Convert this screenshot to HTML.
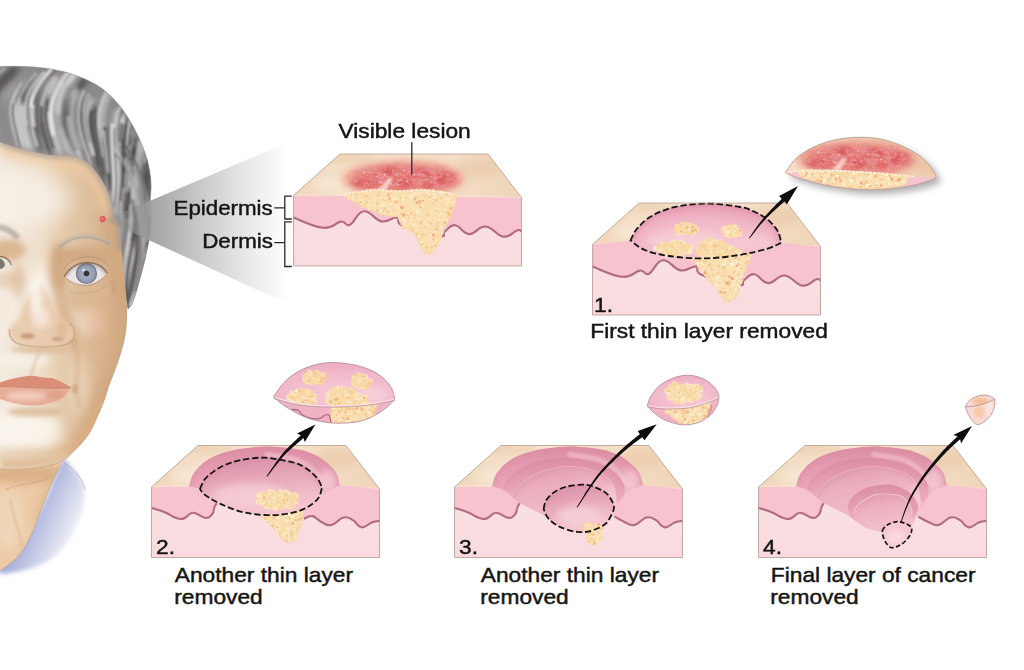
<!DOCTYPE html>
<html><head><meta charset="utf-8"><title>Mohs surgery</title>
<style>
html,body{margin:0;padding:0;background:#fff;}
svg{display:block;}
text{font-family:"Liberation Sans",sans-serif;font-size:20.3px;fill:#151515;}
</style></head><body>
<svg width="1024" height="670" viewBox="0 0 1024 670">
<defs>
<filter id="rough" x="-10%" y="-10%" width="120%" height="120%"><feTurbulence type="fractalNoise" baseFrequency="0.35" numOctaves="2" seed="4" result="n"/><feDisplacementMap in="SourceGraphic" in2="n" scale="4.5" xChannelSelector="R" yChannelSelector="G"/></filter>
<filter id="mottle" x="-10%" y="-20%" width="120%" height="140%"><feGaussianBlur in="SourceGraphic" stdDeviation="3.5" result="m"/><feTurbulence type="fractalNoise" baseFrequency="0.13 0.2" numOctaves="3" seed="11"/><feColorMatrix values="0 0 0 0 0.80  0 0 0 0 0.26  0 0 0 0 0.28  4.5 0 0 0 -1.9"/><feComposite in2="m" operator="in"/><feGaussianBlur stdDeviation="0.7"/></filter>
<filter id="mottle2" x="-10%" y="-20%" width="120%" height="140%"><feGaussianBlur in="SourceGraphic" stdDeviation="2.5" result="m"/><feTurbulence type="fractalNoise" baseFrequency="0.3 0.4" numOctaves="2" seed="3"/><feColorMatrix values="0 0 0 0 0.98  0 0 0 0 0.86  0 0 0 0 0.82  3 0 0 0 -1.85"/><feComposite in2="m" operator="in"/><feGaussianBlur stdDeviation="0.4"/></filter>
<filter id="b05" filterUnits="userSpaceOnUse" x="-300" y="-300" width="1700" height="1300"><feGaussianBlur stdDeviation="0.5"/></filter>
<filter id="b1" filterUnits="userSpaceOnUse" x="-300" y="-300" width="1700" height="1300"><feGaussianBlur stdDeviation="1"/></filter>
<filter id="b15" filterUnits="userSpaceOnUse" x="-300" y="-300" width="1700" height="1300"><feGaussianBlur stdDeviation="1.5"/></filter>
<filter id="b2" filterUnits="userSpaceOnUse" x="-300" y="-300" width="1700" height="1300"><feGaussianBlur stdDeviation="2"/></filter>
<filter id="b3" filterUnits="userSpaceOnUse" x="-300" y="-300" width="1700" height="1300"><feGaussianBlur stdDeviation="3.5"/></filter>
<filter id="b6" filterUnits="userSpaceOnUse" x="-300" y="-300" width="1700" height="1300"><feGaussianBlur stdDeviation="6"/></filter>
<filter id="b10" filterUnits="userSpaceOnUse" x="-300" y="-300" width="1700" height="1300"><feGaussianBlur stdDeviation="10"/></filter>
<linearGradient id="cone" gradientUnits="userSpaceOnUse" x1="105" y1="0" x2="295" y2="0">
<stop offset="0" stop-color="#8a8a8a" stop-opacity=".2"/>
<stop offset=".12" stop-color="#8e8e8e" stop-opacity=".45"/>
<stop offset=".24" stop-color="#9a9a9a" stop-opacity=".9"/>
<stop offset=".5" stop-color="#c6c6c6" stop-opacity=".95"/>
<stop offset=".74" stop-color="#e6e6e6" stop-opacity=".95"/>
<stop offset=".9" stop-color="#f7f7f7" stop-opacity=".9"/>
<stop offset="1" stop-color="#ffffff" stop-opacity="0"/>
</linearGradient>
<linearGradient id="derm" x1="0" y1="0" x2="0" y2="1">
<stop offset="0" stop-color="#f9dfe3"/><stop offset="1" stop-color="#f9dbdf"/>
</linearGradient>
<linearGradient id="tan" gradientUnits="userSpaceOnUse" x1="0" y1="0" x2="228" y2="0">
<stop offset="0" stop-color="#f0d6bb"/><stop offset=".3" stop-color="#f6e5d0"/><stop offset=".7" stop-color="#f3dec6"/><stop offset="1" stop-color="#efd5b9"/>
</linearGradient>
<clipPath id="topclip"><polygon points="47,0 195,0 228.5,43.5 0.5,41.5"/></clipPath>
<marker id="ah" viewBox="0 0 10 10" refX="6" refY="5" markerWidth="4.6" markerHeight="4.6" orient="auto"><path d="M0,0L10,5L0,10L3,5Z" fill="#111"/></marker>

<clipPath id="t0"><path d="M51,40.5C51.8,38.7 61,38.6 66,37.8C71,37 76.2,35.9 81,35.7C85.8,35.5 90.3,36.4 95,36.6C99.7,36.8 103.3,37.1 109,37C114.7,36.9 122.8,35.6 129,35.7C135.2,35.8 140.7,36.8 146,37.5C151.3,38.2 158.2,38.5 161,40.2C163.8,42 163.4,44.4 162.7,48C162,51.6 159.1,57 157,62C154.9,67 151.8,73.6 150,77.8C148.2,82 147.3,84.1 146,87C144.7,89.9 144,92.9 142.3,95C140.6,97.1 138.1,99.5 136,99.8C133.9,100.1 131.5,98.6 129.8,96.6C128.1,94.6 127.3,90.6 126,88C124.7,85.4 123.5,82.9 122,81C120.5,79.1 118.8,77.5 117,76.5C115.2,75.5 112.7,76.1 111,74.7C109.3,73.3 108,69.8 107,68C106,66.2 106.4,64.7 104.7,63.7C103,62.8 99.6,62.8 97,62.3C94.4,61.8 92.9,61.9 89,60.6C85.1,59.3 78.1,56.3 73.4,54.3C68.7,52.3 64.7,50.8 61,48.5C57.3,46.2 50.2,42.3 51,40.5Z"/></clipPath>

<linearGradient id="wall" x1="0" y1="0" x2="0" y2="1">
<stop offset="0" stop-color="#dc8fa6"/><stop offset=".45" stop-color="#e6a0b3"/><stop offset="1" stop-color="#f0b6c4"/>
</linearGradient>
<linearGradient id="floor" x1="0" y1="0" x2="0" y2="1">
<stop offset="0" stop-color="#eca8ba"/><stop offset="1" stop-color="#f5c3ce"/>
</linearGradient>
<linearGradient id="floorB" x1="0.3" y1="0" x2="0.6" y2="1">
<stop offset="0" stop-color="#e09cb0"/><stop offset=".3" stop-color="#ecb0c0"/><stop offset="1" stop-color="#f4c4cf"/>
</linearGradient>
<radialGradient id="floor1" cx=".5" cy=".75" r=".7">
<stop offset="0" stop-color="#f6c9d3"/><stop offset=".6" stop-color="#f2bac8"/><stop offset="1" stop-color="#e9a2b5"/>
</radialGradient>
<linearGradient id="floor2" x1="0.3" y1="0" x2="0.6" y2="1">
<stop offset="0" stop-color="#d98fa6"/><stop offset=".4" stop-color="#e7a9ba"/><stop offset=".8" stop-color="#f2c0cc"/><stop offset="1" stop-color="#f5c8d2"/>
</linearGradient>

<clipPath id="c1"><path d="M38.5,37.5C39.4,35.8 41.2,30.6 44,27C46.8,23.4 50.9,19.1 55.2,15.9C59.5,12.7 64.4,10.2 70,8C75.6,5.8 80.8,4 88.7,2.8C96.6,1.6 107.4,0.4 117.4,0.6C127.4,0.8 140.9,2.6 148.5,4C156.1,5.4 158.6,7 163,9C167.4,11 171.6,13.6 174.8,15.9C178,18.2 180,20.6 182,23C184,25.4 185.6,27.5 186.8,30.3C188,33.1 188.8,38.2 189.2,39.8C186.8,40.8 181.6,43.8 174.8,45.8C168,47.8 158.9,50.2 148.5,51.8C138.1,53.4 124.6,55.2 112.6,55.4C100.6,55.6 86.7,54.4 76.7,53C66.7,51.6 59.2,49.6 52.8,47C46.4,44.4 40.9,39.1 38.5,37.5Z"/></clipPath>
<clipPath id="t1"><path d="M98,54.7C99.4,53.9 106.4,55.5 112.6,55.4C118.8,55.3 127.4,54.8 135,54C142.6,53.2 154.2,50 158,50.5C161.8,51 158,54.9 157.5,57C157,59.1 156.2,59.7 155,63C153.8,66.3 151.5,72.8 150,77C148.5,81.2 147.1,85 146,88C144.9,91 145.3,93.1 143.7,94.9C142.1,96.7 138.6,98.5 136.5,98.8C134.4,99.1 132.6,98.1 131,96.5C129.4,94.9 128.1,90.9 127,89C125.9,87.1 126.1,86.9 124.6,85.3C123.1,83.7 120,81.5 118,79.5C116,77.5 114.3,75.4 112.6,73.3C110.9,71.2 109.4,69.2 108,67C106.6,64.8 105.7,62 104,60C102.3,58 96.6,55.5 98,54.7Z"/></clipPath>
<clipPath id="cO"><path d="M38.3,40.9C38.8,39.2 39.6,34 41,31C42.4,28 44.3,25.6 46.6,23C48.9,20.4 51.8,17.7 55,15.5C58.2,13.3 61.6,11.5 65.8,9.8C70,8.1 75.2,6.5 80,5.3C84.8,4.1 88.1,3.4 94.5,2.7C100.9,2 109.6,0.8 118.4,1C127.2,1.2 140.2,2.8 147.1,3.9C154,5 156,6.2 160,7.8C164,9.4 167.8,11.3 171,13.4C174.2,15.5 177.1,18.1 179.5,20.5C181.9,22.9 183.8,24.6 185.4,27.8C187,31 188.4,37.7 189,39.7L172,48C171,49 169.9,51.3 166.2,54.1C162.4,56.9 156.7,62.3 149.5,64.9C142.3,67.5 132.4,69.2 123.2,69.6C114,70 103.3,69 94.5,67.2C85.7,65.4 77.4,61.9 70.6,58.9C63.8,55.9 57.4,51.9 53.8,49.3C50.2,46.7 49.8,44.3 49,43.3Z"/></clipPath>
<clipPath id="cD2"><path d="M49,43.3C49.8,41.7 51.6,36.5 54,33.5C56.4,30.5 59.9,27.8 63.4,25.4C66.9,23 70.6,20.8 75,19C79.4,17.2 83.3,15.7 89.7,14.6C96.1,13.5 104.8,11.8 113.6,12.2C122.4,12.6 135.7,15.4 142.3,17C148.9,18.6 149.8,19.7 153,21.5C156.2,23.3 159.1,25.6 161.5,27.8C163.9,30 165.9,32.1 167.5,34.5C169.1,36.9 170.4,40.8 171,42.1C170.2,44.1 169.8,50.3 166.2,54.1C162.6,57.9 156.7,62.3 149.5,64.9C142.3,67.5 132.4,69.2 123.2,69.6C114,70 103.3,69 94.5,67.2C85.7,65.4 77.4,61.9 70.6,58.9C63.8,55.9 57.4,51.9 53.8,49.3C50.2,46.7 49.8,44.3 49,43.3Z"/></clipPath>
<clipPath id="t2"><path d="M108.8,70C110.5,69.3 118,70 123.2,69.6C128.4,69.2 135.2,68.3 140,67.5C144.8,66.7 150.1,64.1 151.9,65C153.7,65.9 151.4,70.4 151,73C150.6,75.6 150.1,78.1 149.5,80.4C148.9,82.7 148.1,85 147.5,87C146.9,89 147,90.7 145.9,92.4C144.8,94.1 142.7,96.3 141,97C139.3,97.7 137.2,97.5 135.5,96.8C133.8,96.1 132.2,94.3 131,93C129.8,91.7 129.3,90.6 128,89C126.7,87.4 124.6,85.3 123,83.5C121.4,81.7 120.1,79.7 118.4,78C116.7,76.3 114.6,74.8 113,73.5C111.4,72.2 107.1,70.7 108.8,70Z"/></clipPath>
<clipPath id="cF2"><path d="M57.4,51.7C58.3,50.1 60.4,45 63,42C65.6,39 69.5,36.2 73,33.8C76.5,31.4 80,29.3 84,27.5C88,25.7 91.2,24.1 96.9,23C102.6,21.9 110.8,20.2 118.4,20.6C126,21 137,23.9 142.3,25.4C147.7,26.9 148.1,27.9 150.5,29.5C152.9,31.1 155.1,33.1 156.7,35C158.3,36.9 159.2,39 160,41C160.8,43 161.2,45.9 161.5,46.9L165,70L120,90L84.9,67.2Z"/></clipPath>
<clipPath id="cD3"><path d="M89.7,63.7C90,62.4 90.3,58.4 91.5,56C92.7,53.6 94.8,51.2 96.9,49.3C99,47.4 101.2,45.9 104,44.5C106.8,43.1 108.8,41.8 113.6,40.9C118.4,40 126.8,38.5 132.8,39.3C138.8,40.1 145.7,43.7 149.5,45.7C153.3,47.7 153.9,49.5 155.5,51.5C157.1,53.5 158.3,56 159.1,57.7C159.8,59.5 160,60.6 160,62C160,63.4 159.2,65.3 159.1,66C157.9,68 155.5,74.8 151.9,78C148.3,81.2 142.3,83.8 137.5,85.2C132.7,86.6 128.4,87 123.2,86.4C118,85.8 111.2,83.8 106.4,81.6C101.6,79.4 97.3,76.2 94.5,73.2C91.7,70.2 90.5,65.3 89.7,63.7Z"/></clipPath>
<clipPath id="t3"><path d="M131,78.5C132,77.2 134.5,76.9 136,77C137.5,77.1 138.5,78.8 140,79C141.5,79.2 143.5,77.5 145,78C146.5,78.5 148.7,80.5 149,82C149.3,83.5 147,85.3 147,87C147,88.7 149.3,90.5 149,92C148.7,93.5 146.5,94.8 145,96C143.5,97.2 141.7,99.2 140,99.5C138.3,99.8 136.3,99.1 135,98C133.7,96.9 132.3,94.5 132,93C131.7,91.5 133.3,90.3 133,89C132.7,87.7 130.3,86.8 130,85C129.7,83.2 130,79.8 131,78.5Z"/></clipPath>
<clipPath id="cF3"><path d="M94.5,68.4C95.2,67 97,62.4 99,60C101,57.6 103.9,55.8 106.4,54.1C108.9,52.4 111.2,51 114,50C116.8,49 118.9,48.2 123.2,48.1C127.5,48 135.9,48.5 139.9,49.3C143.9,50.1 145,51.4 147,53C149,54.6 150.7,57.1 151.9,58.9C153.1,60.6 153.6,61.9 154,63.5C154.4,65.1 154.2,67.6 154.3,68.4L156,80L130,92L100,78Z"/></clipPath>
<clipPath id="cD4"><path d="M124.4,85.2C124.8,83.2 126.5,81.7 128,80.4C129.5,79.1 131.5,78.2 133.5,77.5C135.5,76.8 137.6,76 139.9,76.1C142.2,76.2 145.3,77.1 147.5,78C149.7,78.9 152.1,80.3 153.1,81.6C154.1,82.9 153.7,84.6 153.5,86C153.3,87.4 152.9,88.4 151.9,90C150.9,91.6 149.1,93.9 147.5,95.5C145.9,97.1 144,98.5 142.3,99.5C140.6,100.5 139.1,101.2 137.5,101.6C135.9,102 134.3,102.6 132.8,102C131.3,101.4 129.7,99.6 128.5,98C127.3,96.4 126.3,94.5 125.6,92.4C124.9,90.3 124,87.2 124.4,85.2Z"/></clipPath>

<radialGradient id="s2top" cx=".55" cy=".7" r=".8"><stop offset="0" stop-color="#f6cbd8"/><stop offset=".6" stop-color="#f1b9cb"/><stop offset="1" stop-color="#eaa7bd"/></radialGradient>
<linearGradient id="s2side" x1="0" y1="0" x2="0" y2="1"><stop offset="0" stop-color="#f3c0cd"/><stop offset="1" stop-color="#eeb0c1"/></linearGradient>

<clipPath id="s1"><path d="M785.2,172.5C787,170.2 791.9,162.4 796.1,158.4C800.3,154.4 804.9,151.5 810.2,148.7C815.5,145.9 821.9,143.4 827.7,141.7C833.6,139.9 839.4,138.9 845.3,138.2C851.2,137.5 857,137.2 862.9,137.3C868.8,137.5 874.6,137.9 880.5,139.1C886.4,140.3 892.1,142 898,144.3C903.9,146.6 910.6,149.9 915.6,153.1C920.6,156.3 924.7,160.2 927.9,163.7C931.1,167.2 933.7,171.9 935,174.2C936.3,176.5 935.7,177.1 935.8,177.7C934.5,178.3 932.7,179.7 927.9,181.2C923.1,182.7 914.7,185.1 906.8,186.5C898.9,187.9 889.3,189.1 880.5,189.5C871.7,189.9 862.9,189.8 854.1,189.2C845.3,188.5 835.6,187.1 827.7,185.6C819.8,184.1 812.5,182 806.6,180.4C800.8,178.8 796.2,177.3 792.6,176C789,174.7 786.4,173.1 785.2,172.5Z"/></clipPath><clipPath id="s1t"><path d="M785.2,172.5C787,170.2 791.9,162.4 796.1,158.4C800.3,154.4 804.9,151.5 810.2,148.7C815.5,145.9 821.9,143.4 827.7,141.7C833.6,139.9 839.4,138.9 845.3,138.2C851.2,137.5 857,137.2 862.9,137.3C868.8,137.5 874.6,137.9 880.5,139.1C886.4,140.3 892.1,142 898,144.3C903.9,146.6 910.6,149.9 915.6,153.1C920.6,156.3 924.7,160.2 927.9,163.7C931.1,167.2 933.7,171.9 935,174.2C936.3,176.5 935.7,177.1 935.8,177.7C931,177.4 916,176.7 906.8,176C897.6,175.3 890.8,174.1 880.5,173.3C870.2,172.5 857,171.6 845.3,171.1C833.6,170.6 820.2,170.2 810.2,170.4C800.2,170.6 789.4,172.2 785.2,172.5Z"/></clipPath>
<clipPath id="ts1"><path d="M798,171L810.2,170.4L845.3,171.1L880.5,173.3L908.6,176.2L906,184.5L895,186.8L880.5,188.8L854.1,188.5L827.7,184.8L810,180.2L800,176Z"/></clipPath>
<clipPath id="s2"><path d="M273.5,397.2C274.8,395.2 278.3,389.1 281.4,385.5C284.5,381.9 288.2,378.2 292.3,375.3C296.4,372.4 301.4,369.7 306,367.8C310.6,365.9 315.1,364.6 319.7,363.7C324.3,362.8 328.8,362.6 333.4,362.6C337.9,362.6 342.4,363.1 347,363.7C351.6,364.3 356.1,365 360.7,366.4C365.3,367.8 370.3,369.6 374.4,371.9C378.5,374.2 382.3,377.1 385.3,380C388.3,382.9 390.6,386.4 392.2,389.6C393.8,392.8 394.4,397.6 394.9,399.2C393.5,400.6 390.1,404.7 386.7,407.4C383.3,410.1 378.7,413.3 374.4,415.6C370.1,417.9 365.7,419.9 360.7,421.1C355.7,422.4 350,422.9 344.3,423.1C338.6,423.3 332.4,423.3 326.5,422.5C320.6,421.7 314.1,420.1 308.8,418.4C303.6,416.7 299.3,414.5 295,412.2C290.7,409.9 286.4,407.2 282.8,404.7C279.2,402.2 275.1,398.4 273.5,397.2Z"/></clipPath><clipPath id="s2t"><path d="M273.5,397.2C274.8,395.2 278.3,389.1 281.4,385.5C284.5,381.9 288.2,378.2 292.3,375.3C296.4,372.4 301.4,369.7 306,367.8C310.6,365.9 315.1,364.6 319.7,363.7C324.3,362.8 328.8,362.6 333.4,362.6C337.9,362.6 342.4,363.1 347,363.7C351.6,364.3 356.1,365 360.7,366.4C365.3,367.8 370.3,369.6 374.4,371.9C378.5,374.2 382.3,377.1 385.3,380C388.3,382.9 390.6,386.4 392.2,389.6C393.8,392.8 394.4,397.6 394.9,399.2C391.5,399.9 381.2,402.3 374.4,403.3C367.6,404.3 360.7,404.9 353.9,405.4C347.1,405.8 340.2,406 333.4,406C326.6,406 319.8,406 312.9,405.4C306,404.8 298.9,404 292.3,402.6C285.7,401.2 276.6,398.1 273.5,397.2Z"/></clipPath>
<clipPath id="ts2"><path d="M330.6,406L353.9,405.4L377,403L374.4,415.6L360.7,421.1L344.3,423.1L331,422.6Z"/></clipPath>
<clipPath id="s3"><path d="M647.2,405.8C647.8,404.2 648.9,399.6 650.9,396.3C652.9,393 655.8,388.8 659.3,385.9C662.8,382.9 667.6,380.4 671.8,378.6C676,376.9 680.1,375.8 684.3,375.4C688.5,375 692.9,375.4 696.9,376.5C700.9,377.6 705.3,379.6 708.4,381.7C711.5,383.8 714,386.7 715.7,389C717.4,391.3 718.3,393.9 718.8,395.3C719.3,396.7 718.8,397 718.8,397.4C718.6,398.4 719,400.9 717.8,403.7C716.6,406.5 714.3,411.2 711.5,414.1C708.7,417.1 704.8,419.6 701,421.4C697.2,423.1 692.5,424.2 688.5,424.6C684.5,425 681.2,424.9 677,424C672.8,423.1 667.4,421.3 663.4,419.3C659.4,417.3 655.7,414.2 653,412C650.3,409.8 648.2,406.8 647.2,405.8Z"/></clipPath><clipPath id="s3t"><path d="M647.2,405.8C647.8,404.2 648.9,399.6 650.9,396.3C652.9,393 655.8,388.8 659.3,385.9C662.8,382.9 667.6,380.4 671.8,378.6C676,376.9 680.1,375.8 684.3,375.4C688.5,375 692.9,375.4 696.9,376.5C700.9,377.6 705.3,379.6 708.4,381.7C711.5,383.8 714,386.7 715.7,389C717.4,391.3 718.3,393.9 718.8,395.3C719.3,396.7 718.8,397 718.8,397.4C717.1,398.1 712.8,400.1 708.4,401.6C704,403.1 697.9,405.3 692.7,406.3C687.5,407.3 682.2,407.6 677,407.8C671.8,408.1 666.3,408.1 661.3,407.8C656.3,407.5 649.6,406.1 647.2,405.8Z"/></clipPath>
<clipPath id="ts3"><path d="M664.5,408.9C665.3,407.4 672.3,408.2 677,407.8C681.7,407.4 687.1,407.3 692.7,406.3C698.3,405.3 708,400.7 710.5,402C713,403.3 709.6,410.8 708,414C706.4,417.2 704.2,419.6 701,421.4C697.8,423.2 692,424.3 688.5,424.6C685,424.9 682.8,424.3 680,423C677.2,421.7 674.6,419.4 672,417C669.4,414.6 663.7,410.4 664.5,408.9Z"/></clipPath>
<clipPath id="s4"><path d="M965.3,406.6C966,405.6 967.7,402.3 969.4,400.7C971.1,399.1 973.2,397.8 975.4,396.9C977.6,396 980.3,395.2 982.8,395.1C985.3,395 988.3,395.5 990.3,396.2C992.3,396.9 994,398.7 994.8,399.2C994.8,400.1 995.2,402.3 994.8,404.4C994.4,406.5 993.8,409.4 992.5,411.9C991.2,414.4 989.4,417.2 987.3,419.3C985.2,421.4 981.9,423.4 979.9,424.2C977.9,424.9 977,424.9 975.4,423.8C973.8,422.7 971.5,419.9 970.1,417.8C968.7,415.7 967.6,413 966.8,411.1C966,409.2 965.5,407.4 965.3,406.6Z"/></clipPath>

<clipPath id="fclip"><rect x="0" y="0" width="200" height="670"/></clipPath>
<linearGradient id="collar" gradientUnits="userSpaceOnUse" x1="40" y1="500" x2="95" y2="525">
<stop offset="0" stop-color="#aab1da"/><stop offset=".3" stop-color="#c6cbe6"/><stop offset=".65" stop-color="#e6e8f3"/><stop offset="1" stop-color="#ffffff"/>
</linearGradient>
<linearGradient id="skin" gradientUnits="userSpaceOnUse" x1="0" y1="0" x2="130" y2="0">
<stop offset="0" stop-color="#f3ebe0"/><stop offset=".3" stop-color="#efdfcb"/><stop offset=".5" stop-color="#e4c9aa"/><stop offset=".75" stop-color="#dcba96"/><stop offset="1" stop-color="#d2ac86"/>
</linearGradient>
<radialGradient id="iris" cx=".5" cy=".5" r=".5"><stop offset="0" stop-color="#7f8799"/><stop offset=".35" stop-color="#a3acbe"/><stop offset=".8" stop-color="#929bb0"/><stop offset="1" stop-color="#666e82"/></radialGradient>

<clipPath id="neckc"><path d="M0,440C11.7,440 59.9,436 70,440C80.2,444 64.1,456.4 60.9,464C57.7,471.6 54.1,477.9 50.7,485.7C47.3,493.5 44,502.6 40.6,511C37.2,519.5 34.2,528.8 30.4,536.4C26.6,544 22.9,551 17.8,556.7C12.7,562.4 3,568.4 0,570.7Z"/></clipPath>
<clipPath id="facec"><path d="M0,130C18.7,130 92.7,118.3 112,130C131.3,141.7 114.8,184.2 116,200C117.2,215.8 118,216.7 119,225C120,233.3 120.9,241.5 121.8,250C122.7,258.5 123.4,266.8 124.3,276C125.2,285.2 126.7,295.7 126.9,305C127.1,314.3 126.6,324.2 125.6,332C124.6,339.8 122.9,345.3 121,352C119.1,358.7 116.2,366.5 114.2,372C112.2,377.5 110.8,380.2 109.1,385C107.4,389.8 106.1,395.4 104,401C101.9,406.6 98.9,413.2 96.4,418.7C93.9,424.2 92.2,428.8 88.8,433.9C85.4,438.9 80.8,444.4 76.1,449C71.4,453.6 67.2,458.7 60.9,461.8C54.5,464.9 45.6,466.2 38,467.5C30.4,468.8 21.5,469.4 15.2,469.6C8.9,469.8 2.5,468.7 0,468.5Z"/></clipPath>
<clipPath id="eyec"><path d="M65,276C70,266 80,262.5 88,263C98,263.5 104,268 106.5,273.5C100,281 92,285 84,284.5C75,284 69,281 65,276Z"/></clipPath>
<clipPath id="hairc"><path d="M0,66.5C4.2,66.5 16.5,66.1 25,66.5C33.5,66.9 42.2,67.5 50.7,69C59.2,70.5 67.5,72.2 76,75.4C84.5,78.6 93.9,82.5 101.5,88C109.1,93.5 115.9,100.8 121.8,108.4C127.7,116 132.8,125.3 137,133.7C141.2,142.1 144.7,150.9 147,159C149.3,167.1 150.4,174.8 151,182C151.6,189.2 150.3,194.8 150.3,202C150.3,209.2 151.6,216.9 151,225C150.4,233.1 148.7,242.2 147,250.7C145.3,259.2 143.1,267.5 140.8,276C138.5,284.5 135.3,296 133.2,301.5C131.1,307 128.9,307.8 128,309C127.8,307.8 127.5,307 126.9,301.5C126.3,296 125.2,284.5 124.3,276C123.4,267.5 122.7,259.2 121.8,250.7C120.9,242.2 120.3,230.9 119,225C117.7,219.1 115.7,220.1 114,215C112.3,209.9 111.1,200.5 109,194.6C106.9,188.7 104.9,184.5 101.5,179.4C98.1,174.3 93.5,167.8 88.8,164C84.1,160.2 79.9,158.1 73.6,156.6C67.2,155.1 58.8,156.1 50.7,155C42.6,153.9 33.5,152.1 25,150C16.5,147.9 4.2,143.8 0,142.6Z"/></clipPath></defs>
<rect width="1024" height="670" fill="#ffffff"/>
<g clip-path="url(#fclip)"><path d="M62,461C66.5,455.7 69,465.2 72,468C75,470.8 77.9,474.3 80,478C82.1,481.7 84,485 84.5,490C85,495 84.4,501.8 83,508C81.6,514.2 79.2,520.7 76,527C72.8,533.3 68.7,540.3 64,546C59.3,551.7 54.5,557 48,561C41.5,565 33,568 25,570C17,572 4.2,574.7 0,573C-4.2,571.3 -3.3,564.7 0,560C3.3,555.3 12.5,555 20,545C27.5,535 38,514 45,500C52,486 57.5,466.3 62,461Z" fill="url(#collar)" filter="url(#b2)"/><path d="M63,462C75,470 82,478 85,490" fill="none" stroke="#a9a4a8" stroke-width=".6"/><path d="M0,440C11.7,440 59.9,436 70,440C80.2,444 64.1,456.4 60.9,464C57.7,471.6 54.1,477.9 50.7,485.7C47.3,493.5 44,502.6 40.6,511C37.2,519.5 34.2,528.8 30.4,536.4C26.6,544 22.9,551 17.8,556.7C12.7,562.4 3,568.4 0,570.7Z" fill="#edcaa6"/><g clip-path="url(#neckc)"><ellipse cx="25" cy="474" rx="48" ry="9" fill="#d8ae84" opacity=".85" filter="url(#b3)"/><ellipse cx="48" cy="500" rx="8" ry="30" fill="#dcb88f" opacity=".7" filter="url(#b3)" transform="rotate(20 48 500)"/><ellipse cx="8" cy="520" rx="16" ry="30" fill="#f0dcc2" opacity=".7" filter="url(#b6)"/><path d="M5,490C20,482 35,486 52,476" fill="none" stroke="#caa27c" stroke-width="1.2" opacity=".6" filter="url(#b05)"/><path d="M10,500C14,520 20,530 22,548" fill="none" stroke="#d4ae88" stroke-width="2" opacity=".5" filter="url(#b1)"/></g><path d="M60.9,464C59.2,467.6 54.1,477.9 50.7,485.7C47.3,493.5 44,502.6 40.6,511C37.2,519.5 34.2,528.8 30.4,536.4C26.6,544 22.9,551 17.8,556.7C12.7,562.4 3,568.4 0,570.7" fill="none" stroke="#b99a7e" stroke-width=".7" opacity=".8"/><path d="M0,130C18.7,130 92.7,118.3 112,130C131.3,141.7 114.8,184.2 116,200C117.2,215.8 118,216.7 119,225C120,233.3 120.9,241.5 121.8,250C122.7,258.5 123.4,266.8 124.3,276C125.2,285.2 126.7,295.7 126.9,305C127.1,314.3 126.6,324.2 125.6,332C124.6,339.8 122.9,345.3 121,352C119.1,358.7 116.2,366.5 114.2,372C112.2,377.5 110.8,380.2 109.1,385C107.4,389.8 106.1,395.4 104,401C101.9,406.6 98.9,413.2 96.4,418.7C93.9,424.2 92.2,428.8 88.8,433.9C85.4,438.9 80.8,444.4 76.1,449C71.4,453.6 67.2,458.7 60.9,461.8C54.5,464.9 45.6,466.2 38,467.5C30.4,468.8 21.5,469.4 15.2,469.6C8.9,469.8 2.5,468.7 0,468.5Z" fill="url(#skin)"/><g clip-path="url(#facec)"><path d="M0,146C30,152 60,156 80,160C100,168 108,190 114,215" fill="none" stroke="#eec9a2" stroke-width="22" opacity=".8" filter="url(#b6)"/><path d="M112,215C122,260 126,310 120,350C112,390 100,420 80,448" fill="none" stroke="#cfa67e" stroke-width="26" opacity=".75" filter="url(#b6)"/><ellipse cx="100" cy="330" rx="18" ry="40" fill="#d9b38c" opacity=".55" filter="url(#b10)"/><ellipse cx="20" cy="200" rx="50" ry="28" fill="#f7f1e8" opacity=".8" filter="url(#b10)"/><ellipse cx="40" cy="300" rx="9" ry="36" fill="#fbf7f1" opacity=".9" filter="url(#b6)"/><ellipse cx="6" cy="310" rx="14" ry="30" fill="#f5ece0" opacity=".8" filter="url(#b6)"/><ellipse cx="85" cy="320" rx="14" ry="16" fill="#f0dfca" opacity=".7" filter="url(#b6)"/><ellipse cx="20" cy="360" rx="30" ry="9" fill="#f7f0e6" opacity=".8" filter="url(#b3)"/><ellipse cx="25" cy="430" rx="36" ry="20" fill="#faf5ee" opacity=".9" filter="url(#b6)"/><ellipse cx="78" cy="385" rx="10" ry="30" fill="#efdcc6" opacity=".6" filter="url(#b6)"/><ellipse cx="86" cy="256" rx="27" ry="9" fill="#cfa67f" opacity=".85" filter="url(#b3)"/><ellipse cx="90" cy="300" rx="24" ry="12" fill="#d9b38e" opacity=".6" filter="url(#b6)"/><ellipse cx="59" cy="266" rx="9" ry="24" fill="#cfa57c" opacity=".85" filter="url(#b3)"/><ellipse cx="88" cy="292" rx="22" ry="6" fill="#dcb994" opacity=".6" filter="url(#b3)"/><ellipse cx="7" cy="250" rx="19" ry="11" fill="#d8ae86" opacity=".85" filter="url(#b3)"/><ellipse cx="8" cy="280" rx="14" ry="8" fill="#e0bf9c" opacity=".6" filter="url(#b3)"/><ellipse cx="18" cy="280" rx="6" ry="18" fill="#dcbc98" opacity=".6" filter="url(#b3)"/><path d="M62,262C56,285 60,305 68,322C74,332 76,340 72,346" fill="none" stroke="#d2aa84" stroke-width="9" opacity=".7" filter="url(#b3)"/><path d="M9.5,331C9,338 14,343.5 24,344.5C34,346 44,346.5 54,345.5C66,344.5 74,341 74.5,334C74,326 68,320 60,318C50,300 46,290 42,285C30,290 22,305 20,318C14,322 10,326 9.5,331Z" fill="#e9cbae" opacity=".95" filter="url(#b2)"/><ellipse cx="41" cy="318" rx="9" ry="10" fill="#f7e6dc" opacity=".95" filter="url(#b3)"/><ellipse cx="36" cy="296" rx="6" ry="20" fill="#fbf6f0" opacity=".9" filter="url(#b3)"/><ellipse cx="27.5" cy="336" rx="7" ry="2.8" fill="#bf8f70" opacity=".8" filter="url(#b1)"/><ellipse cx="57.5" cy="339" rx="6" ry="2.4" fill="#c4977a" opacity=".7" filter="url(#b1)"/><path d="M9.5,329C8.5,338 14,344 26,345.5C38,347.5 52,347.5 62,345.5C70,344 75.5,340 74.5,332C74,328 72,325 69,323" fill="none" stroke="#c9a07c" stroke-width="1.5" opacity=".75" filter="url(#b05)"/><ellipse cx="40" cy="349.5" rx="30" ry="3.5" fill="#d7b591" opacity=".75" filter="url(#b2)"/><ellipse cx="62" cy="330" rx="6" ry="9" fill="#dcb893" opacity=".7" filter="url(#b2)"/><ellipse cx="98" cy="322" rx="10" ry="14" fill="#e6b79b" opacity=".6" filter="url(#b6)"/><path d="M40,351C36,360 33,368 31,375" fill="none" stroke="#dcc0a2" stroke-width="3" opacity=".6" filter="url(#b1)"/><path d="M73,341C78,352 79,368 76,388C76,396 78,402 80,408" fill="none" stroke="#cda57e" stroke-width="3.5" opacity=".6" filter="url(#b2)"/><path d="M0,382.4C10,379 20,376.5 29.3,375.7C36,375.5 42,378 52.2,378C60,381 66,384 71,387.6C60,388.5 45,388.2 34,387.8C20,387 10,386.6 0,386.6Z" fill="#da8e77"/><path d="M0,386.6C10,386.6 20,387 34,387.8C45,388.2 60,388.5 71,387.6C68,393 64,397.5 56,401C48,404.5 40,405.8 31.3,405.4C20,405 8,402 0,399Z" fill="#e7ae99"/><ellipse cx="26" cy="396" rx="20" ry="4.5" fill="#f3d0c2" opacity=".85" filter="url(#b2)"/><ellipse cx="56" cy="395" rx="9" ry="4" fill="#dc967e" opacity=".6" filter="url(#b2)"/><path d="M0,386.6C10,386.6 20,387 34,387.8C45,388.2 60,388.5 71,387.6" fill="none" stroke="#c47a66" stroke-width="1" opacity=".85" filter="url(#b05)"/><ellipse cx="34" cy="412" rx="27" ry="4.5" fill="#d6b08c" opacity=".7" filter="url(#b2)"/><ellipse cx="75" cy="389" rx="3" ry="5" fill="#c9a07a" opacity=".6" filter="url(#b1)"/><path d="M0,464C30,466 55,460 76,446C90,430 98,413 104,398" fill="none" stroke="#dcae82" stroke-width="11" opacity=".8" filter="url(#b3)"/><ellipse cx="30" cy="455" rx="40" ry="7" fill="#e4c8a8" opacity=".7" filter="url(#b3)"/></g><path d="M65,276C70,266 80,262.5 88,263C98,263.5 104,268 106.5,273.5C100,281 92,285 84,284.5C75,284 69,281 65,276Z" fill="#ebe6e4"/><g clip-path="url(#eyec)"><circle cx="86.5" cy="273.5" r="10.6" fill="url(#iris)"/><circle cx="86.5" cy="273.5" r="2.8" fill="#37323c"/><circle cx="83.5" cy="270" r="1.5" fill="#e8ecf4" opacity=".8"/><path d="M65,276C70,266 80,262.5 88,263C98,263.5 104,268 106.5,273.5" fill="none" stroke="#7a6658" stroke-width="5" opacity=".35" filter="url(#b1)"/></g><path d="M64,277C70,266 80,262 88,262.5C98,263 104.5,267.5 107.5,273.5" fill="none" stroke="#8a6d5a" stroke-width="1.5" opacity=".9"/><path d="M63,270C70,259 82,255.5 92,257C100,258 106,262 109,267" fill="none" stroke="#b08e72" stroke-width="1" opacity=".7" filter="url(#b05)"/><path d="M67,279C74,284.5 82,286 88,285.5C96,284.5 102,280 106.5,274.5" fill="none" stroke="#b89880" stroke-width="1" opacity=".8"/><path d="M70,291C80,295 95,294 106,286" fill="none" stroke="#caa888" stroke-width="1.2" opacity=".6" filter="url(#b05)"/><path d="M109,270C113,276 115,284 114,294M110,280C113,285 113,292 111,298" fill="none" stroke="#bf9a78" stroke-width=".9" opacity=".6"/><g transform="translate(0,-5.5)"><path d="M0,263C4,263 8,265.5 10.5,270C8,273 4,275 0,275Z" fill="#e6e2dc"/><path d="M0,264C3,265 5,268 5,270.5C4,273 2,274.5 0,274.5Z" fill="#7d7966"/><path d="M0,262C4,262 9,264.5 11.5,270.5" fill="none" stroke="#8a6d5a" stroke-width="1.3" opacity=".85"/></g><path d="M58,248C66,240 76,236 86,236C96,236.5 105,240 112,244.5" fill="none" stroke="#b8b3ad" stroke-width="4" opacity=".6" filter="url(#b1)"/><path d="M60,247C68,240 78,237 87,237.5C96,238 104,241 110,244" fill="none" stroke="#9a948e" stroke-width="1.3" opacity=".45" filter="url(#b05)"/><path d="M-2,227C5,227.5 12,231 18,238" fill="none" stroke="#a7a19b" stroke-width="6" opacity=".7" filter="url(#b15)"/><path d="M0,66.5C4.2,66.5 16.5,66.1 25,66.5C33.5,66.9 42.2,67.5 50.7,69C59.2,70.5 67.5,72.2 76,75.4C84.5,78.6 93.9,82.5 101.5,88C109.1,93.5 115.9,100.8 121.8,108.4C127.7,116 132.8,125.3 137,133.7C141.2,142.1 144.7,150.9 147,159C149.3,167.1 150.4,174.8 151,182C151.6,189.2 150.3,194.8 150.3,202C150.3,209.2 151.6,216.9 151,225C150.4,233.1 148.7,242.2 147,250.7C145.3,259.2 143.1,267.5 140.8,276C138.5,284.5 135.3,296 133.2,301.5C131.1,307 128.9,307.8 128,309C127.8,307.8 127.5,307 126.9,301.5C126.3,296 125.2,284.5 124.3,276C123.4,267.5 122.7,259.2 121.8,250.7C120.9,242.2 120.3,230.9 119,225C117.7,219.1 115.7,220.1 114,215C112.3,209.9 111.1,200.5 109,194.6C106.9,188.7 104.9,184.5 101.5,179.4C98.1,174.3 93.5,167.8 88.8,164C84.1,160.2 79.9,158.1 73.6,156.6C67.2,155.1 58.8,156.1 50.7,155C42.6,153.9 33.5,152.1 25,150C16.5,147.9 4.2,143.8 0,142.6Z" fill="#8c8a8a"/><g clip-path="url(#hairc)"><g fill="none" filter="url(#b2)" stroke-linecap="round"><path d="M44,86.8C43.6,87.6 42.3,90 41.5,91.6C40.8,93.2 40.1,94.8 39.5,96.4C39,98.1 38.5,99.7 38.1,101.4C37.7,103.1 37.4,104.8 37.2,106.5C37,108.3 36.9,110 36.9,111.8C36.8,113.6 36.9,115.4 37,117.2C37.2,119 37.4,120.9 37.6,122.7C37.9,124.6 38.3,126.5 38.7,128.3C39,130.2 39.8,133.1 40,134" stroke="#444142" stroke-width="4.9" opacity="0.41"/><path d="M107.4,96C107.1,96.6 106.1,98.3 105.6,99.6C105,100.8 104.6,102.1 104.2,103.4C103.7,104.8 103.4,106.1 103.1,107.5C102.8,108.9 102.5,110.3 102.3,111.7C102.1,113.2 101.9,114.7 101.8,116.1C101.7,117.6 101.6,119.1 101.6,120.7C101.6,122.2 101.6,123.8 101.6,125.4C101.7,127 101.8,128.6 101.9,130.2C102.1,131.9 102.4,134.4 102.5,135.2" stroke="#f2f2f2" stroke-width="6.6" opacity="0.41"/><path d="M145.7,154.5C145.4,155.3 144.6,157.5 144.1,159.3C143.7,161.2 143.3,163.5 143,165.8C142.6,168 142.2,170.5 141.8,173C141.3,175.5 140.9,178.1 140.4,180.7C139.9,183.4 139.4,186.2 138.9,188.9C138.4,191.7 137.8,194.6 137.3,197.4C136.8,200.3 136.3,203.1 135.9,205.9C135.5,208.8 135.2,211.6 134.8,214.6C134.4,217.6 133.8,222.1 133.6,223.6" stroke="#5f5c5d" stroke-width="6.7" opacity="0.72"/><path d="M148,190C147.5,191.9 145.7,197.5 144.8,201.5C143.9,205.5 143.2,209.9 142.4,214.3C141.7,218.6 141.2,223.2 140.3,227.7C139.4,232.3 138.3,237 137.3,241.6C136.3,246.3 135.1,250.9 134.1,255.6C133.1,260.3 132.2,265 131.3,269.6C130.5,274.3 129.8,279 129.3,283.6C128.7,288.3 128.3,295.2 128.1,297.5" stroke="#5f5c5d" stroke-width="7.7" opacity="0.61"/><path d="M137.1,242C136.7,243.7 135.5,248.8 134.8,252.2C134.1,255.6 133.3,259 132.7,262.4C132,265.8 131.3,269.2 130.8,272.6C130.2,276 129.7,279.4 129.3,282.8C128.9,286.2 128.6,289.6 128.3,292.9C128.1,296.3 128,301.3 127.9,303" stroke="#444142" stroke-width="7.6" opacity="0.69"/><path d="M124.1,148.4C124,149.2 124,151.5 124,153.1C124,154.7 124,156.3 124,157.9C124,159.6 124,161.2 124,162.9C124,164.6 124,166.4 123.9,168.1C123.9,169.9 123.9,171.7 123.8,173.5C123.8,175.3 123.7,177.1 123.6,179C123.5,180.9 123.4,182.8 123.3,184.7C123.1,186.6 122.9,188.5 122.7,190.5C122.5,192.4 122.1,195.4 122,196.4" stroke="#5a5657" stroke-width="6.1" opacity="0.71"/><path d="M-23.7,76C-24.6,76.8 -27.4,79 -29.1,80.4C-30.8,81.9 -32.5,83.3 -34.1,84.7C-35.6,86.1 -37.1,87.6 -38.5,89C-39.8,90.4 -41.1,91.7 -42.3,93.1C-43.4,94.5 -44.4,95.9 -45.4,97.2C-46.3,98.6 -47.1,100 -47.7,101.3C-48.4,102.7 -49,104 -49.4,105.4C-49.9,106.7 -50.2,108.1 -50.4,109.4C-50.6,110.8 -50.7,112.8 -50.8,113.5" stroke="#676464" stroke-width="7.3" opacity="0.80"/><path d="M58,82.2C57.3,83.5 54.9,87.2 53.6,89.8C52.3,92.4 51.3,95 50.5,97.7C49.6,100.4 49,103.1 48.7,105.9C48.3,108.7 48.1,111.6 48.2,114.5C48.3,117.4 48.6,120.3 49,123.3C49.4,126.3 50,129.4 50.8,132.4C51.5,135.4 52.4,138.4 53.3,141.4C54.2,144.3 55.4,147.2 56.2,149.9C57.1,152.5 58.1,156.1 58.4,157.3" stroke="#e9e9e9" stroke-width="9.8" opacity="0.76"/><path d="M135.3,293.4C135,294.3 134.1,296.8 133.3,298.6C132.6,300.5 131.4,303.4 131,304.4" stroke="#4f4b4d" stroke-width="9.7" opacity="0.57"/><path d="M135,208.2C134.8,209.7 134.3,214.2 133.9,217.2C133.5,220.3 133.1,223.4 132.6,226.6C132.1,229.7 131.6,232.8 131.1,236C130.6,239.1 129.9,242.3 129.4,245.4C128.8,248.6 128.3,251.7 127.8,254.8C127.4,258 126.9,261.1 126.5,264.2C126.2,267.3 125.9,270.4 125.6,273.5C125.4,276.6 125.3,279.7 125.2,282.7C125.1,285.6 125.2,289.8 125.2,291.3" stroke="#e9e9e9" stroke-width="8.2" opacity="0.54"/><path d="M119,124.4C118.9,125.3 118.6,127.8 118.5,129.6C118.4,131.4 118.3,133.3 118.2,135.2C118.1,137.1 118.1,139.1 118.1,141.1C118.1,143.1 118.1,145.2 118.1,147.3C118.2,149.4 118.2,151.6 118.3,153.8C118.3,156 118.4,158.3 118.5,160.6C118.6,162.9 118.7,165.2 118.8,167.6C118.8,170 118.9,172.4 118.9,174.9C118.9,177.4 118.9,181.2 118.8,182.5" stroke="#e9e9e9" stroke-width="8.7" opacity="0.74"/><path d="M128.4,135.6C128.4,136.5 128.1,139.1 127.9,140.9C127.8,142.7 127.7,144.6 127.6,146.5C127.5,148.4 127.4,150.4 127.4,152.4C127.3,154.5 127.3,156.5 127.2,158.6C127.1,160.8 127.1,162.9 127,165.1C127,167.4 126.9,169.6 126.8,171.9C126.7,174.2 126.6,176.6 126.4,179C126.3,181.4 126,183.8 125.8,186.3C125.5,188.8 124.9,192.6 124.8,193.9" stroke="#c4c3c3" stroke-width="8.1" opacity="0.44"/><path d="M36.9,84.3C36.5,85 35.1,87 34.3,88.4C33.5,89.8 32.8,91.2 32.1,92.6C31.5,94.1 30.9,95.5 30.4,96.9C29.9,98.4 29.5,99.8 29.2,101.3C28.8,102.8 28.6,104.3 28.4,105.8C28.2,107.3 28.1,108.9 28,110.5C28,112 28,113.6 28.1,115.2C28.2,116.9 28.3,118.5 28.5,120.2C28.7,121.9 29.1,124.5 29.3,125.3" stroke="#5a5657" stroke-width="7.4" opacity="0.48"/><path d="M-7.6,94.3C-8.1,95.2 -9.6,98 -10.3,99.8C-11,101.7 -11.6,103.5 -11.9,105.4C-12.3,107.2 -12.5,109 -12.6,110.9C-12.7,112.8 -12.6,114.6 -12.5,116.5C-12.3,118.4 -12,120.3 -11.6,122.2C-11.2,124.1 -10.7,126 -10.2,127.9C-9.6,129.9 -9,131.8 -8.4,133.8C-7.8,135.8 -6.8,137.9 -6.6,139.8C-6.4,141.8 -7.1,144.6 -7.2,145.6" stroke="#e9e9e9" stroke-width="8" opacity="0.52"/><path d="M142.7,256.3C142.2,257.7 140.6,262.1 139.6,265.1C138.6,268.2 137.6,271.3 136.7,274.5C135.8,277.7 134.9,280.9 134.1,284.2C133.2,287.4 132.5,290.8 131.7,294.1C131,297.4 129.9,302.4 129.6,304" stroke="#e9e9e9" stroke-width="9.4" opacity="0.74"/><path d="M141.5,272.6C141,273.9 139.3,277.6 138.1,280.7C137,283.9 135.7,287.6 134.6,291.3C133.4,295 131.5,300.9 130.9,302.8" stroke="#5a5657" stroke-width="7.1" opacity="0.45"/><path d="M81.4,113.2C81.4,114.2 81.3,117.3 81.5,119.3C81.6,121.4 81.8,123.5 82.1,125.5C82.4,127.6 82.8,129.7 83.2,131.7C83.7,133.8 84.2,135.8 84.8,137.9C85.4,140.1 86.1,142.2 86.8,144.4C87.5,146.6 88.3,148.8 89,151.2C89.7,153.5 90.5,155.9 91.1,158.4C91.8,160.9 92.6,163.7 92.9,166.1C93.3,168.5 93.3,171.8 93.3,173" stroke="#5a5657" stroke-width="6.4" opacity="0.48"/><path d="M147.8,168.8C147.7,169.5 147.1,171.5 146.7,173C146.4,174.4 146,176 145.6,177.7C145.3,179.3 144.9,181 144.5,182.7C144.2,184.5 143.8,186.3 143.4,188.1C143,189.9 142.5,191.8 142.1,193.6C141.7,195.5 141.2,197.4 140.8,199.3C140.4,201.2 140.1,203 139.8,204.9C139.5,206.9 139.1,208.8 138.8,210.8C138.5,212.8 138.1,215.9 137.9,216.9" stroke="#e9e9e9" stroke-width="7.9" opacity="0.61"/><path d="M123.8,169.7C123.8,170.9 123.7,174.5 123.6,177C123.5,179.4 123.4,182 123.2,184.5C123,187.1 122.7,189.7 122.4,192.4C122.1,195 121.7,197.7 121.3,200.3C121,203 120.5,205.7 120.4,208.3C120.2,210.9 120.3,213.4 120.4,215.9C120.5,218.4 121,220.8 121,223.3C120.9,225.9 120.5,228.7 120.2,231.2C119.9,233.6 119.2,236.9 119,238" stroke="#5f5c5d" stroke-width="6.2" opacity="0.53"/><path d="M-13.2,107C-13.3,107.7 -13.6,109.8 -13.6,111.2C-13.7,112.5 -13.6,113.9 -13.5,115.3C-13.4,116.7 -13.3,118.1 -13.1,119.5C-12.8,120.9 -12.5,122.3 -12.2,123.7C-11.9,125.2 -11.5,126.6 -11.1,128C-10.7,129.5 -10.3,130.9 -9.9,132.4C-9.4,133.8 -9,135.3 -8.5,136.8C-8,138.3 -7.2,139.8 -7.1,141.2C-7.1,142.7 -8,144.8 -8.2,145.5" stroke="#444142" stroke-width="5.5" opacity="0.55"/><path d="M146.2,174.7C145.9,175.8 145.2,179.1 144.7,181.5C144.1,183.9 143.6,186.4 143,188.9C142.5,191.5 141.8,194.1 141.3,196.7C140.7,199.3 140.2,201.9 139.8,204.5C139.3,207.2 138.8,210 138.4,212.7C138,215.5 137.6,218.3 137.2,221.2C136.8,224 136.4,226.9 135.9,229.7C135.4,232.6 134.8,235.5 134.2,238.4C133.7,241.3 132.8,245.6 132.5,247.1" stroke="#5f5c5d" stroke-width="7" opacity="0.50"/><path d="M88.5,77.7C87.9,78.6 86.1,81.1 84.9,82.8C83.8,84.5 82.6,86.2 81.6,88C80.6,89.8 79.8,91.7 79,93.6C78.2,95.5 77.6,97.4 77,99.4C76.5,101.4 76,103.4 75.7,105.4C75.4,107.4 75.1,109.5 75,111.6C74.9,113.6 74.9,115.7 75,117.8C75.1,119.9 75.3,122.1 75.6,124.2C75.9,126.3 76.5,129.4 76.7,130.4" stroke="#5a5657" stroke-width="7.1" opacity="0.45"/><path d="M-8.1,81.2C-8.5,81.7 -10,83.2 -10.9,84.1C-11.9,85.1 -12.7,86.1 -13.6,87.1C-14.4,88 -15.2,89 -16,89.9C-16.7,90.9 -17.4,91.8 -18.1,92.8C-18.8,93.7 -19.4,94.7 -20,95.6C-20.5,96.6 -21,97.5 -21.5,98.5C-22,99.4 -22.4,100.4 -22.8,101.3C-23.2,102.3 -23.5,103.2 -23.8,104.1C-24.1,105.1 -24.4,106.5 -24.5,107" stroke="#c4c3c3" stroke-width="4.7" opacity="0.44"/><path d="M125.3,127.3C125.1,128.1 124.8,130.6 124.6,132.3C124.4,134 124.3,135.8 124.1,137.6C124,139.5 123.9,141.4 123.8,143.3C123.8,145.2 123.7,147.2 123.7,149.3C123.7,151.3 123.7,153.4 123.7,155.5C123.7,157.6 123.7,159.8 123.7,162C123.7,164.2 123.7,166.5 123.7,168.8C123.6,171.1 123.6,173.5 123.5,175.9C123.4,178.3 123.2,182 123.1,183.2" stroke="#cfcfcf" stroke-width="4.7" opacity="0.71"/><path d="M140.4,148C140.3,148.8 139.8,151.2 139.5,152.9C139.3,154.7 139.1,156.6 138.8,158.5C138.6,160.4 138.4,162.4 138.2,164.5C137.9,166.5 137.7,168.7 137.4,170.9C137.2,173 136.9,175.3 136.6,177.5C136.2,179.8 135.9,182.2 135.5,184.5C135.1,186.9 134.7,189.3 134.3,191.7C133.9,194.2 133.4,196.7 133,199.1C132.6,201.5 132.2,205.2 132,206.4" stroke="#dedede" stroke-width="7" opacity="0.68"/><path d="M144,149.3C143.7,150.4 142.6,153.1 142.1,155.6C141.6,158 141.2,161 140.8,164C140.4,167 140,170.2 139.5,173.5C139,176.8 138.4,180.3 137.8,183.8C137.2,187.3 136.5,191 135.9,194.6C135.3,198.3 134.6,201.9 134.1,205.6C133.6,209.3 133.4,213 132.9,216.8C132.5,220.6 131.9,224.5 131.4,228.4C130.8,232.3 129.7,238.3 129.4,240.2" stroke="#c4c3c3" stroke-width="9.4" opacity="0.46"/><path d="M12.5,73.6C11.9,74.2 10,76 8.8,77.2C7.6,78.4 6.4,79.6 5.3,80.8C4.2,82 3.2,83.2 2.1,84.4C1.1,85.6 0.2,86.8 -0.7,88C-1.6,89.2 -2.4,90.4 -3.2,91.6C-3.9,92.8 -4.6,93.9 -5.2,95.1C-5.8,96.3 -6.4,97.5 -6.9,98.7C-7.4,99.9 -7.8,101 -8.1,102.2C-8.5,103.4 -8.9,105.2 -9,105.8" stroke="#4f4b4d" stroke-width="9.2" opacity="0.62"/><path d="M27.9,110C27.9,110.8 27.8,113.2 27.9,114.9C28,116.5 28.1,118.2 28.3,119.9C28.5,121.7 28.8,123.5 29.1,125.2C29.4,127 29.7,128.8 30.1,130.6C30.5,132.3 31,134.1 31.4,135.9C31.9,137.7 32.4,139.5 32.9,141.3C33.4,143 33.9,144.8 34.4,146.6C34.9,148.3 35.8,150.2 35.9,151.8C36.1,153.5 35.5,155.8 35.4,156.6" stroke="#dedede" stroke-width="7.6" opacity="0.50"/><path d="M137.8,279C137.5,279.8 136.7,282.2 136.2,283.8C135.7,285.5 135.2,287.2 134.7,288.9C134.2,290.5 133.7,292.3 133.2,294C132.7,295.7 132.2,297.5 131.7,299.3C131.2,301 130.4,303.6 130.1,304.5" stroke="#5a5657" stroke-width="9.2" opacity="0.56"/><path d="M-35.9,97.6C-36.3,98.2 -37.4,100.1 -38.1,101.4C-38.7,102.7 -39.2,103.9 -39.6,105.2C-40,106.5 -40.3,107.7 -40.6,109C-40.8,110.3 -41,111.5 -41,112.8C-41.1,114.1 -41.1,115.4 -41,116.6C-41,117.9 -40.8,119.2 -40.6,120.5C-40.4,121.8 -40.2,123.1 -39.9,124.4C-39.6,125.7 -39.3,127 -38.9,128.3C-38.6,129.6 -38,131.6 -37.8,132.2" stroke="#676464" stroke-width="5.3" opacity="0.65"/><path d="M133.8,269.7C133.6,270.8 132.9,274.2 132.4,276.4C132,278.7 131.5,281 131.2,283.2C130.8,285.5 130.4,287.8 130.1,290C129.8,292.3 129.5,294.6 129.3,296.8C129,299 128.7,302.4 128.6,303.5" stroke="#676464" stroke-width="4.7" opacity="0.58"/><path d="M145.4,150.4C145,151 144,152.5 143.4,154.1C142.9,155.7 142.6,157.9 142.3,160C141.9,162.2 141.6,164.5 141.3,166.9C140.9,169.3 140.5,171.8 140.1,174.3C139.7,176.9 139.3,179.6 138.8,182.3C138.4,185 137.8,187.8 137.3,190.6C136.8,193.4 136.2,196.3 135.7,199.2C135.3,202 135,204.8 134.6,207.7C134.2,210.5 133.7,215 133.5,216.4" stroke="#5a5657" stroke-width="9.4" opacity="0.43"/><path d="M148.1,227.3C147.7,228.4 146.6,231.8 145.9,234.2C145.1,236.6 144.3,239.2 143.5,241.7C142.8,244.3 141.9,246.9 141.1,249.5C140.4,252.2 139.6,254.9 138.8,257.6C138,260.3 137.3,263.1 136.5,265.8C135.8,268.6 135.1,271.4 134.4,274.2C133.7,277 133.1,279.8 132.5,282.6C131.9,285.4 131.4,288.2 130.9,291.1C130.5,293.9 129.8,298.1 129.6,299.5" stroke="#676464" stroke-width="5.1" opacity="0.78"/><path d="M143.8,209.1C143.7,210.3 143.1,213.8 142.7,216.2C142.3,218.7 142,221.1 141.6,223.6C141.2,226.1 140.7,228.6 140.2,231.2C139.7,233.7 139,236.2 138.5,238.8C137.9,241.3 137.2,243.9 136.6,246.5C136,249 135.4,251.6 134.9,254.2C134.3,256.8 133.8,259.4 133.2,261.9C132.7,264.5 132.2,267.1 131.7,269.7C131.3,272.2 130.6,276.1 130.4,277.4" stroke="#4f4b4d" stroke-width="5.5" opacity="0.76"/><path d="M108.7,128.8C108.7,129.6 108.8,132 108.9,133.6C108.9,135.2 109,136.9 109.1,138.6C109.2,140.4 109.4,142.1 109.5,143.9C109.6,145.7 109.8,147.5 109.9,149.4C110.1,151.3 110.2,153.2 110.4,155.1C110.5,157 110.7,159 110.9,161C111.1,163 111.2,165 111.4,167.1C111.6,169.1 111.7,171.2 111.9,173.2C112,175.3 112.2,178.5 112.2,179.6" stroke="#4f4b4d" stroke-width="8.4" opacity="0.44"/><path d="M-25.8,85.5C-26.8,86.6 -30,89.8 -31.8,91.9C-33.6,94 -35.1,96.1 -36.4,98.2C-37.6,100.3 -38.6,102.4 -39.3,104.4C-40.1,106.5 -40.6,108.6 -40.8,110.6C-41.1,112.7 -41.1,114.8 -41,116.9C-40.9,119 -40.6,121.1 -40.2,123.2C-39.7,125.3 -39.2,127.4 -38.6,129.6C-38,131.7 -36.8,133.9 -36.6,136C-36.5,138.2 -37.3,141.3 -37.4,142.4" stroke="#f2f2f2" stroke-width="5" opacity="0.45"/><path d="M131.1,291C130.9,292.5 130.2,296.8 129.8,299.5C129.3,302.3 128.5,306.3 128.3,307.7" stroke="#5f5c5d" stroke-width="6.2" opacity="0.76"/><path d="M136.4,230.4C136.1,232 135.2,236.7 134.5,239.8C133.9,242.9 133.2,246.1 132.6,249.2C132,252.3 131.3,255.5 130.8,258.6C130.2,261.8 129.7,264.9 129.2,268C128.8,271.1 128.4,274.3 128,277.4C127.7,280.5 127.5,283.6 127.3,286.7C127.1,289.8 127,292.8 127,295.9C127,298.9 127.3,303.5 127.4,305" stroke="#dedede" stroke-width="7.4" opacity="0.58"/><path d="M137.2,236.9C136.8,238.5 135.7,243.5 135,246.8C134.2,250.2 133.5,253.5 132.8,256.9C132.2,260.2 131.5,263.5 130.9,266.9C130.4,270.2 129.8,273.5 129.4,276.9C129,280.2 128.6,283.5 128.3,286.8C128,290.1 127.8,293.4 127.7,296.7C127.6,299.9 127.8,304.7 127.8,306.4" stroke="#cfcfcf" stroke-width="4.6" opacity="0.65"/><path d="M17.1,68.9C16,69.8 12.8,72.6 10.8,74.5C8.9,76.4 6.9,78.3 5.1,80.2C3.4,82.1 1.7,84 0.2,85.9C-1.4,87.8 -2.7,89.7 -3.9,91.5C-5.2,93.4 -6.2,95.3 -7.1,97.1C-7.9,99 -8.6,100.9 -9.2,102.7C-9.7,104.6 -10.1,106.5 -10.3,108.3C-10.5,110.2 -10.5,112.1 -10.4,114C-10.4,115.9 -9.9,118.7 -9.8,119.7" stroke="#5a5657" stroke-width="8.6" opacity="0.54"/><path d="M-49.5,103.4C-49.7,103.9 -50.3,105.7 -50.6,106.9C-50.9,108 -51.2,109.2 -51.3,110.4C-51.5,111.5 -51.5,112.7 -51.5,113.9C-51.5,115 -51.5,116.2 -51.3,117.4C-51.2,118.6 -51,119.8 -50.8,120.9C-50.6,122.1 -50.3,123.3 -50,124.5C-49.7,125.7 -49.3,126.9 -48.9,128.1C-48.6,129.3 -48.2,130.5 -47.8,131.8C-47.4,133 -46.7,134.8 -46.5,135.4" stroke="#c4c3c3" stroke-width="7.1" opacity="0.43"/><path d="M-44.8,87.6C-45.7,88.6 -48.6,91.4 -50.1,93.3C-51.6,95.2 -53,97 -54,98.9C-55.1,100.7 -56,102.5 -56.6,104.4C-57.2,106.2 -57.6,108 -57.8,109.9C-58,111.7 -58,113.5 -57.8,115.4C-57.7,117.2 -57.3,119 -56.8,120.9C-56.4,122.8 -55.8,124.6 -55.1,126.5C-54.5,128.4 -53.7,130.3 -53,132.2C-52.4,134.1 -51.5,137 -51.1,138" stroke="#c4c3c3" stroke-width="9.4" opacity="0.69"/><path d="M48.6,96.8C48.4,97.9 47.4,101.2 47,103.4C46.5,105.7 46.3,108 46.2,110.3C46.1,112.6 46.1,114.9 46.2,117.3C46.4,119.7 46.7,122.1 47.1,124.5C47.5,127 48,129.4 48.6,131.9C49.2,134.3 49.8,136.8 50.6,139.2C51.3,141.7 52.1,144.1 52.8,146.4C53.6,148.7 54.8,151 55.3,153.1C55.8,155.2 55.8,158.1 55.9,159" stroke="#4f4b4d" stroke-width="5.7" opacity="0.47"/><path d="M135.9,278.1C135.5,279.4 134.4,283.4 133.7,286.1C133,288.8 132.4,291.5 131.8,294.2C131.2,297 130.3,301.1 130,302.4" stroke="#cfcfcf" stroke-width="5.8" opacity="0.42"/><path d="M139.2,204.6C139,205.7 138.5,208.9 138.1,211.1C137.8,213.3 137.5,215.6 137.2,217.8C136.9,220.1 136.6,222.3 136.2,224.6C135.9,226.9 135.5,229.2 135.1,231.5C134.7,233.8 134.2,236.1 133.8,238.4C133.3,240.7 132.8,243 132.4,245.3C131.9,247.6 131.5,249.9 131,252.2C130.6,254.6 130.2,256.9 129.8,259.2C129.4,261.5 128.9,264.9 128.7,266.1" stroke="#e9e9e9" stroke-width="6" opacity="0.72"/><path d="M123.7,158.1C123.7,159.4 123.7,163.4 123.7,166.1C123.6,168.9 123.6,171.7 123.5,174.6C123.4,177.5 123.3,180.5 123.1,183.5C122.9,186.5 122.5,189.6 122.2,192.7C121.8,195.8 121.3,199 121,202.1C120.6,205.3 120.1,208.5 120.1,211.5C120,214.5 120.8,217.1 120.8,220.1C120.9,223.1 120.6,226.4 120.3,229.3C120,232.2 119.2,236.2 119,237.5" stroke="#c4c3c3" stroke-width="6.4" opacity="0.59"/><path d="M137.8,280.5C137.2,282.4 135.4,288 134.1,291.9C132.9,295.8 131,302 130.4,304" stroke="#dedede" stroke-width="8.4" opacity="0.41"/><path d="M-25.3,80.6C-25.9,81.1 -27.7,82.7 -28.8,83.7C-30,84.7 -31.1,85.7 -32.1,86.7C-33.2,87.7 -34.2,88.7 -35.1,89.7C-36.1,90.7 -37,91.7 -37.8,92.7C-38.6,93.7 -39.4,94.7 -40.1,95.6C-40.9,96.6 -41.5,97.6 -42.1,98.6C-42.7,99.5 -43.3,100.5 -43.8,101.5C-44.3,102.4 -44.7,103.4 -45.1,104.4C-45.4,105.3 -45.8,106.8 -46,107.3" stroke="#e9e9e9" stroke-width="10" opacity="0.40"/><path d="M138.7,225.2C138.5,226.3 138,229.4 137.6,231.5C137.2,233.6 136.7,235.7 136.3,237.8C135.8,239.9 135.3,242 134.9,244.1C134.4,246.2 134,248.3 133.5,250.5C133.1,252.6 132.6,254.7 132.2,256.8C131.8,258.9 131.4,261 131.1,263.2C130.7,265.3 130.3,267.4 130,269.5C129.7,271.6 129.4,273.7 129.1,275.8C128.8,277.9 128.5,281.1 128.4,282.1" stroke="#dedede" stroke-width="7.7" opacity="0.40"/><path d="M83.9,80.4C83.1,81.4 80.8,84.4 79.6,86.5C78.4,88.7 77.3,90.9 76.4,93.1C75.4,95.4 74.6,97.7 74,100C73.4,102.4 72.9,104.8 72.6,107.2C72.3,109.6 72.2,112.1 72.2,114.6C72.2,117.1 72.3,119.7 72.6,122.2C72.9,124.7 73.3,127.2 73.9,129.7C74.4,132.1 75.1,134.5 75.8,136.9C76.6,139.3 77.9,142.8 78.3,144" stroke="#444142" stroke-width="4.9" opacity="0.73"/><path d="M48.1,73C47.3,73.9 44.7,76.7 43.2,78.6C41.6,80.5 40.2,82.4 38.9,84.3C37.7,86.2 36.5,88.1 35.5,90.1C34.5,92 33.6,94 32.9,96C32.1,98 31.6,100 31.1,102.1C30.7,104.2 30.4,106.3 30.3,108.4C30.1,110.6 30.1,112.8 30.2,115C30.3,117.3 30.5,119.6 30.8,121.9C31.1,124.3 31.8,127.8 32,129" stroke="#676464" stroke-width="6.7" opacity="0.66"/><path d="M121.8,120.1C121.7,120.7 121.4,122.4 121.2,123.7C121,124.9 120.9,126.1 120.7,127.4C120.6,128.7 120.4,130.1 120.3,131.4C120.2,132.8 120.2,134.2 120.1,135.6C120,137 120,138.5 119.9,140C119.9,141.5 119.9,143 119.9,144.5C119.9,146.1 119.9,147.6 119.9,149.2C119.9,150.8 119.9,152.4 120,154.1C120,155.7 120.1,158.3 120.1,159.1" stroke="#c4c3c3" stroke-width="8.6" opacity="0.77"/><path d="M147.8,160.3C147.4,161.2 146.4,163.6 145.8,165.8C145.2,168 144.7,170.8 144.2,173.6C143.6,176.3 143.1,179.3 142.5,182.3C141.9,185.3 141.2,188.5 140.6,191.7C139.9,194.9 139.1,198.2 138.6,201.4C138,204.7 137.6,207.9 137.1,211.3C136.6,214.6 136.1,218.1 135.6,221.6C135.1,225.1 134.6,228.6 134,232.1C133.4,235.6 132.3,240.9 132,242.7" stroke="#4f4b4d" stroke-width="9.5" opacity="0.78"/><path d="M13.4,104.1C13.3,104.9 13,107.3 12.9,109C12.8,110.6 12.9,112.2 13,113.9C13.1,115.5 13.3,117.2 13.5,118.9C13.8,120.6 14.1,122.3 14.5,124.1C14.8,125.9 15.3,127.7 15.7,129.5C16.2,131.3 16.7,133.2 17.1,135.1C17.6,137.1 18.1,139.1 18.6,141.1C19.1,143.1 19.9,145.3 20,147.3C20.1,149.2 19.4,151.8 19.3,152.7" stroke="#f2f2f2" stroke-width="4.8" opacity="0.59"/><path d="M58.7,113.5C58.7,114.3 58.7,116.8 58.9,118.5C59,120.2 59.2,122 59.4,123.7C59.7,125.4 60,127.1 60.3,128.8C60.7,130.6 61.1,132.3 61.5,134C62,135.6 62.5,137.3 63,138.9C63.6,140.6 64.1,142.2 64.7,143.7C65.3,145.2 65.9,146.7 66.5,148.1C67.2,149.6 67.8,150.9 68.5,152.3C69.1,153.6 70.1,155.6 70.4,156.3" stroke="#cfcfcf" stroke-width="5.6" opacity="0.59"/><path d="M63.4,107.5C63.3,108.5 63,111.6 63,113.7C63,115.8 63.1,117.9 63.3,120.1C63.5,122.2 63.8,124.3 64.2,126.5C64.6,128.6 65,130.7 65.6,132.8C66.1,134.9 66.7,136.9 67.4,138.9C68.1,140.9 68.8,142.8 69.6,144.6C70.3,146.5 71.1,148.2 72,150C72.8,151.8 73.9,153.7 74.5,155.4C75.1,157.2 75.3,159.6 75.5,160.5" stroke="#dedede" stroke-width="8" opacity="0.46"/><path d="M91.6,102.1C91.4,103 90.7,105.8 90.4,107.6C90.1,109.5 89.9,111.4 89.8,113.3C89.6,115.2 89.6,117.2 89.6,119.2C89.7,121.1 89.8,123.1 90,125.1C90.2,127.1 90.5,129.1 90.9,131.1C91.2,133.2 91.7,135.3 92.1,137.4C92.6,139.6 93.2,141.7 93.7,144C94.3,146.2 94.9,148.5 95.5,150.9C96,153.3 96.8,157.1 97.1,158.3" stroke="#e9e9e9" stroke-width="6.9" opacity="0.54"/><path d="M139.7,244.7C139.5,245.7 138.6,248.8 138.1,250.8C137.6,252.9 137.1,254.9 136.6,257C136.1,259 135.6,261.1 135.1,263.2C134.6,265.2 134.1,267.3 133.7,269.4C133.2,271.4 132.8,273.5 132.4,275.6C132,277.7 131.6,279.7 131.2,281.8C130.9,283.9 130.6,286 130.3,288C130,290.1 129.7,292.2 129.5,294.3C129.2,296.3 128.9,299.4 128.8,300.4" stroke="#dedede" stroke-width="9.5" opacity="0.72"/><path d="M-10.3,106.5C-10.4,107 -10.6,108.6 -10.7,109.6C-10.8,110.6 -10.8,111.7 -10.8,112.7C-10.8,113.8 -10.7,114.8 -10.6,115.8C-10.5,116.9 -10.4,117.9 -10.2,119C-10.1,120 -9.9,121.1 -9.7,122.2C-9.5,123.2 -9.2,124.3 -8.9,125.4C-8.7,126.5 -8.4,127.5 -8.1,128.6C-7.8,129.7 -7.4,130.8 -7.1,131.9C-6.8,133 -6.3,134.7 -6.1,135.2" stroke="#cfcfcf" stroke-width="9.4" opacity="0.76"/><path d="M138.8,213.2C138.6,214.2 138.2,217.4 137.9,219.5C137.6,221.6 137.3,223.7 137,225.9C136.6,228 136.3,230.2 135.9,232.3C135.5,234.5 135,236.6 134.6,238.8C134.1,241 133.7,243.1 133.2,245.3C132.8,247.5 132.3,249.6 131.9,251.8C131.5,254 131.1,256.1 130.7,258.3C130.3,260.5 130,262.6 129.6,264.8C129.3,267 128.8,270.2 128.7,271.3" stroke="#f2f2f2" stroke-width="5.1" opacity="0.71"/><path d="M131.3,158.5C131.3,160.1 131,164.9 130.8,168.3C130.6,171.6 130.4,175.1 130,178.7C129.6,182.3 129.1,186 128.6,189.7C128.1,193.5 127.4,197.4 127,201.2C126.5,204.9 126.3,208.6 126.1,212.4C125.9,216.2 126,219.9 125.7,223.7C125.3,227.5 124.7,231.5 124.2,235.4C123.6,239.3 123,243.3 122.4,247C121.9,250.7 121.4,255.9 121.1,257.6" stroke="#444142" stroke-width="7.9" opacity="0.41"/><path d="M94,105.6C93.8,106.8 93.2,110.4 92.9,112.9C92.7,115.4 92.7,117.9 92.7,120.5C92.8,123.1 93,125.7 93.4,128.4C93.7,131.1 94.2,133.8 94.7,136.6C95.3,139.5 96,142.4 96.6,145.4C97.3,148.5 98,151.6 98.6,154.9C99.2,158.2 99.8,161.7 100.3,165.2C100.8,168.7 101.4,172.4 101.7,175.8C102,179.1 101.9,183.7 102,185.3" stroke="#5f5c5d" stroke-width="5.6" opacity="0.77"/><path d="M75.9,92C75.5,93 74.3,95.8 73.7,97.8C73.1,99.7 72.6,101.7 72.2,103.7C71.9,105.8 71.6,107.8 71.4,109.9C71.3,112 71.2,114.1 71.3,116.2C71.3,118.3 71.5,120.4 71.7,122.5C72,124.7 72.4,126.8 72.8,128.9C73.2,130.9 73.7,133 74.3,135C74.9,137 75.6,139 76.3,141C77,142.9 78.2,145.8 78.6,146.8" stroke="#c4c3c3" stroke-width="5.9" opacity="0.79"/><path d="M12.1,69.7C10.8,70.9 6.9,74.4 4.5,76.7C2,79.1 -0.3,81.4 -2.3,83.7C-4.4,86 -6.3,88.3 -7.9,90.6C-9.5,92.9 -10.8,95.2 -11.9,97.4C-13,99.7 -13.9,102 -14.5,104.2C-15,106.5 -15.4,108.8 -15.5,111C-15.6,113.3 -15.4,115.6 -15.2,117.9C-14.9,120.3 -14.4,122.6 -13.8,124.9C-13.3,127.3 -12.2,130.9 -11.8,132.1" stroke="#5a5657" stroke-width="6.9" opacity="0.79"/><path d="M-10.1,100.7C-10.4,101.5 -11.2,103.9 -11.5,105.5C-11.8,107.2 -12,108.8 -12.1,110.4C-12.2,112 -12.2,113.6 -12.1,115.3C-12,116.9 -11.7,118.5 -11.5,120.2C-11.2,121.8 -10.8,123.5 -10.4,125.2C-10,126.9 -9.5,128.5 -9,130.3C-8.5,132 -8,133.7 -7.4,135.4C-6.9,137.1 -5.9,138.9 -5.8,140.6C-5.7,142.4 -6.5,144.8 -6.7,145.7" stroke="#dedede" stroke-width="6.6" opacity="0.44"/><path d="M126,128C125.8,128.8 125.4,131.3 125.2,133.1C125.1,134.9 124.9,136.8 124.8,138.7C124.7,140.6 124.6,142.5 124.5,144.6C124.4,146.6 124.4,148.6 124.4,150.8C124.3,152.9 124.3,155 124.3,157.2C124.3,159.5 124.3,161.7 124.3,164C124.3,166.3 124.3,168.7 124.2,171.1C124.1,173.5 124.1,176 123.9,178.5C123.8,181 123.5,184.9 123.4,186.2" stroke="#e9e9e9" stroke-width="7.4" opacity="0.74"/><path d="M30.8,82.2C30,83.4 27.4,86.9 26.1,89.3C24.7,91.7 23.6,94.1 22.7,96.5C21.8,98.9 21.1,101.4 20.7,103.9C20.3,106.4 20.1,108.9 20.1,111.5C20.1,114.1 20.4,116.8 20.8,119.5C21.1,122.3 21.7,125.1 22.3,128.1C22.9,131.1 23.6,134.2 24.3,137.3C25.1,140.3 26.2,143.5 26.7,146.4C27.1,149.4 26.9,153.4 27,154.8" stroke="#4f4b4d" stroke-width="6.2" opacity="0.74"/><path d="M3.5,80.3C3,80.9 1.5,82.5 0.5,83.5C-0.4,84.6 -1.3,85.6 -2.1,86.7C-3,87.8 -3.8,88.8 -4.5,89.9C-5.2,90.9 -5.9,92 -6.6,93C-7.2,94 -7.8,95.1 -8.3,96.1C-8.9,97.2 -9.3,98.2 -9.8,99.3C-10.2,100.3 -10.5,101.3 -10.9,102.4C-11.2,103.4 -11.4,104.5 -11.6,105.5C-11.9,106.5 -12.1,108.1 -12.1,108.6" stroke="#4f4b4d" stroke-width="5.1" opacity="0.41"/><path d="M120.5,127.3C120.5,128.2 120.2,130.9 120.1,132.7C119.9,134.6 119.9,136.5 119.8,138.5C119.7,140.5 119.7,142.5 119.7,144.6C119.7,146.6 119.7,148.8 119.7,150.9C119.8,153.1 119.8,155.3 119.9,157.6C119.9,159.9 120,162.2 120.1,164.5C120.1,166.9 120.2,169.3 120.2,171.8C120.2,174.2 120.2,176.7 120.2,179.3C120.1,181.8 119.9,185.8 119.8,187.1" stroke="#4f4b4d" stroke-width="6.3" opacity="0.60"/><path d="M75.6,72C75.1,72.7 74,74.8 73,76.1C72,77.5 70.8,78.7 69.8,80C68.8,81.4 67.9,82.7 67,84.1C66.2,85.5 65.4,86.9 64.6,88.3C63.9,89.8 63.2,91.2 62.6,92.7C62,94.1 61.5,95.6 61,97.1C60.5,98.6 60.1,100.1 59.7,101.7C59.4,103.2 59.1,104.8 58.9,106.4C58.7,107.9 58.6,110.4 58.5,111.1" stroke="#f2f2f2" stroke-width="5.7" opacity="0.80"/><path d="M147.1,254.4C146.8,254.7 145.9,255.1 145.1,256.7C144.3,258.2 143.2,261 142.3,263.4C141.3,265.9 140.2,268.7 139.3,271.5C138.3,274.4 137.3,277.3 136.4,280.4C135.4,283.4 134.5,286.5 133.7,289.7C132.8,292.8 132.2,296.2 131.3,299.3C130.4,302.4 128.7,306.9 128.2,308.4" stroke="#444142" stroke-width="4.8" opacity="0.57"/><path d="M91,119.6C91.1,120.6 91.2,123.6 91.4,125.6C91.6,127.7 91.9,129.7 92.3,131.8C92.6,134 93.1,136.1 93.6,138.3C94.1,140.5 94.6,142.7 95.2,145C95.7,147.4 96.3,149.8 96.8,152.3C97.3,154.8 97.9,157.4 98.3,160C98.8,162.6 99.2,165.3 99.6,168C100,170.8 100.5,173.7 100.7,176.2C100.9,178.8 100.8,182.1 100.8,183.2" stroke="#5f5c5d" stroke-width="8.5" opacity="0.56"/><path d="M138.1,275C137.8,276 136.8,279 136.2,281C135.5,283.1 134.9,285.1 134.4,287.2C133.8,289.3 133.2,291.5 132.7,293.6C132.1,295.8 131.7,298 131.1,300.1C130.5,302.2 129.4,305.3 129.1,306.3" stroke="#e9e9e9" stroke-width="4.9" opacity="0.40"/><path d="M18.6,108C18.6,108.7 18.5,111 18.5,112.6C18.6,114.1 18.7,115.7 18.9,117.3C19.1,118.9 19.3,120.6 19.6,122.3C19.9,124 20.2,125.7 20.6,127.4C21,129.2 21.4,131 21.8,132.8C22.2,134.7 22.6,136.6 23.1,138.4C23.5,140.3 24,142.2 24.5,144.1C24.9,145.9 25.8,147.8 25.9,149.6C26,151.3 25.3,153.6 25.2,154.4" stroke="#c4c3c3" stroke-width="8.6" opacity="0.73"/><path d="M31.6,104.9C31.5,105.7 31.2,108.1 31.1,109.7C31,111.4 31,113.1 31.1,114.8C31.2,116.5 31.3,118.2 31.5,119.9C31.7,121.7 31.9,123.4 32.2,125.2C32.5,127 32.9,128.8 33.3,130.5C33.7,132.3 34.2,134.1 34.6,135.9C35.1,137.7 35.6,139.4 36.1,141.2C36.6,143 37.2,144.8 37.7,146.6C38.2,148.3 39,151 39.3,151.9" stroke="#5a5657" stroke-width="9" opacity="0.64"/><path d="M33.5,80.5C32.8,81.4 30.7,84.2 29.4,86C28.2,87.9 27.1,89.8 26.2,91.6C25.2,93.5 24.4,95.4 23.8,97.4C23.1,99.3 22.6,101.2 22.3,103.2C21.9,105.1 21.7,107.1 21.6,109.1C21.5,111.2 21.6,113.2 21.7,115.4C21.9,117.5 22.2,119.6 22.5,121.8C22.9,124.1 23.3,126.4 23.8,128.7C24.2,131.1 25.1,134.7 25.3,135.9" stroke="#676464" stroke-width="6.9" opacity="0.44"/><path d="M116.9,112.2C116.7,113.5 115.8,117.3 115.4,120.1C115,122.9 114.8,125.8 114.7,128.9C114.5,132 114.5,135.2 114.6,138.6C114.6,142 114.7,145.5 114.9,149.2C115,152.9 115.3,156.7 115.5,160.6C115.7,164.5 116,168.6 116.1,172.7C116.2,176.9 116.4,181.2 116.2,185.6C116,190 115.6,194.5 115.1,199C114.7,203.4 113.9,210.1 113.6,212.4" stroke="#cfcfcf" stroke-width="6.3" opacity="0.77"/><path d="M151,172.7C150.7,173 149.9,173.6 149.5,174.6C149,175.6 148.6,177.2 148.2,178.6C147.8,180.1 147.4,181.7 147,183.4C146.6,185 146.1,186.8 145.7,188.5C145.2,190.3 144.7,192.1 144.3,193.9C143.8,195.8 143.3,197.6 142.9,199.5C142.5,201.4 142.1,203.3 141.7,205.2C141.4,207.2 141,209.2 140.7,211.2C140.4,213.2 139.9,216.3 139.8,217.3" stroke="#444142" stroke-width="7.4" opacity="0.63"/><path d="M124,108.7C123.7,109.1 122.6,110.4 122,111.4C121.4,112.5 121,113.7 120.7,115C120.3,116.3 120,117.6 119.7,119C119.4,120.4 119.2,121.9 119,123.4C118.8,124.9 118.6,126.5 118.5,128.1C118.4,129.7 118.3,131.3 118.2,133C118.1,134.7 118.1,136.4 118.1,138.2C118,140 118,141.8 118,143.7C118,145.5 118.1,148.4 118.1,149.4" stroke="#676464" stroke-width="9.4" opacity="0.45"/><path d="M21.7,106.9C21.7,107.7 21.5,110.1 21.6,111.7C21.6,113.4 21.7,115 21.8,116.7C22,118.4 22.2,120.2 22.5,121.9C22.8,123.7 23.1,125.5 23.5,127.4C23.8,129.3 24.2,131.2 24.7,133.1C25.1,135 25.6,136.9 26.1,138.9C26.5,140.8 27,142.7 27.6,144.6C28.1,146.4 28.9,148.4 29.1,150.1C29.2,151.9 28.6,154.3 28.5,155.2" stroke="#dedede" stroke-width="7.2" opacity="0.74"/><path d="M13.9,106.9C13.9,107.7 13.7,110 13.7,111.5C13.8,113.1 13.9,114.6 14,116.2C14.2,117.8 14.4,119.4 14.7,121C15,122.6 15.3,124.2 15.7,125.9C16.1,127.6 16.5,129.3 16.9,131.1C17.4,132.9 17.8,134.7 18.3,136.5C18.7,138.4 19.2,140.3 19.6,142.2C20.1,144.1 20.9,146.2 21,148C21.1,149.8 20.3,152.2 20.2,153" stroke="#cfcfcf" stroke-width="5.8" opacity="0.55"/><path d="M65.8,111.9C65.8,112.6 65.8,114.8 65.8,116.2C65.8,117.7 65.9,119.1 66.1,120.6C66.2,122 66.4,123.5 66.6,125C66.9,126.4 67.1,127.9 67.5,129.3C67.8,130.7 68.1,132.2 68.5,133.6C68.9,134.9 69.3,136.3 69.7,137.7C70.2,139 70.7,140.4 71.1,141.7C71.6,143 72.2,144.2 72.7,145.5C73.2,146.8 74.1,148.6 74.4,149.3" stroke="#4f4b4d" stroke-width="5.7" opacity="0.67"/><path d="M66.3,101.4C66.2,102 65.8,103.8 65.6,105.1C65.4,106.3 65.3,107.5 65.2,108.8C65.1,110 65,111.3 64.9,112.6C64.9,113.8 64.9,115.1 65,116.4C65,117.7 65.1,119 65.2,120.3C65.3,121.6 65.5,122.9 65.7,124.2C65.9,125.4 66.1,126.8 66.4,128C66.6,129.3 66.9,130.6 67.2,131.9C67.5,133.1 68.1,135 68.3,135.6" stroke="#5f5c5d" stroke-width="7.2" opacity="0.63"/><path d="M69.3,88.7C69,89.3 68.1,91.2 67.6,92.4C67,93.7 66.6,95 66.1,96.3C65.7,97.6 65.3,98.9 65,100.2C64.6,101.5 64.3,102.9 64.1,104.2C63.9,105.6 63.7,106.9 63.5,108.3C63.4,109.7 63.3,111.1 63.3,112.5C63.2,113.9 63.3,115.3 63.3,116.7C63.4,118.1 63.5,119.6 63.6,121C63.8,122.4 64.1,124.6 64.2,125.3" stroke="#676464" stroke-width="7.2" opacity="0.63"/><path d="M139.6,233.5C139.3,234.9 138.2,239.4 137.5,242.4C136.9,245.4 136.1,248.4 135.5,251.5C134.8,254.5 134.1,257.5 133.5,260.5C132.9,263.6 132.3,266.6 131.7,269.6C131.2,272.6 130.6,275.6 130.2,278.6C129.8,281.7 129.4,284.7 129.1,287.7C128.7,290.7 128.5,293.7 128.3,296.6C128.1,299.6 128,304 128,305.5" stroke="#676464" stroke-width="9.6" opacity="0.57"/><path d="M136.5,176.6C136.4,177.6 135.9,180.5 135.6,182.5C135.3,184.4 135,186.5 134.6,188.5C134.3,190.6 134,192.6 133.6,194.7C133.2,196.8 132.8,198.9 132.5,201C132.2,203.1 132,205.1 131.8,207.2C131.6,209.2 131.6,211.2 131.4,213.3C131.2,215.4 130.9,217.6 130.7,219.7C130.4,221.9 130.1,224.1 129.8,226.3C129.5,228.5 129.1,231.8 128.9,232.9" stroke="#676464" stroke-width="9.5" opacity="0.59"/><path d="M123.7,157.4C123.7,158.7 123.8,162.7 123.7,165.5C123.7,168.3 123.7,171.1 123.6,174.1C123.5,177 123.4,180 123.2,183C123,186.1 122.7,189.2 122.3,192.3C121.9,195.5 121.4,198.7 121.1,201.9C120.7,205 120.1,208.3 120.1,211.3C120.1,214.4 120.9,217.1 120.9,220.1C120.9,223.1 120.7,226.4 120.4,229.4C120.1,232.3 119.2,236.4 119,237.8" stroke="#cfcfcf" stroke-width="7.5" opacity="0.45"/><path d="M134.5,293.4C134.2,294.4 133.3,297.5 132.5,299.5C131.8,301.6 130.4,304.7 130,305.7" stroke="#e9e9e9" stroke-width="8.5" opacity="0.76"/><path d="M131.2,295.8C131,296.8 130.5,299.8 130,301.7C129.6,303.6 128.8,306.4 128.5,307.3" stroke="#444142" stroke-width="5.2" opacity="0.76"/><path d="M138.3,186C138.1,186.9 137.6,189.7 137.2,191.6C136.9,193.5 136.5,195.4 136.1,197.3C135.8,199.2 135.4,201.1 135.2,203C134.9,204.9 134.8,206.7 134.6,208.6C134.4,210.5 134.1,212.4 133.9,214.4C133.6,216.4 133.3,218.4 133.1,220.4C132.8,222.4 132.5,224.4 132.3,226.4C132,228.4 131.7,230.5 131.3,232.5C131,234.5 130.4,237.6 130.3,238.6" stroke="#cfcfcf" stroke-width="5.7" opacity="0.70"/><path d="M142.8,142.9C142.5,143.4 141.3,144.7 140.8,146.1C140.3,147.5 140,149.5 139.7,151.4C139.4,153.3 139.2,155.4 138.9,157.6C138.6,159.7 138.4,162 138.1,164.3C137.9,166.7 137.6,169.1 137.3,171.5C137,174 136.7,176.6 136.3,179.2C135.9,181.8 135.5,184.5 135,187.2C134.6,189.9 134.1,192.7 133.6,195.4C133.2,198.2 132.5,202.4 132.3,203.8" stroke="#dedede" stroke-width="9.9" opacity="0.70"/><path d="M-31,103.4C-31.2,104.1 -31.9,106.3 -32.2,107.7C-32.5,109.2 -32.7,110.6 -32.8,112.1C-32.8,113.5 -32.8,115 -32.7,116.4C-32.6,117.9 -32.5,119.3 -32.2,120.8C-32,122.3 -31.7,123.8 -31.3,125.2C-31,126.7 -30.5,128.2 -30.1,129.7C-29.7,131.2 -29.2,132.7 -28.8,134.3C-28.3,135.8 -27.4,137.4 -27.4,138.9C-27.4,140.3 -28.4,142.5 -28.6,143.2" stroke="#cfcfcf" stroke-width="8" opacity="0.61"/></g><g fill="none" filter="url(#b1)" stroke-linecap="round"><path d="M133,288.7C132.7,289.9 131.9,293.7 131.3,296.2C130.8,298.7 129.9,302.4 129.7,303.6" stroke="#5f5c5d" stroke-width="2.9" opacity="0.77"/><path d="M133.6,278.2C133.3,279.8 132.2,284.7 131.6,288C131,291.2 130.5,294.6 130,297.8C129.4,301 128.6,305.7 128.3,307.3" stroke="#cfcfcf" stroke-width="3.6" opacity="0.66"/><path d="M120.9,106.1C120.4,107.1 118.7,109.7 118,111.8C117.2,114 116.8,116.5 116.4,119C116,121.5 115.8,124.2 115.6,127C115.4,129.8 115.3,132.8 115.3,135.9C115.3,138.9 115.3,142.1 115.4,145.5C115.5,148.8 115.7,152.3 115.8,155.8C116,159.4 116.3,163 116.4,166.8C116.6,170.6 116.8,174.4 116.8,178.4C116.8,182.4 116.5,188.6 116.4,190.6" stroke="#dedede" stroke-width="2.7" opacity="0.65"/><path d="M105,128.8C105.1,129.8 105.2,132.6 105.4,134.5C105.5,136.4 105.7,138.4 105.9,140.5C106.2,142.5 106.4,144.6 106.6,146.8C106.8,148.9 107.1,151.1 107.3,153.4C107.6,155.7 107.8,158 108,160.3C108.3,162.7 108.5,165 108.8,167.4C109,169.8 109.2,172.3 109.4,174.7C109.6,177.2 109.8,179.7 109.9,182.2C110,184.7 110,188.5 110,189.8" stroke="#5a5657" stroke-width="3.6" opacity="0.95"/><path d="M43.9,72.2C43.1,73.1 40.5,75.8 39,77.6C37.5,79.5 36,81.3 34.7,83.1C33.4,84.9 32.2,86.8 31.1,88.6C30,90.5 29.1,92.4 28.3,94.3C27.5,96.2 26.9,98.1 26.4,100C25.9,102 25.5,103.9 25.3,105.9C25,107.9 24.9,109.9 25,112C25,114.1 25.1,116.2 25.3,118.4C25.6,120.6 26.1,124 26.3,125.1" stroke="#cfcfcf" stroke-width="2.7" opacity="0.81"/><path d="M68.4,117.8C68.4,118.6 68.6,121.3 68.9,123.1C69.1,124.9 69.4,126.7 69.8,128.4C70.1,130.2 70.5,131.9 71,133.6C71.5,135.3 72,137 72.6,138.7C73.1,140.3 73.7,141.9 74.4,143.5C75,145.1 75.7,146.7 76.4,148.3C77.1,149.9 77.8,151.5 78.5,153.1C79.2,154.8 80.2,156.6 80.7,158.2C81.1,159.8 81.1,162 81.2,162.7" stroke="#dedede" stroke-width="3.9" opacity="0.67"/><path d="M95.7,109.6C95.6,110.5 95.2,113.4 95.1,115.4C95,117.4 95,119.4 95.1,121.4C95.1,123.5 95.3,125.6 95.5,127.7C95.7,129.8 96,131.9 96.4,134.2C96.7,136.4 97.2,138.6 97.6,140.9C98.1,143.3 98.6,145.7 99,148.2C99.5,150.7 100,153.3 100.4,155.9C100.9,158.6 101.3,161.3 101.7,164.1C102.1,166.8 102.6,171.1 102.8,172.5" stroke="#444142" stroke-width="3.2" opacity="0.59"/><path d="M47.5,100.1C47.3,100.9 46.7,103.4 46.5,105C46.2,106.7 46.1,108.4 46,110.1C45.9,111.8 45.9,113.6 45.9,115.3C46,117.1 46.2,118.8 46.4,120.6C46.6,122.4 46.8,124.2 47.2,126C47.5,127.9 47.9,129.7 48.3,131.5C48.7,133.3 49.2,135.2 49.7,137C50.2,138.8 50.8,140.6 51.3,142.4C51.9,144.2 52.8,146.8 53.1,147.7" stroke="#444142" stroke-width="2.3" opacity="0.70"/><path d="M147,205.6C146.8,206.5 146.3,209 146,210.8C145.6,212.6 145.4,214.4 145.1,216.3C144.7,218.1 144.5,220 144.1,222C143.8,223.9 143.4,225.8 143,227.8C142.6,229.8 142.1,231.8 141.6,233.8C141.1,235.8 140.6,237.8 140.1,239.8C139.6,241.9 139,243.9 138.5,246C138,248 137.5,250.1 137,252.1C136.5,254.2 135.8,257.3 135.5,258.3" stroke="#cfcfcf" stroke-width="3.9" opacity="0.65"/><path d="M61.5,78C61.1,78.5 59.8,80.2 59,81.3C58.2,82.4 57.5,83.6 56.8,84.7C56.1,85.9 55.4,87.1 54.8,88.2C54.1,89.4 53.6,90.6 53,91.8C52.5,93 52,94.2 51.6,95.4C51.1,96.6 50.7,97.8 50.4,99.1C50,100.3 49.8,101.6 49.5,102.8C49.3,104.1 49.1,105.4 48.9,106.7C48.7,107.9 48.6,109.9 48.6,110.5" stroke="#444142" stroke-width="3.2" opacity="0.60"/><path d="M147,155.9C146.6,156.9 145.4,159.1 144.8,161.5C144.1,163.8 143.7,166.9 143.2,170C142.6,173 142.1,176.3 141.4,179.7C140.8,183 140.2,186.6 139.5,190.1C138.8,193.7 137.9,197.4 137.3,201C136.7,204.7 136.3,208.2 135.8,212C135.3,215.7 134.8,219.6 134.2,223.5C133.6,227.4 133,231.3 132.4,235.3C131.7,239.2 130.5,245.1 130.1,247.1" stroke="#dedede" stroke-width="1.7" opacity="0.85"/><path d="M148.7,234.2C148.4,235.1 147.4,237.6 146.7,239.5C146,241.3 145.3,243.4 144.6,245.4C143.9,247.4 143.1,249.6 142.4,251.7C141.7,253.9 141,256.1 140.3,258.4C139.6,260.6 138.9,262.9 138.2,265.2C137.5,267.5 136.8,269.9 136.2,272.2C135.6,274.6 134.9,277 134.3,279.3C133.7,281.7 133.2,284.1 132.7,286.6C132.1,289 131.4,292.6 131.2,293.8" stroke="#cfcfcf" stroke-width="3.5" opacity="0.69"/><path d="M132.5,207.2C132.4,208.6 132.2,212.4 131.9,215.1C131.6,217.8 131.2,220.6 130.8,223.4C130.5,226.2 130.1,229 129.7,231.8C129.3,234.6 128.7,237.4 128.3,240.2C127.8,243 127.3,245.8 126.9,248.6C126.5,251.4 126.1,254.1 125.7,256.9C125.4,259.7 125,262.4 124.8,265.1C124.5,267.9 124.3,270.7 124.2,273.3C124,275.9 124,279.6 123.9,280.8" stroke="#c4c3c3" stroke-width="3.9" opacity="0.90"/><path d="M148.2,248.4C148,248.6 147.4,248.7 146.9,249.6C146.4,250.4 145.8,252 145.2,253.4C144.5,254.9 143.9,256.6 143.2,258.2C142.6,259.9 141.9,261.7 141.3,263.5C140.6,265.3 139.9,267.2 139.3,269.1C138.6,271.1 138,273 137.4,275C136.7,277 136.1,279.1 135.6,281.1C135,283.2 134.4,285.2 133.9,287.3C133.3,289.4 132.5,292.6 132.3,293.7" stroke="#cfcfcf" stroke-width="3.8" opacity="0.83"/><path d="M127.7,163.1C127.7,163.9 127.6,166.3 127.5,167.9C127.5,169.5 127.4,171.2 127.3,172.9C127.2,174.6 127.1,176.3 127,178C126.9,179.7 126.7,181.5 126.6,183.3C126.4,185 126.2,186.8 126,188.6C125.7,190.5 125.5,192.3 125.2,194.1C125,196 124.7,197.8 124.4,199.7C124.2,201.5 123.9,203.4 123.7,205.3C123.5,207.1 123.4,209.8 123.3,210.7" stroke="#5a5657" stroke-width="3.8" opacity="0.79"/><path d="M135.9,138.6C135.8,139.3 135.3,141.4 135.1,142.9C134.9,144.5 134.7,146.1 134.5,147.7C134.4,149.3 134.2,151.1 134.1,152.8C133.9,154.6 133.8,156.4 133.7,158.2C133.5,160 133.4,161.9 133.3,163.9C133.1,165.8 133,167.8 132.8,169.8C132.7,171.8 132.5,173.9 132.3,175.9C132.1,178 131.8,180.2 131.5,182.3C131.3,184.5 130.8,187.8 130.6,188.9" stroke="#4f4b4d" stroke-width="3.6" opacity="0.55"/><path d="M-40.1,93.2C-40.8,94.1 -42.9,96.8 -44.1,98.5C-45.2,100.3 -46.1,102.1 -46.8,103.9C-47.5,105.6 -48,107.4 -48.3,109.2C-48.7,111 -48.8,112.7 -48.8,114.5C-48.8,116.3 -48.6,118.1 -48.4,119.8C-48.1,121.6 -47.7,123.4 -47.3,125.3C-46.8,127.1 -46.3,128.9 -45.7,130.7C-45.2,132.6 -44.1,134.5 -44,136.3C-43.9,138.1 -44.9,140.8 -45,141.6" stroke="#4f4b4d" stroke-width="1.6" opacity="0.57"/><path d="M89,95.6C88.7,96.6 87.6,99.5 87.1,101.5C86.6,103.5 86.2,105.5 85.9,107.5C85.6,109.6 85.4,111.7 85.3,113.8C85.2,115.9 85.2,118 85.4,120.1C85.5,122.2 85.7,124.4 86,126.5C86.3,128.7 86.7,130.8 87.2,133C87.6,135.2 88.2,137.4 88.8,139.7C89.4,142 90.1,144.3 90.8,146.7C91.5,149.1 92.6,152.9 92.9,154.1" stroke="#dedede" stroke-width="4" opacity="0.72"/><path d="M144.7,164.8C144.5,165.9 143.9,169.2 143.4,171.6C143,174 142.5,176.5 142.1,179.1C141.6,181.7 141.1,184.4 140.5,187.1C140,189.8 139.4,192.7 138.8,195.5C138.3,198.3 137.7,201.1 137.3,203.9C136.8,206.7 136.5,209.5 136.1,212.5C135.7,215.4 135.3,218.4 134.9,221.4C134.4,224.4 134,227.5 133.5,230.5C133,233.5 132.2,238.1 131.9,239.7" stroke="#444142" stroke-width="3.7" opacity="0.57"/><path d="M135,145.6C134.9,146.3 134.7,148.4 134.6,149.9C134.4,151.4 134.3,152.9 134.2,154.5C134.1,156 133.9,157.6 133.8,159.3C133.7,160.9 133.6,162.6 133.4,164.3C133.3,166 133.2,167.7 133.1,169.4C132.9,171.2 132.8,173 132.6,174.8C132.4,176.6 132.2,178.5 132,180.4C131.8,182.2 131.5,184.2 131.2,186.1C130.9,188 130.5,191 130.3,191.9" stroke="#5f5c5d" stroke-width="1.8" opacity="0.56"/><path d="M144,248.3C143.3,250.3 141.3,256.2 140,260.3C138.7,264.4 137.4,268.8 136.2,273.1C135,277.4 133.9,281.9 132.9,286.3C131.9,290.7 130.6,297.5 130.2,299.7" stroke="#5a5657" stroke-width="3.3" opacity="0.78"/><path d="M5.4,67.9C4.7,68.6 2.4,70.5 1,71.7C-0.5,73 -2,74.3 -3.4,75.5C-4.8,76.8 -6.2,78.1 -7.5,79.3C-8.9,80.6 -10.1,81.8 -11.4,83C-12.6,84.3 -13.8,85.5 -14.8,86.7C-15.9,87.9 -17,89.2 -17.9,90.4C-18.9,91.6 -19.8,92.8 -20.6,94C-21.4,95.2 -22.1,96.4 -22.7,97.6C-23.4,98.8 -24.2,100.6 -24.5,101.2" stroke="#cfcfcf" stroke-width="1.6" opacity="0.60"/><path d="M131,136.1C130.9,136.8 130.6,138.8 130.5,140.3C130.3,141.7 130.2,143.2 130.1,144.8C130,146.3 129.8,147.9 129.8,149.5C129.7,151.1 129.6,152.7 129.5,154.4C129.5,156.1 129.4,157.8 129.3,159.5C129.3,161.2 129.2,163 129.1,164.8C129,166.6 129,168.5 128.9,170.3C128.7,172.2 128.6,174.1 128.5,176C128.3,178 128.1,181 128,181.9" stroke="#444142" stroke-width="1.7" opacity="0.68"/><path d="M94.2,120.4C94.2,121.4 94.3,124.5 94.5,126.6C94.7,128.7 95,130.9 95.4,133.1C95.7,135.3 96.2,137.5 96.6,139.8C97.1,142.1 97.6,144.5 98.1,147C98.6,149.5 99.1,152 99.6,154.7C100.1,157.3 100.5,160 100.9,162.8C101.3,165.6 101.7,168.4 102,171.2C102.4,174 102.9,177 103,179.7C103.2,182.3 103,185.8 103,187" stroke="#4f4b4d" stroke-width="2.5" opacity="0.78"/><path d="M-2.9,74C-4.3,75.2 -8.4,78.8 -10.8,81.2C-13.3,83.6 -15.6,85.9 -17.6,88.2C-19.6,90.5 -21.3,92.8 -22.8,95.1C-24.2,97.4 -25.4,99.7 -26.3,101.9C-27.2,104.2 -27.8,106.5 -28.2,108.7C-28.5,111 -28.6,113.3 -28.5,115.6C-28.4,117.8 -28,120.1 -27.6,122.5C-27.2,124.8 -26.5,127.1 -25.8,129.5C-25.2,131.9 -24,135.5 -23.7,136.7" stroke="#5f5c5d" stroke-width="3" opacity="0.89"/><path d="M145.9,236C145.2,238 143.3,243.9 142,248C140.7,252.2 139.5,256.5 138.2,260.8C137,265.1 135.8,269.6 134.7,274C133.6,278.4 132.6,282.9 131.8,287.4C130.9,291.9 129.9,298.6 129.5,300.9" stroke="#444142" stroke-width="3" opacity="0.66"/><path d="M127.3,119.8C127.1,120.6 126.3,122.8 125.9,124.5C125.6,126.2 125.3,128.1 125,130C124.8,131.9 124.6,133.9 124.4,136C124.2,138 124.1,140.2 124,142.4C123.9,144.6 123.9,146.8 123.8,149.2C123.8,151.5 123.8,153.9 123.8,156.3C123.8,158.8 123.8,161.3 123.8,163.8C123.8,166.4 123.8,169 123.7,171.7C123.7,174.4 123.5,178.6 123.4,180" stroke="#444142" stroke-width="2" opacity="0.78"/><path d="M151.2,203.6C150.9,204.2 149.8,205.6 149.2,207.6C148.6,209.5 148.1,212.4 147.5,215.2C146.9,217.9 146.4,220.9 145.7,223.9C145.1,226.9 144.3,230.1 143.5,233.3C142.6,236.5 141.7,239.7 140.8,243C139.9,246.3 139,249.7 138.1,253C137.2,256.4 136.4,259.8 135.5,263.2C134.7,266.6 133.9,270 133.2,273.4C132.5,276.8 131.6,281.9 131.2,283.6" stroke="#dedede" stroke-width="3.1" opacity="0.86"/><path d="M134.4,255.4C134.1,256.9 133.1,261.4 132.5,264.4C131.9,267.3 131.4,270.3 130.9,273.3C130.4,276.3 129.9,279.2 129.6,282.2C129.2,285.2 128.9,288.1 128.6,291.1C128.4,294 128.2,297 128.1,299.9C128,302.8 128,307 128,308.5" stroke="#cfcfcf" stroke-width="2.3" opacity="0.72"/><path d="M139.3,248.6C139,249.7 138.2,252.7 137.7,254.7C137.2,256.7 136.7,258.8 136.1,260.8C135.6,262.9 135.1,264.9 134.7,267C134.2,269 133.7,271.1 133.3,273.1C132.8,275.2 132.4,277.2 132,279.3C131.6,281.4 131.3,283.4 130.9,285.5C130.6,287.6 130.3,289.6 130,291.7C129.7,293.7 129.5,295.8 129.2,297.8C129,299.9 128.7,302.9 128.6,303.9" stroke="#c4c3c3" stroke-width="2.7" opacity="0.63"/><path d="M112.3,125.1C112.3,126.2 112.2,129.4 112.2,131.7C112.2,134 112.2,136.3 112.3,138.7C112.4,141.2 112.5,143.7 112.6,146.3C112.8,148.8 112.9,151.5 113.1,154.2C113.3,156.9 113.5,159.7 113.7,162.5C113.9,165.4 114.1,168.3 114.2,171.2C114.4,174.2 114.6,177.2 114.6,180.2C114.6,183.3 114.6,186.4 114.5,189.5C114.3,192.7 113.8,197.5 113.7,199.1" stroke="#f2f2f2" stroke-width="3.9" opacity="0.70"/><path d="M83.1,97.3C82.8,98.3 81.9,101.1 81.5,103C81.1,104.9 80.8,106.9 80.6,108.9C80.4,110.8 80.2,112.9 80.2,114.9C80.2,116.9 80.3,118.9 80.4,120.9C80.6,123 80.9,125 81.2,127C81.5,129 82,131 82.5,133.1C82.9,135.1 83.5,137.1 84.1,139.1C84.8,141.2 85.5,143.3 86.2,145.5C86.9,147.6 88,150.9 88.4,152" stroke="#444142" stroke-width="2.4" opacity="0.84"/><path d="M136.6,238.6C136.2,240.2 135.2,245 134.5,248.3C133.8,251.5 133.1,254.7 132.5,258C131.8,261.2 131.2,264.4 130.7,267.7C130.1,270.9 129.6,274.1 129.2,277.3C128.8,280.6 128.5,283.8 128.2,287C127.9,290.2 127.7,293.4 127.7,296.5C127.6,299.7 127.7,304.3 127.7,305.9" stroke="#e9e9e9" stroke-width="3.1" opacity="0.81"/><path d="M21.8,83.3C21.1,84.2 19.1,86.9 17.9,88.8C16.8,90.6 15.8,92.5 14.9,94.3C14.1,96.2 13.4,98.1 12.8,100C12.3,101.8 11.9,103.7 11.7,105.7C11.4,107.6 11.3,109.5 11.3,111.4C11.3,113.4 11.5,115.4 11.7,117.4C12,119.4 12.4,121.4 12.8,123.5C13.2,125.6 13.8,127.6 14.3,129.8C14.9,132 15.8,135.4 16.1,136.6" stroke="#cfcfcf" stroke-width="2.2" opacity="0.70"/><path d="M54.7,77.4C54.1,78.1 52.3,80.4 51.3,81.9C50.2,83.4 49.2,85 48.3,86.5C47.4,88.1 46.5,89.6 45.8,91.2C45.1,92.8 44.4,94.4 43.8,96C43.2,97.6 42.7,99.3 42.3,100.9C42,102.6 41.6,104.3 41.4,106C41.2,107.7 41.1,109.4 41,111.2C41,112.9 41,114.7 41.1,116.5C41.2,118.2 41.5,121 41.6,121.9" stroke="#c4c3c3" stroke-width="2.6" opacity="0.87"/><path d="M147.2,231.7C146.9,232.7 145.9,235.8 145.2,237.9C144.5,240.1 143.8,242.3 143.1,244.5C142.4,246.8 141.6,249.1 141,251.4C140.3,253.7 139.6,256.1 138.9,258.5C138.2,260.8 137.5,263.3 136.9,265.7C136.2,268.1 135.6,270.5 135,273C134.3,275.4 133.8,277.8 133.2,280.3C132.7,282.8 132.2,285.2 131.7,287.7C131.2,290.2 130.6,293.9 130.4,295.2" stroke="#c4c3c3" stroke-width="3.2" opacity="0.71"/><path d="M144.6,255.1C144.1,256.4 142.6,260.2 141.6,263C140.5,265.8 139.5,268.8 138.5,271.8C137.5,274.8 136.5,278 135.6,281.2C134.7,284.4 133.8,287.6 133,290.9C132.2,294.2 131,299.2 130.7,300.9" stroke="#dedede" stroke-width="2" opacity="0.65"/><path d="M71.1,96.4C70.9,97.4 70,100.2 69.5,102.2C69.1,104.2 68.8,106.2 68.6,108.2C68.3,110.2 68.2,112.3 68.2,114.3C68.2,116.4 68.3,118.5 68.5,120.6C68.7,122.7 69,124.8 69.4,126.9C69.8,128.9 70.3,131 70.8,133C71.3,135 72,137 72.6,138.9C73.3,140.8 74,142.7 74.8,144.6C75.5,146.4 76.8,149.2 77.2,150.2" stroke="#5f5c5d" stroke-width="1.6" opacity="0.63"/><path d="M25.9,84.8C25.5,85.3 24.5,86.8 23.8,87.8C23.2,88.9 22.6,89.9 22,90.9C21.5,92 21,93 20.5,94C20.1,95.1 19.6,96.1 19.3,97.2C18.9,98.2 18.6,99.3 18.3,100.3C18,101.4 17.8,102.4 17.6,103.5C17.4,104.6 17.2,105.7 17.1,106.7C17,107.8 17,108.9 16.9,110C16.9,111.1 17,112.8 17,113.3" stroke="#5f5c5d" stroke-width="1.8" opacity="0.66"/><path d="M128.8,146.8C128.8,147.5 128.7,149.6 128.6,151.1C128.5,152.5 128.5,154 128.4,155.5C128.4,157 128.4,158.5 128.3,160C128.3,161.6 128.2,163.1 128.1,164.7C128.1,166.3 128,168 127.9,169.6C127.9,171.3 127.8,172.9 127.7,174.6C127.6,176.3 127.5,178 127.3,179.8C127.2,181.5 127,183.3 126.8,185.1C126.6,186.8 126.3,189.6 126.2,190.5" stroke="#e9e9e9" stroke-width="3.7" opacity="0.83"/><path d="M150.7,230.4C150.1,231.6 148.5,234.8 147.3,237.8C146.1,240.9 144.7,244.9 143.4,248.7C142.1,252.6 140.8,256.7 139.6,260.8C138.3,264.9 137,269.2 135.8,273.5C134.7,277.8 133.6,282.2 132.6,286.6C131.7,291 130.5,297.7 130.1,299.9" stroke="#4f4b4d" stroke-width="2.7" opacity="0.59"/><path d="M91.4,111.7C91.4,112.7 91.1,115.7 91.1,117.7C91.1,119.7 91.2,121.8 91.4,123.8C91.5,125.9 91.8,128 92.1,130.1C92.4,132.3 92.9,134.4 93.3,136.6C93.8,138.9 94.3,141.1 94.9,143.4C95.4,145.8 96,148.2 96.6,150.7C97.1,153.2 97.7,155.8 98.1,158.5C98.6,161.1 99.1,163.9 99.5,166.6C99.9,169.4 100.4,173.6 100.6,175" stroke="#4f4b4d" stroke-width="3.9" opacity="0.87"/><path d="M104,131.3C104.1,131.9 104.2,133.9 104.4,135.2C104.5,136.5 104.6,137.9 104.8,139.2C104.9,140.6 105.1,142 105.3,143.5C105.4,144.9 105.6,146.3 105.8,147.8C106,149.3 106.1,150.8 106.3,152.3C106.5,153.9 106.7,155.4 106.8,157C107,158.6 107.2,160.2 107.3,161.8C107.5,163.4 107.7,165 107.8,166.6C108,168.3 108.3,170.7 108.3,171.6" stroke="#dedede" stroke-width="2.6" opacity="0.62"/><path d="M130.1,121.5C129.8,122.6 128.5,125.6 128,128.1C127.4,130.5 127.1,133.4 126.8,136.3C126.5,139.3 126.3,142.4 126.2,145.6C126.1,148.8 126,152.2 126,155.6C125.9,159.1 125.9,162.8 125.8,166.5C125.7,170.3 125.6,174.2 125.3,178.2C125.1,182.2 124.7,186.3 124.2,190.5C123.7,194.7 122.8,199.2 122.5,203.4C122.1,207.6 122.2,213.7 122.1,215.8" stroke="#c4c3c3" stroke-width="2.7" opacity="0.62"/><path d="M125.3,112.3C125,112.8 124,114.3 123.5,115.6C123,116.8 122.6,118.3 122.2,119.8C121.9,121.3 121.6,122.9 121.4,124.5C121.2,126.1 121,127.8 120.8,129.6C120.6,131.3 120.5,133.1 120.4,135C120.3,136.8 120.3,138.7 120.2,140.7C120.2,142.6 120.1,144.7 120.1,146.7C120.1,148.8 120.2,150.9 120.2,153C120.2,155.1 120.3,158.5 120.3,159.6" stroke="#e9e9e9" stroke-width="1.6" opacity="0.68"/><path d="M113.3,146.9C113.4,148 113.6,151.4 113.7,153.8C113.8,156.1 114,158.5 114.2,160.9C114.3,163.4 114.5,165.8 114.7,168.3C114.8,170.9 114.9,173.4 115,176C115.1,178.6 115.2,181.3 115.1,184C115.1,186.7 115,189.4 114.8,192.1C114.6,194.9 114.3,197.7 114,200.4C113.7,203.2 113.3,206.2 112.9,208.7C112.6,211.2 112.1,214.5 111.9,215.7" stroke="#cfcfcf" stroke-width="1.5" opacity="0.75"/><path d="M89.3,95.1C89,95.9 88.1,98.3 87.6,100C87.1,101.6 86.7,103.3 86.4,105C86.1,106.6 85.9,108.3 85.7,110.1C85.5,111.8 85.4,113.6 85.4,115.3C85.3,117.1 85.4,118.8 85.5,120.6C85.6,122.4 85.8,124.2 86,125.9C86.2,127.7 86.5,129.5 86.9,131.3C87.3,133.2 87.7,135 88.2,136.8C88.6,138.7 89.4,141.6 89.7,142.5" stroke="#5f5c5d" stroke-width="1.7" opacity="0.67"/><path d="M83.6,91.4C83.1,92.6 81.6,96.3 80.8,98.8C80,101.3 79.5,104 79.1,106.6C78.7,109.3 78.5,112 78.5,114.7C78.4,117.4 78.6,120.1 78.9,122.9C79.2,125.6 79.7,128.3 80.3,131C80.9,133.8 81.7,136.4 82.5,139.1C83.4,141.9 84.4,144.6 85.4,147.5C86.3,150.4 87.5,153.4 88.4,156.5C89.3,159.6 90.5,164.6 90.9,166.2" stroke="#c4c3c3" stroke-width="3.6" opacity="0.77"/><path d="M48.5,75.6C47.8,76.5 45.7,79 44.4,80.7C43.1,82.4 42,84.1 40.9,85.8C39.8,87.5 38.8,89.2 38,91C37.1,92.8 36.4,94.5 35.7,96.3C35.1,98.1 34.6,100 34.2,101.8C33.8,103.7 33.5,105.6 33.3,107.5C33.1,109.4 33,111.4 33.1,113.4C33.1,115.4 33.2,117.4 33.4,119.5C33.6,121.5 34.2,124.7 34.3,125.7" stroke="#dedede" stroke-width="2.8" opacity="0.85"/><path d="M122.7,119.5C122.5,120.6 121.9,123.8 121.6,126.1C121.3,128.4 121.1,130.9 120.9,133.5C120.7,136 120.6,138.7 120.6,141.4C120.5,144.2 120.5,147.1 120.5,150C120.5,152.9 120.6,156 120.6,159.1C120.7,162.2 120.8,165.4 120.9,168.7C120.9,172 120.9,175.4 120.8,178.9C120.7,182.4 120.5,185.9 120.2,189.6C119.9,193.2 119.1,198.7 118.9,200.6" stroke="#dedede" stroke-width="3" opacity="0.87"/><path d="M36,73.4C35,74.6 31.7,78.1 29.8,80.4C27.9,82.7 26.2,85.1 24.7,87.5C23.2,89.8 21.9,92.2 20.9,94.6C19.9,97 19.1,99.4 18.5,101.9C18,104.3 17.7,106.8 17.6,109.4C17.5,111.9 17.7,114.4 17.9,117.1C18.2,119.7 18.7,122.4 19.3,125.3C19.8,128.1 20.5,131.1 21.2,134.1C21.9,137.1 23.1,141.9 23.4,143.4" stroke="#e9e9e9" stroke-width="1.8" opacity="0.58"/><path d="M55.3,67.3C54.9,67.9 53.8,70 52.8,71.3C51.8,72.6 50.4,73.8 49.2,75.1C48.1,76.3 47,77.6 46,78.9C45,80.2 44,81.5 43.1,82.8C42.2,84.1 41.3,85.5 40.5,86.8C39.7,88.1 39,89.4 38.3,90.8C37.6,92.1 37,93.5 36.5,94.9C36,96.2 35.5,97.6 35.1,99C34.7,100.4 34.3,102.6 34.1,103.3" stroke="#5f5c5d" stroke-width="2.8" opacity="0.91"/><path d="M-19.9,106C-20.1,106.7 -20.5,108.8 -20.6,110.1C-20.7,111.5 -20.7,112.9 -20.7,114.3C-20.6,115.7 -20.5,117.1 -20.3,118.5C-20.1,120 -19.9,121.4 -19.6,122.8C-19.3,124.2 -18.9,125.7 -18.6,127.1C-18.2,128.5 -17.7,130 -17.3,131.5C-16.9,132.9 -16.4,134.4 -16,135.9C-15.5,137.4 -14.6,138.9 -14.6,140.3C-14.6,141.8 -15.6,143.9 -15.7,144.6" stroke="#e9e9e9" stroke-width="1.7" opacity="0.74"/><path d="M136.5,266.8C136.1,268.6 134.6,274.1 133.8,277.7C132.9,281.4 132.1,285.1 131.5,288.8C130.8,292.5 130,298.1 129.6,299.9" stroke="#5f5c5d" stroke-width="2" opacity="0.77"/><path d="M141.1,230.1C140.6,232.1 139.2,238.2 138.2,242.3C137.3,246.4 136.2,250.6 135.3,254.7C134.4,258.8 133.5,263 132.7,267.1C131.9,271.3 131.1,275.4 130.5,279.5C129.8,283.7 129.3,287.8 128.9,291.9C128.5,296 128.3,302 128.1,304.1" stroke="#f2f2f2" stroke-width="2" opacity="0.69"/><path d="M-29.4,97.5C-29.7,98.1 -30.6,99.9 -31.2,101C-31.7,102.2 -32.2,103.3 -32.5,104.5C-32.9,105.6 -33.2,106.8 -33.4,108C-33.7,109.1 -33.8,110.3 -33.9,111.4C-34,112.6 -34.1,113.8 -34,114.9C-34,116.1 -33.9,117.3 -33.8,118.4C-33.7,119.6 -33.5,120.8 -33.3,122C-33,123.1 -32.8,124.3 -32.5,125.5C-32.2,126.7 -31.7,128.5 -31.5,129.1" stroke="#4f4b4d" stroke-width="3.7" opacity="0.94"/><path d="M126.4,124.2C126.3,125.1 125.8,127.7 125.5,129.6C125.2,131.4 125,133.4 124.8,135.4C124.7,137.4 124.5,139.5 124.4,141.7C124.3,143.8 124.2,146.1 124.2,148.4C124.1,150.6 124.1,153 124.1,155.4C124.1,157.8 124.1,160.2 124.1,162.8C124.1,165.3 124.1,167.9 124.1,170.5C124,173.1 123.9,175.9 123.8,178.6C123.6,181.4 123.3,185.7 123.2,187.1" stroke="#5a5657" stroke-width="2.2" opacity="0.92"/><path d="M19.2,99.4C19,100.3 18.3,103 18,104.8C17.7,106.6 17.6,108.4 17.6,110.3C17.5,112.1 17.6,114 17.8,115.9C18,117.8 18.3,119.7 18.6,121.7C18.9,123.7 19.4,125.7 19.8,127.8C20.3,129.9 20.8,132.1 21.3,134.3C21.8,136.6 22.3,138.9 22.9,141.1C23.4,143.4 24.3,145.7 24.5,147.8C24.8,149.9 24.3,152.8 24.3,153.9" stroke="#c4c3c3" stroke-width="3.4" opacity="0.85"/><path d="M134.8,277.8C134.5,279.2 133.4,283.6 132.7,286.6C132.1,289.6 131.5,292.6 130.9,295.6C130.3,298.5 129.5,302.9 129.2,304.4" stroke="#676464" stroke-width="3.9" opacity="0.72"/><path d="M52.5,67.3C52,68 50.6,70.1 49.4,71.5C48.2,72.9 46.8,74.3 45.6,75.7C44.4,77.1 43.2,78.4 42.1,79.8C41,81.2 40,82.6 39,84C38.1,85.5 37.2,86.9 36.4,88.3C35.6,89.8 34.8,91.2 34.2,92.6C33.5,94.1 32.9,95.6 32.4,97C31.9,98.5 31.5,100 31.2,101.6C30.8,103.1 30.5,105.4 30.4,106.2" stroke="#e9e9e9" stroke-width="3.7" opacity="0.87"/><path d="M-20.7,66C-21.1,66.5 -21.8,67.9 -22.8,68.9C-23.7,69.9 -25.3,70.9 -26.6,71.8C-27.8,72.8 -29.1,73.8 -30.3,74.7C-31.6,75.7 -32.8,76.7 -34,77.6C-35.2,78.6 -36.4,79.5 -37.6,80.5C-38.7,81.4 -39.9,82.4 -40.9,83.3C-42,84.2 -43.1,85.1 -44,86.1C-45,87 -46,87.9 -46.9,88.8C-47.8,89.7 -49,91.1 -49.5,91.5" stroke="#5f5c5d" stroke-width="2.4" opacity="0.94"/><path d="M-30.6,83.6C-31.1,84.1 -33,85.7 -34.1,86.8C-35.2,87.9 -36.2,88.9 -37.2,90C-38.2,91.1 -39.2,92.1 -40,93.2C-40.9,94.2 -41.7,95.2 -42.4,96.3C-43.2,97.3 -43.9,98.4 -44.5,99.4C-45.1,100.4 -45.6,101.5 -46.1,102.5C-46.5,103.5 -46.9,104.5 -47.3,105.6C-47.6,106.6 -47.9,107.6 -48.1,108.6C-48.3,109.7 -48.5,111.2 -48.6,111.7" stroke="#dedede" stroke-width="3.2" opacity="0.75"/><path d="M41.3,107.4C41.3,108.4 41.1,111.1 41.1,113C41.1,114.9 41.2,116.8 41.3,118.7C41.5,120.6 41.8,122.5 42.1,124.5C42.4,126.5 42.8,128.4 43.3,130.4C43.7,132.4 44.2,134.4 44.8,136.4C45.3,138.4 45.9,140.4 46.5,142.3C47.1,144.3 47.7,146.2 48.3,148.2C49,150.1 49.9,152 50.2,153.7C50.6,155.5 50.2,158 50.2,158.8" stroke="#444142" stroke-width="3.4" opacity="0.68"/><path d="M122,124.2C121.8,125.6 121.3,129.8 121.1,132.8C120.8,135.8 120.7,139 120.7,142.3C120.6,145.6 120.6,149 120.6,152.6C120.7,156.2 120.8,159.9 120.9,163.7C120.9,167.5 121,171.5 121,175.5C120.9,179.6 120.7,183.8 120.4,188.1C120,192.4 119.3,196.9 118.9,201.2C118.5,205.6 117.8,210.1 117.8,214.2C117.8,218.3 118.6,224 118.8,226" stroke="#444142" stroke-width="2.8" opacity="0.70"/><path d="M115.2,138.1C115.2,139 115.2,141.8 115.3,143.8C115.3,145.7 115.4,147.7 115.5,149.7C115.5,151.7 115.6,153.8 115.7,155.9C115.8,158 116,160.1 116.1,162.3C116.2,164.4 116.3,166.6 116.4,168.9C116.5,171.1 116.6,173.4 116.7,175.7C116.7,178 116.7,180.4 116.7,182.7C116.7,185.1 116.6,187.5 116.4,190C116.2,192.4 115.8,196.1 115.7,197.4" stroke="#f2f2f2" stroke-width="1.9" opacity="0.68"/><path d="M139.3,169.2C139.1,170.7 138.5,174.8 138.1,177.7C137.6,180.6 137.1,183.6 136.6,186.7C136.1,189.7 135.5,192.8 135,196C134.4,199.1 133.9,202.2 133.5,205.4C133.1,208.5 133,211.5 132.6,214.7C132.3,217.9 131.8,221.2 131.3,224.5C130.9,227.8 130.4,231.2 129.9,234.5C129.3,237.8 128.7,241.2 128.2,244.5C127.6,247.8 126.9,252.8 126.6,254.4" stroke="#e9e9e9" stroke-width="1.8" opacity="0.82"/><path d="M16.7,90.9C16.2,91.9 14.6,94.9 13.8,97C13,99 12.4,101.1 12,103.2C11.6,105.3 11.4,107.4 11.3,109.5C11.2,111.6 11.3,113.8 11.5,115.9C11.7,118.1 12.1,120.3 12.6,122.6C13,124.8 13.6,127.1 14.2,129.5C14.8,131.9 15.5,134.3 16.1,136.8C16.7,139.4 17.7,142.2 18,144.7C18.3,147.2 17.8,150.8 17.7,152" stroke="#e9e9e9" stroke-width="2" opacity="0.57"/><path d="M-31.2,97C-31.5,97.6 -32.6,99.4 -33.2,100.7C-33.8,101.9 -34.3,103.1 -34.7,104.3C-35.1,105.5 -35.4,106.7 -35.7,107.9C-36,109.1 -36.1,110.3 -36.2,111.5C-36.3,112.7 -36.4,113.9 -36.4,115.1C-36.3,116.3 -36.2,117.5 -36.1,118.7C-36,120 -35.8,121.2 -35.5,122.4C-35.3,123.6 -35,124.9 -34.7,126.1C-34.4,127.3 -33.9,129.2 -33.7,129.8" stroke="#f2f2f2" stroke-width="1.8" opacity="0.80"/><path d="M119.3,143.8C119.4,145.1 119.4,149 119.4,151.7C119.4,154.4 119.5,157.2 119.6,160.1C119.7,163 119.8,165.9 119.9,168.9C119.9,171.9 120,175 119.9,178.1C119.8,181.3 119.7,184.5 119.5,187.8C119.2,191.1 118.8,194.4 118.5,197.8C118.1,201.1 117.4,204.5 117.2,207.8C117,211.1 116.9,214.4 117.1,217.4C117.2,220.4 117.7,224.4 117.9,225.8" stroke="#c4c3c3" stroke-width="3.9" opacity="0.61"/><path d="M145.2,200.9C145,202 144.2,205.2 143.8,207.4C143.4,209.6 143,211.9 142.7,214.2C142.3,216.4 142,218.8 141.6,221.1C141.3,223.5 140.9,225.9 140.4,228.2C140,230.6 139.5,233.1 138.9,235.5C138.4,237.9 137.8,240.3 137.2,242.7C136.6,245.2 136.1,247.6 135.5,250.1C135,252.5 134.4,254.9 133.9,257.4C133.4,259.8 132.7,263.5 132.4,264.7" stroke="#dedede" stroke-width="2.3" opacity="0.81"/><path d="M108.6,89.7C108.2,90.2 107,91.9 106.2,93.1C105.5,94.3 104.7,95.4 104,96.7C103.4,98 102.9,99.3 102.4,100.7C101.9,102.1 101.5,103.5 101.1,104.9C100.7,106.4 100.4,107.9 100.1,109.4C99.9,110.9 99.7,112.4 99.5,113.9C99.4,115.5 99.3,117.1 99.2,118.7C99.2,120.3 99.2,121.9 99.2,123.5C99.3,125.2 99.5,127.8 99.5,128.6" stroke="#dedede" stroke-width="2.2" opacity="0.70"/><path d="M-54.1,91.4C-54.6,91.9 -56,93.6 -56.8,94.6C-57.7,95.7 -58.4,96.8 -59.1,97.9C-59.8,98.9 -60.3,100 -60.8,101.1C-61.4,102.1 -61.8,103.2 -62.1,104.3C-62.5,105.3 -62.7,106.4 -62.9,107.4C-63.1,108.5 -63.2,109.6 -63.3,110.6C-63.3,111.7 -63.3,112.8 -63.2,113.8C-63.1,114.9 -63,116 -62.8,117C-62.6,118.1 -62.1,119.7 -62,120.3" stroke="#cfcfcf" stroke-width="2.4" opacity="0.93"/><path d="M114.8,130C114.8,131.1 114.7,134.5 114.8,136.9C114.8,139.3 114.8,141.8 114.9,144.4C115,146.9 115.1,149.6 115.2,152.3C115.3,155 115.5,157.8 115.6,160.6C115.8,163.4 116,166.3 116.1,169.3C116.2,172.2 116.4,175.2 116.4,178.3C116.4,181.4 116.4,184.5 116.3,187.7C116.1,190.9 115.8,194.2 115.4,197.4C115.1,200.6 114.5,205.5 114.3,207.1" stroke="#dedede" stroke-width="2.8" opacity="0.88"/><path d="M143.8,258.9C143.1,260.7 140.9,266 139.6,270C138.2,273.9 136.8,278.2 135.5,282.5C134.3,286.9 133.3,291.5 132,295.9C130.8,300.3 128.7,306.7 128,308.9" stroke="#444142" stroke-width="3.2" opacity="0.66"/><path d="M93.6,115.7C93.6,116.6 93.5,119.2 93.5,120.9C93.6,122.7 93.7,124.4 93.9,126.2C94.1,128 94.3,129.8 94.6,131.7C94.9,133.5 95.2,135.4 95.6,137.3C96,139.3 96.4,141.2 96.8,143.3C97.3,145.3 97.7,147.4 98.1,149.6C98.6,151.7 99,153.9 99.4,156.2C99.8,158.5 100.2,160.8 100.5,163.2C100.9,165.5 101.4,169.1 101.5,170.3" stroke="#676464" stroke-width="3.7" opacity="0.88"/><path d="M137.4,254.8C137,256.5 135.7,261.4 135,264.7C134.2,268.1 133.4,271.4 132.8,274.7C132.1,278 131.5,281.3 130.9,284.7C130.4,288 129.9,291.3 129.5,294.6C129.1,297.9 128.7,302.8 128.5,304.5" stroke="#dedede" stroke-width="2.7" opacity="0.76"/><path d="M136.6,155.8C136.5,156.8 136.2,159.9 136,162.1C135.8,164.3 135.6,166.5 135.4,168.8C135.2,171 135,173.4 134.7,175.8C134.4,178.2 134,180.6 133.7,183.1C133.3,185.6 132.9,188.1 132.5,190.7C132.1,193.3 131.6,195.9 131.2,198.5C130.8,201.1 130.4,203.7 130.2,206.3C129.9,208.8 130,211.2 129.9,213.8C129.7,216.4 129.2,220.5 129,221.8" stroke="#c4c3c3" stroke-width="2.5" opacity="0.94"/><path d="M131.6,205.8C131.5,207 131.4,210.7 131.1,213.3C130.9,215.9 130.6,218.6 130.3,221.3C129.9,224 129.6,226.7 129.2,229.4C128.8,232.1 128.4,234.8 127.9,237.5C127.5,240.2 127,242.9 126.6,245.6C126.2,248.3 125.8,251 125.4,253.7C125.1,256.4 124.7,259.1 124.5,261.7C124.2,264.4 124,267.1 123.8,269.6C123.6,272.1 123.5,275.6 123.4,276.8" stroke="#c4c3c3" stroke-width="2.4" opacity="0.81"/><path d="M148.7,241.7C148.3,242.6 147,245 146.1,247.2C145.3,249.3 144.3,251.9 143.4,254.4C142.5,257 141.5,259.7 140.6,262.5C139.6,265.3 138.7,268.2 137.8,271.1C136.9,274 136,277 135.2,280C134.4,283 133.6,286.1 132.9,289.2C132.1,292.2 131.6,295.4 130.8,298.4C130.1,301.5 128.9,305.9 128.5,307.4" stroke="#5a5657" stroke-width="2.8" opacity="0.92"/><path d="M-32.6,105.6C-32.7,106.3 -33.2,108.3 -33.4,109.7C-33.6,111.1 -33.7,112.4 -33.7,113.8C-33.7,115.1 -33.7,116.5 -33.5,117.9C-33.4,119.3 -33.2,120.6 -32.9,122C-32.7,123.4 -32.3,124.8 -32,126.2C-31.7,127.6 -31.2,129 -30.8,130.4C-30.4,131.9 -30,133.3 -29.6,134.7C-29.1,136.1 -28.3,137.6 -28.3,139C-28.3,140.4 -29.4,142.4 -29.6,143.1" stroke="#dedede" stroke-width="2.7" opacity="0.61"/><path d="M136.1,230.4C135.8,231.9 134.9,236.5 134.3,239.6C133.7,242.7 133,245.8 132.4,248.9C131.8,252 131.2,255.1 130.7,258.2C130.1,261.2 129.6,264.3 129.2,267.4C128.7,270.5 128.3,273.6 128,276.6C127.7,279.7 127.4,282.7 127.2,285.8C127,288.8 126.9,291.8 126.9,294.8C126.9,297.8 127.2,302.3 127.2,303.8" stroke="#444142" stroke-width="2.1" opacity="0.68"/><path d="M-28.5,96.9C-28.9,97.7 -30.3,100.1 -31,101.7C-31.7,103.3 -32.2,104.9 -32.6,106.5C-33,108.1 -33.3,109.7 -33.4,111.3C-33.5,112.9 -33.5,114.5 -33.5,116.1C-33.4,117.7 -33.2,119.4 -32.9,121C-32.6,122.6 -32.3,124.2 -31.9,125.9C-31.5,127.5 -31,129.2 -30.5,130.9C-30,132.5 -29.3,134.2 -29,135.9C-28.6,137.6 -28.5,140.1 -28.4,140.9" stroke="#444142" stroke-width="2.5" opacity="0.69"/><path d="M133.9,148.6C133.8,149.6 133.5,152.8 133.4,155C133.2,157.2 133.1,159.4 132.9,161.8C132.7,164.1 132.6,166.5 132.4,169C132.2,171.4 132,174 131.7,176.6C131.5,179.1 131.1,181.8 130.8,184.5C130.4,187.1 130,189.9 129.6,192.6C129.2,195.4 128.7,198.2 128.3,201C128,203.8 127.6,206.6 127.4,209.3C127.3,212 127.4,216 127.4,217.3" stroke="#444142" stroke-width="3.6" opacity="0.85"/><path d="M13.1,103.7C13,104.5 12.6,107 12.5,108.6C12.4,110.2 12.4,111.9 12.5,113.5C12.6,115.2 12.8,116.9 13.1,118.6C13.3,120.3 13.6,122 14,123.8C14.4,125.6 14.8,127.4 15.3,129.2C15.7,131 16.2,132.9 16.7,134.9C17.2,136.8 17.7,138.8 18.2,140.9C18.7,142.9 19.5,145.1 19.6,147.1C19.7,149 19,151.6 18.9,152.5" stroke="#444142" stroke-width="2.5" opacity="0.63"/><path d="M32.6,97.7C32.4,98.5 31.7,100.9 31.4,102.5C31,104.1 30.8,105.8 30.6,107.5C30.5,109.1 30.4,110.8 30.4,112.6C30.4,114.3 30.5,116.1 30.7,117.9C30.8,119.7 31,121.5 31.3,123.4C31.6,125.2 31.9,127.1 32.3,128.9C32.7,130.8 33.2,132.6 33.6,134.5C34.1,136.3 34.6,138.2 35.2,140.1C35.7,141.9 36.5,144.7 36.8,145.6" stroke="#e9e9e9" stroke-width="3.3" opacity="0.63"/><path d="M136.5,213.4C136.3,215 135.6,219.9 135.1,223.1C134.7,226.4 134.2,229.7 133.6,233C133,236.3 132.3,239.7 131.7,243C131.1,246.3 130.4,249.6 129.8,252.9C129.3,256.2 128.7,259.6 128.3,262.9C127.8,266.2 127.4,269.5 127,272.7C126.7,276 126.5,279.3 126.3,282.5C126.1,285.8 126.1,289 126.1,292.2C126.2,295.3 126.5,299.8 126.6,301.4" stroke="#444142" stroke-width="2.6" opacity="0.62"/><path d="M67.2,73.6C66.4,74.5 63.8,77.4 62.3,79.4C60.8,81.4 59.5,83.4 58.2,85.5C57,87.5 55.9,89.6 55,91.8C54,93.9 53.2,96 52.6,98.2C51.9,100.5 51.4,102.7 51.1,105C50.7,107.2 50.5,109.6 50.5,111.9C50.4,114.3 50.5,116.6 50.7,119.1C50.9,121.5 51.3,123.9 51.7,126.4C52.1,128.8 53.1,132.5 53.3,133.8" stroke="#f2f2f2" stroke-width="4" opacity="0.69"/><path d="M139.9,242.8C139.4,244.8 137.8,250.7 136.9,254.6C135.9,258.6 134.9,262.6 134.1,266.6C133.2,270.6 132.3,274.6 131.6,278.6C130.9,282.6 130.3,286.6 129.8,290.6C129.3,294.5 128.8,300.5 128.6,302.4" stroke="#5a5657" stroke-width="2.4" opacity="0.61"/><path d="M132.5,289.1C132.3,290.2 131.6,293.4 131.2,295.5C130.8,297.6 130.4,299.8 129.9,301.9C129.4,303.9 128.6,306.9 128.3,307.9" stroke="#444142" stroke-width="3" opacity="0.78"/><path d="M139,149.6C138.9,150.7 138.4,153.8 138.2,156.1C137.9,158.4 137.7,160.8 137.4,163.2C137.2,165.7 136.9,168.3 136.6,170.9C136.3,173.5 136,176.3 135.6,179C135.2,181.8 134.7,184.7 134.3,187.6C133.8,190.4 133.3,193.4 132.8,196.4C132.3,199.3 131.8,202.3 131.4,205.2C131.1,208.2 131.1,211 130.9,213.9C130.6,216.9 130,221.6 129.8,223.1" stroke="#dedede" stroke-width="2.1" opacity="0.83"/><path d="M134.5,162.2C134.4,164 134,169 133.7,172.6C133.3,176.2 132.8,180 132.3,183.8C131.8,187.6 131.1,191.5 130.5,195.5C129.9,199.4 129.3,203.5 128.9,207.4C128.5,211.3 128.7,215.1 128.4,219.1C128,223.1 127.4,227.3 126.8,231.4C126.3,235.5 125.5,239.7 124.9,243.8C124.4,247.9 123.8,252 123.3,255.9C122.9,259.8 122.4,265.3 122.3,267.2" stroke="#676464" stroke-width="1.8" opacity="0.57"/><path d="M99.6,107C99.5,107.8 99,110.1 98.8,111.7C98.6,113.3 98.5,114.9 98.4,116.5C98.3,118.1 98.3,119.8 98.3,121.5C98.3,123.2 98.4,124.9 98.5,126.7C98.6,128.4 98.8,130.2 99,132C99.3,133.8 99.5,135.7 99.8,137.6C100.1,139.5 100.5,141.4 100.8,143.4C101.1,145.4 101.5,147.5 101.8,149.6C102.2,151.7 102.6,155 102.8,156.1" stroke="#c4c3c3" stroke-width="2.2" opacity="0.68"/><path d="M122.8,140.3C122.8,141.2 122.7,144 122.6,145.9C122.6,147.9 122.6,149.9 122.6,151.9C122.6,153.9 122.6,156 122.6,158.1C122.6,160.2 122.7,162.4 122.7,164.6C122.7,166.8 122.7,169 122.7,171.3C122.7,173.6 122.6,175.9 122.5,178.3C122.4,180.7 122.3,183.1 122.1,185.6C121.9,188 121.6,190.5 121.4,193C121.1,195.5 120.6,199.3 120.4,200.6" stroke="#4f4b4d" stroke-width="2.2" opacity="0.86"/><path d="M-4.2,76C-5.4,77.1 -8.9,80.3 -11,82.4C-13.1,84.5 -15.1,86.6 -16.8,88.7C-18.6,90.7 -20.1,92.8 -21.4,94.8C-22.7,96.9 -23.8,98.9 -24.7,101C-25.6,103 -26.2,105 -26.6,107C-27,109.1 -27.2,111.1 -27.3,113.1C-27.3,115.2 -27.1,117.2 -26.9,119.3C-26.6,121.4 -26.1,123.4 -25.6,125.5C-25.1,127.6 -24.2,130.8 -23.9,131.9" stroke="#c4c3c3" stroke-width="2.3" opacity="0.60"/><path d="M114.6,128.4C114.5,129.5 114.4,133 114.4,135.4C114.4,137.8 114.5,140.3 114.5,142.9C114.6,145.5 114.7,148.2 114.8,151C115,153.7 115.1,156.5 115.3,159.4C115.4,162.3 115.7,165.2 115.8,168.2C115.9,171.2 116.1,174.3 116.1,177.4C116.2,180.6 116.2,183.8 116,187C115.9,190.3 115.6,193.6 115.3,196.9C115,200.2 114.3,205.2 114.1,206.9" stroke="#5f5c5d" stroke-width="2.1" opacity="0.77"/><path d="M133.2,124C132.8,124.9 131.3,127.3 130.7,129.5C130,131.8 129.7,134.6 129.3,137.4C129,140.2 128.8,143.3 128.6,146.4C128.4,149.5 128.3,152.8 128.2,156.2C128.1,159.6 128,163.1 127.9,166.8C127.7,170.4 127.6,174.3 127.3,178.2C127,182.1 126.5,186.1 126,190.2C125.5,194.3 124.6,198.7 124.3,202.8C123.9,206.9 123.9,212.9 123.8,214.9" stroke="#676464" stroke-width="2.1" opacity="0.80"/><path d="M126.2,126C126.1,126.7 125.7,128.7 125.5,130.2C125.3,131.6 125.1,133 125,134.6C124.9,136.1 124.7,137.6 124.6,139.2C124.5,140.8 124.5,142.4 124.4,144.1C124.4,145.7 124.3,147.4 124.3,149.2C124.2,150.9 124.2,152.7 124.2,154.4C124.2,156.2 124.2,158.1 124.2,159.9C124.2,161.8 124.2,163.7 124.2,165.6C124.2,167.6 124.1,170.6 124.1,171.5" stroke="#444142" stroke-width="3.3" opacity="0.65"/><path d="M144.4,221C144,222.9 142.9,228.6 142,232.6C141.1,236.5 140,240.5 139,244.5C137.9,248.5 136.9,252.6 135.9,256.7C135,260.7 134,264.8 133.2,268.9C132.4,273 131.6,277.1 130.9,281.1C130.3,285.2 129.7,289.3 129.3,293.4C128.8,297.4 128.4,303.4 128.2,305.4" stroke="#4f4b4d" stroke-width="3.3" opacity="0.55"/><path d="M134.8,203.9C135.5,206.7 138,215 139,220.8C140,226.7 140.7,232.8 140.9,238.9C141.1,244.9 140.4,254.2 140.3,257.3" stroke="#cfcfcf" stroke-width="3.3" opacity="0.69"/><path d="M132.7,162C134.1,164.7 139,172.5 141.2,178.1C143.4,183.7 144.7,189.6 146,195.6C147.3,201.6 148.6,211 149.2,214.1" stroke="#dedede" stroke-width="3.6" opacity="0.72"/><path d="M135.9,198.2C136.5,201 138.6,209.4 139.6,215.4C140.6,221.3 141.6,227.5 141.9,233.7C142.2,239.8 141.8,246.1 141.3,252.3C140.8,258.6 139.4,268.2 139,271.3" stroke="#dedede" stroke-width="3.8" opacity="0.49"/><path d="M115.8,154C117.6,156.3 123.6,162.9 126.7,167.8C129.8,172.7 132.4,178.2 134.5,183.6C136.6,189.1 138.5,197.8 139.3,200.6" stroke="#5a5657" stroke-width="2.4" opacity="0.53"/><path d="M135.2,183C135.9,185.9 138,194.7 139.1,200.7C140.2,206.7 141.3,212.7 141.9,218.9C142.5,225.1 143,231.5 142.9,237.8C142.8,244.1 142.1,250.5 141.4,256.8C140.6,263.2 139.5,269.6 138.3,276.1C137.1,282.5 134.9,292.3 134.2,295.5" stroke="#c4c3c3" stroke-width="2.4" opacity="0.56"/><path d="M121.7,147.3C123.4,149.8 129.1,157.3 132,162.7C134.9,168.1 137.3,173.9 139.1,179.8C140.9,185.7 141.8,191.8 142.8,198C143.8,204.1 144.7,210.3 145.3,216.6C145.9,223 146.1,232.8 146.2,236" stroke="#676464" stroke-width="3.1" opacity="0.70"/><path d="M137.4,197C137.9,199.9 139.7,208.7 140.5,214.8C141.3,220.8 142.2,227.2 142.3,233.4C142.5,239.7 141.9,246 141.3,252.3C140.7,258.7 139.8,265 138.8,271.4C137.8,277.8 136.9,284.4 135.1,290.7C133.3,297 129.2,306 128,309" stroke="#676464" stroke-width="4.3" opacity="0.65"/><path d="M121.5,140.6C123.3,143.2 129.1,150.6 132.3,156C135.4,161.4 138.2,167.2 140.3,173.1C142.4,179 143.7,185.3 144.8,191.5C145.8,197.7 146.1,204 146.7,210.4C147.3,216.8 148.1,226.7 148.4,230" stroke="#676464" stroke-width="2.4" opacity="0.77"/><path d="M136.8,192.4C137.3,195.3 139.2,203.9 140.2,209.9C141.2,215.8 142.5,222.1 142.9,228.3C143.2,234.6 142.9,240.9 142.5,247.2C142.1,253.5 141.3,259.9 140.3,266.3C139.4,272.7 137.3,282.4 136.7,285.7" stroke="#dedede" stroke-width="3.2" opacity="0.61"/><path d="M130.7,181.4C131.5,184.2 134.3,192.6 135.7,198.3C137.2,203.9 138.5,209.5 139.5,215.4C140.5,221.4 141.5,227.6 141.8,233.7C142.1,239.9 141.3,249.3 141.2,252.4" stroke="#cfcfcf" stroke-width="4" opacity="0.59"/><path d="M137,227C137.2,230 138,238.9 138.1,244.9C138.2,250.9 137.9,257 137.5,263.1C137,269.2 136.3,275.4 135.4,281.6C134.5,287.8 132.6,297.3 132,300.5" stroke="#cfcfcf" stroke-width="2.1" opacity="0.65"/><path d="M129,182.9C129.8,185.7 132.3,194.1 133.7,199.7C135.2,205.4 136.6,210.9 137.6,216.8C138.6,222.6 139.5,228.8 139.8,234.9C140,241 139.7,247.1 139.3,253.3C139,259.5 137.8,268.8 137.4,272" stroke="#cfcfcf" stroke-width="2.2" opacity="0.67"/><path d="M130.3,176.1C131.3,178.9 134.4,187.3 136,192.9C137.6,198.6 138.7,204.2 139.8,210.2C140.9,216.1 142.2,222.3 142.6,228.5C143,234.7 142.5,244.1 142.4,247.2" stroke="#c4c3c3" stroke-width="5.2" opacity="0.52"/><path d="M131.6,169.2C132.5,172.1 136,180.6 137.5,186.5C139.1,192.4 139.9,198.3 140.9,204.4C141.8,210.5 142.9,216.8 143.4,223C143.8,229.3 143.8,235.7 143.5,242.1C143.1,248.5 142.3,254.9 141.4,261.4C140.4,267.8 138.4,277.5 137.8,280.8" stroke="#cfcfcf" stroke-width="5.9" opacity="0.48"/><path d="M133.9,209.6C134.4,212.5 136.3,221.1 137,227C137.7,232.9 137.9,239 137.9,245C137.9,251 137.6,257.1 137.1,263.3C136.6,269.4 135.9,275.5 135,281.8C134.1,288 132.3,297.4 131.7,300.5" stroke="#4f4b4d" stroke-width="4.9" opacity="0.46"/><path d="M136.4,232.1C136.6,235.1 137.2,243.9 137.2,249.8C137.2,255.8 137,261.8 136.5,267.9C136,274 135.4,280.2 134.4,286.4C133.3,292.6 131.1,301.9 130.4,305.1" stroke="#4f4b4d" stroke-width="5.8" opacity="0.40"/><path d="M132.1,201C132.7,203.8 135,212.1 136,217.9C137,223.7 137.8,229.8 138.1,235.8C138.4,241.8 138.1,247.9 137.8,254C137.5,260.1 136.9,266.3 136.2,272.4C135.5,278.6 134.9,285 133.5,291.1C132.2,297.2 128.9,306 128,309" stroke="#5a5657" stroke-width="4.7" opacity="0.53"/><path d="M133.8,167.1C134.9,169.9 138.6,178.5 140.2,184.4C141.8,190.3 142.5,196.2 143.5,202.4C144.5,208.6 145.7,214.9 146.2,221.3C146.7,227.7 146.2,237.4 146.3,240.7" stroke="#cfcfcf" stroke-width="3.3" opacity="0.59"/><path d="M139.1,210.7C139.5,213.7 141.3,222.8 141.7,229C142.1,235.2 141.8,241.4 141.5,247.7C141.1,254 140.4,260.3 139.5,266.7C138.6,273 137.6,279.5 136.1,285.9C134.7,292.3 131.8,301.9 131,305.1" stroke="#dedede" stroke-width="3.4" opacity="0.66"/><path d="M141.2,229.3C141.2,232.4 141.5,241.6 141.3,247.8C141,254 140.4,260.3 139.6,266.6C138.7,273 137.8,279.4 136.3,285.8C134.9,292.2 131.9,301.8 131.1,305.1" stroke="#dedede" stroke-width="4.9" opacity="0.64"/><path d="M140.4,234.5C140.4,237.5 140.9,246.5 140.7,252.6C140.5,258.7 139.9,265 139.1,271.3C138.3,277.6 136.3,287.3 135.7,290.5" stroke="#5a5657" stroke-width="3" opacity="0.47"/><path d="M114.3,149C116.1,151.4 121.9,158.3 125,163.4C128.1,168.5 130.8,173.9 132.9,179.5C134.9,185.1 136.2,191.1 137.5,197C138.7,202.8 139.8,208.6 140.6,214.7C141.5,220.7 142.2,230.2 142.6,233.3" stroke="#c4c3c3" stroke-width="3.7" opacity="0.57"/></g><path d="M132,140C146,180 150,230 132,300" fill="none" stroke="#555152" stroke-width="14" opacity=".4" filter="url(#b6)"/><path d="M0,100C20,80 50,80 80,100" fill="none" stroke="#bdbcbc" stroke-width="10" opacity=".5" filter="url(#b6)"/></g><path d="M0,66.5C4.2,66.5 16.5,66.1 25,66.5C33.5,66.9 42.2,67.5 50.7,69C59.2,70.5 67.5,72.2 76,75.4C84.5,78.6 93.9,82.5 101.5,88C109.1,93.5 115.9,100.8 121.8,108.4C127.7,116 132.8,125.3 137,133.7C141.2,142.1 144.7,150.9 147,159C149.3,167.1 150.4,174.8 151,182C151.6,189.2 150.3,194.8 150.3,202C150.3,209.2 151.6,216.9 151,225C150.4,233.1 148.7,242.2 147,250.7C145.3,259.2 143.1,267.5 140.8,276C138.5,284.5 135.3,296 133.2,301.5C131.1,307 128.9,307.8 128,309" fill="none" stroke="#8f8480" stroke-width=".6" opacity=".7"/><path d="M121.8,250.7C121.3,246.4 120.3,230.9 119,225C117.7,219.1 115.7,220.1 114,215C112.3,209.9 111.1,200.5 109,194.6C106.9,188.7 104.9,184.5 101.5,179.4C98.1,174.3 93.5,167.8 88.8,164C84.1,160.2 79.9,158.1 73.6,156.6C67.2,155.1 58.8,156.1 50.7,155C42.6,153.9 33.5,152.1 25,150C16.5,147.9 4.2,143.8 0,142.6" fill="none" stroke="#9a9593" stroke-width="7" opacity=".55" filter="url(#b2)"/><path d="M99.6,218.2C100,216 102.5,215.4 104.3,216.3C106,217.2 106.3,219.6 105,221.3C103.6,222.8 101,222.6 100,221Z" fill="#dd5a5e" filter="url(#b05)"/><circle cx="102.3" cy="218.6" r="1.1" fill="#ef9a98"/><path d="M126.9,305C126.7,309.5 126.6,324.2 125.6,332C124.6,339.8 122.9,345.3 121,352C119.1,358.7 116.2,366.5 114.2,372C112.2,377.5 110.8,380.2 109.1,385C107.4,389.8 106.1,395.4 104,401C101.9,406.6 98.9,413.2 96.4,418.7C93.9,424.2 92.2,428.8 88.8,433.9C85.4,438.9 80.8,444.4 76.1,449C71.4,453.6 67.2,458.7 60.9,461.8C54.5,464.9 45.6,466.2 38,467.5C30.4,468.8 21.5,469.4 15.2,469.6C8.9,469.8 2.5,468.7 0,468.5" fill="none" stroke="#a88e78" stroke-width=".6" opacity=".7"/></g>
<polygon points="104.8,220 290,141.4 290,304.8" fill="url(#cone)"/>
<g transform="translate(293,154)"><polygon points="47,0 195,0 228.5,43.5 0.5,41.5" fill="url(#tan)"/><g clip-path="url(#topclip)"><ellipse cx="60" cy="30" rx="40" ry="9" fill="#f8e8d6" opacity=".7" filter="url(#b3)"/><ellipse cx="185" cy="14" rx="22" ry="10" fill="#e6bf9b" opacity=".4" filter="url(#b3)"/><ellipse cx="60" cy="4" rx="25" ry="6" fill="#e8c4a2" opacity=".5" filter="url(#b3)"/><path d="M0.5,41.5L228.5,43.5" stroke="#f9ead9" stroke-width="2" opacity=".8"/></g><polygon points="0.5,41.5 228.5,43.5 228.5,112 0.5,112" fill="#f7c3ce"/><path d="M0.5,63.6C7.1,65.9 19.7,72.9 30.2,73.8C40.7,74.7 42,68.3 47.9,67.6C53.8,66.9 51.7,73.1 56.8,70.8C61.9,68.5 63.7,58.1 70.8,57.3C77.9,56.5 81.3,66 88.6,67.4C95.9,68.8 99,62.6 103.8,63.6C108.6,64.6 100.6,67.9 110,72C119.4,76.1 136.7,80.8 146,82C155.3,83.2 148.4,79.7 152,77.3C155.6,74.9 156.8,70.6 162.2,71.2C167.6,71.8 169.4,79.8 176.2,80.1C183,80.4 185.1,71.9 192.7,72.5C200.3,73.1 203.5,81.8 210.5,82.6C217.5,83.4 220.4,77.4 224.4,76.3C228.4,75.2 227.6,77.3 228.5,77.6L228.5,112L0.5,112Z" fill="url(#derm)"/><path d="M0.5,63.6C7.1,65.9 19.7,72.9 30.2,73.8C40.7,74.7 42,68.3 47.9,67.6C53.8,66.9 51.7,73.1 56.8,70.8C61.9,68.5 63.7,58.1 70.8,57.3C77.9,56.5 81.3,66 88.6,67.4C95.9,68.8 99,62.6 103.8,63.6C108.6,64.6 100.6,67.9 110,72C119.4,76.1 136.7,80.8 146,82C155.3,83.2 148.4,79.7 152,77.3C155.6,74.9 156.8,70.6 162.2,71.2C167.6,71.8 169.4,79.8 176.2,80.1C183,80.4 185.1,71.9 192.7,72.5C200.3,73.1 203.5,81.8 210.5,82.6C217.5,83.4 220.4,77.4 224.4,76.3C228.4,75.2 227.6,77.3 228.5,77.6" fill="none" stroke="#b06b83" stroke-width="2.1"/><g clip-path="url(#topclip)"><g transform="translate(0,0)"><ellipse cx="110" cy="25" rx="62" ry="19" fill="#f0b09c" opacity=".9" filter="url(#b3)"/><ellipse cx="111" cy="25.5" rx="54" ry="14.5" fill="#e47c72" opacity=".95" filter="url(#b3)"/><ellipse cx="72" cy="29" rx="13" ry="4.5" fill="#d95a5e" opacity=".8" filter="url(#b2)"/><ellipse cx="96" cy="17" rx="10" ry="4.5" fill="#d8565c" opacity=".8" filter="url(#b2)"/><ellipse cx="110" cy="28" rx="9" ry="5" fill="#d65058" opacity=".8" filter="url(#b2)"/><ellipse cx="128" cy="19" rx="10" ry="5" fill="#d95a5f" opacity=".8" filter="url(#b2)"/><ellipse cx="151" cy="24" rx="11" ry="6" fill="#d8555b" opacity=".8" filter="url(#b2)"/><ellipse cx="136" cy="31" rx="9" ry="3.5" fill="#dc6263" opacity=".8" filter="url(#b2)"/><ellipse cx="85" cy="23" rx="7" ry="3.5" fill="#dc6263" opacity=".8" filter="url(#b2)"/><ellipse cx="111" cy="25" rx="56" ry="15" fill="#d5505a" filter="url(#mottle)"/><ellipse cx="111" cy="25" rx="52" ry="12" fill="#fff" filter="url(#mottle2)"/><path d="M84,37L96,24L100,25L92,38Z" fill="#f8dcd6" opacity=".85" filter="url(#b1)"/></g></g><path d="M51,40.5C51.8,38.7 61,38.6 66,37.8C71,37 76.2,35.9 81,35.7C85.8,35.5 90.3,36.4 95,36.6C99.7,36.8 103.3,37.1 109,37C114.7,36.9 122.8,35.6 129,35.7C135.2,35.8 140.7,36.8 146,37.5C151.3,38.2 158.2,38.5 161,40.2C163.8,42 163.4,44.4 162.7,48C162,51.6 159.1,57 157,62C154.9,67 151.8,73.6 150,77.8C148.2,82 147.3,84.1 146,87C144.7,89.9 144,92.9 142.3,95C140.6,97.1 138.1,99.5 136,99.8C133.9,100.1 131.5,98.6 129.8,96.6C128.1,94.6 127.3,90.6 126,88C124.7,85.4 123.5,82.9 122,81C120.5,79.1 118.8,77.5 117,76.5C115.2,75.5 112.7,76.1 111,74.7C109.3,73.3 108,69.8 107,68C106,66.2 106.4,64.7 104.7,63.7C103,62.8 99.6,62.8 97,62.3C94.4,61.8 92.9,61.9 89,60.6C85.1,59.3 78.1,56.3 73.4,54.3C68.7,52.3 64.7,50.8 61,48.5C57.3,46.2 50.2,42.3 51,40.5Z" fill="#f9deb0" stroke="#f5d3a0" stroke-width="0.8" filter="url(#rough)"/><g clip-path="url(#t0)"><g fill="#fef6e4" opacity="0.5"><circle cx="120.5" cy="43.9" r="1.2"/><circle cx="134.5" cy="37.4" r="1.4"/><circle cx="146.5" cy="61.9" r="1"/><circle cx="94.4" cy="53.5" r="0.7"/><circle cx="79.5" cy="51.3" r="0.8"/><circle cx="145.7" cy="37.9" r="1.3"/></g><g fill="#fef6e4" opacity="0.75"><circle cx="154.2" cy="65.5" r="1.1"/><circle cx="126.1" cy="81.6" r="1.4"/><circle cx="148.5" cy="38.4" r="1.3"/><circle cx="91.6" cy="44.7" r="1"/><circle cx="85.9" cy="48.4" r="1"/><circle cx="141.5" cy="44.1" r="1.3"/><circle cx="103.3" cy="44.9" r="1"/><circle cx="110" cy="69.7" r="0.6"/><circle cx="139.3" cy="45.4" r="1.5"/><circle cx="154.1" cy="49.7" r="0.8"/><circle cx="81" cy="46" r="0.8"/><circle cx="76.8" cy="47.5" r="0.6"/><circle cx="113.5" cy="71.4" r="0.8"/><circle cx="75.5" cy="54.2" r="1"/><circle cx="123.3" cy="59.6" r="0.7"/><circle cx="117.1" cy="69" r="1"/><circle cx="119.1" cy="43.4" r="1.4"/><circle cx="97.3" cy="45.3" r="0.8"/></g><g fill="#fef6e4" opacity="1"><circle cx="75.4" cy="49.6" r="1.1"/><circle cx="59.3" cy="43.4" r="1.4"/><circle cx="118" cy="65.8" r="1"/><circle cx="148.3" cy="59.3" r="1.1"/><circle cx="87.5" cy="57.1" r="1.4"/><circle cx="114.4" cy="62.7" r="1.3"/><circle cx="146.7" cy="76" r="1.1"/></g><g fill="#fdf1d8" opacity="0.5"><circle cx="142.1" cy="93.4" r="1.1"/><circle cx="97.9" cy="37.6" r="0.9"/><circle cx="129.7" cy="48.6" r="1.2"/><circle cx="114.7" cy="58.6" r="1.4"/><circle cx="98.6" cy="58.4" r="0.8"/><circle cx="134.6" cy="38.9" r="1.6"/><circle cx="142.1" cy="65.4" r="1.4"/><circle cx="60.4" cy="40.9" r="1.3"/><circle cx="88.6" cy="44.1" r="0.8"/><circle cx="141" cy="68" r="1.3"/><circle cx="123.5" cy="49.6" r="0.7"/><circle cx="145.6" cy="54.9" r="1.3"/><circle cx="129.8" cy="51.8" r="1.5"/><circle cx="157.4" cy="48.8" r="1.5"/><circle cx="124.4" cy="64.7" r="0.8"/><circle cx="125.6" cy="59.2" r="1.3"/></g><g fill="#fdf1d8" opacity="0.75"><circle cx="149.2" cy="74.1" r="1.4"/><circle cx="118.4" cy="62.7" r="0.7"/><circle cx="108.5" cy="55.6" r="0.7"/><circle cx="126.7" cy="48.7" r="0.8"/><circle cx="94.6" cy="41.3" r="0.9"/><circle cx="131.2" cy="36.7" r="1.1"/><circle cx="96.1" cy="51.5" r="1.1"/><circle cx="71.3" cy="49" r="0.8"/><circle cx="141.4" cy="40.6" r="1.2"/><circle cx="117.6" cy="63.2" r="1.1"/><circle cx="107.2" cy="55.5" r="1.1"/><circle cx="153" cy="46" r="0.8"/><circle cx="124.4" cy="56.7" r="1.5"/><circle cx="69.7" cy="48.8" r="1"/><circle cx="150" cy="65.9" r="1.3"/><circle cx="146.3" cy="66.8" r="1"/><circle cx="110.7" cy="45.4" r="1.4"/><circle cx="153.3" cy="45.3" r="0.7"/><circle cx="109.7" cy="45.8" r="1.4"/><circle cx="119" cy="36.9" r="0.9"/><circle cx="111.7" cy="71.6" r="1.2"/><circle cx="76.8" cy="55.3" r="1.1"/><circle cx="152.6" cy="56.3" r="1.1"/><circle cx="118.4" cy="52.5" r="0.8"/><circle cx="148.5" cy="47.2" r="0.8"/><circle cx="125.4" cy="45.1" r="0.8"/><circle cx="101.2" cy="44.5" r="1.1"/><circle cx="134.5" cy="66.6" r="0.6"/><circle cx="113.3" cy="58.4" r="0.7"/><circle cx="104.4" cy="52.2" r="1.5"/><circle cx="91.7" cy="39.7" r="1"/><circle cx="93.9" cy="57.6" r="1.5"/><circle cx="136.5" cy="40.8" r="1.4"/><circle cx="139.3" cy="95.2" r="0.9"/><circle cx="130.7" cy="43.3" r="0.6"/><circle cx="99.3" cy="45.4" r="1.5"/><circle cx="81.6" cy="50.3" r="1.1"/><circle cx="113.4" cy="45.4" r="0.6"/><circle cx="131.9" cy="68.1" r="0.9"/><circle cx="71.4" cy="37.1" r="1"/><circle cx="110" cy="64.7" r="0.9"/><circle cx="148.2" cy="81.3" r="0.9"/><circle cx="142.2" cy="80.6" r="1.4"/><circle cx="103.1" cy="44" r="0.7"/><circle cx="97.2" cy="49.8" r="1.2"/><circle cx="152.9" cy="70.5" r="1.4"/><circle cx="95.1" cy="54.9" r="1.3"/><circle cx="122.7" cy="39.3" r="1.4"/><circle cx="60.4" cy="44.6" r="0.9"/><circle cx="146.5" cy="85.2" r="0.9"/><circle cx="87.2" cy="42.7" r="1.4"/><circle cx="125.6" cy="54.1" r="1.2"/><circle cx="137.6" cy="52.4" r="0.7"/><circle cx="78" cy="38.8" r="1"/><circle cx="88.2" cy="51" r="1.3"/><circle cx="115.1" cy="72.5" r="0.6"/><circle cx="132" cy="79.1" r="0.7"/></g><g fill="#fdf1d8" opacity="1"><circle cx="124" cy="75.2" r="0.8"/><circle cx="154.2" cy="66.1" r="1"/><circle cx="153.9" cy="49.2" r="0.7"/><circle cx="145.8" cy="81.3" r="1.6"/><circle cx="141.5" cy="93.6" r="0.9"/><circle cx="72.1" cy="40.2" r="0.7"/><circle cx="118.6" cy="41.8" r="1.4"/><circle cx="114.6" cy="47.9" r="1.2"/><circle cx="130.6" cy="67" r="1.5"/><circle cx="111.5" cy="37.3" r="1"/><circle cx="68.6" cy="45.8" r="0.9"/><circle cx="134.6" cy="70.5" r="1.1"/><circle cx="104.1" cy="54.5" r="0.7"/><circle cx="83.8" cy="42.3" r="1.3"/><circle cx="109.6" cy="43.1" r="1.1"/><circle cx="128.7" cy="88.2" r="1.3"/><circle cx="83.6" cy="57.8" r="0.8"/><circle cx="67.4" cy="46.9" r="0.7"/><circle cx="152.8" cy="39.2" r="1.2"/><circle cx="155.1" cy="45.4" r="1.1"/><circle cx="148.9" cy="40.3" r="1.1"/><circle cx="90.9" cy="51.5" r="1.6"/><circle cx="111.6" cy="66.5" r="1.3"/><circle cx="96.5" cy="57.2" r="0.9"/></g><g fill="#fbe9c8" opacity="0.5"><circle cx="134.2" cy="85.6" r="1.4"/><circle cx="95.9" cy="38.9" r="0.8"/><circle cx="84" cy="37.1" r="1.4"/><circle cx="137.2" cy="41.6" r="1.5"/><circle cx="121.1" cy="75.5" r="1"/></g><g fill="#fbe9c8" opacity="0.75"><circle cx="147.4" cy="72.4" r="1.2"/><circle cx="141" cy="94.3" r="1.5"/><circle cx="123.5" cy="71.9" r="1.2"/><circle cx="80" cy="41.9" r="1.4"/><circle cx="158.4" cy="54.9" r="0.8"/><circle cx="91.4" cy="59.1" r="1"/><circle cx="139.9" cy="83.1" r="1"/><circle cx="152.1" cy="64.5" r="0.8"/><circle cx="143.7" cy="77.6" r="0.6"/><circle cx="66.5" cy="48.9" r="0.7"/><circle cx="137.7" cy="44.4" r="1.1"/><circle cx="143.8" cy="86.1" r="0.7"/><circle cx="121.7" cy="41.5" r="1"/><circle cx="140.4" cy="89.5" r="0.9"/><circle cx="141.5" cy="86.5" r="1.3"/><circle cx="134.1" cy="63.7" r="1.1"/><circle cx="126.6" cy="64.9" r="1.5"/><circle cx="103.8" cy="37.7" r="1"/><circle cx="129.5" cy="67.4" r="1"/></g><g fill="#fbe9c8" opacity="1"><circle cx="121.3" cy="71.2" r="1.3"/><circle cx="136.9" cy="64.2" r="1.3"/><circle cx="138.6" cy="82" r="1.4"/><circle cx="155.9" cy="56.9" r="1.1"/><circle cx="86.8" cy="39.2" r="1.3"/><circle cx="126.9" cy="38.3" r="1.2"/><circle cx="138.4" cy="57.4" r="1.4"/></g><g fill="#fbe6c0" opacity="0.5"><circle cx="97.8" cy="60.3" r="1"/><circle cx="85.7" cy="50.3" r="1.2"/><circle cx="135.5" cy="60.9" r="1.4"/><circle cx="152.2" cy="63.2" r="1.1"/><circle cx="149.3" cy="42.2" r="0.7"/></g><g fill="#fbe6c0" opacity="0.75"><circle cx="155.1" cy="41" r="0.9"/><circle cx="122.5" cy="59.3" r="0.7"/><circle cx="115.2" cy="43.1" r="0.7"/><circle cx="152.6" cy="45" r="1.6"/><circle cx="129.1" cy="47.9" r="0.9"/><circle cx="132.2" cy="75" r="0.9"/><circle cx="115.1" cy="48.4" r="1.5"/><circle cx="137.3" cy="86.1" r="1.4"/><circle cx="152.3" cy="72.2" r="1.1"/><circle cx="119.4" cy="54.7" r="0.7"/><circle cx="109" cy="39.2" r="1"/><circle cx="123.5" cy="69.8" r="0.9"/><circle cx="107.9" cy="55.5" r="1"/><circle cx="110" cy="70.8" r="1"/><circle cx="130.7" cy="37.8" r="1"/><circle cx="155" cy="62.3" r="0.8"/></g><g fill="#fbe6c0" opacity="1"><circle cx="119.8" cy="40.5" r="0.8"/><circle cx="143.1" cy="54.2" r="1.5"/><circle cx="162.2" cy="48.6" r="1.2"/><circle cx="120.6" cy="53.5" r="1.5"/><circle cx="90.9" cy="48.3" r="1.6"/></g><g fill="#f8d9a6" opacity="0.5"><circle cx="115" cy="48.6" r="1.1"/><circle cx="101.9" cy="48.8" r="0.7"/><circle cx="82.4" cy="37.1" r="1.1"/><circle cx="135.4" cy="51.5" r="0.9"/><circle cx="62.7" cy="44.5" r="1.5"/><circle cx="88.3" cy="43.2" r="0.9"/><circle cx="81.5" cy="54" r="0.9"/><circle cx="114.2" cy="58.1" r="0.8"/></g><g fill="#f8d9a6" opacity="0.75"><circle cx="78.8" cy="38.7" r="0.9"/><circle cx="138" cy="70.3" r="1.5"/><circle cx="119.1" cy="55.2" r="0.7"/><circle cx="64.6" cy="41.7" r="0.8"/><circle cx="79.9" cy="53.4" r="0.9"/><circle cx="85" cy="56.1" r="1"/><circle cx="151.9" cy="70.8" r="1"/><circle cx="121" cy="47.3" r="1.1"/><circle cx="126.4" cy="53.1" r="0.6"/><circle cx="133.8" cy="49.2" r="1.3"/><circle cx="116.3" cy="67.6" r="1.4"/><circle cx="133" cy="81.4" r="0.8"/><circle cx="127.5" cy="90.5" r="1.4"/><circle cx="78.7" cy="41.6" r="1.3"/><circle cx="111.4" cy="72.1" r="1.4"/></g><g fill="#f8d9a6" opacity="1"><circle cx="146.2" cy="75.7" r="1.3"/><circle cx="116" cy="62.6" r="1.4"/><circle cx="58.8" cy="43.7" r="1"/></g><g fill="#f6d39c" opacity="0.5"><circle cx="137.3" cy="56.8" r="0.9"/><circle cx="152.1" cy="67.2" r="1.1"/><circle cx="122.5" cy="64.3" r="1"/><circle cx="155.6" cy="58.8" r="1.4"/><circle cx="72.9" cy="53.6" r="1.2"/><circle cx="145.9" cy="75.3" r="1.5"/></g><g fill="#f6d39c" opacity="0.75"><circle cx="115.9" cy="63.9" r="1.4"/><circle cx="105.4" cy="37.5" r="1.4"/><circle cx="153.9" cy="63.1" r="1"/><circle cx="68.5" cy="43.7" r="1"/><circle cx="91.6" cy="46.3" r="1.2"/><circle cx="78.2" cy="54.9" r="0.9"/><circle cx="97.4" cy="46.6" r="1.5"/><circle cx="144" cy="90.5" r="0.8"/><circle cx="139.2" cy="44.8" r="0.7"/><circle cx="140" cy="45.4" r="1"/><circle cx="110.9" cy="69.9" r="0.7"/><circle cx="157.8" cy="58.5" r="1.4"/><circle cx="123.9" cy="43" r="1.5"/><circle cx="152.9" cy="39" r="0.6"/></g><g fill="#f6d39c" opacity="1"><circle cx="63.1" cy="42.6" r="0.9"/><circle cx="153.2" cy="58.3" r="1.3"/><circle cx="52.4" cy="40.3" r="0.7"/><circle cx="120.6" cy="42.3" r="1.1"/><circle cx="119.4" cy="53.6" r="0.7"/><circle cx="123.6" cy="80.6" r="1.6"/><circle cx="126.6" cy="87.1" r="1"/><circle cx="132.6" cy="72.6" r="0.9"/><circle cx="119.4" cy="75" r="1.5"/></g><g fill="#f5c98a" opacity="0.5"><circle cx="140.8" cy="66.2" r="1.2"/><circle cx="134.3" cy="93.2" r="0.9"/><circle cx="121.5" cy="61.1" r="1.5"/><circle cx="91.2" cy="55.6" r="1"/></g><g fill="#f5c98a" opacity="0.75"><circle cx="62.3" cy="39.5" r="1.4"/><circle cx="124.4" cy="80" r="1.2"/><circle cx="132" cy="80.2" r="0.9"/><circle cx="145.3" cy="81.8" r="1.5"/><circle cx="119.7" cy="76.7" r="1.4"/><circle cx="158.4" cy="53.3" r="1"/><circle cx="111" cy="62.8" r="1.2"/><circle cx="127.4" cy="69.1" r="1.6"/><circle cx="129" cy="80.8" r="1.6"/><circle cx="128.6" cy="91.1" r="1.2"/><circle cx="92.7" cy="54.8" r="1.4"/><circle cx="132" cy="47" r="0.6"/><circle cx="74.3" cy="49.1" r="1.4"/><circle cx="142.1" cy="91.7" r="1.3"/><circle cx="107.7" cy="43.7" r="1.2"/><circle cx="90.9" cy="55.1" r="0.8"/><circle cx="111.8" cy="44.1" r="0.7"/></g><g fill="#f5c98a" opacity="1"><circle cx="133.3" cy="93.4" r="1.3"/><circle cx="72.7" cy="41.9" r="1.5"/><circle cx="104.8" cy="47.9" r="0.7"/><circle cx="90.6" cy="57.4" r="1.1"/><circle cx="131.1" cy="73.8" r="0.8"/><circle cx="91.5" cy="53.3" r="0.6"/><circle cx="141" cy="49" r="1"/><circle cx="143.9" cy="56.7" r="0.9"/><circle cx="110.3" cy="60.5" r="0.7"/><circle cx="155" cy="57.6" r="1.5"/></g><g fill="#f3bf80" opacity="0.5"><circle cx="145.1" cy="69" r="1.2"/><circle cx="61.6" cy="39.7" r="1.6"/><circle cx="137.7" cy="47.2" r="0.7"/><circle cx="131" cy="41.9" r="1.1"/><circle cx="134.8" cy="60.4" r="1.5"/><circle cx="147.9" cy="43.8" r="1.6"/></g><g fill="#f3bf80" opacity="0.75"><circle cx="115.4" cy="38.4" r="0.7"/><circle cx="129" cy="67.6" r="1.2"/><circle cx="104.1" cy="47.2" r="0.6"/><circle cx="129.3" cy="89.8" r="0.8"/><circle cx="155.8" cy="60.4" r="1.6"/><circle cx="130.1" cy="47.2" r="1"/><circle cx="108" cy="60" r="0.8"/><circle cx="136" cy="98.9" r="0.7"/><circle cx="65.3" cy="49.1" r="1"/><circle cx="142.4" cy="92.5" r="0.9"/><circle cx="140.6" cy="84.9" r="1.5"/><circle cx="97.2" cy="39.2" r="0.8"/><circle cx="127.3" cy="49.3" r="1.1"/><circle cx="153.4" cy="40.5" r="1.4"/></g><g fill="#f3bf80" opacity="1"><circle cx="151.6" cy="68.9" r="1.3"/><circle cx="144.4" cy="71.8" r="0.8"/><circle cx="114.1" cy="61.8" r="0.9"/><circle cx="69.3" cy="48.8" r="0.8"/><circle cx="127.3" cy="53.2" r="1.1"/><circle cx="143.1" cy="45.9" r="1.2"/><circle cx="116.8" cy="72.8" r="0.9"/><circle cx="138.8" cy="93.8" r="1.3"/><circle cx="68.7" cy="40" r="0.8"/></g><g fill="#efa67a" opacity="0.5"><circle cx="84.9" cy="41.5" r="1.4"/><circle cx="77.5" cy="44.7" r="0.6"/><circle cx="109.8" cy="54.3" r="1.3"/><circle cx="95.1" cy="57.4" r="1.6"/><circle cx="84.3" cy="57.3" r="1"/><circle cx="71.2" cy="50.2" r="0.7"/><circle cx="84.7" cy="56.8" r="1.3"/><circle cx="102.9" cy="47.9" r="1.5"/></g><g fill="#efa67a" opacity="0.75"><circle cx="95.4" cy="40.4" r="1.2"/><circle cx="143.2" cy="75.2" r="1.1"/><circle cx="110.5" cy="60.7" r="1.6"/><circle cx="117.8" cy="59.1" r="0.9"/><circle cx="121.8" cy="44.9" r="1.3"/><circle cx="58.5" cy="40.5" r="0.7"/><circle cx="72.9" cy="47.3" r="0.8"/><circle cx="137.1" cy="42.9" r="1"/><circle cx="67.7" cy="48" r="0.8"/><circle cx="96.6" cy="44.8" r="1.2"/><circle cx="101.2" cy="55.7" r="0.7"/><circle cx="129.9" cy="47.1" r="0.9"/><circle cx="137.9" cy="69.4" r="0.6"/><circle cx="157.6" cy="54.5" r="1.3"/><circle cx="133.9" cy="41.1" r="0.8"/><circle cx="95.3" cy="41.5" r="1.1"/><circle cx="86.7" cy="38.4" r="0.8"/><circle cx="126.6" cy="47.6" r="1.6"/></g><g fill="#efa67a" opacity="1"><circle cx="123.8" cy="48.8" r="1.3"/><circle cx="140.6" cy="80.9" r="1.5"/><circle cx="108.6" cy="53.3" r="1.6"/><circle cx="84.5" cy="49.5" r="1.1"/></g></g><path d="M51,40.5C53.5,40 61,38.6 66,37.8C71,37 76.2,35.9 81,35.7C85.8,35.5 90.3,36.4 95,36.6C99.7,36.8 103.3,37.1 109,37C114.7,36.9 122.8,35.6 129,35.7C135.2,35.8 140.7,36.8 146,37.5C151.3,38.2 158.5,39.8 161,40.2" fill="none" stroke="#fdf3e0" stroke-width="1.6" opacity=".9" stroke-dasharray="3 1.2"/><path d="M0.5,41.5L47,0H195L228.5,43.5V112H0.5Z" fill="none" stroke="#b59a8c" stroke-width=".8"/></g>
<g transform="translate(592,203)"><polygon points="47,0 195,0 228.5,43.5 0.5,41.5" fill="url(#tan)"/><g clip-path="url(#topclip)"><ellipse cx="60" cy="30" rx="40" ry="9" fill="#f8e8d6" opacity=".7" filter="url(#b3)"/><ellipse cx="185" cy="14" rx="22" ry="10" fill="#e6bf9b" opacity=".4" filter="url(#b3)"/><ellipse cx="60" cy="4" rx="25" ry="6" fill="#e8c4a2" opacity=".5" filter="url(#b3)"/><path d="M0.5,41L37,40.6M191,42.4L228.5,43" stroke="#f9ead9" stroke-width="1.6" opacity=".8"/></g><path d="M38.5,37.5C39.4,35.8 41.2,30.6 44,27C46.8,23.4 50.9,19.1 55.2,15.9C59.5,12.7 64.4,10.2 70,8C75.6,5.8 80.8,4 88.7,2.8C96.6,1.6 107.4,0.4 117.4,0.6C127.4,0.8 140.9,2.6 148.5,4C156.1,5.4 158.6,7 163,9C167.4,11 171.6,13.6 174.8,15.9C178,18.2 180,20.6 182,23C184,25.4 185.6,27.5 186.8,30.3C188,33.1 188.8,38.2 189.2,39.8C186.8,40.8 181.6,43.8 174.8,45.8C168,47.8 158.9,50.2 148.5,51.8C138.1,53.4 124.6,55.2 112.6,55.4C100.6,55.6 86.7,54.4 76.7,53C66.7,51.6 59.2,49.6 52.8,47C46.4,44.4 40.9,39.1 38.5,37.5Z" fill="url(#floor1)"/><g clip-path="url(#c1)"><path d="M38.5,37.5C39.4,35.8 41.2,30.6 44,27C46.8,23.4 50.9,19.1 55.2,15.9C59.5,12.7 64.4,10.2 70,8C75.6,5.8 80.8,4 88.7,2.8C96.6,1.6 107.4,0.4 117.4,0.6C127.4,0.8 140.9,2.6 148.5,4C156.1,5.4 158.6,7 163,9C167.4,11 171.6,13.6 174.8,15.9C178,18.2 180,20.6 182,23C184,25.4 185.6,27.5 186.8,30.3C188,33.1 188.8,38.2 189.2,39.8" fill="none" stroke="#e08fa6" stroke-width="5" opacity=".7" filter="url(#b2)"/><ellipse cx="95" cy="38" rx="40" ry="10" fill="#f8d2da" opacity=".7" filter="url(#b3)"/><ellipse cx="160" cy="40" rx="22" ry="8" fill="#f7ccd6" opacity=".7" filter="url(#b3)"/></g><path d="M0.5,41.5L38.5,37.5C40.9,39.1 46.4,44.4 52.8,47C59.2,49.6 66.7,51.6 76.7,53C86.7,54.4 100.6,55.6 112.6,55.4C124.6,55.2 138.1,53.4 148.5,51.8C158.9,50.2 168,47.8 174.8,45.8C181.6,43.8 186.8,40.8 189.2,39.8L228.5,43.5V112H0.5Z" fill="#f7c3ce"/><path d="M0.5,63.6C7.1,65.9 19.7,72.9 30.2,73.8C40.7,74.7 42,68.3 47.9,67.6C53.8,66.9 51.7,73.1 56.8,70.8C61.9,68.5 63.7,58.1 70.8,57.3C77.9,56.5 81.3,66 88.6,67.4C95.9,68.8 99,62.6 103.8,63.6C108.6,64.6 100.6,67.9 110,72C119.4,76.1 136.7,80.8 146,82C155.3,83.2 148.4,79.7 152,77.3C155.6,74.9 156.8,70.6 162.2,71.2C167.6,71.8 169.4,79.8 176.2,80.1C183,80.4 185.1,71.9 192.7,72.5C200.3,73.1 203.5,81.8 210.5,82.6C217.5,83.4 220.4,77.4 224.4,76.3C228.4,75.2 227.6,77.3 228.5,77.6L228.5,112L0.5,112Z" fill="url(#derm)"/><path d="M0.5,63.6C7.1,65.9 19.7,72.9 30.2,73.8C40.7,74.7 42,68.3 47.9,67.6C53.8,66.9 51.7,73.1 56.8,70.8C61.9,68.5 63.7,58.1 70.8,57.3C77.9,56.5 81.3,66 88.6,67.4C95.9,68.8 99,62.6 103.8,63.6C108.6,64.6 100.6,67.9 110,72C119.4,76.1 136.7,80.8 146,82C155.3,83.2 148.4,79.7 152,77.3C155.6,74.9 156.8,70.6 162.2,71.2C167.6,71.8 169.4,79.8 176.2,80.1C183,80.4 185.1,71.9 192.7,72.5C200.3,73.1 203.5,81.8 210.5,82.6C217.5,83.4 220.4,77.4 224.4,76.3C228.4,75.2 227.6,77.3 228.5,77.6" fill="none" stroke="#b06b83" stroke-width="2.1"/><path d="M98,54.7C99.4,53.9 106.4,55.5 112.6,55.4C118.8,55.3 127.4,54.8 135,54C142.6,53.2 154.2,50 158,50.5C161.8,51 158,54.9 157.5,57C157,59.1 156.2,59.7 155,63C153.8,66.3 151.5,72.8 150,77C148.5,81.2 147.1,85 146,88C144.9,91 145.3,93.1 143.7,94.9C142.1,96.7 138.6,98.5 136.5,98.8C134.4,99.1 132.6,98.1 131,96.5C129.4,94.9 128.1,90.9 127,89C125.9,87.1 126.1,86.9 124.6,85.3C123.1,83.7 120,81.5 118,79.5C116,77.5 114.3,75.4 112.6,73.3C110.9,71.2 109.4,69.2 108,67C106.6,64.8 105.7,62 104,60C102.3,58 96.6,55.5 98,54.7Z" fill="#f9deb0" stroke="#f5d3a0" stroke-width="0.8" filter="url(#rough)"/><g clip-path="url(#t1)"><g fill="#fef6e4" opacity="0.5"><circle cx="126.6" cy="81.8" r="1.2"/><circle cx="146.8" cy="85.4" r="1.1"/></g><g fill="#fef6e4" opacity="0.75"><circle cx="135.6" cy="87.1" r="1.3"/><circle cx="138.8" cy="61" r="1.4"/><circle cx="124.6" cy="81.8" r="1.3"/><circle cx="139.6" cy="88.4" r="0.8"/><circle cx="145.3" cy="74.1" r="0.9"/><circle cx="137.3" cy="94.3" r="0.8"/><circle cx="122.7" cy="81.6" r="0.7"/><circle cx="151.7" cy="52.1" r="1.1"/><circle cx="114.8" cy="67.9" r="1"/><circle cx="108.6" cy="67.8" r="1"/></g><g fill="#fef6e4" opacity="1"><circle cx="146.2" cy="82.3" r="1.5"/><circle cx="135.6" cy="90.8" r="0.9"/><circle cx="131.1" cy="61.4" r="1.4"/><circle cx="136.6" cy="72.5" r="0.8"/><circle cx="129.7" cy="68.6" r="0.9"/><circle cx="135.6" cy="63.7" r="0.9"/><circle cx="144.2" cy="59.6" r="1.6"/><circle cx="116.9" cy="60.1" r="0.9"/><circle cx="105.5" cy="60.9" r="1.4"/></g><g fill="#fdf1d8" opacity="0.5"><circle cx="128.7" cy="74.9" r="0.8"/><circle cx="139.6" cy="81.8" r="1.5"/><circle cx="123.6" cy="78.6" r="1.4"/><circle cx="120.9" cy="75.8" r="1.3"/><circle cx="110.9" cy="67.4" r="1.2"/><circle cx="123.8" cy="68.8" r="1.1"/><circle cx="112.9" cy="56.8" r="1.4"/><circle cx="127.5" cy="63.3" r="1.5"/><circle cx="124.9" cy="70" r="1.6"/><circle cx="113.7" cy="65.8" r="0.8"/><circle cx="118.4" cy="76.2" r="0.9"/><circle cx="148.3" cy="61.1" r="1.2"/><circle cx="141.3" cy="82.3" r="1.4"/></g><g fill="#fdf1d8" opacity="0.75"><circle cx="144.2" cy="70.1" r="1"/><circle cx="152" cy="68.2" r="0.8"/><circle cx="102.3" cy="56.3" r="0.9"/><circle cx="149.4" cy="60.2" r="1.3"/><circle cx="128.3" cy="86.5" r="0.7"/><circle cx="127.4" cy="78.2" r="1.1"/><circle cx="138.9" cy="63.1" r="1.6"/><circle cx="109.4" cy="63.5" r="0.7"/><circle cx="130" cy="80.8" r="0.8"/><circle cx="149.5" cy="60.4" r="1.4"/><circle cx="124.6" cy="74.7" r="1.6"/><circle cx="117.6" cy="66.4" r="0.8"/><circle cx="141.2" cy="76.1" r="0.8"/><circle cx="135.6" cy="79.9" r="1"/><circle cx="139.8" cy="86" r="0.7"/><circle cx="122.7" cy="65.6" r="0.9"/><circle cx="127" cy="70.8" r="0.8"/><circle cx="123.2" cy="83.5" r="1.3"/><circle cx="133.9" cy="58.7" r="0.6"/><circle cx="148.9" cy="67" r="1.1"/><circle cx="145.8" cy="54.1" r="0.7"/><circle cx="110.9" cy="61.6" r="1.1"/></g><g fill="#fdf1d8" opacity="1"><circle cx="144.4" cy="73.8" r="1.4"/><circle cx="129.5" cy="77.6" r="0.7"/><circle cx="134.5" cy="84.3" r="0.8"/><circle cx="144.5" cy="86.2" r="1.5"/><circle cx="142.5" cy="60.8" r="1.1"/><circle cx="146.7" cy="73.8" r="0.7"/><circle cx="140.8" cy="61" r="1.3"/><circle cx="142.9" cy="67.2" r="0.8"/><circle cx="144.2" cy="75.6" r="0.6"/><circle cx="150.7" cy="72.9" r="1.5"/><circle cx="111" cy="69.6" r="1.4"/><circle cx="141.8" cy="62.3" r="0.9"/><circle cx="146.4" cy="65.6" r="1.4"/><circle cx="142.1" cy="77.9" r="1.5"/><circle cx="133.4" cy="57.2" r="1.3"/></g><g fill="#fbe9c8" opacity="0.5"><circle cx="139.8" cy="65.6" r="0.6"/><circle cx="140.3" cy="73.2" r="1.1"/><circle cx="148.6" cy="64.2" r="0.9"/><circle cx="146.4" cy="83.7" r="1.5"/></g><g fill="#fbe9c8" opacity="0.75"><circle cx="122.6" cy="68.1" r="1.1"/><circle cx="133.3" cy="57.2" r="1.3"/><circle cx="139" cy="62.3" r="1.5"/><circle cx="125.7" cy="55.7" r="1.6"/><circle cx="141" cy="58.1" r="1"/><circle cx="135" cy="64.1" r="0.8"/><circle cx="128.8" cy="56.4" r="0.8"/><circle cx="138.6" cy="94.3" r="0.6"/><circle cx="109.9" cy="58.9" r="1.3"/><circle cx="108.8" cy="59.8" r="1.3"/><circle cx="119.7" cy="68.6" r="0.9"/><circle cx="147.6" cy="78" r="0.8"/><circle cx="156.9" cy="57.6" r="1.5"/><circle cx="126.3" cy="63.6" r="1.4"/><circle cx="143" cy="54.2" r="1"/><circle cx="136.9" cy="60.3" r="0.9"/><circle cx="136.3" cy="54.7" r="1.1"/><circle cx="148.8" cy="58" r="1.6"/><circle cx="125.7" cy="81.1" r="1"/><circle cx="145.6" cy="63.5" r="1"/></g><g fill="#fbe9c8" opacity="1"><circle cx="138.6" cy="93.9" r="1.6"/><circle cx="115.7" cy="72" r="1.3"/><circle cx="143.1" cy="57.5" r="1.4"/></g><g fill="#fbe6c0" opacity="0.5"><circle cx="128.4" cy="82.7" r="1.5"/><circle cx="137.9" cy="69.7" r="0.9"/><circle cx="137.2" cy="92.8" r="1.4"/></g><g fill="#fbe6c0" opacity="0.75"><circle cx="150" cy="61.8" r="1.4"/><circle cx="127.5" cy="77.1" r="1.3"/><circle cx="149.9" cy="69.7" r="1.2"/><circle cx="133.4" cy="70" r="1"/><circle cx="112" cy="67.8" r="0.9"/><circle cx="141.7" cy="75.8" r="0.7"/><circle cx="125.9" cy="74.4" r="0.8"/><circle cx="143.4" cy="79.6" r="1.1"/><circle cx="144.8" cy="61.1" r="1.2"/><circle cx="118.4" cy="58.6" r="0.9"/><circle cx="143" cy="71" r="1.1"/><circle cx="140.9" cy="95.8" r="0.8"/><circle cx="131.9" cy="81.7" r="0.9"/></g><g fill="#fbe6c0" opacity="1"><circle cx="126.8" cy="74.3" r="1.3"/><circle cx="111.8" cy="56.4" r="0.6"/></g><g fill="#f8d9a6" opacity="0.5"><circle cx="143.7" cy="60.3" r="1.3"/><circle cx="135.4" cy="80.8" r="1.6"/></g><g fill="#f8d9a6" opacity="0.75"><circle cx="141" cy="54.9" r="0.8"/><circle cx="128" cy="70.4" r="0.8"/><circle cx="148.9" cy="77.7" r="0.7"/><circle cx="152.9" cy="53.1" r="1.4"/><circle cx="136.7" cy="57.6" r="1.5"/><circle cx="118.5" cy="56.3" r="1.2"/></g><g fill="#f8d9a6" opacity="1"><circle cx="126.7" cy="62.7" r="1.6"/><circle cx="131.3" cy="94.2" r="1.5"/><circle cx="151.3" cy="72.7" r="1.1"/><circle cx="131.1" cy="66.5" r="1.1"/></g><g fill="#f6d39c" opacity="0.5"><circle cx="133.7" cy="85.3" r="1.3"/><circle cx="138.2" cy="81.6" r="1.4"/><circle cx="129.8" cy="73.7" r="0.9"/></g><g fill="#f6d39c" opacity="0.75"><circle cx="146.4" cy="82.8" r="0.8"/><circle cx="143.2" cy="57.7" r="0.9"/><circle cx="108" cy="55.9" r="1.1"/><circle cx="142.7" cy="68.3" r="1.1"/><circle cx="112.8" cy="73.2" r="1.3"/><circle cx="116.3" cy="73.8" r="1.3"/></g><g fill="#f6d39c" opacity="1"><circle cx="119.3" cy="65.9" r="1.6"/><circle cx="119.3" cy="77.7" r="1"/><circle cx="153.7" cy="60.1" r="1.4"/><circle cx="129.3" cy="85.4" r="0.6"/><circle cx="115" cy="72.1" r="1.6"/><circle cx="116.7" cy="73.7" r="1.4"/><circle cx="145.9" cy="72.3" r="1.3"/></g><g fill="#f5c98a" opacity="0.5"><circle cx="139" cy="86.8" r="1.4"/><circle cx="109.4" cy="68.4" r="0.6"/><circle cx="135.9" cy="90" r="0.9"/><circle cx="143.8" cy="61.4" r="0.7"/><circle cx="113.8" cy="58.3" r="1.5"/></g><g fill="#f5c98a" opacity="0.75"><circle cx="127.1" cy="63.3" r="1.4"/><circle cx="117.5" cy="74.4" r="0.8"/><circle cx="146.2" cy="86.1" r="1.3"/><circle cx="135" cy="81.7" r="1.1"/><circle cx="107.5" cy="57.9" r="1.2"/><circle cx="111.9" cy="56.7" r="0.9"/><circle cx="155.6" cy="58.5" r="1.5"/><circle cx="117.8" cy="61.5" r="0.9"/><circle cx="149.2" cy="65.7" r="1.5"/><circle cx="121.3" cy="72.1" r="1.4"/><circle cx="135.6" cy="91.9" r="1.1"/></g><g fill="#f5c98a" opacity="1"><circle cx="131.5" cy="69.2" r="0.9"/><circle cx="112.7" cy="58.6" r="1.5"/><circle cx="147.2" cy="61.2" r="1.3"/><circle cx="121.5" cy="57.5" r="0.7"/></g><g fill="#f3bf80" opacity="0.5"><circle cx="147.1" cy="56.5" r="1.5"/><circle cx="138.9" cy="58.2" r="0.8"/></g><g fill="#f3bf80" opacity="0.75"><circle cx="137.1" cy="80.8" r="1.4"/><circle cx="137.9" cy="78.6" r="1.2"/><circle cx="132" cy="64.6" r="1.5"/><circle cx="134" cy="72.1" r="0.7"/></g><g fill="#f3bf80" opacity="1"><circle cx="136.1" cy="73.6" r="0.8"/><circle cx="103.7" cy="55" r="0.6"/><circle cx="143.1" cy="68.6" r="0.9"/><circle cx="125.4" cy="70.4" r="1.1"/><circle cx="145.8" cy="70.9" r="0.7"/><circle cx="136.4" cy="80.4" r="1.5"/></g><g fill="#efa67a" opacity="0.5"><circle cx="141.7" cy="69.9" r="0.8"/><circle cx="117.6" cy="61.5" r="1.5"/><circle cx="114.2" cy="67.6" r="0.9"/><circle cx="144.3" cy="78.5" r="0.8"/><circle cx="131.5" cy="72.3" r="0.9"/></g><g fill="#efa67a" opacity="0.75"><circle cx="155.2" cy="51.6" r="1.2"/><circle cx="132.9" cy="54.4" r="1.5"/><circle cx="134.4" cy="80.5" r="1.1"/><circle cx="137.5" cy="73.4" r="1.4"/><circle cx="128.4" cy="89" r="1.2"/><circle cx="118.2" cy="56.1" r="1"/><circle cx="102.2" cy="56.2" r="1.1"/><circle cx="143.4" cy="54.4" r="1.5"/><circle cx="136.6" cy="82.3" r="0.8"/><circle cx="132.5" cy="89.1" r="0.8"/><circle cx="129.2" cy="88.7" r="1"/><circle cx="127.4" cy="80.1" r="0.7"/><circle cx="141.1" cy="76.4" r="1"/><circle cx="116.1" cy="56.2" r="0.8"/></g><g fill="#efa67a" opacity="1"><circle cx="112.9" cy="69.6" r="1.5"/><circle cx="134.8" cy="79.8" r="1.4"/><circle cx="132.6" cy="90" r="1.1"/><circle cx="140.1" cy="75.3" r="1.6"/><circle cx="145" cy="62.6" r="1.1"/></g></g><g filter="url(#b05)"><g fill="#fbe8c6" opacity="1"><circle cx="100.6" cy="26.4" r="2.5"/><circle cx="102.6" cy="27.7" r="1.9"/><circle cx="100.3" cy="29.9" r="2.8"/><circle cx="99.6" cy="29.2" r="2.1"/><circle cx="91.9" cy="29.1" r="3.1"/><circle cx="92.6" cy="23.4" r="2.2"/><circle cx="97.1" cy="26.7" r="2.4"/><circle cx="103.7" cy="25.2" r="1.8"/><circle cx="101.8" cy="29.2" r="2"/><circle cx="95" cy="30" r="1.8"/><circle cx="91.6" cy="22.6" r="2.4"/><circle cx="85.2" cy="23.6" r="2.5"/><circle cx="85.8" cy="27.6" r="1.7"/><circle cx="90.3" cy="26.8" r="1.8"/><circle cx="90.3" cy="22.1" r="2.4"/><circle cx="98.8" cy="28.4" r="1.8"/><circle cx="104.2" cy="26.6" r="2.6"/><circle cx="94.8" cy="27" r="2.9"/></g><g fill="#fae3ba" opacity="1"><circle cx="101.8" cy="29.5" r="2.2"/><circle cx="86.7" cy="29.7" r="2.8"/><circle cx="94.7" cy="23.8" r="1.7"/><circle cx="99.9" cy="25.7" r="2.1"/><circle cx="99.6" cy="28.4" r="3.1"/><circle cx="95.2" cy="29.8" r="1.8"/><circle cx="91.8" cy="26.3" r="1.9"/><circle cx="89.6" cy="26.3" r="2.5"/><circle cx="98.5" cy="22.3" r="2.1"/></g><g fill="#f9deb0" opacity="1"><circle cx="84.9" cy="24.9" r="1.7"/><circle cx="94.3" cy="29.3" r="2.6"/><circle cx="102.5" cy="27.5" r="2.9"/><circle cx="93.1" cy="26.2" r="2.2"/><circle cx="89.3" cy="24.1" r="1.9"/><circle cx="98.9" cy="23.1" r="2.7"/><circle cx="102.5" cy="29.2" r="2.2"/><circle cx="102.3" cy="27.6" r="2.7"/><circle cx="91.1" cy="21.5" r="3.1"/><circle cx="102" cy="24.5" r="2.5"/><circle cx="94.9" cy="21.8" r="2.6"/><circle cx="94.1" cy="28.7" r="1.7"/><circle cx="87.5" cy="28.2" r="3"/></g><g fill="#f8d9a6" opacity="1"><circle cx="85.2" cy="27.1" r="3"/><circle cx="100" cy="29.7" r="2.8"/><circle cx="87.6" cy="25.6" r="1.9"/><circle cx="96.3" cy="30.2" r="1.7"/><circle cx="93.4" cy="22.7" r="2.6"/><circle cx="101.1" cy="24.2" r="3"/><circle cx="100.4" cy="23.1" r="2.3"/><circle cx="84.8" cy="24.9" r="2.9"/><circle cx="98.9" cy="23.9" r="1.9"/><circle cx="97.3" cy="29.8" r="2.2"/><circle cx="97.5" cy="29.2" r="3"/><circle cx="90.7" cy="25.2" r="3.1"/><circle cx="91.7" cy="21.8" r="3"/><circle cx="102.8" cy="24.4" r="2.7"/><circle cx="99.2" cy="26.3" r="2.4"/><circle cx="94.9" cy="24.9" r="2.7"/></g></g><g fill="#fef6e4" opacity="0.5"><circle cx="89.2" cy="24.2" r="0.8"/></g><g fill="#fef6e4" opacity="0.75"><circle cx="102.5" cy="25.4" r="0.8"/></g><g fill="#fdf1d8" opacity="0.75"><circle cx="97.6" cy="26.6" r="1.3"/><circle cx="87" cy="27.5" r="1.1"/><circle cx="98.4" cy="27.2" r="1.2"/></g><g fill="#fdf1d8" opacity="1"><circle cx="91.9" cy="22.5" r="0.7"/><circle cx="100.2" cy="27.2" r="1.1"/><circle cx="102.2" cy="25.3" r="0.7"/></g><g fill="#fbe9c8" opacity="1"><circle cx="101" cy="29.1" r="0.6"/></g><g fill="#fbe6c0" opacity="0.75"><circle cx="102.4" cy="23.8" r="0.7"/><circle cx="87.9" cy="24.1" r="1.1"/><circle cx="90.4" cy="27.6" r="0.7"/></g><g fill="#f8d9a6" opacity="1"><circle cx="94.9" cy="28.9" r="1.4"/><circle cx="93.8" cy="30.9" r="0.8"/></g><g fill="#f6d39c" opacity="0.75"><circle cx="87.7" cy="23.7" r="1"/><circle cx="97.1" cy="30.2" r="0.7"/><circle cx="97.1" cy="23.8" r="1"/></g><g fill="#f5c98a" opacity="0.5"><circle cx="94" cy="22" r="0.9"/><circle cx="93.5" cy="30.4" r="1.1"/></g><g fill="#f5c98a" opacity="0.75"><circle cx="88.7" cy="28.1" r="0.7"/></g><g fill="#f5c98a" opacity="1"><circle cx="104.4" cy="27.7" r="1.3"/><circle cx="88.1" cy="27.4" r="1"/></g><g fill="#f3bf80" opacity="0.75"><circle cx="103.8" cy="26.2" r="1"/><circle cx="92" cy="29.8" r="1.1"/><circle cx="99.2" cy="30.1" r="1"/><circle cx="100" cy="28.2" r="0.9"/><circle cx="89.7" cy="22.1" r="1.2"/><circle cx="94.8" cy="24.5" r="1.2"/></g><g fill="#efa67a" opacity="0.75"><circle cx="101.7" cy="27.6" r="1.3"/><circle cx="100" cy="27.2" r="1.1"/><circle cx="103.2" cy="26.6" r="0.7"/><circle cx="89.4" cy="28.6" r="1.1"/><circle cx="101.1" cy="24.3" r="1.4"/></g><g fill="#efa67a" opacity="1"><circle cx="95.3" cy="24.2" r="0.6"/></g><g filter="url(#b05)"><g fill="#fbe8c6" opacity="1"><circle cx="136.8" cy="24.1" r="2.1"/><circle cx="136.4" cy="29.8" r="2.5"/><circle cx="137.6" cy="29.1" r="2.5"/><circle cx="131.6" cy="26.9" r="2.3"/><circle cx="139.2" cy="24.2" r="2.3"/><circle cx="147.8" cy="30" r="2.6"/><circle cx="139.2" cy="24.6" r="2.8"/><circle cx="139.8" cy="30.3" r="2"/><circle cx="147.2" cy="29.7" r="2.5"/><circle cx="141.3" cy="28.9" r="2.1"/><circle cx="135.7" cy="26.5" r="3"/><circle cx="147" cy="30.6" r="3.1"/><circle cx="139.5" cy="25.1" r="2.7"/><circle cx="134.2" cy="26" r="2.4"/><circle cx="134.6" cy="31.5" r="1.7"/><circle cx="132.7" cy="26" r="2.9"/><circle cx="141.3" cy="32.7" r="1.7"/></g><g fill="#fae3ba" opacity="1"><circle cx="136.5" cy="24.4" r="1.9"/><circle cx="147" cy="30.5" r="2.9"/><circle cx="138.4" cy="27" r="2.5"/><circle cx="140.1" cy="30.7" r="2.7"/><circle cx="145.1" cy="31.5" r="1.8"/><circle cx="140.8" cy="26.6" r="2.1"/><circle cx="137.2" cy="25" r="1.9"/><circle cx="143.6" cy="29.5" r="2.9"/><circle cx="135.1" cy="31.4" r="3"/></g><g fill="#f9deb0" opacity="1"><circle cx="137.7" cy="28.4" r="2.7"/><circle cx="135.5" cy="28.9" r="2.4"/><circle cx="140.2" cy="29.2" r="2.8"/><circle cx="135.4" cy="26.9" r="2.5"/><circle cx="138.2" cy="33.7" r="2.1"/><circle cx="147.3" cy="27.5" r="1.8"/><circle cx="142.7" cy="23.5" r="2.5"/><circle cx="135.4" cy="24.7" r="2.6"/><circle cx="137.8" cy="32.4" r="2"/><circle cx="135.5" cy="27.2" r="2.1"/><circle cx="135.6" cy="27.9" r="1.9"/><circle cx="144.2" cy="32.1" r="1.8"/><circle cx="139.3" cy="25.4" r="2.2"/><circle cx="141" cy="31.7" r="2.2"/><circle cx="142.1" cy="23.2" r="1.9"/></g><g fill="#f8d9a6" opacity="1"><circle cx="138.3" cy="30.6" r="3"/><circle cx="146.7" cy="29.4" r="3.1"/><circle cx="143.2" cy="27.5" r="2"/><circle cx="140.7" cy="25.1" r="3.1"/><circle cx="146.4" cy="26.5" r="2"/><circle cx="133.2" cy="30.1" r="1.9"/><circle cx="144.5" cy="28.6" r="1.9"/><circle cx="135.3" cy="29" r="2.9"/><circle cx="132.1" cy="28" r="2.5"/><circle cx="137.5" cy="23.7" r="2.5"/><circle cx="138.6" cy="25.8" r="2.2"/><circle cx="139.5" cy="32" r="3.1"/><circle cx="141.5" cy="29" r="2.4"/><circle cx="144.2" cy="32.4" r="2.5"/><circle cx="139.3" cy="24.9" r="2.1"/></g></g><g fill="#fef6e4" opacity="0.75"><circle cx="142.6" cy="28.1" r="1.3"/><circle cx="142.2" cy="32.3" r="1"/><circle cx="147.3" cy="26.8" r="1"/></g><g fill="#fef6e4" opacity="1"><circle cx="146" cy="25.7" r="0.7"/></g><g fill="#fdf1d8" opacity="0.5"><circle cx="132.8" cy="29" r="1"/><circle cx="134.8" cy="24.6" r="0.9"/></g><g fill="#fdf1d8" opacity="0.75"><circle cx="144.5" cy="23.7" r="1.4"/><circle cx="135.8" cy="31.2" r="1.4"/></g><g fill="#fdf1d8" opacity="1"><circle cx="135.1" cy="29" r="1"/><circle cx="146.9" cy="25.5" r="0.7"/><circle cx="136.8" cy="29" r="1.3"/></g><g fill="#fbe9c8" opacity="0.5"><circle cx="137.8" cy="24.4" r="1.3"/></g><g fill="#fbe9c8" opacity="0.75"><circle cx="133.6" cy="28.4" r="1"/><circle cx="142.3" cy="23.4" r="1.2"/><circle cx="142.4" cy="30.3" r="0.7"/><circle cx="137.6" cy="24.3" r="0.8"/></g><g fill="#fbe9c8" opacity="1"><circle cx="133.3" cy="27.1" r="0.7"/></g><g fill="#fbe6c0" opacity="0.75"><circle cx="134.9" cy="26.7" r="1.1"/><circle cx="145" cy="32.4" r="1.1"/><circle cx="139.2" cy="26.4" r="0.9"/><circle cx="136.1" cy="32.5" r="1.1"/><circle cx="142.7" cy="32.7" r="0.8"/></g><g fill="#fbe6c0" opacity="1"><circle cx="141.8" cy="29.4" r="1.3"/></g><g fill="#f8d9a6" opacity="0.75"><circle cx="146.2" cy="27.3" r="1.2"/><circle cx="144.1" cy="28.7" r="1"/></g><g fill="#f6d39c" opacity="0.75"><circle cx="138.5" cy="30.2" r="0.7"/><circle cx="136.8" cy="32.1" r="1.3"/><circle cx="144.6" cy="27.6" r="0.7"/></g><g fill="#f3bf80" opacity="0.75"><circle cx="136" cy="25.5" r="1.1"/><circle cx="144.3" cy="24.5" r="0.6"/></g><g fill="#efa67a" opacity="0.75"><circle cx="147.9" cy="27.4" r="1.1"/></g><g filter="url(#b05)"><g fill="#fbe8c6" opacity="1"><circle cx="69.8" cy="47.3" r="1.8"/><circle cx="77.8" cy="45.1" r="2.1"/><circle cx="72.6" cy="45.5" r="2"/><circle cx="97.5" cy="48.2" r="3.1"/><circle cx="87.2" cy="46.1" r="3"/><circle cx="81.1" cy="40" r="2.7"/><circle cx="76.5" cy="47.3" r="2"/><circle cx="93.8" cy="45.2" r="2.3"/><circle cx="89.1" cy="39.2" r="2.3"/><circle cx="92" cy="48.5" r="2.1"/><circle cx="92.1" cy="41.1" r="2.8"/><circle cx="82.1" cy="46" r="2.4"/><circle cx="75.2" cy="51.6" r="3"/><circle cx="74.4" cy="50.7" r="2.9"/><circle cx="63.4" cy="45.4" r="2.3"/><circle cx="66.6" cy="45" r="2.7"/><circle cx="81.5" cy="42.2" r="1.9"/><circle cx="86.1" cy="48.2" r="2.8"/><circle cx="67.9" cy="47.7" r="2.1"/><circle cx="89.2" cy="40" r="2"/><circle cx="72" cy="43.2" r="2.2"/><circle cx="95.3" cy="42.2" r="2.3"/></g><g fill="#fae3ba" opacity="1"><circle cx="65.5" cy="45.3" r="2.2"/><circle cx="75.4" cy="47" r="2.2"/><circle cx="87.8" cy="42.9" r="2.7"/><circle cx="96.5" cy="45" r="1.9"/><circle cx="80.5" cy="45.3" r="1.9"/><circle cx="82.6" cy="51" r="3"/><circle cx="98.8" cy="44.2" r="3"/><circle cx="76.9" cy="43" r="3"/><circle cx="78.5" cy="45.8" r="2"/><circle cx="73.3" cy="48.4" r="1.7"/><circle cx="84.3" cy="45.4" r="3"/><circle cx="73.2" cy="46.6" r="2.4"/><circle cx="73.2" cy="50.3" r="2.1"/><circle cx="89.1" cy="42.7" r="1.8"/><circle cx="66.8" cy="47.1" r="2.2"/><circle cx="66.2" cy="46" r="2.2"/><circle cx="68.6" cy="47" r="2.6"/><circle cx="92" cy="44.6" r="2.7"/><circle cx="85.3" cy="45.9" r="2.8"/><circle cx="91.1" cy="50.7" r="1.9"/><circle cx="88.7" cy="44.6" r="2.8"/><circle cx="86.9" cy="41" r="2.4"/><circle cx="77.2" cy="48.3" r="1.9"/><circle cx="68.5" cy="44.2" r="1.8"/><circle cx="69.7" cy="41.5" r="2.6"/><circle cx="73.2" cy="42.2" r="2.5"/><circle cx="92.9" cy="47.2" r="3.1"/><circle cx="87.2" cy="40.3" r="1.9"/><circle cx="83.7" cy="41.4" r="1.8"/><circle cx="87.5" cy="46.2" r="1.7"/><circle cx="94" cy="48.8" r="2.3"/><circle cx="81.9" cy="47.1" r="1.9"/></g><g fill="#f9deb0" opacity="1"><circle cx="84" cy="47.6" r="2.4"/><circle cx="90.5" cy="51.1" r="1.9"/><circle cx="74.6" cy="47.3" r="2.3"/><circle cx="75.6" cy="46.1" r="2.4"/><circle cx="71.5" cy="42.8" r="1.9"/><circle cx="90.2" cy="40" r="2.3"/><circle cx="79.6" cy="40.6" r="2.6"/><circle cx="82.2" cy="45.2" r="2.2"/><circle cx="85.7" cy="46.2" r="1.9"/><circle cx="96" cy="43.8" r="2.4"/><circle cx="90" cy="51.5" r="2.9"/><circle cx="85.6" cy="47.6" r="2.6"/><circle cx="83.8" cy="40" r="1.7"/><circle cx="80.6" cy="48.1" r="1.8"/><circle cx="79.2" cy="46.2" r="2.1"/><circle cx="89.9" cy="45.7" r="1.8"/><circle cx="87.1" cy="47.2" r="2.9"/><circle cx="68.2" cy="43.7" r="2.5"/><circle cx="85" cy="39.6" r="2.5"/><circle cx="90.4" cy="46.1" r="2.8"/><circle cx="72.4" cy="43.2" r="2.7"/><circle cx="96.4" cy="42.9" r="2.2"/><circle cx="91.2" cy="47.4" r="1.7"/><circle cx="75.1" cy="44.5" r="3"/><circle cx="92.6" cy="47.5" r="3.1"/><circle cx="85.6" cy="50.5" r="1.9"/><circle cx="69.7" cy="45.4" r="1.8"/><circle cx="86.3" cy="40.8" r="2.8"/><circle cx="93.8" cy="47.3" r="1.9"/><circle cx="75" cy="45.1" r="3"/><circle cx="70.7" cy="46.4" r="2.5"/><circle cx="96.6" cy="43.7" r="1.9"/><circle cx="89.6" cy="51.7" r="2.6"/></g><g fill="#f8d9a6" opacity="1"><circle cx="83" cy="47.1" r="2.1"/><circle cx="74.4" cy="47" r="2.2"/><circle cx="77.9" cy="42.9" r="2"/><circle cx="90.7" cy="46.7" r="2.7"/><circle cx="97.1" cy="43.8" r="2.2"/><circle cx="82.3" cy="49" r="2.7"/><circle cx="86.2" cy="44.9" r="2.3"/><circle cx="89.4" cy="44.9" r="2.7"/><circle cx="94.8" cy="43.1" r="2.9"/><circle cx="83.1" cy="50.4" r="2.8"/><circle cx="87.9" cy="49.8" r="2.9"/><circle cx="85.1" cy="40.9" r="2.2"/><circle cx="85.7" cy="43.1" r="2.2"/><circle cx="84.9" cy="48.9" r="2.6"/><circle cx="75.3" cy="41" r="1.8"/><circle cx="94" cy="47" r="2.1"/><circle cx="79.6" cy="43.1" r="2"/><circle cx="80.3" cy="48.6" r="2.6"/><circle cx="66" cy="44.9" r="1.9"/><circle cx="84.2" cy="48" r="2.3"/><circle cx="72.8" cy="42.3" r="2.8"/><circle cx="87.4" cy="42.6" r="2.5"/><circle cx="76.4" cy="50.8" r="1.8"/><circle cx="85.5" cy="45.7" r="2.8"/><circle cx="87.1" cy="42.6" r="2.2"/><circle cx="73.6" cy="43.9" r="2.2"/><circle cx="74.5" cy="41.5" r="2.6"/><circle cx="76" cy="42.1" r="2.7"/></g></g><g fill="#fef6e4" opacity="0.5"><circle cx="82.4" cy="41" r="0.6"/></g><g fill="#fef6e4" opacity="0.75"><circle cx="87.2" cy="47.6" r="0.8"/></g><g fill="#fdf1d8" opacity="0.5"><circle cx="90.4" cy="47.2" r="1.3"/></g><g fill="#fdf1d8" opacity="0.75"><circle cx="96.1" cy="45.2" r="0.7"/><circle cx="84.1" cy="41.7" r="1"/><circle cx="78.4" cy="45.1" r="1.3"/><circle cx="85.5" cy="46" r="0.7"/><circle cx="63.4" cy="45" r="1"/><circle cx="75.7" cy="49.5" r="0.7"/><circle cx="66.9" cy="44.1" r="1.3"/></g><g fill="#fbe9c8" opacity="0.5"><circle cx="81.4" cy="48.8" r="1"/><circle cx="83.6" cy="45.5" r="1.3"/></g><g fill="#fbe9c8" opacity="0.75"><circle cx="81.4" cy="45.9" r="0.8"/></g><g fill="#fbe6c0" opacity="0.75"><circle cx="89" cy="50.4" r="1.3"/><circle cx="83.7" cy="42.1" r="0.9"/><circle cx="87.5" cy="51.8" r="1"/><circle cx="89.8" cy="40" r="1.1"/><circle cx="62.1" cy="45" r="0.7"/></g><g fill="#fbe6c0" opacity="1"><circle cx="92.4" cy="47.7" r="0.7"/><circle cx="94.2" cy="43.1" r="1.1"/></g><g fill="#f8d9a6" opacity="0.5"><circle cx="84.2" cy="46.3" r="1.2"/></g><g fill="#f8d9a6" opacity="0.75"><circle cx="80.4" cy="48.7" r="0.7"/><circle cx="71.1" cy="43.3" r="1.2"/></g><g fill="#f8d9a6" opacity="1"><circle cx="96.8" cy="43.1" r="1.3"/></g><g fill="#f6d39c" opacity="0.5"><circle cx="93.1" cy="41.9" r="0.8"/></g><g fill="#f6d39c" opacity="0.75"><circle cx="91.6" cy="47.2" r="1.1"/></g><g fill="#f6d39c" opacity="1"><circle cx="92.1" cy="43" r="1.1"/></g><g fill="#f5c98a" opacity="0.75"><circle cx="68" cy="43.2" r="1.3"/><circle cx="75.7" cy="50.2" r="1.4"/><circle cx="66.2" cy="43.3" r="1.4"/></g><g fill="#f5c98a" opacity="1"><circle cx="80.5" cy="40.5" r="0.6"/><circle cx="80.2" cy="44.3" r="1.3"/></g><g fill="#f3bf80" opacity="0.5"><circle cx="93.1" cy="42.9" r="1.2"/></g><g fill="#efa67a" opacity="1"><circle cx="88.9" cy="40.6" r="0.8"/></g><g filter="url(#b05)"><g fill="#fbe8c6" opacity="1"><circle cx="122" cy="49.4" r="2.1"/><circle cx="131" cy="45.9" r="2.7"/><circle cx="126.8" cy="41.6" r="2.8"/><circle cx="133.1" cy="50.3" r="2.9"/><circle cx="106" cy="47.1" r="2.2"/><circle cx="133.7" cy="43.1" r="2.9"/><circle cx="137.9" cy="45.8" r="2.7"/><circle cx="119.3" cy="44.1" r="1.8"/><circle cx="123" cy="45.6" r="2.8"/><circle cx="112.5" cy="48" r="2"/><circle cx="143.8" cy="50.5" r="2.4"/><circle cx="111.6" cy="40.1" r="2.1"/><circle cx="131.4" cy="53.5" r="1.9"/><circle cx="139.3" cy="44.7" r="2.6"/><circle cx="110.7" cy="47.6" r="2"/><circle cx="118.5" cy="44.2" r="2.2"/><circle cx="125.3" cy="46.2" r="2.5"/><circle cx="146.9" cy="50.8" r="2.9"/><circle cx="113" cy="54.3" r="2.9"/><circle cx="135.1" cy="53.6" r="2.3"/><circle cx="124.9" cy="45.1" r="1.8"/><circle cx="122.8" cy="50.2" r="1.9"/><circle cx="108.6" cy="43.9" r="2.6"/><circle cx="134.8" cy="50.1" r="2.3"/><circle cx="132" cy="48.3" r="2.8"/><circle cx="113.2" cy="51.3" r="2"/><circle cx="109.8" cy="41.1" r="2.7"/><circle cx="111.3" cy="45.6" r="2.7"/><circle cx="124.6" cy="38.7" r="2.3"/><circle cx="115.4" cy="48.4" r="2.5"/><circle cx="114.3" cy="54.9" r="2.8"/><circle cx="111.4" cy="47.2" r="2.2"/><circle cx="116.7" cy="51.1" r="1.8"/><circle cx="117.9" cy="50.6" r="1.8"/><circle cx="142.5" cy="50.7" r="2.4"/><circle cx="120.9" cy="43" r="2.1"/><circle cx="141.8" cy="50.2" r="2.6"/><circle cx="123.2" cy="51.1" r="2.6"/><circle cx="127.4" cy="44.3" r="2.5"/><circle cx="116.1" cy="50.5" r="2.7"/><circle cx="122.4" cy="40.8" r="2.1"/><circle cx="122.8" cy="40.6" r="2.4"/><circle cx="121.9" cy="39.4" r="3"/><circle cx="113.4" cy="47.6" r="1.8"/><circle cx="144.4" cy="47.5" r="1.9"/><circle cx="110" cy="48.6" r="1.7"/><circle cx="116.2" cy="48.1" r="1.7"/></g><g fill="#fae3ba" opacity="1"><circle cx="127" cy="41.5" r="2.9"/><circle cx="142.5" cy="48.1" r="1.8"/><circle cx="135.7" cy="46.6" r="2.7"/><circle cx="113.7" cy="48.1" r="2.3"/><circle cx="105.9" cy="49.5" r="1.9"/><circle cx="139.8" cy="46.9" r="2.5"/><circle cx="112.6" cy="43.8" r="2"/><circle cx="111" cy="45.4" r="2.4"/><circle cx="109.6" cy="45.6" r="2.6"/><circle cx="118.6" cy="47.7" r="2.5"/><circle cx="108.9" cy="46.8" r="2.8"/><circle cx="138.7" cy="46.2" r="2.2"/><circle cx="121.8" cy="48.4" r="1.9"/><circle cx="115.4" cy="52.7" r="2.9"/><circle cx="144.9" cy="49" r="2.4"/><circle cx="124.9" cy="51" r="3.1"/><circle cx="137.4" cy="45.1" r="3"/><circle cx="115.3" cy="45.4" r="2.4"/><circle cx="124.1" cy="46.1" r="2.3"/><circle cx="128.5" cy="53.3" r="1.8"/><circle cx="118.9" cy="51.7" r="2.4"/><circle cx="133.5" cy="46.4" r="2.5"/><circle cx="118.5" cy="37.6" r="2.2"/><circle cx="112.3" cy="54.6" r="1.8"/><circle cx="125.5" cy="41.5" r="2.9"/><circle cx="117.5" cy="48.8" r="2.4"/><circle cx="110.7" cy="50.5" r="2.8"/><circle cx="130.1" cy="47.1" r="2.9"/><circle cx="123.6" cy="53" r="2.2"/><circle cx="138.2" cy="52.8" r="2.2"/><circle cx="132.4" cy="42.6" r="1.9"/><circle cx="123.5" cy="38.7" r="2.4"/><circle cx="131.1" cy="48.4" r="2.9"/><circle cx="113" cy="43.8" r="3"/><circle cx="116.5" cy="47.1" r="2.5"/><circle cx="113" cy="49.8" r="2.2"/><circle cx="122.6" cy="41.6" r="3"/><circle cx="116.6" cy="37.2" r="2.2"/><circle cx="114.3" cy="47.8" r="2"/><circle cx="147.6" cy="49.6" r="2.3"/><circle cx="144.1" cy="51.1" r="1.8"/><circle cx="126.9" cy="49.2" r="3.1"/><circle cx="126.9" cy="44.4" r="2"/><circle cx="109.3" cy="52.2" r="2.5"/><circle cx="120.2" cy="49.9" r="2.2"/><circle cx="120.9" cy="51.3" r="2.7"/><circle cx="123.2" cy="45.4" r="2.4"/><circle cx="111.9" cy="41.2" r="2.1"/><circle cx="114.4" cy="38" r="1.7"/><circle cx="132.5" cy="42.3" r="2.9"/><circle cx="111.8" cy="43.2" r="2.5"/><circle cx="139" cy="48.3" r="2.7"/><circle cx="133" cy="47.1" r="2"/></g><g fill="#f9deb0" opacity="1"><circle cx="135.7" cy="48.4" r="2.9"/><circle cx="135.6" cy="45.2" r="2.8"/><circle cx="113.1" cy="49.9" r="1.8"/><circle cx="124.6" cy="54.2" r="2.2"/><circle cx="127.3" cy="42.9" r="2.1"/><circle cx="114.9" cy="48.6" r="2.5"/><circle cx="130.9" cy="51.8" r="2.6"/><circle cx="110" cy="50.1" r="3"/><circle cx="111.7" cy="40.5" r="2.6"/><circle cx="139.3" cy="48.9" r="2.2"/><circle cx="110.2" cy="46.5" r="2.7"/><circle cx="121.6" cy="48.6" r="2.5"/><circle cx="114.5" cy="44.5" r="1.7"/><circle cx="141.7" cy="51.3" r="3"/><circle cx="115" cy="40.3" r="2.2"/><circle cx="125.6" cy="53.8" r="2.8"/><circle cx="117.6" cy="44.7" r="2.8"/><circle cx="134.8" cy="46.5" r="2.8"/><circle cx="138.1" cy="51.4" r="2.5"/><circle cx="124.1" cy="50" r="3"/><circle cx="115" cy="40.9" r="2.7"/><circle cx="108" cy="48.8" r="3"/><circle cx="119.5" cy="45.7" r="2.3"/><circle cx="108.4" cy="50.2" r="1.8"/><circle cx="139.4" cy="46.1" r="3"/><circle cx="113.9" cy="53.5" r="2"/><circle cx="127.4" cy="42.4" r="2.1"/><circle cx="127.4" cy="52.6" r="2.1"/><circle cx="112.6" cy="50.1" r="2.3"/><circle cx="121.7" cy="46.2" r="1.8"/><circle cx="123.4" cy="40.7" r="2.9"/><circle cx="142.1" cy="51.4" r="2.8"/><circle cx="113.4" cy="41.1" r="2.1"/><circle cx="117.5" cy="41.6" r="3.1"/><circle cx="129.5" cy="53.1" r="1.9"/><circle cx="120.4" cy="54.7" r="2.7"/><circle cx="108.5" cy="45.1" r="2.7"/><circle cx="132.8" cy="46.6" r="2.2"/><circle cx="115" cy="49.6" r="2.5"/><circle cx="143.8" cy="46.7" r="2.6"/><circle cx="126.9" cy="46.2" r="2"/><circle cx="138.6" cy="50.1" r="2.6"/><circle cx="118.8" cy="53.6" r="1.9"/><circle cx="117.8" cy="39.3" r="2.7"/><circle cx="111.1" cy="43.8" r="2.9"/><circle cx="119" cy="46.9" r="2.4"/><circle cx="111.4" cy="51.3" r="2.9"/><circle cx="146.4" cy="48.4" r="1.8"/><circle cx="132.9" cy="51.2" r="1.9"/><circle cx="117.2" cy="39.3" r="1.7"/></g><g fill="#f8d9a6" opacity="1"><circle cx="129.4" cy="46.7" r="1.7"/><circle cx="131.1" cy="44" r="2.4"/><circle cx="134" cy="42.7" r="3"/><circle cx="114.6" cy="48.3" r="2.5"/><circle cx="122.3" cy="41.9" r="2.1"/><circle cx="108.8" cy="41.9" r="2.8"/><circle cx="114.2" cy="44.7" r="1.9"/><circle cx="115.7" cy="42" r="2.5"/><circle cx="122" cy="44.1" r="2"/><circle cx="131.5" cy="49.2" r="3.1"/><circle cx="119.6" cy="49.1" r="2.7"/><circle cx="122.8" cy="40.7" r="1.9"/><circle cx="125" cy="54" r="2.2"/><circle cx="126.9" cy="45.2" r="3"/><circle cx="142.2" cy="46" r="1.8"/><circle cx="130.7" cy="53.7" r="2.5"/><circle cx="130.4" cy="46.2" r="2.8"/><circle cx="134.8" cy="47" r="2.8"/><circle cx="125.2" cy="51.2" r="3.1"/><circle cx="139.9" cy="47.9" r="1.9"/><circle cx="135.9" cy="45.1" r="2.9"/><circle cx="134.1" cy="50.8" r="2"/><circle cx="105.7" cy="48.9" r="2.3"/><circle cx="129.3" cy="44.6" r="2.9"/><circle cx="111.1" cy="52.1" r="2.1"/><circle cx="137.7" cy="46.1" r="2.5"/><circle cx="125.7" cy="41.2" r="2.2"/><circle cx="132.2" cy="46.7" r="2.7"/><circle cx="133.2" cy="46.1" r="2.9"/><circle cx="125.8" cy="51" r="1.9"/><circle cx="105.7" cy="49.2" r="2.6"/><circle cx="128.8" cy="40.2" r="3.1"/><circle cx="127" cy="49.3" r="2.7"/><circle cx="142.5" cy="46.1" r="2.3"/><circle cx="138.3" cy="50.2" r="2.1"/><circle cx="110.3" cy="41.6" r="3"/><circle cx="113.2" cy="54.2" r="1.7"/><circle cx="113.6" cy="55" r="2.5"/><circle cx="135.7" cy="44.2" r="1.7"/><circle cx="108.5" cy="46.5" r="2.4"/><circle cx="133.2" cy="50.7" r="2.4"/><circle cx="116.2" cy="36.4" r="2.5"/><circle cx="137.1" cy="53.1" r="2.5"/><circle cx="114.5" cy="45" r="1.8"/><circle cx="130.8" cy="43.4" r="2.1"/><circle cx="115" cy="45.3" r="2.5"/><circle cx="139.6" cy="45.9" r="2.5"/><circle cx="113.1" cy="47.5" r="2"/></g></g><g fill="#fef6e4" opacity="0.75"><circle cx="122.3" cy="42" r="0.9"/></g><g fill="#fef6e4" opacity="1"><circle cx="118.9" cy="45.6" r="0.6"/><circle cx="137.8" cy="45.4" r="1.2"/></g><g fill="#fdf1d8" opacity="0.5"><circle cx="117.8" cy="40.1" r="1.3"/><circle cx="125.7" cy="48.4" r="0.8"/></g><g fill="#fdf1d8" opacity="0.75"><circle cx="130.7" cy="48.3" r="1.3"/><circle cx="135.5" cy="51.8" r="0.8"/><circle cx="119.5" cy="40.7" r="0.8"/><circle cx="125.2" cy="43.4" r="0.8"/></g><g fill="#fdf1d8" opacity="1"><circle cx="119.4" cy="49.3" r="1"/><circle cx="148.6" cy="50.6" r="1.3"/></g><g fill="#fbe9c8" opacity="0.75"><circle cx="117.7" cy="41.4" r="1.4"/><circle cx="112.8" cy="50" r="0.9"/><circle cx="131.8" cy="53.8" r="1.1"/></g><g fill="#fbe9c8" opacity="1"><circle cx="111.6" cy="53.8" r="1"/></g><g fill="#fbe6c0" opacity="0.75"><circle cx="111.7" cy="39.6" r="1.2"/><circle cx="119.9" cy="51.7" r="0.6"/></g><g fill="#fbe6c0" opacity="1"><circle cx="138.8" cy="52.4" r="1"/></g><g fill="#f8d9a6" opacity="0.5"><circle cx="144.1" cy="50.6" r="1.1"/><circle cx="127.4" cy="41.6" r="0.9"/></g><g fill="#f8d9a6" opacity="0.75"><circle cx="125.6" cy="45.2" r="0.9"/><circle cx="110.9" cy="40.6" r="1.2"/><circle cx="127.8" cy="42" r="1"/></g><g fill="#f6d39c" opacity="0.75"><circle cx="140.9" cy="52.4" r="0.7"/></g><g fill="#f6d39c" opacity="1"><circle cx="122.9" cy="51.6" r="0.9"/></g><g fill="#f5c98a" opacity="0.5"><circle cx="138.6" cy="46.9" r="0.7"/></g><g fill="#f5c98a" opacity="1"><circle cx="137.5" cy="52.9" r="1.3"/><circle cx="112.4" cy="43.4" r="1"/></g><g fill="#f3bf80" opacity="0.5"><circle cx="125" cy="43.7" r="0.7"/></g><g fill="#f3bf80" opacity="0.75"><circle cx="120" cy="42.6" r="1"/><circle cx="112.8" cy="46.3" r="0.7"/><circle cx="122.2" cy="47.4" r="1.2"/></g><g fill="#f3bf80" opacity="1"><circle cx="110.1" cy="43.1" r="1.2"/></g><g fill="#efa67a" opacity="0.5"><circle cx="134.6" cy="46.8" r="0.9"/></g><g fill="#efa67a" opacity="0.75"><circle cx="123.4" cy="42.8" r="1.3"/></g><g fill="#efa67a" opacity="1"><circle cx="113.5" cy="54.4" r="0.7"/></g><path d="M38.5,37.5C39.4,35.8 41.2,30.6 44,27C46.8,23.4 50.9,19.1 55.2,15.9C59.5,12.7 64.4,10.2 70,8C75.6,5.8 80.8,4 88.7,2.8C96.6,1.6 107.4,0.4 117.4,0.6C127.4,0.8 140.9,2.6 148.5,4C156.1,5.4 158.6,7 163,9C167.4,11 171.6,13.6 174.8,15.9C178,18.2 180,20.6 182,23C184,25.4 185.6,27.5 186.8,30.3C188,33.1 188.8,38.2 189.2,39.8C186.8,40.8 181.6,43.8 174.8,45.8C168,47.8 158.9,50.2 148.5,51.8C138.1,53.4 124.6,55.2 112.6,55.4C100.6,55.6 86.7,54.4 76.7,53C66.7,51.6 59.2,49.6 52.8,47C46.4,44.4 40.9,39.1 38.5,37.5Z" fill="none" stroke="#151515" stroke-width="1.8" stroke-dasharray="6.3 2.8"/><path d="M0.5,41.5L47,0H195L228.5,43.5V112H0.5Z" fill="none" stroke="#b59a8c" stroke-width=".8"/><path d="M157.7,35.4L158.4,34.6L159.2,33.6L160,32.5L161,31.2L162,29.9L163.1,28.4L164.3,26.8L165.6,25.2L167,23.5L168.4,21.8L170,20L171.6,18.2L173.2,16.4L175,14.6L176.9,12.7L179.1,10.6L181.5,8.3L184.1,5.9L186.8,3.4L189.6,0.9L192.4,-1.6L195,1.2L206,-17L187.1,-7.1L189.8,-4.3L187.2,-1.6L184.5,1L182,3.7L179.5,6.2L177.2,8.7L175.1,10.9L173.2,13L171.6,14.9L170,16.9L168.5,18.8L167,20.7L165.7,22.5L164.4,24.3L163.2,26L162.1,27.6L161,29.2L160.1,30.6L159.2,31.9L158.4,33.1L157.7,34.1L157.1,35Z" fill="#0d0d0d"/></g><g transform="translate(151,445.5)"><polygon points="47,0 195,0 228.5,43.5 0.5,41.5" fill="url(#tan)"/><g clip-path="url(#topclip)"><ellipse cx="60" cy="30" rx="40" ry="9" fill="#f8e8d6" opacity=".7" filter="url(#b3)"/><ellipse cx="185" cy="14" rx="22" ry="10" fill="#e6bf9b" opacity=".4" filter="url(#b3)"/><ellipse cx="60" cy="4" rx="25" ry="6" fill="#e8c4a2" opacity=".5" filter="url(#b3)"/><path d="M0.5,41L37,40.6M191,42.4L228.5,43" stroke="#f9ead9" stroke-width="1.6" opacity=".8"/></g><path d="M173,45L189,39.7L175,52L162,74L150,86L120,92L90,72L60,56L52,47.5L37,42L38.3,40L50,42Z" fill="#efb4c3"/><path d="M38.3,40.9C38.8,39.2 39.6,34 41,31C42.4,28 44.3,25.6 46.6,23C48.9,20.4 51.8,17.7 55,15.5C58.2,13.3 61.6,11.5 65.8,9.8C70,8.1 75.2,6.5 80,5.3C84.8,4.1 88.1,3.4 94.5,2.7C100.9,2 109.6,0.8 118.4,1C127.2,1.2 140.2,2.8 147.1,3.9C154,5 156,6.2 160,7.8C164,9.4 167.8,11.3 171,13.4C174.2,15.5 177.1,18.1 179.5,20.5C181.9,22.9 183.8,24.6 185.4,27.8C187,31 188.4,37.7 189,39.7L172,48C171,49 169.9,51.3 166.2,54.1C162.4,56.9 156.7,62.3 149.5,64.9C142.3,67.5 132.4,69.2 123.2,69.6C114,70 103.3,69 94.5,67.2C85.7,65.4 77.4,61.9 70.6,58.9C63.8,55.9 57.4,51.9 53.8,49.3C50.2,46.7 49.8,44.3 49,43.3Z" fill="url(#wall)"/><g clip-path="url(#cO)"><path d="M38.3,40.9C38.8,39.2 39.6,34 41,31C42.4,28 44.3,25.6 46.6,23C48.9,20.4 51.8,17.7 55,15.5C58.2,13.3 61.6,11.5 65.8,9.8C70,8.1 75.2,6.5 80,5.3C84.8,4.1 88.1,3.4 94.5,2.7C100.9,2 109.6,0.8 118.4,1C127.2,1.2 140.2,2.8 147.1,3.9C154,5 156,6.2 160,7.8C164,9.4 167.8,11.3 171,13.4C174.2,15.5 177.1,18.1 179.5,20.5C181.9,22.9 183.8,24.6 185.4,27.8C187,31 188.4,37.7 189,39.7" fill="none" stroke="#dc8aa2" stroke-width="4" opacity=".6" filter="url(#b2)"/><path d="M113.6,12.2C118.4,13 135.7,15.4 142.3,17C148.9,18.6 149.8,19.7 153,21.5C156.2,23.3 159.1,25.6 161.5,27.8C163.9,30 165.9,32.1 167.5,34.5C169.1,36.9 170.4,40.8 171,42.1" fill="none" stroke="#f3c0cc" stroke-width="5" opacity=".75" filter="url(#b15)" transform="translate(0,-3.5)"/><ellipse cx="176" cy="36" rx="9" ry="12" fill="#f7d0d9" opacity=".7" filter="url(#b3)"/></g><path d="M49,43.3C49.8,41.7 51.6,36.5 54,33.5C56.4,30.5 59.9,27.8 63.4,25.4C66.9,23 70.6,20.8 75,19C79.4,17.2 83.3,15.7 89.7,14.6C96.1,13.5 104.8,11.8 113.6,12.2C122.4,12.6 135.7,15.4 142.3,17C148.9,18.6 149.8,19.7 153,21.5C156.2,23.3 159.1,25.6 161.5,27.8C163.9,30 165.9,32.1 167.5,34.5C169.1,36.9 170.4,40.8 171,42.1C170.2,44.1 169.8,50.3 166.2,54.1C162.6,57.9 156.7,62.3 149.5,64.9C142.3,67.5 132.4,69.2 123.2,69.6C114,70 103.3,69 94.5,67.2C85.7,65.4 77.4,61.9 70.6,58.9C63.8,55.9 57.4,51.9 53.8,49.3C50.2,46.7 49.8,44.3 49,43.3Z" fill="url(#floor2)"/><g clip-path="url(#cD2)"><path d="M49,43.3C49.8,41.7 51.6,36.5 54,33.5C56.4,30.5 59.9,27.8 63.4,25.4C66.9,23 70.6,20.8 75,19C79.4,17.2 83.3,15.7 89.7,14.6C96.1,13.5 104.8,11.8 113.6,12.2C122.4,12.6 135.7,15.4 142.3,17C148.9,18.6 149.8,19.7 153,21.5C156.2,23.3 159.1,25.6 161.5,27.8C163.9,30 165.9,32.1 167.5,34.5C169.1,36.9 170.4,40.8 171,42.1" fill="none" stroke="#de8ea5" stroke-width="5" opacity=".55" filter="url(#b2)"/><ellipse cx="100" cy="50" rx="38" ry="12" fill="#f8d3db" opacity=".7" filter="url(#b3)"/></g><path d="M0.5,41.5L38.3,40.9L49,43.3C49.8,44.3 50.2,46.7 53.8,49.3C57.4,51.9 63.8,55.9 70.6,58.9C77.4,61.9 85.7,65.4 94.5,67.2C103.3,69 114,70 123.2,69.6C132.4,69.2 142.3,67.5 149.5,64.9C156.7,62.3 162.6,57.9 166.2,54.1C169.8,50.3 170.2,44.1 171,42.1L172,48L189,39.7L228.5,43.5V112H0.5Z" fill="#f7c3ce"/><path d="M0.5,62.5C3.3,63.4 6.6,64.1 13.1,66.5C19.6,68.9 23.5,73.3 29.9,73.5C36.3,73.7 36.5,67.5 41.8,67.2C47.1,66.9 49.5,71.9 53.8,72.3C58.1,72.7 58.8,71.4 61,69C63.2,66.6 62.5,63.8 63.6,61.3C64.7,58.8 65.3,58.5 65.8,57.7C66.6,57.9 65.8,57.3 70.6,58.9C75.4,60.5 85.7,65.4 94.5,67.2C103.3,69 114,70 123.2,69.6C132.4,69.2 144.7,65.5 149.5,64.9C154.3,64.3 151.5,65.8 151.9,66C152.1,67.6 150.9,72.2 153,73.2C155.1,74.2 157.5,69.8 161.5,70.6C165.5,71.4 166.8,74.8 171,76.8C175.2,78.8 175.8,80.5 180.6,79.4C185.4,78.3 187.8,73.1 192.6,72C197.4,70.9 198,72.4 202,74.6C206,76.8 206.2,81.3 210.5,81.8C214.8,82.3 217.3,78.2 221.3,76.8C225.3,75.4 226.9,75.7 228.5,75.4V112H0.5Z" fill="url(#derm)"/><path d="M0.5,62.5C3.3,63.4 6.6,64.1 13.1,66.5C19.6,68.9 23.5,73.3 29.9,73.5C36.3,73.7 36.5,67.5 41.8,67.2C47.1,66.9 49.5,71.9 53.8,72.3C58.1,72.7 58.8,71.4 61,69C63.2,66.6 62.5,63.8 63.6,61.3C64.7,58.8 65.3,58.5 65.8,57.7" fill="none" stroke="#b06b83" stroke-width="2.1"/><path d="M153,73.2C154.9,72.6 157.5,69.8 161.5,70.6C165.5,71.4 166.8,74.8 171,76.8C175.2,78.8 175.8,80.5 180.6,79.4C185.4,78.3 187.8,73.1 192.6,72C197.4,70.9 198,72.4 202,74.6C206,76.8 206.2,81.3 210.5,81.8C214.8,82.3 217.3,78.2 221.3,76.8C225.3,75.4 226.9,75.7 228.5,75.4" fill="none" stroke="#b06b83" stroke-width="2.1"/><path d="M108.8,70C110.5,69.3 118,70 123.2,69.6C128.4,69.2 135.2,68.3 140,67.5C144.8,66.7 150.1,64.1 151.9,65C153.7,65.9 151.4,70.4 151,73C150.6,75.6 150.1,78.1 149.5,80.4C148.9,82.7 148.1,85 147.5,87C146.9,89 147,90.7 145.9,92.4C144.8,94.1 142.7,96.3 141,97C139.3,97.7 137.2,97.5 135.5,96.8C133.8,96.1 132.2,94.3 131,93C129.8,91.7 129.3,90.6 128,89C126.7,87.4 124.6,85.3 123,83.5C121.4,81.7 120.1,79.7 118.4,78C116.7,76.3 114.6,74.8 113,73.5C111.4,72.2 107.1,70.7 108.8,70Z" fill="#f9deb0" stroke="#f5d3a0" stroke-width="0.8" filter="url(#rough)"/><g clip-path="url(#t2)"><g fill="#fef6e4" opacity="0.5"><circle cx="138.5" cy="82.7" r="1"/><circle cx="122.5" cy="73.2" r="1.3"/><circle cx="138.2" cy="89.9" r="1.5"/><circle cx="133.6" cy="94.1" r="1.1"/></g><g fill="#fef6e4" opacity="0.75"><circle cx="144.6" cy="92.8" r="0.9"/><circle cx="134.1" cy="87.1" r="1.1"/><circle cx="131.5" cy="89" r="1.3"/></g><g fill="#fef6e4" opacity="1"><circle cx="137.9" cy="68.8" r="1.6"/><circle cx="149.8" cy="77" r="1.4"/><circle cx="134.8" cy="70.5" r="1.4"/><circle cx="125.2" cy="82.1" r="1.3"/></g><g fill="#fdf1d8" opacity="0.5"><circle cx="125.7" cy="76.4" r="0.9"/><circle cx="125.6" cy="70.1" r="1.1"/><circle cx="143.5" cy="87" r="1.4"/><circle cx="128" cy="72.6" r="1"/><circle cx="142.7" cy="84.2" r="1.5"/><circle cx="134.6" cy="69.5" r="1.2"/></g><g fill="#fdf1d8" opacity="0.75"><circle cx="116.5" cy="73.5" r="0.8"/><circle cx="126.5" cy="79.4" r="1.6"/><circle cx="137.2" cy="94.9" r="1.5"/><circle cx="138.6" cy="93.7" r="1.5"/><circle cx="122.7" cy="74.1" r="1.5"/><circle cx="126.3" cy="82.4" r="1.4"/><circle cx="135.7" cy="74.7" r="1.5"/><circle cx="126.7" cy="79.8" r="0.9"/><circle cx="142.2" cy="70.7" r="1.6"/><circle cx="127.4" cy="87.6" r="1"/><circle cx="127.8" cy="72.4" r="1.5"/><circle cx="126.5" cy="78.8" r="1"/></g><g fill="#fdf1d8" opacity="1"><circle cx="148.8" cy="73" r="1"/><circle cx="141.6" cy="71.3" r="1.4"/><circle cx="145.3" cy="80.9" r="1"/><circle cx="117.1" cy="74.9" r="0.7"/><circle cx="137.3" cy="84.8" r="0.6"/><circle cx="132.6" cy="73.5" r="1.4"/><circle cx="136.6" cy="84.3" r="1"/><circle cx="143.1" cy="77.5" r="1.4"/><circle cx="127.9" cy="81.7" r="1.3"/><circle cx="125.7" cy="71.8" r="1.4"/><circle cx="126.4" cy="85.5" r="1"/></g><g fill="#fbe9c8" opacity="0.75"><circle cx="125.2" cy="72.4" r="0.8"/><circle cx="147.9" cy="74.8" r="0.8"/><circle cx="138.2" cy="73.8" r="1.6"/><circle cx="119.4" cy="78.1" r="1.4"/><circle cx="129.1" cy="82.3" r="1.1"/></g><g fill="#fbe9c8" opacity="1"><circle cx="137.5" cy="87.2" r="0.8"/><circle cx="133" cy="87.1" r="1.2"/></g><g fill="#fbe6c0" opacity="0.5"><circle cx="128.2" cy="86" r="0.6"/><circle cx="139.7" cy="88.4" r="0.7"/></g><g fill="#fbe6c0" opacity="0.75"><circle cx="135.6" cy="82.8" r="1.1"/><circle cx="115.2" cy="73.3" r="1.2"/><circle cx="145.8" cy="68.7" r="1"/></g><g fill="#fbe6c0" opacity="1"><circle cx="131.7" cy="73.7" r="1.3"/><circle cx="140.5" cy="75.4" r="1.2"/></g><g fill="#f8d9a6" opacity="0.5"><circle cx="140.2" cy="78.6" r="1.3"/><circle cx="133.3" cy="77" r="1.2"/></g><g fill="#f8d9a6" opacity="0.75"><circle cx="134.2" cy="95.1" r="1.2"/><circle cx="130.9" cy="69.8" r="1.3"/><circle cx="140.6" cy="83.8" r="0.7"/><circle cx="127.6" cy="85.8" r="1.5"/><circle cx="123.3" cy="73.4" r="0.6"/><circle cx="141.3" cy="85.6" r="0.9"/><circle cx="131.1" cy="86.7" r="1.5"/><circle cx="117.7" cy="76.2" r="1.3"/><circle cx="119" cy="75.4" r="1"/></g><g fill="#f8d9a6" opacity="1"><circle cx="130.1" cy="87.1" r="1.1"/></g><g fill="#f6d39c" opacity="0.5"><circle cx="140.4" cy="69" r="1.3"/><circle cx="148.4" cy="78.2" r="1.6"/><circle cx="141.2" cy="76.9" r="1.4"/></g><g fill="#f6d39c" opacity="0.75"><circle cx="145.8" cy="72.4" r="0.7"/><circle cx="139.2" cy="93.6" r="1"/><circle cx="132.4" cy="84.9" r="1.1"/><circle cx="126.2" cy="80.7" r="1.5"/><circle cx="145.7" cy="84.9" r="1.6"/><circle cx="136.2" cy="90.6" r="1.1"/><circle cx="132.2" cy="73.1" r="0.8"/><circle cx="148.5" cy="72.4" r="0.9"/><circle cx="134.3" cy="94.7" r="1.3"/></g><g fill="#f6d39c" opacity="1"><circle cx="139.7" cy="88" r="1.3"/></g><g fill="#f5c98a" opacity="0.5"><circle cx="128.9" cy="71.1" r="0.8"/><circle cx="141.8" cy="93.5" r="1"/></g><g fill="#f5c98a" opacity="0.75"><circle cx="118" cy="70.3" r="0.6"/><circle cx="128.9" cy="88.7" r="1.2"/><circle cx="135" cy="94.3" r="1.1"/><circle cx="123.7" cy="69.9" r="1.4"/><circle cx="119.1" cy="70.2" r="1.3"/><circle cx="140.6" cy="89.4" r="0.8"/></g><g fill="#f5c98a" opacity="1"><circle cx="133.8" cy="78.7" r="0.6"/><circle cx="122.9" cy="72.9" r="1.5"/><circle cx="149.7" cy="69.7" r="0.9"/><circle cx="144.9" cy="74.7" r="1.5"/><circle cx="137.7" cy="72.7" r="1.4"/><circle cx="134" cy="72.2" r="0.9"/></g><g fill="#f3bf80" opacity="0.75"><circle cx="150.2" cy="72.7" r="1"/><circle cx="134.4" cy="72.5" r="0.8"/><circle cx="146.1" cy="82.2" r="1"/><circle cx="141.4" cy="87.1" r="1.2"/><circle cx="136.6" cy="95.5" r="1.1"/><circle cx="140.3" cy="90.2" r="1.1"/><circle cx="114.9" cy="72.9" r="1.5"/></g><g fill="#f3bf80" opacity="1"><circle cx="135.6" cy="90.2" r="0.9"/><circle cx="149.1" cy="73.8" r="1.6"/><circle cx="121.3" cy="80.2" r="1.5"/></g><g fill="#efa67a" opacity="0.5"><circle cx="145.3" cy="74.6" r="0.7"/></g><g fill="#efa67a" opacity="0.75"><circle cx="142.1" cy="77.9" r="1.3"/><circle cx="136.3" cy="69.8" r="0.8"/><circle cx="125.2" cy="71.2" r="0.7"/><circle cx="126.8" cy="82.2" r="0.8"/></g><g fill="#efa67a" opacity="1"><circle cx="151.1" cy="71.8" r="0.6"/><circle cx="125.9" cy="82.1" r="0.7"/></g></g><g filter="url(#b05)"><g fill="#fbe8c6" opacity="1"><circle cx="125.4" cy="48.3" r="2"/><circle cx="124.4" cy="52.3" r="3.1"/><circle cx="139.3" cy="50.7" r="1.8"/><circle cx="112.6" cy="50.1" r="2.4"/><circle cx="138.1" cy="47.9" r="2.3"/><circle cx="125.7" cy="56.2" r="2.7"/><circle cx="124.6" cy="59.4" r="2"/><circle cx="129.1" cy="59.5" r="2.5"/><circle cx="141" cy="55.1" r="3"/><circle cx="119.4" cy="46.8" r="3.1"/><circle cx="122" cy="51.5" r="2.2"/><circle cx="132.1" cy="59.4" r="1.8"/><circle cx="137.5" cy="53.4" r="3"/><circle cx="125.5" cy="53.4" r="3.1"/><circle cx="144.6" cy="55.7" r="2.9"/><circle cx="132" cy="47.7" r="2.8"/><circle cx="116.7" cy="61.7" r="2.2"/><circle cx="115.5" cy="54.2" r="3.1"/><circle cx="121" cy="62.1" r="2.4"/><circle cx="132.4" cy="56.5" r="2.9"/><circle cx="111.6" cy="56.5" r="2.7"/><circle cx="128.8" cy="59.7" r="2.2"/><circle cx="133.6" cy="49.3" r="2.2"/><circle cx="132.7" cy="57.9" r="2.3"/><circle cx="115.6" cy="60.6" r="3"/><circle cx="140.3" cy="60.2" r="2"/><circle cx="121.4" cy="57.3" r="2.9"/><circle cx="125.1" cy="53.5" r="2.5"/><circle cx="138.4" cy="55.3" r="2.2"/><circle cx="110.3" cy="54.4" r="2.6"/><circle cx="131.1" cy="59.2" r="2.7"/><circle cx="142.9" cy="55.6" r="2.4"/><circle cx="117.6" cy="52.6" r="2.3"/><circle cx="133.5" cy="60" r="3"/><circle cx="116" cy="57.4" r="2.5"/></g><g fill="#fae3ba" opacity="1"><circle cx="111.7" cy="50.3" r="2.9"/><circle cx="122.4" cy="50.6" r="2.2"/><circle cx="123" cy="56.2" r="1.9"/><circle cx="108.5" cy="49.9" r="3.1"/><circle cx="128.3" cy="61.5" r="2.3"/><circle cx="127.3" cy="55.7" r="1.8"/><circle cx="127.8" cy="60.6" r="2.9"/><circle cx="135.5" cy="53.1" r="2"/><circle cx="122.6" cy="47.7" r="1.8"/><circle cx="120.2" cy="61.2" r="1.8"/><circle cx="143.2" cy="56.8" r="2.5"/><circle cx="139.7" cy="56.7" r="2.7"/><circle cx="124.9" cy="47.6" r="2.3"/><circle cx="124.6" cy="49.6" r="2.1"/><circle cx="117.3" cy="51.1" r="3.1"/><circle cx="117.5" cy="58" r="2.7"/><circle cx="110.1" cy="53" r="2.1"/><circle cx="128.3" cy="56.8" r="3"/><circle cx="133.3" cy="48.4" r="2.1"/><circle cx="120.9" cy="53.8" r="2.5"/><circle cx="139" cy="58.2" r="2.6"/><circle cx="119.2" cy="51.4" r="1.8"/><circle cx="134.9" cy="55.8" r="2.8"/><circle cx="113.5" cy="49.8" r="2.9"/><circle cx="136.8" cy="49.3" r="1.9"/><circle cx="129.8" cy="48.4" r="1.9"/><circle cx="125.5" cy="51.5" r="2.3"/><circle cx="129.4" cy="46.5" r="2.4"/><circle cx="140.9" cy="58.1" r="3.1"/><circle cx="124.4" cy="52.3" r="2.1"/><circle cx="124.1" cy="62.3" r="3.1"/><circle cx="125.4" cy="53.7" r="2.3"/><circle cx="129.9" cy="56.3" r="2.4"/><circle cx="117.9" cy="54.5" r="3"/><circle cx="107.1" cy="56.1" r="2.6"/><circle cx="119.6" cy="56" r="2.4"/><circle cx="126.5" cy="54.4" r="2.8"/><circle cx="121.8" cy="61.5" r="2"/><circle cx="133.8" cy="55.3" r="3.1"/><circle cx="144.9" cy="51.9" r="3.1"/><circle cx="134.7" cy="58.1" r="2"/><circle cx="129.2" cy="54.8" r="2.1"/><circle cx="142.6" cy="54.9" r="2.7"/><circle cx="118.9" cy="50.8" r="2.2"/><circle cx="116.9" cy="58.2" r="2.5"/><circle cx="141.8" cy="59.4" r="2"/><circle cx="108.8" cy="54.2" r="2"/><circle cx="145" cy="54.7" r="2"/><circle cx="130" cy="47.1" r="1.7"/><circle cx="133.1" cy="53.2" r="1.8"/><circle cx="131.7" cy="47.4" r="3"/><circle cx="143.7" cy="48.4" r="1.9"/><circle cx="128" cy="54.4" r="1.7"/><circle cx="124.3" cy="50.2" r="2.6"/><circle cx="118.5" cy="61.3" r="1.8"/></g><g fill="#f9deb0" opacity="1"><circle cx="122.4" cy="62" r="2.1"/><circle cx="131.3" cy="56.2" r="3"/><circle cx="130.8" cy="55.5" r="2.9"/><circle cx="142.5" cy="57.9" r="1.7"/><circle cx="122" cy="48.5" r="2.4"/><circle cx="138.9" cy="59.9" r="2.7"/><circle cx="123.4" cy="56.6" r="1.8"/><circle cx="135.1" cy="46.5" r="2.5"/><circle cx="114.1" cy="58.5" r="2"/><circle cx="116.6" cy="51.4" r="2.8"/><circle cx="114.4" cy="54.1" r="1.9"/><circle cx="139.5" cy="60.9" r="3"/><circle cx="132.6" cy="51.6" r="3.1"/><circle cx="139.8" cy="60" r="2.5"/><circle cx="127.7" cy="48.7" r="1.9"/><circle cx="112.6" cy="55" r="2.5"/><circle cx="112.7" cy="49.4" r="2"/><circle cx="131.4" cy="52" r="2.4"/><circle cx="108.7" cy="56.5" r="2.7"/><circle cx="123.9" cy="58.7" r="1.8"/><circle cx="135.8" cy="54.4" r="2.1"/><circle cx="120.2" cy="58.2" r="2.3"/><circle cx="122.3" cy="48.2" r="1.8"/><circle cx="136.4" cy="55.6" r="2.6"/><circle cx="142.7" cy="51.8" r="2.9"/><circle cx="128.4" cy="56.9" r="2.8"/><circle cx="145.1" cy="54.5" r="2.2"/><circle cx="130.8" cy="55.1" r="2.5"/><circle cx="117.3" cy="55.5" r="3"/><circle cx="124.2" cy="49.4" r="1.9"/><circle cx="144.7" cy="49.5" r="2.8"/><circle cx="137.1" cy="53" r="2.7"/></g><g fill="#f8d9a6" opacity="1"><circle cx="113.4" cy="60.1" r="1.7"/><circle cx="113.9" cy="53.5" r="1.7"/><circle cx="126.6" cy="57" r="1.8"/><circle cx="125.4" cy="51.5" r="2.6"/><circle cx="120.2" cy="48" r="2.8"/><circle cx="128" cy="51.6" r="2.3"/><circle cx="114.8" cy="58.1" r="2.8"/><circle cx="125.5" cy="53.5" r="2.5"/><circle cx="113.2" cy="57.5" r="1.9"/><circle cx="129" cy="53.8" r="1.8"/><circle cx="120.2" cy="49.2" r="2"/><circle cx="117.1" cy="52" r="2.5"/><circle cx="135" cy="54.1" r="2.8"/><circle cx="130.1" cy="62" r="2.8"/><circle cx="113.2" cy="48.3" r="2.8"/><circle cx="135.1" cy="48" r="2.1"/><circle cx="128.8" cy="56.4" r="3"/><circle cx="142.5" cy="52.4" r="2.6"/><circle cx="118.4" cy="59.2" r="3"/><circle cx="132.7" cy="47.8" r="1.9"/><circle cx="115.2" cy="54" r="2.5"/><circle cx="112.8" cy="50.4" r="2.2"/><circle cx="127.1" cy="57.9" r="3"/><circle cx="121.6" cy="53.3" r="3"/><circle cx="132" cy="47.6" r="1.7"/><circle cx="122.2" cy="54.4" r="2"/><circle cx="124" cy="59.5" r="1.9"/><circle cx="139.9" cy="57.7" r="2.1"/><circle cx="132.2" cy="60.8" r="2.3"/><circle cx="120.2" cy="62" r="1.8"/><circle cx="127.9" cy="59.4" r="1.7"/><circle cx="107.7" cy="53.4" r="1.7"/><circle cx="141.8" cy="55" r="2.9"/><circle cx="133.6" cy="49.2" r="2.8"/></g></g><g fill="#fef6e4" opacity="0.75"><circle cx="110.5" cy="58.3" r="1"/><circle cx="127.7" cy="58.4" r="0.9"/><circle cx="127.9" cy="58.4" r="0.6"/></g><g fill="#fdf1d8" opacity="0.5"><circle cx="107.2" cy="55.1" r="1.1"/><circle cx="131.4" cy="49.5" r="1.3"/></g><g fill="#fdf1d8" opacity="0.75"><circle cx="119.7" cy="47.1" r="0.7"/><circle cx="118" cy="56.4" r="1.3"/><circle cx="120.8" cy="51.9" r="0.8"/><circle cx="115.1" cy="51.1" r="1.2"/><circle cx="137.2" cy="54.7" r="0.6"/><circle cx="110.8" cy="51.8" r="1.4"/><circle cx="123.5" cy="52.8" r="1"/><circle cx="125.7" cy="48.8" r="0.8"/><circle cx="143.7" cy="55.4" r="1.1"/><circle cx="123" cy="55.6" r="1"/><circle cx="124.5" cy="61.6" r="1.3"/></g><g fill="#fdf1d8" opacity="1"><circle cx="123" cy="53.3" r="0.8"/><circle cx="134.3" cy="46.3" r="0.8"/><circle cx="118" cy="48.2" r="0.6"/><circle cx="109.3" cy="49.2" r="0.8"/></g><g fill="#fbe9c8" opacity="0.5"><circle cx="138.4" cy="58.1" r="1"/></g><g fill="#fbe9c8" opacity="0.75"><circle cx="112.7" cy="57.3" r="1.1"/><circle cx="142.1" cy="48.3" r="0.6"/></g><g fill="#fbe9c8" opacity="1"><circle cx="128.2" cy="50.1" r="1.3"/></g><g fill="#fbe6c0" opacity="0.5"><circle cx="131.7" cy="45.9" r="0.8"/><circle cx="123.7" cy="54.5" r="0.7"/></g><g fill="#fbe6c0" opacity="0.75"><circle cx="122.3" cy="51.4" r="1.3"/><circle cx="113.8" cy="55.8" r="1.1"/></g><g fill="#fbe6c0" opacity="1"><circle cx="112.7" cy="52.8" r="0.8"/><circle cx="107.7" cy="51" r="0.8"/><circle cx="142.6" cy="53.4" r="0.8"/><circle cx="140" cy="48.4" r="1"/></g><g fill="#f8d9a6" opacity="0.5"><circle cx="143" cy="53.2" r="1.3"/><circle cx="142.8" cy="54.7" r="0.6"/></g><g fill="#f8d9a6" opacity="0.75"><circle cx="137.4" cy="53.4" r="0.9"/><circle cx="141.2" cy="51.9" r="0.7"/></g><g fill="#f8d9a6" opacity="1"><circle cx="133.5" cy="46.7" r="1.1"/></g><g fill="#f6d39c" opacity="0.5"><circle cx="126.6" cy="47.1" r="0.6"/></g><g fill="#f6d39c" opacity="1"><circle cx="132.2" cy="54.9" r="0.6"/></g><g fill="#f5c98a" opacity="0.75"><circle cx="131.7" cy="56" r="0.7"/><circle cx="138.8" cy="50.7" r="1.1"/></g><g fill="#f5c98a" opacity="1"><circle cx="115.8" cy="57.1" r="0.8"/></g><g fill="#f3bf80" opacity="0.75"><circle cx="140.3" cy="60.5" r="0.9"/><circle cx="128.9" cy="57.9" r="0.8"/><circle cx="127.6" cy="47.9" r="0.7"/></g><g fill="#f3bf80" opacity="1"><circle cx="115.9" cy="55.3" r="0.7"/><circle cx="141.3" cy="55.5" r="0.8"/></g><g fill="#efa67a" opacity="0.75"><circle cx="126.4" cy="46" r="0.8"/><circle cx="112.9" cy="52.1" r="1.4"/><circle cx="133.4" cy="54.8" r="0.8"/><circle cx="136.6" cy="54.3" r="0.7"/><circle cx="145.1" cy="54.7" r="0.7"/><circle cx="133.7" cy="57.8" r="0.9"/><circle cx="134.8" cy="49.6" r="0.9"/></g><path d="M49,43.3C49.8,41.7 51.6,36.5 54,33.5C56.4,30.5 59.9,27.8 63.4,25.4C66.9,23 70.6,20.8 75,19C79.4,17.2 83.3,15.7 89.7,14.6C96.1,13.5 104.8,11.8 113.6,12.2C122.4,12.6 135.7,15.4 142.3,17C148.9,18.6 149.8,19.7 153,21.5C156.2,23.3 159.1,25.6 161.5,27.8C163.9,30 165.9,32.1 167.5,34.5C169.1,36.9 170.4,40.8 171,42.1C170.2,44.1 169.8,50.3 166.2,54.1C162.6,57.9 156.7,62.3 149.5,64.9C142.3,67.5 132.4,69.2 123.2,69.6C114,70 103.3,69 94.5,67.2C85.7,65.4 77.4,61.9 70.6,58.9C63.8,55.9 57.4,51.9 53.8,49.3C50.2,46.7 49.8,44.3 49,43.3Z" fill="none" stroke="#151515" stroke-width="1.8" stroke-dasharray="6.3 2.8"/><path d="M0.5,41.5L47,0H195L228.5,43.5V112H0.5Z" fill="none" stroke="#b59a8c" stroke-width=".8"/><path d="M116.1,31.2L116.8,30.3L117.7,29.2L118.7,27.9L119.9,26.4L121.1,24.8L122.4,23.1L123.8,21.3L125.2,19.5L126.7,17.7L128.1,15.9L129.6,14.1L130.9,12.5L132.3,11L133.5,9.6L134.7,8.3L135.9,7.1L137.1,6L138.2,4.9L139.4,3.8L140.6,2.8L141.8,1.7L142.9,0.7L144.1,-0.2L145.3,-1.2L146.4,-2.2L147.6,-3.2L148.8,-4.2L150,-5.3L151.2,-6.3L152.4,-7.4L153.8,-3.5L164.4,-21L146,-11.9L149.8,-10.3L148.6,-9.1L147.4,-7.9L146.3,-6.9L145.3,-5.8L144.1,-4.8L143,-3.7L141.9,-2.7L140.8,-1.6L139.7,-0.5L138.6,0.6L137.4,1.7L136.3,2.9L135.1,4.1L134,5.3L132.8,6.6L131.7,8L130.5,9.5L129.2,11.1L127.9,12.9L126.6,14.7L125.2,16.6L123.9,18.5L122.6,20.4L121.3,22.3L120.1,24.1L118.9,25.7L117.9,27.3L116.9,28.7L116.1,29.8L115.5,30.8Z" fill="#0d0d0d"/></g><g transform="translate(454,445.5)"><polygon points="47,0 195,0 228.5,43.5 0.5,41.5" fill="url(#tan)"/><g clip-path="url(#topclip)"><ellipse cx="60" cy="30" rx="40" ry="9" fill="#f8e8d6" opacity=".7" filter="url(#b3)"/><ellipse cx="185" cy="14" rx="22" ry="10" fill="#e6bf9b" opacity=".4" filter="url(#b3)"/><ellipse cx="60" cy="4" rx="25" ry="6" fill="#e8c4a2" opacity=".5" filter="url(#b3)"/><path d="M0.5,41L37,40.6M191,42.4L228.5,43" stroke="#f9ead9" stroke-width="1.6" opacity=".8"/></g><path d="M173,45L189,39.7L175,52L162,74L150,86L120,92L90,72L60,56L52,47.5L37,42L38.3,40L50,42Z" fill="#efb4c3"/><path d="M38.3,40.9C38.8,39.2 39.6,34 41,31C42.4,28 44.3,25.6 46.6,23C48.9,20.4 51.8,17.7 55,15.5C58.2,13.3 61.6,11.5 65.8,9.8C70,8.1 75.2,6.5 80,5.3C84.8,4.1 88.1,3.4 94.5,2.7C100.9,2 109.6,0.8 118.4,1C127.2,1.2 140.2,2.8 147.1,3.9C154,5 156,6.2 160,7.8C164,9.4 167.8,11.3 171,13.4C174.2,15.5 177.1,18.1 179.5,20.5C181.9,22.9 183.8,24.6 185.4,27.8C187,31 188.4,37.7 189,39.7L172,48C171,49 169.9,51.3 166.2,54.1C162.4,56.9 156.7,62.3 149.5,64.9C142.3,67.5 132.4,69.2 123.2,69.6C114,70 103.3,69 94.5,67.2C85.7,65.4 77.4,61.9 70.6,58.9C63.8,55.9 57.4,51.9 53.8,49.3C50.2,46.7 49.8,44.3 49,43.3Z" fill="url(#wall)"/><g clip-path="url(#cO)"><path d="M38.3,40.9C38.8,39.2 39.6,34 41,31C42.4,28 44.3,25.6 46.6,23C48.9,20.4 51.8,17.7 55,15.5C58.2,13.3 61.6,11.5 65.8,9.8C70,8.1 75.2,6.5 80,5.3C84.8,4.1 88.1,3.4 94.5,2.7C100.9,2 109.6,0.8 118.4,1C127.2,1.2 140.2,2.8 147.1,3.9C154,5 156,6.2 160,7.8C164,9.4 167.8,11.3 171,13.4C174.2,15.5 177.1,18.1 179.5,20.5C181.9,22.9 183.8,24.6 185.4,27.8C187,31 188.4,37.7 189,39.7" fill="none" stroke="#dc8aa2" stroke-width="4" opacity=".6" filter="url(#b2)"/><path d="M113.6,12.2C118.4,13 135.7,15.4 142.3,17C148.9,18.6 149.8,19.7 153,21.5C156.2,23.3 159.1,25.6 161.5,27.8C163.9,30 165.9,32.1 167.5,34.5C169.1,36.9 170.4,40.8 171,42.1" fill="none" stroke="#f3c0cc" stroke-width="5" opacity=".75" filter="url(#b15)" transform="translate(0,-3.5)"/><ellipse cx="176" cy="36" rx="9" ry="12" fill="#f7d0d9" opacity=".7" filter="url(#b3)"/></g><path d="M49,43.3C49.8,41.7 51.6,36.5 54,33.5C56.4,30.5 59.9,27.8 63.4,25.4C66.9,23 70.6,20.8 75,19C79.4,17.2 83.3,15.7 89.7,14.6C96.1,13.5 104.8,11.8 113.6,12.2C122.4,12.6 135.7,15.4 142.3,17C148.9,18.6 149.8,19.7 153,21.5C156.2,23.3 159.1,25.6 161.5,27.8C163.9,30 165.9,32.1 167.5,34.5C169.1,36.9 170.4,40.8 171,42.1C170.2,44.1 169.8,50.3 166.2,54.1C162.6,57.9 156.7,62.3 149.5,64.9C142.3,67.5 132.4,69.2 123.2,69.6C114,70 103.3,69 94.5,67.2C85.7,65.4 77.4,61.9 70.6,58.9C63.8,55.9 57.4,51.9 53.8,49.3C50.2,46.7 49.8,44.3 49,43.3Z" fill="url(#wall)"/><g clip-path="url(#cD2)"><path d="M49,43.3C49.8,41.7 51.6,36.5 54,33.5C56.4,30.5 59.9,27.8 63.4,25.4C66.9,23 70.6,20.8 75,19C79.4,17.2 83.3,15.7 89.7,14.6C96.1,13.5 104.8,11.8 113.6,12.2C122.4,12.6 135.7,15.4 142.3,17C148.9,18.6 149.8,19.7 153,21.5C156.2,23.3 159.1,25.6 161.5,27.8C163.9,30 165.9,32.1 167.5,34.5C169.1,36.9 170.4,40.8 171,42.1" fill="none" stroke="#dc8aa2" stroke-width="4" opacity=".55" filter="url(#b2)"/></g><path d="M57.4,51.7C58.3,50.1 60.4,45 63,42C65.6,39 69.5,36.2 73,33.8C76.5,31.4 80,29.3 84,27.5C88,25.7 91.2,24.1 96.9,23C102.6,21.9 110.8,20.2 118.4,20.6C126,21 137,23.9 142.3,25.4C147.7,26.9 148.1,27.9 150.5,29.5C152.9,31.1 155.1,33.1 156.7,35C158.3,36.9 159.2,39 160,41C160.8,43 161.2,45.9 161.5,46.9L165,70L120,90L84.9,67.2Z" fill="url(#floorB)"/><g clip-path="url(#cF2)"><path d="M57.4,51.7C58.3,50.1 60.4,45 63,42C65.6,39 69.5,36.2 73,33.8C76.5,31.4 80,29.3 84,27.5C88,25.7 91.2,24.1 96.9,23C102.6,21.9 110.8,20.2 118.4,20.6C126,21 137,23.9 142.3,25.4C147.7,26.9 148.1,27.9 150.5,29.5C152.9,31.1 155.1,33.1 156.7,35C158.3,36.9 159.2,39 160,41C160.8,43 161.2,45.9 161.5,46.9" fill="none" stroke="#de8ea5" stroke-width="5" opacity=".5" filter="url(#b2)"/><path d="M57.4,51.7C58.3,50.1 60.4,45 63,42C65.6,39 69.5,36.2 73,33.8C76.5,31.4 80,29.3 84,27.5C88,25.7 91.2,24.1 96.9,23C102.6,21.9 110.8,20.2 118.4,20.6C126,21 137,23.9 142.3,25.4C147.7,26.9 148.1,27.9 150.5,29.5C152.9,31.1 155.1,33.1 156.7,35C158.3,36.9 159.2,39 160,41C160.8,43 161.2,45.9 161.5,46.9" fill="none" stroke="#f6cdd6" stroke-width="1.4" opacity=".55" filter="url(#b05)"/><ellipse cx="160" cy="50" rx="8" ry="14" fill="#f8d3db" opacity=".6" filter="url(#b3)"/></g><path d="M89.7,63.7C90,62.4 90.3,58.4 91.5,56C92.7,53.6 94.8,51.2 96.9,49.3C99,47.4 101.2,45.9 104,44.5C106.8,43.1 108.8,41.8 113.6,40.9C118.4,40 126.8,38.5 132.8,39.3C138.8,40.1 145.7,43.7 149.5,45.7C153.3,47.7 153.9,49.5 155.5,51.5C157.1,53.5 158.3,56 159.1,57.7C159.8,59.5 160,60.6 160,62C160,63.4 159.2,65.3 159.1,66C157.9,68 155.5,74.8 151.9,78C148.3,81.2 142.3,83.8 137.5,85.2C132.7,86.6 128.4,87 123.2,86.4C118,85.8 111.2,83.8 106.4,81.6C101.6,79.4 97.3,76.2 94.5,73.2C91.7,70.2 90.5,65.3 89.7,63.7Z" fill="url(#floor2)"/><g clip-path="url(#cD3)"><path d="M89.7,63.7C90,62.4 90.3,58.4 91.5,56C92.7,53.6 94.8,51.2 96.9,49.3C99,47.4 101.2,45.9 104,44.5C106.8,43.1 108.8,41.8 113.6,40.9C118.4,40 126.8,38.5 132.8,39.3C138.8,40.1 145.7,43.7 149.5,45.7C153.3,47.7 153.9,49.5 155.5,51.5C157.1,53.5 158.3,56 159.1,57.7C159.8,59.5 160,60.6 160,62C160,63.4 159.2,65.3 159.1,66" fill="none" stroke="#e297ab" stroke-width="4" opacity=".5" filter="url(#b2)"/><ellipse cx="125" cy="70" rx="22" ry="10" fill="#f9d6dd" opacity=".7" filter="url(#b3)"/></g><path d="M0.5,41.5L38.3,40.9L51.4,45.7L65.8,57.7L84.9,67.2L92,71.5C92.4,71.8 92.1,71.5 94.5,73.2C96.9,74.9 101.6,79.4 106.4,81.6C111.2,83.8 118,85.8 123.2,86.4C128.4,87 132.7,86.6 137.5,85.2C142.3,83.8 148.3,81.2 151.9,78C155.5,74.8 157.9,68 159.1,66L172,47L189,39.7L228.5,43.5V112H0.5Z" fill="#f7c3ce"/><path d="M0.5,62.5C3.3,63.4 6.6,64.1 13.1,66.5C19.6,68.9 23.5,73.3 29.9,73.5C36.3,73.7 36.5,67.5 41.8,67.2C47.1,66.9 49.5,71.9 53.8,72.3C58.1,72.7 58.8,71.4 61,69C63.2,66.6 62.5,63.8 63.6,61.3C64.7,58.8 65.3,58.5 65.8,57.7L84.9,67.2L92,71.5C92.4,71.8 92.1,71.5 94.5,73.2C96.9,74.9 101.6,79.4 106.4,81.6C111.2,83.8 118,85.8 123.2,86.4C128.4,87 132.7,86.6 137.5,85.2C142.3,83.8 148.3,81.2 151.9,78C155.5,74.8 157.9,68 159.1,66C159.4,67.1 157.7,68.4 160.3,70.8C162.9,73.2 166.5,74.9 171,76.8C175.5,78.7 175.8,80.5 180.6,79.4C185.4,78.3 187.8,73.1 192.6,72C197.4,70.9 198,72.4 202,74.6C206,76.8 206.2,81.3 210.5,81.8C214.8,82.3 217.3,78.2 221.3,76.8C225.3,75.4 226.9,75.7 228.5,75.4V112H0.5Z" fill="url(#derm)"/><path d="M0.5,62.5C3.3,63.4 6.6,64.1 13.1,66.5C19.6,68.9 23.5,73.3 29.9,73.5C36.3,73.7 36.5,67.5 41.8,67.2C47.1,66.9 49.5,71.9 53.8,72.3C58.1,72.7 58.8,71.4 61,69C63.2,66.6 62.5,63.8 63.6,61.3C64.7,58.8 65.3,58.5 65.8,57.7" fill="none" stroke="#b06b83" stroke-width="2.1"/><path d="M160.3,70.8C162.7,72.1 166.5,74.9 171,76.8C175.5,78.7 175.8,80.5 180.6,79.4C185.4,78.3 187.8,73.1 192.6,72C197.4,70.9 198,72.4 202,74.6C206,76.8 206.2,81.3 210.5,81.8C214.8,82.3 217.3,78.2 221.3,76.8C225.3,75.4 226.9,75.7 228.5,75.4" fill="none" stroke="#b06b83" stroke-width="2.1"/><path d="M131,78.5C132,77.2 134.5,76.9 136,77C137.5,77.1 138.5,78.8 140,79C141.5,79.2 143.5,77.5 145,78C146.5,78.5 148.7,80.5 149,82C149.3,83.5 147,85.3 147,87C147,88.7 149.3,90.5 149,92C148.7,93.5 146.5,94.8 145,96C143.5,97.2 141.7,99.2 140,99.5C138.3,99.8 136.3,99.1 135,98C133.7,96.9 132.3,94.5 132,93C131.7,91.5 133.3,90.3 133,89C132.7,87.7 130.3,86.8 130,85C129.7,83.2 130,79.8 131,78.5Z" fill="#f9deb0" stroke="#f5d3a0" stroke-width="0.8" filter="url(#rough)"/><g clip-path="url(#t3)"><g fill="#fef6e4" opacity="0.5"><circle cx="131.2" cy="79.4" r="1.4"/></g><g fill="#fef6e4" opacity="0.75"><circle cx="138" cy="79" r="1.2"/><circle cx="143.8" cy="95.7" r="1.6"/></g><g fill="#fef6e4" opacity="1"><circle cx="146.3" cy="85.7" r="0.9"/></g><g fill="#fdf1d8" opacity="0.75"><circle cx="140.4" cy="91.2" r="1.2"/><circle cx="140.6" cy="88.3" r="1.6"/><circle cx="146.5" cy="81.8" r="1"/><circle cx="139.7" cy="99" r="1.4"/><circle cx="143.8" cy="79.1" r="0.6"/></g><g fill="#fdf1d8" opacity="1"><circle cx="139.4" cy="88.7" r="1"/><circle cx="140.7" cy="95.5" r="1.1"/><circle cx="140.2" cy="86.4" r="1.1"/></g><g fill="#fbe9c8" opacity="0.5"><circle cx="141.3" cy="86.8" r="1"/></g><g fill="#fbe9c8" opacity="0.75"><circle cx="144.7" cy="83.3" r="1.4"/></g><g fill="#fbe9c8" opacity="1"><circle cx="144" cy="92.1" r="0.8"/></g><g fill="#fbe6c0" opacity="0.75"><circle cx="139.2" cy="88.3" r="1.4"/></g><g fill="#fbe6c0" opacity="1"><circle cx="134.6" cy="88.3" r="0.8"/></g><g fill="#f8d9a6" opacity="0.75"><circle cx="145.8" cy="94.7" r="1.6"/><circle cx="140.2" cy="90.4" r="1.6"/><circle cx="143.6" cy="82.7" r="1.4"/><circle cx="134.4" cy="92.1" r="1.1"/></g><g fill="#f8d9a6" opacity="1"><circle cx="140.2" cy="88.8" r="1.4"/><circle cx="145.8" cy="83.8" r="0.7"/></g><g fill="#f6d39c" opacity="0.5"><circle cx="135.3" cy="92.7" r="0.6"/></g><g fill="#f6d39c" opacity="0.75"><circle cx="137.9" cy="81.5" r="1.6"/><circle cx="138.7" cy="78.7" r="1.6"/><circle cx="131.5" cy="81.4" r="0.7"/></g><g fill="#f6d39c" opacity="1"><circle cx="138.3" cy="93.4" r="1.4"/></g><g fill="#f5c98a" opacity="0.75"><circle cx="134.9" cy="87.7" r="1.4"/><circle cx="139.2" cy="89" r="1.4"/></g><g fill="#f5c98a" opacity="1"><circle cx="145.3" cy="81.3" r="0.8"/></g><g fill="#f3bf80" opacity="0.5"><circle cx="144.4" cy="86.9" r="1.4"/></g><g fill="#f3bf80" opacity="0.75"><circle cx="147" cy="83.3" r="1.5"/><circle cx="138.7" cy="88.5" r="1.2"/><circle cx="140.6" cy="96.1" r="1.3"/></g><g fill="#f3bf80" opacity="1"><circle cx="134.9" cy="96.5" r="1.1"/><circle cx="138" cy="94.7" r="0.7"/></g><g fill="#efa67a" opacity="0.75"><circle cx="135.7" cy="87.1" r="1.4"/><circle cx="140.4" cy="98.3" r="1.5"/></g><g fill="#efa67a" opacity="1"><circle cx="144.8" cy="78.9" r="1.4"/></g></g><path d="M89.7,63.7C90,62.4 90.3,58.4 91.5,56C92.7,53.6 94.8,51.2 96.9,49.3C99,47.4 101.2,45.9 104,44.5C106.8,43.1 108.8,41.8 113.6,40.9C118.4,40 126.8,38.5 132.8,39.3C138.8,40.1 145.7,43.7 149.5,45.7C153.3,47.7 153.9,49.5 155.5,51.5C157.1,53.5 158.3,56 159.1,57.7C159.8,59.5 160,60.6 160,62C160,63.4 159.2,65.3 159.1,66C157.9,68 155.5,74.8 151.9,78C148.3,81.2 142.3,83.8 137.5,85.2C132.7,86.6 128.4,87 123.2,86.4C118,85.8 111.2,83.8 106.4,81.6C101.6,79.4 97.3,76.2 94.5,73.2C91.7,70.2 90.5,65.3 89.7,63.7Z" fill="none" stroke="#151515" stroke-width="1.8" stroke-dasharray="6.3 2.8"/><path d="M0.5,41.5L47,0H195L228.5,43.5V112H0.5Z" fill="none" stroke="#b59a8c" stroke-width=".8"/><path d="M123.3,62.2L124.1,61L125.1,59.6L126.2,57.8L127.5,55.9L128.8,53.8L130.3,51.6L131.8,49.2L133.4,46.8L135,44.5L136.6,42.1L138.2,39.8L139.7,37.7L141.2,35.7L142.5,33.9L143.9,32.2L145.2,30.6L146.5,29.1L147.8,27.6L149.1,26.2L150.4,24.8L151.7,23.5L152.9,22.1L154.2,20.8L155.5,19.6L156.8,18.3L158.1,17.1L159.4,15.8L160.7,14.6L161.9,13.3L163.2,12.1L164.4,11L165.6,9.9L166.8,8.8L168,7.7L169.2,6.6L170.5,5.6L171.7,4.5L173,3.4L174.3,2.3L175.7,1.2L177.2,0L178.7,-1.2L180.3,-2.4L182.1,-3.8L184.1,-5.2L186.1,-6.7L188.2,-8.2L190.5,-5.2L202.7,-21.3L183.7,-14.4L185.9,-11.3L183.8,-9.7L181.8,-8.2L179.9,-6.6L178.1,-5.2L176.5,-3.8L175,-2.6L173.6,-1.4L172.2,-0.2L170.9,1L169.6,2.1L168.4,3.2L167.2,4.3L166,5.5L164.8,6.6L163.6,7.8L162.4,8.9L161.2,10.1L160,11.4L158.7,12.6L157.5,13.9L156.2,15.2L155,16.5L153.7,17.8L152.5,19.2L151.2,20.5L150,21.9L148.7,23.3L147.4,24.7L146.2,26.2L144.9,27.8L143.6,29.3L142.3,31L141.1,32.7L139.7,34.6L138.3,36.7L136.8,38.9L135.3,41.3L133.8,43.7L132.2,46.1L130.7,48.5L129.3,50.9L127.9,53.2L126.6,55.4L125.4,57.3L124.3,59.1L123.4,60.6L122.7,61.8Z" fill="#0d0d0d"/></g><g transform="translate(758,445.5)"><polygon points="47,0 195,0 228.5,43.5 0.5,41.5" fill="url(#tan)"/><g clip-path="url(#topclip)"><ellipse cx="60" cy="30" rx="40" ry="9" fill="#f8e8d6" opacity=".7" filter="url(#b3)"/><ellipse cx="185" cy="14" rx="22" ry="10" fill="#e6bf9b" opacity=".4" filter="url(#b3)"/><ellipse cx="60" cy="4" rx="25" ry="6" fill="#e8c4a2" opacity=".5" filter="url(#b3)"/><path d="M0.5,41L37,40.6M191,42.4L228.5,43" stroke="#f9ead9" stroke-width="1.6" opacity=".8"/></g><path d="M173,45L189,39.7L175,52L162,74L150,86L120,92L90,72L60,56L52,47.5L37,42L38.3,40L50,42Z" fill="#efb4c3"/><path d="M38.3,40.9C38.8,39.2 39.6,34 41,31C42.4,28 44.3,25.6 46.6,23C48.9,20.4 51.8,17.7 55,15.5C58.2,13.3 61.6,11.5 65.8,9.8C70,8.1 75.2,6.5 80,5.3C84.8,4.1 88.1,3.4 94.5,2.7C100.9,2 109.6,0.8 118.4,1C127.2,1.2 140.2,2.8 147.1,3.9C154,5 156,6.2 160,7.8C164,9.4 167.8,11.3 171,13.4C174.2,15.5 177.1,18.1 179.5,20.5C181.9,22.9 183.8,24.6 185.4,27.8C187,31 188.4,37.7 189,39.7L172,48C171,49 169.9,51.3 166.2,54.1C162.4,56.9 156.7,62.3 149.5,64.9C142.3,67.5 132.4,69.2 123.2,69.6C114,70 103.3,69 94.5,67.2C85.7,65.4 77.4,61.9 70.6,58.9C63.8,55.9 57.4,51.9 53.8,49.3C50.2,46.7 49.8,44.3 49,43.3Z" fill="url(#wall)"/><g clip-path="url(#cO)"><path d="M38.3,40.9C38.8,39.2 39.6,34 41,31C42.4,28 44.3,25.6 46.6,23C48.9,20.4 51.8,17.7 55,15.5C58.2,13.3 61.6,11.5 65.8,9.8C70,8.1 75.2,6.5 80,5.3C84.8,4.1 88.1,3.4 94.5,2.7C100.9,2 109.6,0.8 118.4,1C127.2,1.2 140.2,2.8 147.1,3.9C154,5 156,6.2 160,7.8C164,9.4 167.8,11.3 171,13.4C174.2,15.5 177.1,18.1 179.5,20.5C181.9,22.9 183.8,24.6 185.4,27.8C187,31 188.4,37.7 189,39.7" fill="none" stroke="#dc8aa2" stroke-width="4" opacity=".6" filter="url(#b2)"/><path d="M113.6,12.2C118.4,13 135.7,15.4 142.3,17C148.9,18.6 149.8,19.7 153,21.5C156.2,23.3 159.1,25.6 161.5,27.8C163.9,30 165.9,32.1 167.5,34.5C169.1,36.9 170.4,40.8 171,42.1" fill="none" stroke="#f3c0cc" stroke-width="5" opacity=".75" filter="url(#b15)" transform="translate(0,-3.5)"/><ellipse cx="176" cy="36" rx="9" ry="12" fill="#f7d0d9" opacity=".7" filter="url(#b3)"/></g><path d="M49,43.3C49.8,41.7 51.6,36.5 54,33.5C56.4,30.5 59.9,27.8 63.4,25.4C66.9,23 70.6,20.8 75,19C79.4,17.2 83.3,15.7 89.7,14.6C96.1,13.5 104.8,11.8 113.6,12.2C122.4,12.6 135.7,15.4 142.3,17C148.9,18.6 149.8,19.7 153,21.5C156.2,23.3 159.1,25.6 161.5,27.8C163.9,30 165.9,32.1 167.5,34.5C169.1,36.9 170.4,40.8 171,42.1C170.2,44.1 169.8,50.3 166.2,54.1C162.6,57.9 156.7,62.3 149.5,64.9C142.3,67.5 132.4,69.2 123.2,69.6C114,70 103.3,69 94.5,67.2C85.7,65.4 77.4,61.9 70.6,58.9C63.8,55.9 57.4,51.9 53.8,49.3C50.2,46.7 49.8,44.3 49,43.3Z" fill="url(#wall)"/><g clip-path="url(#cD2)"><path d="M49,43.3C49.8,41.7 51.6,36.5 54,33.5C56.4,30.5 59.9,27.8 63.4,25.4C66.9,23 70.6,20.8 75,19C79.4,17.2 83.3,15.7 89.7,14.6C96.1,13.5 104.8,11.8 113.6,12.2C122.4,12.6 135.7,15.4 142.3,17C148.9,18.6 149.8,19.7 153,21.5C156.2,23.3 159.1,25.6 161.5,27.8C163.9,30 165.9,32.1 167.5,34.5C169.1,36.9 170.4,40.8 171,42.1" fill="none" stroke="#dc8aa2" stroke-width="4" opacity=".55" filter="url(#b2)"/></g><path d="M57.4,51.7C58.3,50.1 60.4,45 63,42C65.6,39 69.5,36.2 73,33.8C76.5,31.4 80,29.3 84,27.5C88,25.7 91.2,24.1 96.9,23C102.6,21.9 110.8,20.2 118.4,20.6C126,21 137,23.9 142.3,25.4C147.7,26.9 148.1,27.9 150.5,29.5C152.9,31.1 155.1,33.1 156.7,35C158.3,36.9 159.2,39 160,41C160.8,43 161.2,45.9 161.5,46.9L165,70L120,90L84.9,67.2Z" fill="url(#floorB)"/><g clip-path="url(#cF2)"><path d="M57.4,51.7C58.3,50.1 60.4,45 63,42C65.6,39 69.5,36.2 73,33.8C76.5,31.4 80,29.3 84,27.5C88,25.7 91.2,24.1 96.9,23C102.6,21.9 110.8,20.2 118.4,20.6C126,21 137,23.9 142.3,25.4C147.7,26.9 148.1,27.9 150.5,29.5C152.9,31.1 155.1,33.1 156.7,35C158.3,36.9 159.2,39 160,41C160.8,43 161.2,45.9 161.5,46.9" fill="none" stroke="#de8ea5" stroke-width="5" opacity=".5" filter="url(#b2)"/><path d="M57.4,51.7C58.3,50.1 60.4,45 63,42C65.6,39 69.5,36.2 73,33.8C76.5,31.4 80,29.3 84,27.5C88,25.7 91.2,24.1 96.9,23C102.6,21.9 110.8,20.2 118.4,20.6C126,21 137,23.9 142.3,25.4C147.7,26.9 148.1,27.9 150.5,29.5C152.9,31.1 155.1,33.1 156.7,35C158.3,36.9 159.2,39 160,41C160.8,43 161.2,45.9 161.5,46.9" fill="none" stroke="#f6cdd6" stroke-width="1.4" opacity=".55" filter="url(#b05)"/><ellipse cx="160" cy="50" rx="8" ry="14" fill="#f8d3db" opacity=".6" filter="url(#b3)"/></g><path d="M89.7,63.7C90,62.4 90.3,58.4 91.5,56C92.7,53.6 94.8,51.2 96.9,49.3C99,47.4 101.2,45.9 104,44.5C106.8,43.1 108.8,41.8 113.6,40.9C118.4,40 126.8,38.5 132.8,39.3C138.8,40.1 145.7,43.7 149.5,45.7C153.3,47.7 153.9,49.5 155.5,51.5C157.1,53.5 158.3,56 159.1,57.7C159.8,59.5 160,60.6 160,62C160,63.4 159.2,65.3 159.1,66C157.9,68 155.5,74.8 151.9,78C148.3,81.2 142.3,83.8 137.5,85.2C132.7,86.6 128.4,87 123.2,86.4C118,85.8 111.2,83.8 106.4,81.6C101.6,79.4 97.3,76.2 94.5,73.2C91.7,70.2 90.5,65.3 89.7,63.7Z" fill="url(#wall)"/><g clip-path="url(#cD3)"><path d="M89.7,63.7C90,62.4 90.3,58.4 91.5,56C92.7,53.6 94.8,51.2 96.9,49.3C99,47.4 101.2,45.9 104,44.5C106.8,43.1 108.8,41.8 113.6,40.9C118.4,40 126.8,38.5 132.8,39.3C138.8,40.1 145.7,43.7 149.5,45.7C153.3,47.7 153.9,49.5 155.5,51.5C157.1,53.5 158.3,56 159.1,57.7C159.8,59.5 160,60.6 160,62C160,63.4 159.2,65.3 159.1,66" fill="none" stroke="#dc8aa2" stroke-width="3.5" opacity=".5" filter="url(#b2)"/></g><path d="M94.5,68.4C95.2,67 97,62.4 99,60C101,57.6 103.9,55.8 106.4,54.1C108.9,52.4 111.2,51 114,50C116.8,49 118.9,48.2 123.2,48.1C127.5,48 135.9,48.5 139.9,49.3C143.9,50.1 145,51.4 147,53C149,54.6 150.7,57.1 151.9,58.9C153.1,60.6 153.6,61.9 154,63.5C154.4,65.1 154.2,67.6 154.3,68.4L156,80L130,92L100,78Z" fill="url(#floorB)"/><g clip-path="url(#cF3)"><path d="M94.5,68.4C95.2,67 97,62.4 99,60C101,57.6 103.9,55.8 106.4,54.1C108.9,52.4 111.2,51 114,50C116.8,49 118.9,48.2 123.2,48.1C127.5,48 135.9,48.5 139.9,49.3C143.9,50.1 145,51.4 147,53C149,54.6 150.7,57.1 151.9,58.9C153.1,60.6 153.6,61.9 154,63.5C154.4,65.1 154.2,67.6 154.3,68.4" fill="none" stroke="#e297ab" stroke-width="4" opacity=".5" filter="url(#b2)"/><path d="M94.5,68.4C95.2,67 97,62.4 99,60C101,57.6 103.9,55.8 106.4,54.1C108.9,52.4 111.2,51 114,50C116.8,49 118.9,48.2 123.2,48.1C127.5,48 135.9,48.5 139.9,49.3C143.9,50.1 145,51.4 147,53C149,54.6 150.7,57.1 151.9,58.9C153.1,60.6 153.6,61.9 154,63.5C154.4,65.1 154.2,67.6 154.3,68.4" fill="none" stroke="#f9d5dd" stroke-width="1.5" opacity=".9" filter="url(#b05)"/></g><path d="M0.5,41.5L38.3,40.9L51.4,45.7L65.8,57.7L84.9,67.2L94.5,73.2C96.5,74.6 102.7,79.6 106.4,81.6C110.2,83.6 114,84.3 117,85C120,85.7 123.2,85.8 124.4,86L125.6,92.4L132.8,102L142.3,99.5L151.9,90L153.1,82L159.1,70L172,47L189,39.7L228.5,43.5V112H0.5Z" fill="#f7c3ce"/><path d="M0.5,62.5C3.3,63.4 6.6,64.1 13.1,66.5C19.6,68.9 23.5,73.3 29.9,73.5C36.3,73.7 36.5,67.5 41.8,67.2C47.1,66.9 49.5,71.9 53.8,72.3C58.1,72.7 58.8,71.4 61,69C63.2,66.6 62.5,63.8 63.6,61.3C64.7,58.8 65.3,58.5 65.8,57.7L84.9,67.2L94.5,73.2C96.5,74.6 102.7,79.6 106.4,81.6C110.2,83.6 114,84.3 117,85C120,85.7 123.2,85.8 124.4,86L125.6,92.4L132.8,102L142.3,99.5L151.9,90L153.1,82L159.1,70C159.4,68.7 157.7,69.2 160.3,71.2C162.9,73.2 166.5,75 171,76.8C175.5,78.6 175.8,80.5 180.6,79.4C185.4,78.3 187.8,73.1 192.6,72C197.4,70.9 198,72.4 202,74.6C206,76.8 206.2,81.3 210.5,81.8C214.8,82.3 217.3,78.2 221.3,76.8C225.3,75.4 226.9,75.7 228.5,75.4V112H0.5Z" fill="url(#derm)"/><path d="M124.4,85.2C124.8,83.2 126.5,81.7 128,80.4C129.5,79.1 131.5,78.2 133.5,77.5C135.5,76.8 137.6,76 139.9,76.1C142.2,76.2 145.3,77.1 147.5,78C149.7,78.9 152.1,80.3 153.1,81.6C154.1,82.9 153.7,84.6 153.5,86C153.3,87.4 152.9,88.4 151.9,90C150.9,91.6 149.1,93.9 147.5,95.5C145.9,97.1 144,98.5 142.3,99.5C140.6,100.5 139.1,101.2 137.5,101.6C135.9,102 134.3,102.6 132.8,102C131.3,101.4 129.7,99.6 128.5,98C127.3,96.4 126.3,94.5 125.6,92.4C124.9,90.3 124,87.2 124.4,85.2Z" fill="#f6c8d2"/><g clip-path="url(#cD4)"><ellipse cx="138" cy="92" rx="9" ry="7" fill="#fadde3" opacity=".8" filter="url(#b2)"/></g><path d="M0.5,62.5C3.3,63.4 6.6,64.1 13.1,66.5C19.6,68.9 23.5,73.3 29.9,73.5C36.3,73.7 36.5,67.5 41.8,67.2C47.1,66.9 49.5,71.9 53.8,72.3C58.1,72.7 58.8,71.4 61,69C63.2,66.6 62.5,63.8 63.6,61.3C64.7,58.8 65.3,58.5 65.8,57.7" fill="none" stroke="#b06b83" stroke-width="2.1"/><path d="M160.3,71.2C162.7,72.4 166.5,75 171,76.8C175.5,78.6 175.8,80.5 180.6,79.4C185.4,78.3 187.8,73.1 192.6,72C197.4,70.9 198,72.4 202,74.6C206,76.8 206.2,81.3 210.5,81.8C214.8,82.3 217.3,78.2 221.3,76.8C225.3,75.4 226.9,75.7 228.5,75.4" fill="none" stroke="#b06b83" stroke-width="2.1"/><path d="M124.4,85.2C124.8,83.2 126.5,81.7 128,80.4C129.5,79.1 131.5,78.2 133.5,77.5C135.5,76.8 137.6,76 139.9,76.1C142.2,76.2 145.3,77.1 147.5,78C149.7,78.9 152.1,80.3 153.1,81.6C154.1,82.9 153.7,84.6 153.5,86C153.3,87.4 152.9,88.4 151.9,90C150.9,91.6 149.1,93.9 147.5,95.5C145.9,97.1 144,98.5 142.3,99.5C140.6,100.5 139.1,101.2 137.5,101.6C135.9,102 134.3,102.6 132.8,102C131.3,101.4 129.7,99.6 128.5,98C127.3,96.4 126.3,94.5 125.6,92.4C124.9,90.3 124,87.2 124.4,85.2Z" fill="none" stroke="#151515" stroke-width="1.7" stroke-dasharray="4.6 2.4"/><path d="M0.5,41.5L47,0H195L228.5,43.5V112H0.5Z" fill="none" stroke="#b59a8c" stroke-width=".8"/><path d="M143.3,76.9L143.6,76L144,75L144.5,73.7L145,72.3L145.6,70.7L146.2,69.1L146.8,67.4L147.5,65.6L148.2,63.8L149,62L149.7,60.2L150.5,58.4L151.2,56.8L152,55.2L152.8,53.7L153.6,52.2L154.4,50.7L155.3,49.2L156.1,47.7L157,46.2L158,44.7L158.9,43.2L159.8,41.7L160.8,40.3L161.8,38.8L162.8,37.4L163.7,35.9L164.7,34.5L165.7,33.1L166.7,31.7L167.8,30.4L168.8,29L169.9,27.6L170.9,26.3L172,25L173.1,23.6L174.1,22.3L175.2,21L176.3,19.8L177.4,18.5L178.5,17.3L179.5,16.1L180.6,14.9L181.6,13.7L182.6,12.6L183.6,11.5L184.5,10.5L185.5,9.4L186.5,8.4L187.5,7.4L188.5,6.3L189.6,5.3L190.7,4.2L191.8,3.1L193,2L194.2,0.8L195.6,-0.5L197.1,-1.8L198.7,-3.3L200.4,-4.8L202.2,-6.3L203,-1.9L214,-19.4L195.3,-10.5L199.6,-9.2L197.9,-7.6L196.2,-6.1L194.6,-4.5L193.1,-3.1L191.8,-1.8L190.5,-0.6L189.4,0.6L188.2,1.8L187.2,2.9L186.1,4L185.1,5.1L184.1,6.2L183.1,7.3L182.2,8.4L181.2,9.5L180.3,10.6L179.3,11.7L178.3,12.9L177.3,14.1L176.2,15.4L175.2,16.7L174.2,18L173.1,19.3L172.1,20.6L171,22L169.9,23.4L168.9,24.7L167.9,26.1L166.8,27.5L165.8,29L164.8,30.4L163.8,31.8L162.9,33.3L161.9,34.7L161,36.2L160,37.7L159.1,39.2L158.2,40.7L157.3,42.2L156.4,43.7L155.5,45.3L154.6,46.8L153.8,48.4L152.9,49.9L152.1,51.5L151.4,53L150.6,54.6L149.9,56.2L149.2,57.9L148.5,59.7L147.8,61.5L147.1,63.3L146.4,65.2L145.8,67L145.2,68.7L144.6,70.4L144.1,72L143.6,73.4L143.2,74.7L142.8,75.8L142.5,76.7Z" fill="#0d0d0d"/></g>
<path d="M785.2,172.5C787,170.2 791.9,162.4 796.1,158.4C800.3,154.4 804.9,151.5 810.2,148.7C815.5,145.9 821.9,143.4 827.7,141.7C833.6,139.9 839.4,138.9 845.3,138.2C851.2,137.5 857,137.2 862.9,137.3C868.8,137.5 874.6,137.9 880.5,139.1C886.4,140.3 892.1,142 898,144.3C903.9,146.6 910.6,149.9 915.6,153.1C920.6,156.3 924.7,160.2 927.9,163.7C931.1,167.2 933.7,171.9 935,174.2C936.3,176.5 935.7,177.1 935.8,177.7C934.5,178.3 932.7,179.7 927.9,181.2C923.1,182.7 914.7,185.1 906.8,186.5C898.9,187.9 889.3,189.1 880.5,189.5C871.7,189.9 862.9,189.8 854.1,189.2C845.3,188.5 835.6,187.1 827.7,185.6C819.8,184.1 812.5,182 806.6,180.4C800.8,178.8 796.2,177.3 792.6,176C789,174.7 786.4,173.1 785.2,172.5Z" fill="#6f6f6f" opacity=".55" filter="url(#b3)" transform="translate(5,4.5)"/><path d="M785.2,172.5C787,170.2 791.9,162.4 796.1,158.4C800.3,154.4 804.9,151.5 810.2,148.7C815.5,145.9 821.9,143.4 827.7,141.7C833.6,139.9 839.4,138.9 845.3,138.2C851.2,137.5 857,137.2 862.9,137.3C868.8,137.5 874.6,137.9 880.5,139.1C886.4,140.3 892.1,142 898,144.3C903.9,146.6 910.6,149.9 915.6,153.1C920.6,156.3 924.7,160.2 927.9,163.7C931.1,167.2 933.7,171.9 935,174.2C936.3,176.5 935.7,177.1 935.8,177.7C934.5,178.3 932.7,179.7 927.9,181.2C923.1,182.7 914.7,185.1 906.8,186.5C898.9,187.9 889.3,189.1 880.5,189.5C871.7,189.9 862.9,189.8 854.1,189.2C845.3,188.5 835.6,187.1 827.7,185.6C819.8,184.1 812.5,182 806.6,180.4C800.8,178.8 796.2,177.3 792.6,176C789,174.7 786.4,173.1 785.2,172.5Z" fill="#f6c5cf"/><path d="M785.2,172.5C787,170.2 791.9,162.4 796.1,158.4C800.3,154.4 804.9,151.5 810.2,148.7C815.5,145.9 821.9,143.4 827.7,141.7C833.6,139.9 839.4,138.9 845.3,138.2C851.2,137.5 857,137.2 862.9,137.3C868.8,137.5 874.6,137.9 880.5,139.1C886.4,140.3 892.1,142 898,144.3C903.9,146.6 910.6,149.9 915.6,153.1C920.6,156.3 924.7,160.2 927.9,163.7C931.1,167.2 933.7,171.9 935,174.2C936.3,176.5 935.7,177.1 935.8,177.7C931,177.4 916,176.7 906.8,176C897.6,175.3 890.8,174.1 880.5,173.3C870.2,172.5 857,171.6 845.3,171.1C833.6,170.6 820.2,170.2 810.2,170.4C800.2,170.6 789.4,172.2 785.2,172.5Z" fill="#f1d3b8"/><g clip-path="url(#s1t)"><ellipse cx="800" cy="166" rx="14" ry="6" fill="#f7e4d2" opacity=".8" filter="url(#b2)"/><ellipse cx="925" cy="166" rx="12" ry="10" fill="#e9c3a3" opacity=".7" filter="url(#b3)"/><g transform="translate(747,134)"><ellipse cx="110" cy="25" rx="62" ry="19" fill="#f0b09c" opacity=".9" filter="url(#b3)"/><ellipse cx="111" cy="25.5" rx="54" ry="14.5" fill="#e47c72" opacity=".95" filter="url(#b3)"/><ellipse cx="72" cy="29" rx="13" ry="4.5" fill="#d95a5e" opacity=".8" filter="url(#b2)"/><ellipse cx="96" cy="17" rx="10" ry="4.5" fill="#d8565c" opacity=".8" filter="url(#b2)"/><ellipse cx="110" cy="28" rx="9" ry="5" fill="#d65058" opacity=".8" filter="url(#b2)"/><ellipse cx="128" cy="19" rx="10" ry="5" fill="#d95a5f" opacity=".8" filter="url(#b2)"/><ellipse cx="151" cy="24" rx="11" ry="6" fill="#d8555b" opacity=".8" filter="url(#b2)"/><ellipse cx="136" cy="31" rx="9" ry="3.5" fill="#dc6263" opacity=".8" filter="url(#b2)"/><ellipse cx="85" cy="23" rx="7" ry="3.5" fill="#dc6263" opacity=".8" filter="url(#b2)"/><ellipse cx="111" cy="25" rx="56" ry="15" fill="#d5505a" filter="url(#mottle)"/><ellipse cx="111" cy="25" rx="52" ry="12" fill="#fff" filter="url(#mottle2)"/><path d="M84,37L96,24L100,25L92,38Z" fill="#f8dcd6" opacity=".85" filter="url(#b1)"/></g></g><g clip-path="url(#s1)"><path d="M798,171L810.2,170.4L845.3,171.1L880.5,173.3L908.6,176.2L906,184.5L895,186.8L880.5,188.8L854.1,188.5L827.7,184.8L810,180.2L800,176Z" fill="#f9deb0" stroke="#f5d3a0" stroke-width="0.8" filter="url(#rough)"/><g clip-path="url(#ts1)"><g fill="#fef6e4" opacity="0.5"><circle cx="803.7" cy="171.6" r="1.1"/><circle cx="842.8" cy="185" r="1.2"/><circle cx="843.4" cy="183.1" r="1.5"/></g><g fill="#fef6e4" opacity="0.75"><circle cx="882.2" cy="182" r="0.8"/><circle cx="853.4" cy="173.5" r="1.4"/><circle cx="904.3" cy="181.7" r="0.9"/><circle cx="875.8" cy="180.4" r="0.9"/><circle cx="868.8" cy="176.6" r="1.6"/><circle cx="827.2" cy="182.1" r="0.8"/><circle cx="887" cy="175" r="1.1"/><circle cx="813.9" cy="172.2" r="1.1"/><circle cx="885.8" cy="182.3" r="0.7"/><circle cx="851.4" cy="180.4" r="1.4"/><circle cx="833.5" cy="181.5" r="0.8"/><circle cx="820.9" cy="171.8" r="1"/><circle cx="903.8" cy="182.1" r="0.9"/><circle cx="852" cy="182.5" r="0.6"/><circle cx="850.8" cy="187.1" r="1.4"/><circle cx="825.2" cy="171.9" r="0.7"/></g><g fill="#fef6e4" opacity="1"><circle cx="888.7" cy="178.8" r="0.9"/><circle cx="829.7" cy="171" r="1.2"/><circle cx="823.8" cy="179.1" r="1.6"/><circle cx="876.2" cy="177.5" r="0.7"/><circle cx="892.8" cy="177.8" r="1.6"/><circle cx="807.9" cy="175.4" r="1.4"/><circle cx="867.6" cy="185.2" r="1.5"/><circle cx="809.7" cy="172.3" r="1.3"/></g><g fill="#fdf1d8" opacity="0.5"><circle cx="859.9" cy="179.9" r="1.1"/><circle cx="905.3" cy="179.4" r="1.1"/><circle cx="867.2" cy="183.2" r="1.3"/><circle cx="823.6" cy="182.7" r="1.4"/><circle cx="884.4" cy="186.6" r="1.4"/><circle cx="841" cy="183.8" r="0.6"/><circle cx="890.5" cy="184.4" r="1.4"/><circle cx="866.9" cy="178" r="0.7"/><circle cx="900" cy="184.6" r="1"/></g><g fill="#fdf1d8" opacity="0.75"><circle cx="852.7" cy="180.6" r="1.4"/><circle cx="879.6" cy="185.9" r="1"/><circle cx="843.1" cy="172.8" r="0.7"/><circle cx="857.7" cy="172" r="0.9"/><circle cx="837.1" cy="176.4" r="1.4"/><circle cx="902.9" cy="181.2" r="1.3"/><circle cx="808" cy="174.8" r="1.2"/><circle cx="879.8" cy="187.6" r="1.2"/><circle cx="868" cy="175" r="0.9"/><circle cx="861.3" cy="179.1" r="1"/><circle cx="881.6" cy="176.7" r="1.2"/><circle cx="853.5" cy="188" r="0.8"/><circle cx="821" cy="173.1" r="0.7"/><circle cx="884.2" cy="174.7" r="0.8"/><circle cx="825.7" cy="179.9" r="0.8"/><circle cx="876.9" cy="183.5" r="0.8"/><circle cx="833.4" cy="181.8" r="1.6"/><circle cx="850.2" cy="181.4" r="0.7"/><circle cx="850" cy="179.5" r="1.1"/><circle cx="871" cy="187.4" r="1.1"/><circle cx="882.3" cy="185.5" r="0.9"/><circle cx="825" cy="180.8" r="0.9"/><circle cx="851" cy="182.3" r="1.2"/><circle cx="828" cy="175.8" r="1.4"/><circle cx="860.3" cy="178.4" r="0.7"/><circle cx="818.2" cy="175.9" r="1"/><circle cx="883.3" cy="181.9" r="0.7"/><circle cx="837" cy="185.7" r="1.5"/><circle cx="823.9" cy="180.2" r="0.9"/><circle cx="888.9" cy="179.2" r="1.4"/><circle cx="839.7" cy="171.3" r="1.2"/><circle cx="882" cy="185.2" r="0.7"/><circle cx="873.5" cy="176.8" r="1.3"/><circle cx="889.4" cy="183.5" r="1.4"/><circle cx="830.5" cy="180" r="1"/><circle cx="886.9" cy="174.9" r="1.3"/></g><g fill="#fdf1d8" opacity="1"><circle cx="832" cy="179.4" r="1.6"/><circle cx="865.1" cy="180.8" r="1.3"/><circle cx="868.6" cy="181.5" r="1.2"/><circle cx="866.9" cy="186.3" r="1.2"/><circle cx="878.2" cy="181.9" r="0.7"/><circle cx="871.5" cy="177.5" r="1.5"/><circle cx="839.3" cy="173.9" r="1"/><circle cx="855.3" cy="187.6" r="0.7"/><circle cx="869.8" cy="185.1" r="1.2"/><circle cx="895.7" cy="183.2" r="1.2"/><circle cx="814.9" cy="175.6" r="0.7"/><circle cx="850.5" cy="184.7" r="0.7"/><circle cx="821.7" cy="181.7" r="0.8"/><circle cx="843.1" cy="185" r="1.4"/><circle cx="871.8" cy="175.6" r="1"/><circle cx="858.8" cy="184.2" r="1.5"/><circle cx="888.1" cy="178.8" r="1"/></g><g fill="#fbe9c8" opacity="0.5"><circle cx="821.7" cy="179.2" r="0.9"/><circle cx="893.6" cy="174.8" r="1"/><circle cx="862.7" cy="174.3" r="0.7"/><circle cx="805.7" cy="173.2" r="1"/></g><g fill="#fbe9c8" opacity="0.75"><circle cx="823" cy="171.6" r="1.4"/><circle cx="799.4" cy="174.1" r="1.3"/><circle cx="803.8" cy="175.8" r="0.7"/><circle cx="804.3" cy="172.8" r="1.4"/><circle cx="905.1" cy="182.3" r="1.1"/><circle cx="831.4" cy="183.9" r="1.5"/><circle cx="894.2" cy="178.7" r="1.4"/><circle cx="855.7" cy="183.6" r="0.8"/><circle cx="872.9" cy="184.2" r="0.9"/><circle cx="814" cy="177.4" r="0.6"/><circle cx="858.8" cy="187.3" r="1.1"/></g><g fill="#fbe9c8" opacity="1"><circle cx="847.3" cy="175.1" r="0.9"/><circle cx="809" cy="179.4" r="0.8"/><circle cx="887.2" cy="178.1" r="0.8"/><circle cx="857.4" cy="181.1" r="1.6"/></g><g fill="#fbe6c0" opacity="0.5"><circle cx="809.9" cy="176.8" r="0.7"/><circle cx="877.4" cy="184.2" r="1.4"/><circle cx="902.8" cy="181.9" r="1"/><circle cx="870.4" cy="188.5" r="1.4"/><circle cx="828.8" cy="179.5" r="0.9"/><circle cx="834.3" cy="172.8" r="0.8"/><circle cx="874.8" cy="179.6" r="1.3"/><circle cx="877.3" cy="184.2" r="1.5"/><circle cx="878.9" cy="183.5" r="1.2"/></g><g fill="#fbe6c0" opacity="0.75"><circle cx="865.3" cy="184" r="0.8"/><circle cx="809.5" cy="177.4" r="1.1"/><circle cx="901.2" cy="178.5" r="0.9"/><circle cx="800.8" cy="171.6" r="1.1"/><circle cx="824" cy="175.9" r="1.5"/><circle cx="844.3" cy="179.4" r="1.4"/><circle cx="856.7" cy="173.4" r="0.9"/><circle cx="854.8" cy="186.5" r="1.2"/><circle cx="808" cy="173.3" r="1.3"/><circle cx="843.7" cy="182.5" r="1.5"/></g><g fill="#fbe6c0" opacity="1"><circle cx="898.1" cy="184.2" r="0.6"/><circle cx="809.3" cy="176.1" r="0.6"/><circle cx="806.5" cy="177.6" r="1.5"/><circle cx="806" cy="171.8" r="1.1"/><circle cx="842.3" cy="185.9" r="0.6"/></g><g fill="#f8d9a6" opacity="0.5"><circle cx="863.4" cy="181.8" r="1.3"/><circle cx="821.8" cy="182.2" r="1.2"/></g><g fill="#f8d9a6" opacity="0.75"><circle cx="864" cy="181.7" r="1.2"/><circle cx="881.4" cy="186.2" r="1.1"/><circle cx="853" cy="186" r="1.2"/><circle cx="893.4" cy="180.9" r="1.3"/><circle cx="851.8" cy="184.8" r="0.7"/></g><g fill="#f8d9a6" opacity="1"><circle cx="873.3" cy="177.4" r="1.5"/><circle cx="899" cy="179" r="0.6"/></g><g fill="#f6d39c" opacity="0.5"><circle cx="822.5" cy="175.1" r="0.7"/><circle cx="860.7" cy="174.2" r="1.5"/><circle cx="875.2" cy="174.4" r="0.8"/></g><g fill="#f6d39c" opacity="0.75"><circle cx="853.7" cy="187.8" r="0.7"/><circle cx="882.8" cy="178.8" r="0.9"/><circle cx="853.2" cy="186.7" r="1.3"/><circle cx="897.4" cy="182.1" r="0.7"/><circle cx="835.5" cy="184.2" r="1"/><circle cx="840.5" cy="185.8" r="1.3"/><circle cx="858" cy="184.9" r="0.9"/><circle cx="846.7" cy="177.7" r="1.3"/><circle cx="887.7" cy="183.5" r="0.6"/><circle cx="854.8" cy="180.3" r="0.9"/><circle cx="848.4" cy="173.9" r="1.6"/><circle cx="863.5" cy="184.3" r="1.1"/></g><g fill="#f6d39c" opacity="1"><circle cx="842" cy="172.9" r="1"/><circle cx="870.5" cy="180" r="0.8"/><circle cx="828.3" cy="179.4" r="1.4"/></g><g fill="#f5c98a" opacity="0.5"><circle cx="808.2" cy="173.6" r="0.6"/><circle cx="804.2" cy="171.1" r="0.9"/><circle cx="833.5" cy="180.1" r="0.6"/><circle cx="836.3" cy="180.2" r="1.5"/><circle cx="806" cy="177.4" r="0.6"/></g><g fill="#f5c98a" opacity="0.75"><circle cx="837.5" cy="171.6" r="1.1"/><circle cx="825.4" cy="172.4" r="1"/><circle cx="869.5" cy="173" r="0.7"/><circle cx="901.7" cy="179.1" r="0.9"/><circle cx="829" cy="180.3" r="1.3"/><circle cx="832.3" cy="183.2" r="1.5"/><circle cx="862.4" cy="184.5" r="0.7"/><circle cx="807.8" cy="170.9" r="1.4"/><circle cx="812.3" cy="174" r="1.5"/><circle cx="865.6" cy="181" r="1.5"/><circle cx="881.6" cy="179.5" r="1.4"/><circle cx="820.8" cy="174.2" r="1.4"/><circle cx="814.5" cy="180.6" r="0.7"/><circle cx="880" cy="187.8" r="0.8"/><circle cx="895.4" cy="181.1" r="1"/><circle cx="867.2" cy="174.9" r="1.5"/><circle cx="834.4" cy="174.2" r="1"/></g><g fill="#f5c98a" opacity="1"><circle cx="838.8" cy="174.2" r="1"/><circle cx="890.2" cy="175.3" r="1.5"/><circle cx="841.5" cy="174.5" r="1"/><circle cx="854" cy="178.6" r="1.4"/><circle cx="843.2" cy="174.6" r="0.9"/></g><g fill="#f3bf80" opacity="0.5"><circle cx="864.2" cy="174.3" r="1.2"/><circle cx="844.1" cy="176.2" r="1.2"/><circle cx="864.5" cy="184.1" r="1.4"/><circle cx="831.2" cy="178.5" r="1.4"/><circle cx="829.2" cy="184.6" r="1.2"/><circle cx="845.8" cy="173.9" r="0.7"/></g><g fill="#f3bf80" opacity="0.75"><circle cx="806.3" cy="175.5" r="0.8"/><circle cx="890.6" cy="177.4" r="1.1"/><circle cx="878.4" cy="188.3" r="1.4"/><circle cx="876.5" cy="185.4" r="1.1"/><circle cx="846.3" cy="172.2" r="1.3"/><circle cx="860.1" cy="175" r="0.8"/><circle cx="825.3" cy="171.7" r="1"/><circle cx="803.9" cy="176.5" r="1"/><circle cx="903" cy="176.1" r="1.3"/><circle cx="817.7" cy="179.9" r="1.2"/></g><g fill="#f3bf80" opacity="1"><circle cx="806.7" cy="173.4" r="1.3"/><circle cx="860.2" cy="187" r="1.5"/><circle cx="867.2" cy="182.2" r="1.3"/><circle cx="831.5" cy="175.1" r="1.5"/><circle cx="850.3" cy="187.2" r="1.2"/><circle cx="820.9" cy="181.8" r="1.4"/></g><g fill="#efa67a" opacity="0.5"><circle cx="808.6" cy="179.6" r="0.7"/><circle cx="847.5" cy="176.2" r="0.8"/><circle cx="879" cy="173.6" r="1.5"/></g><g fill="#efa67a" opacity="0.75"><circle cx="881.4" cy="185.2" r="1.5"/><circle cx="836.1" cy="178.6" r="1.4"/><circle cx="827.8" cy="184.5" r="0.7"/><circle cx="875.6" cy="176.3" r="1.5"/><circle cx="811.4" cy="170.4" r="1.4"/><circle cx="870.1" cy="186.3" r="1.4"/><circle cx="820.8" cy="181" r="1.2"/><circle cx="840.5" cy="180.8" r="1.6"/><circle cx="806.4" cy="175.4" r="1"/><circle cx="868.8" cy="176.1" r="0.6"/><circle cx="817.7" cy="181.3" r="0.8"/><circle cx="839.9" cy="177.8" r="1.2"/><circle cx="893.4" cy="176.8" r="0.7"/></g><g fill="#efa67a" opacity="1"><circle cx="891.8" cy="179" r="1.5"/><circle cx="821.4" cy="177" r="0.8"/><circle cx="898.4" cy="180.3" r="1.2"/><circle cx="861.2" cy="183" r="1.5"/><circle cx="899.4" cy="179.3" r="1.5"/><circle cx="822.4" cy="178.2" r="0.6"/></g></g></g><path d="M785.2,172.5C789.4,172.2 800.2,170.6 810.2,170.4C820.2,170.2 833.6,170.6 845.3,171.1C857,171.6 870.2,172.5 880.5,173.3C890.8,174.1 901,175.5 906.8,176C912.5,176.5 913.6,176.4 915,176.5" fill="none" stroke="#fdf3e4" stroke-width="1.6" stroke-dasharray="3 1.2" opacity=".95"/><path d="M785.2,172.5C787,170.2 791.9,162.4 796.1,158.4C800.3,154.4 804.9,151.5 810.2,148.7C815.5,145.9 821.9,143.4 827.7,141.7C833.6,139.9 839.4,138.9 845.3,138.2C851.2,137.5 857,137.2 862.9,137.3C868.8,137.5 874.6,137.9 880.5,139.1C886.4,140.3 892.1,142 898,144.3C903.9,146.6 910.6,149.9 915.6,153.1C920.6,156.3 924.7,160.2 927.9,163.7C931.1,167.2 933.7,171.9 935,174.2C936.3,176.5 935.7,177.1 935.8,177.7C934.5,178.3 932.7,179.7 927.9,181.2C923.1,182.7 914.7,185.1 906.8,186.5C898.9,187.9 889.3,189.1 880.5,189.5C871.7,189.9 862.9,189.8 854.1,189.2C845.3,188.5 835.6,187.1 827.7,185.6C819.8,184.1 812.5,182 806.6,180.4C800.8,178.8 796.2,177.3 792.6,176C789,174.7 786.4,173.1 785.2,172.5Z" fill="none" stroke="#b59a8c" stroke-width=".8"/><path d="M273.5,397.2C274.8,395.2 278.3,389.1 281.4,385.5C284.5,381.9 288.2,378.2 292.3,375.3C296.4,372.4 301.4,369.7 306,367.8C310.6,365.9 315.1,364.6 319.7,363.7C324.3,362.8 328.8,362.6 333.4,362.6C337.9,362.6 342.4,363.1 347,363.7C351.6,364.3 356.1,365 360.7,366.4C365.3,367.8 370.3,369.6 374.4,371.9C378.5,374.2 382.3,377.1 385.3,380C388.3,382.9 390.6,386.4 392.2,389.6C393.8,392.8 394.4,397.6 394.9,399.2C393.5,400.6 390.1,404.7 386.7,407.4C383.3,410.1 378.7,413.3 374.4,415.6C370.1,417.9 365.7,419.9 360.7,421.1C355.7,422.4 350,422.9 344.3,423.1C338.6,423.3 332.4,423.3 326.5,422.5C320.6,421.7 314.1,420.1 308.8,418.4C303.6,416.7 299.3,414.5 295,412.2C290.7,409.9 286.4,407.2 282.8,404.7C279.2,402.2 275.1,398.4 273.5,397.2Z" fill="url(#s2side)"/><g clip-path="url(#s2)"><path d="M330.6,406L353.9,405.4L377,403L374.4,415.6L360.7,421.1L344.3,423.1L331,422.6Z" fill="#f9deb0" stroke="#f5d3a0" stroke-width="0.8" filter="url(#rough)"/><g clip-path="url(#ts2)"><g fill="#fef6e4" opacity="0.5"><circle cx="341.8" cy="422.5" r="0.8"/></g><g fill="#fef6e4" opacity="0.75"><circle cx="370" cy="407.3" r="0.9"/><circle cx="347.1" cy="421.1" r="1.1"/><circle cx="346.8" cy="418" r="1"/><circle cx="337.9" cy="416.4" r="0.8"/></g><g fill="#fef6e4" opacity="1"><circle cx="363.5" cy="410.3" r="0.9"/><circle cx="342.4" cy="408.5" r="1.5"/><circle cx="357.6" cy="405" r="1.2"/><circle cx="364.7" cy="418" r="1"/></g><g fill="#fdf1d8" opacity="0.5"><circle cx="357.4" cy="408.1" r="0.8"/><circle cx="367.9" cy="409.2" r="1.3"/><circle cx="367.5" cy="404.9" r="1.4"/></g><g fill="#fdf1d8" opacity="0.75"><circle cx="340.6" cy="414.6" r="1.1"/><circle cx="361.8" cy="418.1" r="1.4"/><circle cx="348.3" cy="414.4" r="1.3"/><circle cx="343.1" cy="409.5" r="1.3"/><circle cx="364.9" cy="411.6" r="1.3"/><circle cx="355.1" cy="418.1" r="0.8"/><circle cx="354.8" cy="419.9" r="1"/><circle cx="345.4" cy="418.4" r="1.1"/><circle cx="349.4" cy="421.2" r="1.5"/><circle cx="369.4" cy="407.7" r="1.2"/><circle cx="342.1" cy="410.1" r="0.8"/><circle cx="341.4" cy="419.8" r="1.2"/><circle cx="355.8" cy="410.1" r="0.7"/></g><g fill="#fdf1d8" opacity="1"><circle cx="357.8" cy="418.4" r="0.7"/><circle cx="333.7" cy="408.6" r="1.2"/><circle cx="350.5" cy="413.9" r="0.8"/><circle cx="370.8" cy="416.9" r="0.7"/><circle cx="332.3" cy="406.8" r="1.3"/><circle cx="346.6" cy="420.7" r="1"/><circle cx="359.1" cy="418.5" r="0.8"/></g><g fill="#fbe9c8" opacity="0.5"><circle cx="349" cy="420.4" r="0.8"/></g><g fill="#fbe9c8" opacity="0.75"><circle cx="368.7" cy="411.5" r="0.9"/><circle cx="361.8" cy="408.8" r="0.6"/><circle cx="356.7" cy="410.8" r="1.4"/><circle cx="364.2" cy="406.9" r="1.4"/><circle cx="357.8" cy="410" r="1.4"/><circle cx="363.7" cy="414.9" r="0.7"/></g><g fill="#fbe9c8" opacity="1"><circle cx="370" cy="413.4" r="1.6"/></g><g fill="#fbe6c0" opacity="0.5"><circle cx="351.6" cy="411.3" r="1.3"/></g><g fill="#fbe6c0" opacity="0.75"><circle cx="358.2" cy="410.2" r="1.6"/><circle cx="341.3" cy="408.7" r="0.9"/><circle cx="358.2" cy="415.8" r="0.9"/><circle cx="355.1" cy="406.9" r="1.2"/><circle cx="344.6" cy="410.6" r="1.5"/><circle cx="334.6" cy="418.5" r="1.6"/><circle cx="367.5" cy="412" r="0.9"/><circle cx="338.2" cy="411.4" r="0.9"/><circle cx="341.5" cy="406.2" r="1.4"/><circle cx="360.5" cy="413.3" r="1.1"/><circle cx="359.3" cy="408.4" r="1.4"/></g><g fill="#fbe6c0" opacity="1"><circle cx="351.6" cy="405.9" r="1.5"/></g><g fill="#f8d9a6" opacity="0.5"><circle cx="363.4" cy="419.5" r="0.8"/><circle cx="348.8" cy="407.6" r="1.4"/></g><g fill="#f8d9a6" opacity="0.75"><circle cx="342.2" cy="406" r="0.8"/><circle cx="343.1" cy="405.9" r="0.7"/><circle cx="343.2" cy="409.5" r="0.9"/><circle cx="373.8" cy="412.6" r="1.2"/><circle cx="364.5" cy="417" r="1"/><circle cx="356.9" cy="413.2" r="1.1"/></g><g fill="#f8d9a6" opacity="1"><circle cx="359.1" cy="405.6" r="1.2"/><circle cx="360.9" cy="417.8" r="1.4"/><circle cx="355.9" cy="409" r="1.1"/><circle cx="352.9" cy="407.9" r="0.6"/><circle cx="358.5" cy="418.2" r="0.7"/></g><g fill="#f6d39c" opacity="0.5"><circle cx="371" cy="413.8" r="0.9"/></g><g fill="#f6d39c" opacity="0.75"><circle cx="356.8" cy="406.8" r="1.1"/></g><g fill="#f6d39c" opacity="1"><circle cx="357.3" cy="414.4" r="1.2"/><circle cx="332.1" cy="407.4" r="0.7"/><circle cx="339.2" cy="411.5" r="1.2"/><circle cx="346.9" cy="417.7" r="0.7"/><circle cx="375.3" cy="404" r="0.8"/><circle cx="358.2" cy="420.3" r="0.8"/></g><g fill="#f5c98a" opacity="0.5"><circle cx="365.4" cy="410.3" r="0.6"/><circle cx="367.5" cy="414.5" r="0.7"/></g><g fill="#f5c98a" opacity="0.75"><circle cx="362.7" cy="410.3" r="1.4"/><circle cx="335.8" cy="421.7" r="1.3"/><circle cx="354.2" cy="412.9" r="1.6"/></g><g fill="#f5c98a" opacity="1"><circle cx="345.6" cy="415.5" r="0.6"/><circle cx="345.6" cy="409.9" r="1.4"/><circle cx="340.8" cy="410.6" r="1.2"/><circle cx="347.9" cy="418.2" r="1.3"/><circle cx="350.2" cy="408.4" r="1.2"/></g><g fill="#f3bf80" opacity="0.5"><circle cx="345.4" cy="412.8" r="1.5"/><circle cx="362.1" cy="414.2" r="0.9"/></g><g fill="#f3bf80" opacity="0.75"><circle cx="370.3" cy="403.7" r="0.8"/><circle cx="372.5" cy="410.9" r="1"/><circle cx="365.9" cy="416" r="1.3"/><circle cx="347.2" cy="406.8" r="1.5"/><circle cx="369.6" cy="409.4" r="1.1"/></g><g fill="#f3bf80" opacity="1"><circle cx="375.4" cy="409.5" r="1.4"/><circle cx="342.2" cy="408.9" r="1"/><circle cx="349.1" cy="409.4" r="1.1"/><circle cx="356.5" cy="408.5" r="1.5"/><circle cx="371.6" cy="406.6" r="1.1"/><circle cx="373.6" cy="412.6" r="1.4"/></g><g fill="#efa67a" opacity="0.5"><circle cx="364.9" cy="413.7" r="0.9"/></g><g fill="#efa67a" opacity="0.75"><circle cx="338.3" cy="410" r="0.6"/><circle cx="336.6" cy="415.1" r="0.8"/><circle cx="342.4" cy="406.3" r="1.3"/><circle cx="331.9" cy="410.5" r="1"/><circle cx="343.9" cy="418.5" r="1.3"/><circle cx="339.7" cy="412.8" r="0.8"/><circle cx="349.2" cy="415.8" r="0.9"/><circle cx="366" cy="411.8" r="0.7"/><circle cx="362" cy="408.8" r="1.6"/></g><g fill="#efa67a" opacity="1"><circle cx="352.9" cy="409" r="0.8"/><circle cx="357.9" cy="407.9" r="0.8"/><circle cx="347.3" cy="419" r="1.2"/></g></g><path d="M291.7,409.5C292.7,409.6 295.9,409.2 297.8,410.2C299.7,411.2 301,414.2 303.3,415.6C305.6,417 308.8,418.1 311.5,418.6C314.2,419.1 317.4,419 319.7,418.4C322,417.8 323.6,415.5 325.2,415C326.8,414.5 328.4,414.6 329.3,415.6C330.2,416.6 330.3,419.6 330.6,421C330.9,422.4 330.9,423.5 331,424" fill="none" stroke="#b06b83" stroke-width="1.3"/></g><path d="M273.5,397.2C274.8,395.2 278.3,389.1 281.4,385.5C284.5,381.9 288.2,378.2 292.3,375.3C296.4,372.4 301.4,369.7 306,367.8C310.6,365.9 315.1,364.6 319.7,363.7C324.3,362.8 328.8,362.6 333.4,362.6C337.9,362.6 342.4,363.1 347,363.7C351.6,364.3 356.1,365 360.7,366.4C365.3,367.8 370.3,369.6 374.4,371.9C378.5,374.2 382.3,377.1 385.3,380C388.3,382.9 390.6,386.4 392.2,389.6C393.8,392.8 394.4,397.6 394.9,399.2C391.5,399.9 381.2,402.3 374.4,403.3C367.6,404.3 360.7,404.9 353.9,405.4C347.1,405.8 340.2,406 333.4,406C326.6,406 319.8,406 312.9,405.4C306,404.8 298.9,404 292.3,402.6C285.7,401.2 276.6,398.1 273.5,397.2Z" fill="url(#s2top)"/><g clip-path="url(#s2t)"><ellipse cx="372" cy="395" rx="16" ry="8" fill="#f8d6e0" opacity=".7" filter="url(#b3)"/><g filter="url(#b05)"><g fill="#fbe8c6" opacity="1"><circle cx="321.5" cy="376.3" r="2.6"/><circle cx="309.2" cy="373" r="1.9"/><circle cx="313.2" cy="374" r="2.3"/><circle cx="312" cy="382.8" r="2.4"/><circle cx="308.4" cy="382.3" r="1.7"/><circle cx="311.1" cy="381.5" r="1.8"/><circle cx="310.3" cy="381.6" r="2.8"/><circle cx="310.2" cy="376.3" r="2.5"/><circle cx="317.6" cy="373.4" r="2.9"/><circle cx="311.2" cy="379.9" r="2.1"/><circle cx="311.8" cy="377.9" r="2.3"/><circle cx="319.6" cy="376.8" r="2.9"/><circle cx="316.3" cy="377" r="2.8"/><circle cx="312.6" cy="382.9" r="2"/><circle cx="315.5" cy="378" r="2.8"/><circle cx="306" cy="380.2" r="2.8"/><circle cx="315.6" cy="373.7" r="2"/><circle cx="321" cy="381" r="2.4"/><circle cx="318.6" cy="380" r="2.3"/><circle cx="317.7" cy="376.6" r="2.2"/><circle cx="305.4" cy="380.1" r="2.7"/><circle cx="309" cy="378.1" r="2.1"/></g><g fill="#fae3ba" opacity="1"><circle cx="312.8" cy="375.3" r="3.1"/><circle cx="324.6" cy="378.4" r="1.8"/><circle cx="309.9" cy="380.1" r="2.2"/><circle cx="320.5" cy="380.3" r="2.2"/><circle cx="317.3" cy="374.2" r="1.7"/><circle cx="322.1" cy="377" r="2.8"/><circle cx="317" cy="381.3" r="2.8"/><circle cx="310.9" cy="376.7" r="2.7"/><circle cx="305.5" cy="379.6" r="1.9"/><circle cx="316.1" cy="377.8" r="1.7"/></g><g fill="#f9deb0" opacity="1"><circle cx="317.3" cy="377.7" r="2.7"/><circle cx="320.6" cy="378.2" r="2.7"/><circle cx="313.4" cy="380.2" r="1.8"/><circle cx="305.9" cy="375" r="1.9"/><circle cx="305.6" cy="376.5" r="3"/><circle cx="311.7" cy="377.1" r="1.8"/><circle cx="309.5" cy="372.6" r="2.8"/><circle cx="313.8" cy="374" r="2.2"/><circle cx="313.1" cy="377.3" r="1.9"/><circle cx="318.7" cy="374.8" r="1.9"/><circle cx="307.4" cy="381.7" r="3"/><circle cx="304.4" cy="375.1" r="1.9"/></g><g fill="#f8d9a6" opacity="1"><circle cx="314.8" cy="375.4" r="2.9"/><circle cx="314.3" cy="376.8" r="2.8"/><circle cx="314.6" cy="383.3" r="2.2"/><circle cx="314.2" cy="378.8" r="2.5"/><circle cx="319" cy="374.9" r="1.9"/><circle cx="314.8" cy="376.5" r="2.8"/><circle cx="307.2" cy="376.6" r="2"/><circle cx="313.2" cy="382.5" r="2.7"/><circle cx="323.2" cy="374.5" r="2.5"/><circle cx="314.5" cy="375" r="1.9"/><circle cx="317.6" cy="381.1" r="2.8"/><circle cx="320.9" cy="381.8" r="3.1"/><circle cx="306.6" cy="380.3" r="2.4"/><circle cx="323.2" cy="377.8" r="2.6"/><circle cx="308.5" cy="379.5" r="2.6"/><circle cx="318.2" cy="380.3" r="2.9"/><circle cx="317.2" cy="372.5" r="2.8"/><circle cx="305.7" cy="375.7" r="2.5"/></g></g><g fill="#fef6e4" opacity="1"><circle cx="310.2" cy="375.4" r="0.9"/></g><g fill="#fdf1d8" opacity="0.75"><circle cx="317.8" cy="380.6" r="0.7"/><circle cx="306.4" cy="376.6" r="0.8"/><circle cx="315.8" cy="375.4" r="0.9"/><circle cx="320.1" cy="381.8" r="0.7"/></g><g fill="#fdf1d8" opacity="1"><circle cx="313.5" cy="377.5" r="1.1"/></g><g fill="#fbe9c8" opacity="0.75"><circle cx="309.1" cy="378.2" r="1.2"/></g><g fill="#fbe9c8" opacity="1"><circle cx="315" cy="376.3" r="1"/></g><g fill="#fbe6c0" opacity="0.75"><circle cx="311" cy="374" r="1.4"/><circle cx="318.1" cy="379.2" r="0.6"/></g><g fill="#f8d9a6" opacity="0.5"><circle cx="310.3" cy="381.6" r="1.1"/></g><g fill="#f8d9a6" opacity="0.75"><circle cx="315.4" cy="375.9" r="1.3"/><circle cx="319" cy="381.4" r="0.9"/></g><g fill="#f6d39c" opacity="0.5"><circle cx="322.7" cy="376.4" r="0.7"/><circle cx="306.6" cy="377" r="1.1"/></g><g fill="#f6d39c" opacity="0.75"><circle cx="311.3" cy="378.7" r="0.9"/><circle cx="314.1" cy="383.3" r="0.7"/></g><g fill="#f5c98a" opacity="0.75"><circle cx="315.7" cy="373.7" r="1.1"/><circle cx="318.9" cy="375.7" r="0.9"/></g><g fill="#f3bf80" opacity="0.75"><circle cx="314.2" cy="376.3" r="1.2"/><circle cx="320.5" cy="381.8" r="1.3"/><circle cx="321.5" cy="381.2" r="1"/><circle cx="321.4" cy="379.4" r="1.3"/></g><g fill="#f3bf80" opacity="1"><circle cx="324.3" cy="378.3" r="1.2"/></g><g fill="#efa67a" opacity="0.5"><circle cx="310" cy="377.5" r="1.1"/></g><g fill="#efa67a" opacity="0.75"><circle cx="315.1" cy="373.4" r="0.9"/></g><g fill="#efa67a" opacity="1"><circle cx="309.3" cy="380.5" r="0.9"/></g><g filter="url(#b05)"><g fill="#fbe8c6" opacity="1"><circle cx="365.5" cy="376.9" r="2.1"/><circle cx="357.7" cy="375.3" r="2.5"/><circle cx="363.1" cy="377.4" r="1.7"/><circle cx="362.7" cy="376.6" r="2.8"/><circle cx="361.5" cy="382.2" r="2"/><circle cx="369.9" cy="381.3" r="2.8"/><circle cx="353.9" cy="383.6" r="2"/><circle cx="365.9" cy="378.9" r="2.5"/><circle cx="354.1" cy="381.7" r="2.5"/><circle cx="357.9" cy="379.1" r="2.2"/><circle cx="355.7" cy="381.9" r="2.7"/><circle cx="364.5" cy="378.4" r="2.2"/><circle cx="366" cy="376.8" r="2.3"/></g><g fill="#fae3ba" opacity="1"><circle cx="364.9" cy="386.5" r="2.6"/><circle cx="356.9" cy="384.9" r="3"/><circle cx="358.3" cy="384.2" r="2.9"/><circle cx="362.1" cy="377.4" r="1.7"/><circle cx="358.4" cy="385.1" r="2.4"/><circle cx="359.6" cy="375" r="2"/><circle cx="353.9" cy="383.8" r="2.5"/><circle cx="358.6" cy="384.1" r="3"/><circle cx="357.6" cy="380.3" r="2.3"/><circle cx="359" cy="386.2" r="2.9"/><circle cx="361.3" cy="378.8" r="1.7"/><circle cx="357.4" cy="375.5" r="2.9"/></g><g fill="#f9deb0" opacity="1"><circle cx="362.8" cy="378.2" r="2.5"/><circle cx="355.4" cy="384.7" r="2.9"/><circle cx="356.1" cy="377.6" r="2"/><circle cx="369.7" cy="380.1" r="1.7"/><circle cx="358.4" cy="386" r="2.8"/><circle cx="361.2" cy="376.5" r="2"/><circle cx="365.2" cy="380.9" r="2.1"/><circle cx="356.4" cy="381.3" r="2.7"/><circle cx="364.2" cy="387.1" r="2.9"/><circle cx="354" cy="381.3" r="2.5"/><circle cx="361.6" cy="383.2" r="2.6"/><circle cx="354.6" cy="378.4" r="2.2"/><circle cx="358.8" cy="377.1" r="1.9"/><circle cx="358.7" cy="377.8" r="3"/><circle cx="357.5" cy="385.6" r="3.1"/><circle cx="354.5" cy="377.2" r="2.8"/><circle cx="365.2" cy="380.3" r="3.1"/><circle cx="360.7" cy="384.2" r="2"/><circle cx="354" cy="377.7" r="2"/><circle cx="367.4" cy="384.3" r="2.5"/></g><g fill="#f8d9a6" opacity="1"><circle cx="367.2" cy="386.1" r="3.1"/><circle cx="355.1" cy="384.5" r="2.1"/><circle cx="355.7" cy="381.4" r="2.7"/><circle cx="357.9" cy="384.2" r="1.9"/><circle cx="364.4" cy="382.6" r="2.3"/><circle cx="366.1" cy="379.7" r="2.1"/><circle cx="357.6" cy="376.3" r="2.1"/><circle cx="362.1" cy="377.4" r="2"/><circle cx="365" cy="381.6" r="2.1"/><circle cx="362.1" cy="384.7" r="2.1"/><circle cx="358.6" cy="378.2" r="1.9"/><circle cx="361" cy="374.9" r="2"/><circle cx="369.1" cy="383.7" r="2"/><circle cx="358.1" cy="386.4" r="1.8"/><circle cx="369.5" cy="382.1" r="2.8"/></g></g><g fill="#fdf1d8" opacity="0.75"><circle cx="364.8" cy="385.5" r="0.6"/><circle cx="359.2" cy="377.6" r="1.1"/><circle cx="358.7" cy="378.2" r="1.1"/><circle cx="364.3" cy="379.3" r="0.8"/></g><g fill="#fdf1d8" opacity="1"><circle cx="357.9" cy="381.7" r="0.9"/></g><g fill="#fbe9c8" opacity="0.5"><circle cx="359.3" cy="385.5" r="1"/></g><g fill="#fbe9c8" opacity="0.75"><circle cx="361.6" cy="380.4" r="1"/><circle cx="360.5" cy="383.6" r="0.6"/><circle cx="357.7" cy="385.6" r="0.6"/></g><g fill="#fbe9c8" opacity="1"><circle cx="359" cy="380.4" r="0.8"/></g><g fill="#fbe6c0" opacity="0.5"><circle cx="364.9" cy="380.8" r="0.6"/><circle cx="359.2" cy="380.1" r="1"/></g><g fill="#fbe6c0" opacity="0.75"><circle cx="366.8" cy="378.8" r="0.9"/><circle cx="361.8" cy="379.6" r="1.3"/></g><g fill="#fbe6c0" opacity="1"><circle cx="363" cy="378.5" r="1.2"/></g><g fill="#f8d9a6" opacity="0.5"><circle cx="356.3" cy="378.8" r="0.9"/></g><g fill="#f8d9a6" opacity="1"><circle cx="359.7" cy="377.8" r="1.1"/></g><g fill="#f6d39c" opacity="0.5"><circle cx="358.6" cy="385.8" r="1.1"/></g><g fill="#f6d39c" opacity="0.75"><circle cx="358.8" cy="378.5" r="0.7"/><circle cx="361.8" cy="376.6" r="1"/></g><g fill="#f5c98a" opacity="0.75"><circle cx="356.3" cy="375.8" r="0.8"/></g><g fill="#f5c98a" opacity="1"><circle cx="366.3" cy="385.9" r="1"/><circle cx="370.5" cy="383.1" r="1.3"/></g><g fill="#f3bf80" opacity="0.5"><circle cx="363.8" cy="379.9" r="1"/></g><g fill="#f3bf80" opacity="0.75"><circle cx="355.7" cy="374.8" r="1.2"/><circle cx="368.9" cy="384.2" r="1"/></g><g fill="#efa67a" opacity="0.5"><circle cx="364.6" cy="376.2" r="1.4"/></g><g filter="url(#b05)"><g fill="#fbe8c6" opacity="1"><circle cx="306.1" cy="403.5" r="2.7"/><circle cx="300.5" cy="394.1" r="2.7"/><circle cx="301.9" cy="394.9" r="2.6"/><circle cx="308.2" cy="402.5" r="2.2"/><circle cx="296.8" cy="402.8" r="1.9"/><circle cx="305.9" cy="391.7" r="2.7"/><circle cx="306" cy="398.8" r="2.9"/><circle cx="303.9" cy="404.4" r="2.2"/><circle cx="308.4" cy="396.1" r="2.3"/><circle cx="308.2" cy="392.4" r="3"/><circle cx="312.6" cy="405.2" r="1.8"/><circle cx="308" cy="399" r="3"/><circle cx="304.2" cy="393.1" r="2.4"/><circle cx="294.5" cy="395.7" r="1.8"/><circle cx="312" cy="402" r="2.1"/><circle cx="314.2" cy="402.1" r="2.9"/><circle cx="300.4" cy="403.8" r="2.9"/><circle cx="293.9" cy="403.2" r="2.5"/><circle cx="311.7" cy="400.5" r="3.1"/><circle cx="300.9" cy="402.4" r="2.5"/><circle cx="313.8" cy="396.1" r="2.6"/><circle cx="305.3" cy="399.2" r="1.8"/><circle cx="298.8" cy="391.1" r="2.6"/><circle cx="308.9" cy="395.6" r="2.4"/><circle cx="303.2" cy="391.5" r="1.8"/><circle cx="309.4" cy="396.5" r="2.8"/><circle cx="297.3" cy="403.6" r="2.9"/><circle cx="289.1" cy="398" r="2.7"/><circle cx="296.2" cy="395.5" r="2"/><circle cx="306.1" cy="391.4" r="2.4"/><circle cx="308.6" cy="399.9" r="3"/><circle cx="297.1" cy="402" r="3"/><circle cx="304.6" cy="404" r="2.3"/></g><g fill="#fae3ba" opacity="1"><circle cx="311.5" cy="403.2" r="3"/><circle cx="302.7" cy="400.3" r="2.6"/><circle cx="307.7" cy="393.1" r="2.1"/><circle cx="291.6" cy="396" r="2.5"/><circle cx="312.7" cy="398.3" r="2.3"/><circle cx="307.4" cy="398.3" r="2.2"/><circle cx="292" cy="394.8" r="2.7"/><circle cx="301.3" cy="397.6" r="2.2"/><circle cx="311.1" cy="397.5" r="2"/><circle cx="305.9" cy="396.7" r="2.4"/><circle cx="306.5" cy="402.1" r="1.7"/><circle cx="298.9" cy="400.2" r="2.4"/><circle cx="306.2" cy="392.8" r="2.3"/><circle cx="310.5" cy="403.9" r="2.5"/><circle cx="309.5" cy="393.4" r="1.9"/><circle cx="312.9" cy="403.7" r="2.8"/><circle cx="304.1" cy="400.4" r="2"/><circle cx="300.1" cy="401.9" r="2.1"/><circle cx="309.5" cy="399" r="3.1"/><circle cx="300.9" cy="391.7" r="2.1"/><circle cx="297.8" cy="399.3" r="2.2"/><circle cx="307.2" cy="398.4" r="2.4"/><circle cx="303.6" cy="394.5" r="2"/><circle cx="298" cy="402" r="3"/><circle cx="305.2" cy="395" r="2"/><circle cx="301.5" cy="402.5" r="2.4"/><circle cx="291.8" cy="392.2" r="2"/><circle cx="301.4" cy="394.6" r="3"/><circle cx="293.3" cy="401.7" r="2.9"/></g><g fill="#f9deb0" opacity="1"><circle cx="297.2" cy="394.8" r="2.1"/><circle cx="288.9" cy="396" r="2.6"/><circle cx="297.4" cy="397.7" r="2.4"/><circle cx="293.3" cy="403.7" r="2.6"/><circle cx="307.6" cy="391.8" r="2.3"/><circle cx="305.7" cy="402" r="2.8"/><circle cx="301.6" cy="403.7" r="2.7"/><circle cx="304" cy="395.5" r="2.8"/><circle cx="307.9" cy="394.1" r="1.9"/><circle cx="314.2" cy="398.8" r="2.4"/><circle cx="299" cy="403.4" r="2.6"/><circle cx="302.4" cy="402.3" r="3"/><circle cx="308.1" cy="391.3" r="2.8"/><circle cx="307.5" cy="404.1" r="2.6"/><circle cx="302.2" cy="396.4" r="2.7"/><circle cx="309.2" cy="403.7" r="1.7"/><circle cx="299.9" cy="401.8" r="2.9"/><circle cx="297" cy="392.4" r="2.7"/><circle cx="309.4" cy="393.8" r="2.2"/><circle cx="307.2" cy="403.2" r="2.6"/><circle cx="302.7" cy="390.4" r="2.7"/><circle cx="295.4" cy="397.7" r="2.3"/><circle cx="302.3" cy="393.7" r="2"/></g><g fill="#f8d9a6" opacity="1"><circle cx="309.3" cy="390.7" r="1.8"/><circle cx="303.4" cy="395.6" r="3.1"/><circle cx="298" cy="400" r="1.7"/><circle cx="294.9" cy="399.9" r="2.9"/><circle cx="305.1" cy="393.8" r="2.2"/><circle cx="312.1" cy="404" r="2.1"/><circle cx="305.1" cy="392" r="2.4"/><circle cx="298.4" cy="399.1" r="2.2"/><circle cx="296.8" cy="391.6" r="2.5"/><circle cx="293.9" cy="404" r="2"/><circle cx="310.2" cy="392.2" r="2.7"/><circle cx="297.7" cy="397.5" r="2.2"/><circle cx="302.1" cy="396.2" r="2.8"/><circle cx="292.5" cy="398.3" r="2.7"/><circle cx="307.5" cy="402.4" r="2.2"/><circle cx="301.1" cy="390.9" r="3"/><circle cx="302.3" cy="390" r="2.5"/><circle cx="301.6" cy="398.9" r="2.6"/><circle cx="314.1" cy="396.6" r="2.3"/><circle cx="312.1" cy="401.1" r="2.3"/><circle cx="308.7" cy="402.6" r="3"/><circle cx="311" cy="400.4" r="2.2"/></g></g><g fill="#fef6e4" opacity="0.5"><circle cx="295" cy="394.8" r="0.8"/></g><g fill="#fef6e4" opacity="1"><circle cx="296.5" cy="390.9" r="1.3"/></g><g fill="#fdf1d8" opacity="0.5"><circle cx="303.7" cy="398.2" r="1.4"/><circle cx="303.3" cy="403.4" r="1.3"/></g><g fill="#fdf1d8" opacity="0.75"><circle cx="294.8" cy="401.1" r="0.6"/><circle cx="313.6" cy="399.7" r="1.3"/><circle cx="291.2" cy="401" r="1.2"/><circle cx="297.7" cy="400" r="0.9"/><circle cx="292.4" cy="395.2" r="0.7"/></g><g fill="#fdf1d8" opacity="1"><circle cx="311.2" cy="396.7" r="1.1"/><circle cx="293.9" cy="402.2" r="1.2"/></g><g fill="#fbe9c8" opacity="0.75"><circle cx="307" cy="392.1" r="1.3"/><circle cx="297.5" cy="400.6" r="1.3"/><circle cx="300.4" cy="390.8" r="0.8"/></g><g fill="#fbe9c8" opacity="1"><circle cx="313.5" cy="396.6" r="0.8"/><circle cx="291.1" cy="393.4" r="0.6"/><circle cx="308.8" cy="391.1" r="0.8"/><circle cx="313.6" cy="397.9" r="1.1"/></g><g fill="#fbe6c0" opacity="0.75"><circle cx="297.9" cy="391.4" r="1.2"/><circle cx="300.1" cy="396" r="0.6"/><circle cx="310.3" cy="404.5" r="1.3"/></g><g fill="#fbe6c0" opacity="1"><circle cx="307.1" cy="392.7" r="1"/><circle cx="313.4" cy="403.2" r="1"/><circle cx="292.6" cy="395.6" r="1"/></g><g fill="#f8d9a6" opacity="0.75"><circle cx="305.1" cy="401" r="1.1"/><circle cx="311.1" cy="401.4" r="1.3"/></g><g fill="#f8d9a6" opacity="1"><circle cx="308.3" cy="390" r="0.8"/></g><g fill="#f6d39c" opacity="0.5"><circle cx="297.3" cy="395.9" r="1"/><circle cx="306" cy="405.2" r="1.1"/></g><g fill="#f6d39c" opacity="0.75"><circle cx="303.7" cy="392.8" r="1.2"/><circle cx="298.9" cy="391.9" r="0.8"/><circle cx="306.1" cy="391.6" r="1"/></g><g fill="#f5c98a" opacity="0.5"><circle cx="311.5" cy="392.8" r="1"/><circle cx="299" cy="392.8" r="0.9"/></g><g fill="#f5c98a" opacity="0.75"><circle cx="293.3" cy="396.6" r="0.9"/><circle cx="305.4" cy="400.3" r="0.8"/><circle cx="304.5" cy="399.7" r="1.1"/><circle cx="302.5" cy="391" r="1"/><circle cx="301.1" cy="394.2" r="1"/></g><g fill="#f5c98a" opacity="1"><circle cx="292.1" cy="397.6" r="1"/><circle cx="302.5" cy="401.7" r="1.1"/></g><g fill="#f3bf80" opacity="0.5"><circle cx="290.4" cy="394.9" r="0.9"/><circle cx="290.8" cy="396.2" r="0.9"/></g><g fill="#f3bf80" opacity="0.75"><circle cx="294.8" cy="397.8" r="0.6"/><circle cx="313.9" cy="403.2" r="1.4"/><circle cx="311.9" cy="403.4" r="0.9"/></g><g fill="#f3bf80" opacity="1"><circle cx="307.7" cy="400.2" r="0.9"/></g><g fill="#efa67a" opacity="0.75"><circle cx="308" cy="396.8" r="0.9"/><circle cx="303.4" cy="403" r="1"/><circle cx="311.7" cy="396.5" r="1.3"/><circle cx="299.3" cy="390.4" r="1.2"/></g><g filter="url(#b05)"><g fill="#fbe8c6" opacity="1"><circle cx="344.2" cy="396.1" r="1.8"/><circle cx="340.5" cy="401.7" r="3"/><circle cx="330.2" cy="396.1" r="2.2"/><circle cx="337" cy="394.7" r="2.6"/><circle cx="342.7" cy="389" r="1.8"/><circle cx="340.9" cy="396.5" r="2.8"/><circle cx="342.7" cy="394" r="2.6"/><circle cx="363.5" cy="402.9" r="2.4"/><circle cx="346" cy="396" r="2.1"/><circle cx="366.3" cy="403.2" r="2.3"/><circle cx="330.7" cy="402.2" r="2.4"/><circle cx="344.2" cy="397.6" r="1.7"/><circle cx="350.5" cy="396.8" r="2.8"/><circle cx="335.6" cy="406.7" r="2"/><circle cx="332.1" cy="405.7" r="2.6"/><circle cx="350" cy="405.7" r="2.8"/><circle cx="343" cy="406.1" r="3.1"/><circle cx="343.5" cy="396.8" r="2.2"/><circle cx="345.6" cy="399.5" r="1.7"/><circle cx="331.4" cy="396.4" r="3.1"/><circle cx="346.5" cy="393.9" r="1.7"/><circle cx="351.9" cy="397.5" r="2.8"/><circle cx="347" cy="398.9" r="3"/><circle cx="364.7" cy="403.5" r="1.9"/><circle cx="350.2" cy="391.9" r="2.8"/><circle cx="360.5" cy="399.2" r="2.2"/><circle cx="331.1" cy="397.2" r="2.2"/><circle cx="330.3" cy="391.7" r="1.7"/><circle cx="358.9" cy="401.7" r="1.9"/><circle cx="340.6" cy="404.6" r="3"/><circle cx="336.1" cy="389.4" r="2.1"/><circle cx="335.3" cy="400.4" r="2.5"/><circle cx="359.3" cy="396.7" r="2.9"/><circle cx="341.1" cy="394.4" r="2.6"/><circle cx="337.6" cy="403.8" r="2.6"/><circle cx="335.3" cy="398.3" r="2.5"/><circle cx="338.4" cy="388.7" r="2.6"/><circle cx="359.3" cy="395.6" r="2.5"/><circle cx="330.8" cy="398.4" r="2"/><circle cx="343.3" cy="389.5" r="2.9"/><circle cx="351.2" cy="400.2" r="1.9"/><circle cx="336.1" cy="394.5" r="2.3"/><circle cx="345.9" cy="398.2" r="2.7"/><circle cx="336.1" cy="390.8" r="3"/><circle cx="350.6" cy="398.8" r="2.4"/><circle cx="347.3" cy="397.8" r="3.1"/><circle cx="343.5" cy="394.9" r="2.3"/><circle cx="351.7" cy="391.3" r="2.5"/><circle cx="355.1" cy="393.4" r="1.9"/><circle cx="350.3" cy="390.5" r="2.9"/><circle cx="343.4" cy="396" r="2.5"/><circle cx="336.3" cy="406.1" r="2.9"/><circle cx="331.8" cy="404" r="2.4"/><circle cx="355.7" cy="400.4" r="2.7"/><circle cx="365.4" cy="398.5" r="3"/></g><g fill="#fae3ba" opacity="1"><circle cx="360.7" cy="400.2" r="1.8"/><circle cx="332.6" cy="403.8" r="2.3"/><circle cx="330.6" cy="401.1" r="2.3"/><circle cx="338.7" cy="404.5" r="2.6"/><circle cx="328.5" cy="394.8" r="3"/><circle cx="343.9" cy="404.5" r="2.8"/><circle cx="366.3" cy="401.5" r="1.7"/><circle cx="363.1" cy="397.2" r="2.2"/><circle cx="340.7" cy="402.1" r="2.1"/><circle cx="360.5" cy="405.3" r="2.5"/><circle cx="337.5" cy="391.4" r="1.7"/><circle cx="341.8" cy="389.2" r="2.4"/><circle cx="344.2" cy="392.4" r="2.3"/><circle cx="332.1" cy="398.8" r="3.1"/><circle cx="342.4" cy="405" r="2.4"/><circle cx="341.3" cy="402.2" r="2.9"/><circle cx="348.9" cy="397.1" r="2.9"/><circle cx="346.9" cy="395.5" r="2.9"/><circle cx="344.8" cy="393.4" r="2.8"/><circle cx="343.4" cy="397.1" r="1.9"/><circle cx="328.5" cy="401.7" r="3.1"/><circle cx="336.7" cy="401.6" r="2.1"/><circle cx="337.1" cy="396.2" r="3.1"/><circle cx="353.4" cy="403.2" r="2.3"/><circle cx="345.1" cy="396.2" r="2.9"/><circle cx="338.4" cy="398.6" r="2.6"/><circle cx="336.8" cy="396.4" r="2"/><circle cx="335" cy="398.5" r="2"/><circle cx="345.8" cy="394.6" r="2.2"/><circle cx="364.4" cy="402.2" r="2.6"/><circle cx="362.1" cy="397.1" r="3"/><circle cx="334.9" cy="392.3" r="2.9"/><circle cx="346.3" cy="395.6" r="2.3"/><circle cx="338.6" cy="397.2" r="3.1"/><circle cx="338.2" cy="402.3" r="2.1"/><circle cx="332.4" cy="392.9" r="2"/><circle cx="342.7" cy="395.4" r="2.7"/></g><g fill="#f9deb0" opacity="1"><circle cx="353.9" cy="404.3" r="2.8"/><circle cx="361.7" cy="400.5" r="2.7"/><circle cx="339.8" cy="403.8" r="2.8"/><circle cx="358.1" cy="403.3" r="2.1"/><circle cx="360.4" cy="398.3" r="3.1"/><circle cx="346.4" cy="404.5" r="2.3"/><circle cx="336.4" cy="405.5" r="1.7"/><circle cx="353.8" cy="395.6" r="2.8"/><circle cx="353.9" cy="391.9" r="2.5"/><circle cx="334.3" cy="390.3" r="2.2"/><circle cx="346.2" cy="397.4" r="2"/><circle cx="350" cy="398.1" r="2.9"/><circle cx="332.9" cy="398.9" r="3"/><circle cx="342.4" cy="398.7" r="2.6"/><circle cx="338.9" cy="405" r="1.8"/><circle cx="353.6" cy="399.7" r="3"/><circle cx="358" cy="401" r="3"/><circle cx="354.2" cy="398.9" r="2.7"/><circle cx="339.7" cy="397" r="2.8"/><circle cx="328.1" cy="398.5" r="2.6"/><circle cx="346.5" cy="406.1" r="2.6"/><circle cx="348.9" cy="403.4" r="2.9"/><circle cx="334" cy="398.4" r="1.8"/><circle cx="342.6" cy="397.3" r="2.1"/><circle cx="343.6" cy="389" r="2.5"/><circle cx="338.1" cy="394.5" r="1.9"/><circle cx="341.7" cy="389.1" r="3"/><circle cx="343.3" cy="395.5" r="1.7"/><circle cx="346" cy="398.2" r="2.8"/><circle cx="332.6" cy="396" r="2"/><circle cx="336.1" cy="398.7" r="2.7"/><circle cx="340.7" cy="394.8" r="2.9"/><circle cx="334.8" cy="406.9" r="2.2"/><circle cx="347.6" cy="405.6" r="2.2"/><circle cx="343.8" cy="397.8" r="2.7"/><circle cx="340.7" cy="403.5" r="2.5"/><circle cx="330.5" cy="401" r="3.1"/><circle cx="330.2" cy="403.6" r="2.3"/><circle cx="342.9" cy="405.2" r="2.9"/><circle cx="332.4" cy="405.3" r="2"/><circle cx="344.4" cy="393.8" r="2.2"/><circle cx="343.5" cy="391.5" r="2.7"/></g><g fill="#f8d9a6" opacity="1"><circle cx="349.1" cy="390.2" r="2.7"/><circle cx="353.8" cy="401.6" r="2.8"/><circle cx="346.2" cy="397.6" r="3"/><circle cx="347.3" cy="396.1" r="2.9"/><circle cx="328.5" cy="395.9" r="1.9"/><circle cx="334.4" cy="405" r="3"/><circle cx="344.2" cy="393.8" r="1.8"/><circle cx="348.6" cy="400.6" r="1.9"/><circle cx="347.1" cy="402.5" r="2.4"/><circle cx="343.8" cy="389.1" r="2.4"/><circle cx="344.4" cy="396.5" r="2.8"/><circle cx="344" cy="394.7" r="1.8"/><circle cx="334.9" cy="399.3" r="1.7"/><circle cx="342.1" cy="402.1" r="1.8"/><circle cx="339.3" cy="391.9" r="1.7"/><circle cx="332.2" cy="401" r="3.1"/><circle cx="355.7" cy="405" r="2.6"/><circle cx="341.2" cy="391.6" r="2.2"/><circle cx="343" cy="398.5" r="2.5"/><circle cx="333.7" cy="389.6" r="2.7"/><circle cx="352" cy="396.2" r="3.1"/><circle cx="334.7" cy="393.3" r="2.8"/><circle cx="358.5" cy="402.3" r="2.8"/><circle cx="347.2" cy="393.1" r="1.7"/><circle cx="365.9" cy="399.1" r="2.4"/><circle cx="360.8" cy="400" r="2.3"/><circle cx="336.3" cy="397.6" r="2"/><circle cx="351.2" cy="403.5" r="2.8"/><circle cx="368.6" cy="404.3" r="3.1"/><circle cx="348.7" cy="397.9" r="2.4"/><circle cx="356.2" cy="403" r="2.2"/><circle cx="352.2" cy="391.7" r="2.8"/><circle cx="357.2" cy="403.3" r="3.1"/><circle cx="329.3" cy="396.5" r="2.1"/><circle cx="352.3" cy="402" r="2.4"/><circle cx="347.5" cy="392.4" r="2.9"/><circle cx="338.2" cy="398.7" r="1.9"/><circle cx="340.5" cy="400.1" r="3.1"/><circle cx="344" cy="397.3" r="2.6"/><circle cx="344.4" cy="392.4" r="1.8"/><circle cx="335.9" cy="390.8" r="1.8"/><circle cx="352.3" cy="405.7" r="2.4"/><circle cx="335.9" cy="401.7" r="2"/><circle cx="332.8" cy="391.4" r="2.8"/><circle cx="365.2" cy="399.1" r="2.6"/><circle cx="359.7" cy="396.2" r="1.8"/><circle cx="332.1" cy="396.8" r="2.9"/><circle cx="338.5" cy="406.3" r="2.1"/><circle cx="348.5" cy="391.3" r="2.8"/><circle cx="335" cy="388.5" r="2.3"/><circle cx="361.8" cy="397.4" r="2.7"/></g></g><g fill="#fef6e4" opacity="0.75"><circle cx="337" cy="394" r="0.7"/><circle cx="340.1" cy="393.5" r="1.1"/><circle cx="343.9" cy="400.5" r="0.6"/><circle cx="358.3" cy="399.5" r="0.9"/></g><g fill="#fdf1d8" opacity="0.5"><circle cx="363" cy="396.7" r="0.9"/></g><g fill="#fdf1d8" opacity="0.75"><circle cx="341" cy="398.9" r="0.7"/><circle cx="345" cy="391.6" r="1"/><circle cx="354.8" cy="395.8" r="0.7"/><circle cx="336.7" cy="399" r="0.8"/><circle cx="356.3" cy="397.9" r="1.4"/><circle cx="332.1" cy="401.2" r="0.9"/><circle cx="328.1" cy="396.3" r="1.2"/><circle cx="351.5" cy="401.7" r="1.3"/><circle cx="354.3" cy="398.5" r="0.8"/><circle cx="354.5" cy="394.6" r="0.6"/><circle cx="330.2" cy="399.2" r="0.8"/><circle cx="362" cy="398.6" r="1.2"/></g><g fill="#fdf1d8" opacity="1"><circle cx="365.9" cy="403.6" r="1.4"/><circle cx="345.3" cy="395.5" r="1.1"/><circle cx="348" cy="401.7" r="1.3"/><circle cx="347.4" cy="395.2" r="1.3"/><circle cx="359.7" cy="399.8" r="0.8"/></g><g fill="#fbe9c8" opacity="0.5"><circle cx="347.3" cy="404.3" r="0.7"/><circle cx="333.5" cy="389.6" r="1.4"/></g><g fill="#fbe6c0" opacity="0.75"><circle cx="346.3" cy="398.6" r="0.9"/><circle cx="332.5" cy="397.8" r="0.8"/></g><g fill="#f8d9a6" opacity="0.5"><circle cx="339.7" cy="394.1" r="1.4"/><circle cx="336" cy="402.3" r="1"/></g><g fill="#f8d9a6" opacity="0.75"><circle cx="365.2" cy="401.6" r="1.1"/><circle cx="332.6" cy="401.6" r="1.2"/><circle cx="345.1" cy="404.4" r="1.2"/><circle cx="345.1" cy="404.1" r="0.6"/></g><g fill="#f8d9a6" opacity="1"><circle cx="343" cy="404.8" r="1.1"/></g><g fill="#f6d39c" opacity="0.5"><circle cx="354.4" cy="401.7" r="1.4"/></g><g fill="#f6d39c" opacity="0.75"><circle cx="351.3" cy="400.5" r="0.7"/><circle cx="351.8" cy="398.3" r="1"/></g><g fill="#f6d39c" opacity="1"><circle cx="339.6" cy="391.1" r="1.3"/><circle cx="341" cy="395.9" r="0.6"/></g><g fill="#f5c98a" opacity="0.75"><circle cx="338.1" cy="405.9" r="0.9"/></g><g fill="#f5c98a" opacity="1"><circle cx="335.5" cy="405.7" r="1.1"/></g><g fill="#f3bf80" opacity="0.75"><circle cx="360.2" cy="404.5" r="1.3"/><circle cx="351.8" cy="391.5" r="1.2"/><circle cx="330.8" cy="401.5" r="0.7"/><circle cx="338.1" cy="398.4" r="1.2"/><circle cx="355" cy="404.9" r="1.4"/><circle cx="353.4" cy="404.4" r="0.9"/></g><g fill="#efa67a" opacity="0.75"><circle cx="339" cy="403.4" r="1"/><circle cx="330.6" cy="401.9" r="1.4"/><circle cx="363.9" cy="398.1" r="1.1"/></g><g fill="#efa67a" opacity="1"><circle cx="336.1" cy="399.5" r="1.3"/><circle cx="347.6" cy="397.6" r="0.8"/></g></g><path d="M273.5,397.2C276.6,398.1 285.7,401.2 292.3,402.6C298.9,404 306,404.8 312.9,405.4C319.8,406 326.6,406 333.4,406C340.2,406 347.1,405.8 353.9,405.4C360.7,404.9 367.6,404.3 374.4,403.3C381.2,402.3 391.5,399.9 394.9,399.2" fill="none" stroke="#fbe3e9" stroke-width="1.6" opacity=".9"/><path d="M273.5,397.2C276.6,398.1 285.7,401.2 292.3,402.6C298.9,404 306,404.8 312.9,405.4C319.8,406 326.6,406 333.4,406C340.2,406 347.1,405.8 353.9,405.4C360.7,404.9 367.6,404.3 374.4,403.3C381.2,402.3 391.5,399.9 394.9,399.2" fill="none" stroke="#b08b93" stroke-width=".7" transform="translate(0,1.1)"/><path d="M273.5,397.2C274.8,395.2 278.3,389.1 281.4,385.5C284.5,381.9 288.2,378.2 292.3,375.3C296.4,372.4 301.4,369.7 306,367.8C310.6,365.9 315.1,364.6 319.7,363.7C324.3,362.8 328.8,362.6 333.4,362.6C337.9,362.6 342.4,363.1 347,363.7C351.6,364.3 356.1,365 360.7,366.4C365.3,367.8 370.3,369.6 374.4,371.9C378.5,374.2 382.3,377.1 385.3,380C388.3,382.9 390.6,386.4 392.2,389.6C393.8,392.8 394.4,397.6 394.9,399.2C393.5,400.6 390.1,404.7 386.7,407.4C383.3,410.1 378.7,413.3 374.4,415.6C370.1,417.9 365.7,419.9 360.7,421.1C355.7,422.4 350,422.9 344.3,423.1C338.6,423.3 332.4,423.3 326.5,422.5C320.6,421.7 314.1,420.1 308.8,418.4C303.6,416.7 299.3,414.5 295,412.2C290.7,409.9 286.4,407.2 282.8,404.7C279.2,402.2 275.1,398.4 273.5,397.2Z" fill="none" stroke="#b08b93" stroke-width=".8"/><path d="M647.2,405.8C647.8,404.2 648.9,399.6 650.9,396.3C652.9,393 655.8,388.8 659.3,385.9C662.8,382.9 667.6,380.4 671.8,378.6C676,376.9 680.1,375.8 684.3,375.4C688.5,375 692.9,375.4 696.9,376.5C700.9,377.6 705.3,379.6 708.4,381.7C711.5,383.8 714,386.7 715.7,389C717.4,391.3 718.3,393.9 718.8,395.3C719.3,396.7 718.8,397 718.8,397.4C718.6,398.4 719,400.9 717.8,403.7C716.6,406.5 714.3,411.2 711.5,414.1C708.7,417.1 704.8,419.6 701,421.4C697.2,423.1 692.5,424.2 688.5,424.6C684.5,425 681.2,424.9 677,424C672.8,423.1 667.4,421.3 663.4,419.3C659.4,417.3 655.7,414.2 653,412C650.3,409.8 648.2,406.8 647.2,405.8Z" fill="url(#s2side)"/><g clip-path="url(#s3)"><path d="M664.5,408.9C665.3,407.4 672.3,408.2 677,407.8C681.7,407.4 687.1,407.3 692.7,406.3C698.3,405.3 708,400.7 710.5,402C713,403.3 709.6,410.8 708,414C706.4,417.2 704.2,419.6 701,421.4C697.8,423.2 692,424.3 688.5,424.6C685,424.9 682.8,424.3 680,423C677.2,421.7 674.6,419.4 672,417C669.4,414.6 663.7,410.4 664.5,408.9Z" fill="#f9deb0" stroke="#f5d3a0" stroke-width="0.8" filter="url(#rough)"/><g clip-path="url(#ts3)"><g fill="#fef6e4" opacity="0.5"><circle cx="688.1" cy="422.3" r="0.7"/></g><g fill="#fef6e4" opacity="0.75"><circle cx="679.5" cy="414.2" r="0.6"/><circle cx="702.8" cy="416.7" r="0.8"/><circle cx="692.6" cy="413.8" r="1.3"/><circle cx="697.5" cy="421.4" r="1.3"/><circle cx="676.4" cy="415.6" r="1.4"/><circle cx="691.3" cy="422.2" r="1"/></g><g fill="#fef6e4" opacity="1"><circle cx="684.9" cy="423.8" r="1.1"/><circle cx="700.7" cy="413.9" r="0.8"/></g><g fill="#fdf1d8" opacity="0.5"><circle cx="706.1" cy="413.4" r="0.8"/><circle cx="698" cy="411" r="1.3"/><circle cx="694" cy="407.4" r="1"/><circle cx="689.4" cy="418.1" r="1.4"/><circle cx="695.1" cy="411.9" r="0.7"/><circle cx="690" cy="413.6" r="1.1"/></g><g fill="#fdf1d8" opacity="0.75"><circle cx="694" cy="415.4" r="0.7"/><circle cx="704.3" cy="403.9" r="1.6"/><circle cx="683.1" cy="413.8" r="1"/><circle cx="686.1" cy="414.2" r="0.7"/><circle cx="677.5" cy="416.2" r="1"/><circle cx="701.5" cy="406.5" r="0.6"/><circle cx="695.9" cy="422.1" r="0.9"/></g><g fill="#fdf1d8" opacity="1"><circle cx="702.5" cy="407.5" r="1.2"/><circle cx="698.5" cy="414.7" r="1.4"/><circle cx="689.8" cy="415.5" r="1"/><circle cx="691.2" cy="422.9" r="1"/><circle cx="686.8" cy="420.6" r="1.5"/><circle cx="687.7" cy="422.1" r="1.2"/><circle cx="689.7" cy="424" r="1.2"/><circle cx="691.3" cy="407.2" r="1"/><circle cx="681.2" cy="416.4" r="1.2"/><circle cx="700.7" cy="406.1" r="1"/></g><g fill="#fbe9c8" opacity="0.5"><circle cx="696.7" cy="417.7" r="1.3"/><circle cx="709.8" cy="404.3" r="0.7"/><circle cx="693.2" cy="416.4" r="0.6"/></g><g fill="#fbe9c8" opacity="0.75"><circle cx="695.9" cy="417.8" r="1.2"/><circle cx="696.3" cy="411.8" r="0.9"/><circle cx="688.5" cy="422.1" r="1.5"/><circle cx="701.7" cy="407.7" r="1.5"/><circle cx="682.5" cy="418.6" r="1.4"/><circle cx="705.9" cy="410.6" r="1.3"/><circle cx="699.5" cy="412.7" r="0.7"/><circle cx="703.7" cy="412" r="0.7"/><circle cx="691.6" cy="413.4" r="1"/></g><g fill="#fbe9c8" opacity="1"><circle cx="694.6" cy="409.1" r="1.6"/></g><g fill="#fbe6c0" opacity="0.75"><circle cx="692.5" cy="410.1" r="1.2"/><circle cx="677.5" cy="414.2" r="1.3"/><circle cx="696" cy="409.8" r="1.6"/></g><g fill="#f8d9a6" opacity="0.5"><circle cx="683.9" cy="414.3" r="1.2"/></g><g fill="#f8d9a6" opacity="0.75"><circle cx="697.9" cy="413.6" r="0.9"/><circle cx="704.5" cy="416.2" r="1.1"/><circle cx="699.8" cy="407.6" r="1"/></g><g fill="#f8d9a6" opacity="1"><circle cx="684.5" cy="416.3" r="1.4"/><circle cx="708.1" cy="408" r="0.8"/></g><g fill="#f6d39c" opacity="0.5"><circle cx="692" cy="406.9" r="0.8"/><circle cx="691.4" cy="411.7" r="0.8"/><circle cx="708.8" cy="408.5" r="0.9"/></g><g fill="#f6d39c" opacity="0.75"><circle cx="702.7" cy="406.5" r="1.5"/><circle cx="682.4" cy="412.2" r="1.1"/><circle cx="692.6" cy="416.7" r="1.3"/></g><g fill="#f6d39c" opacity="1"><circle cx="684.1" cy="409.1" r="0.9"/><circle cx="681.8" cy="416.3" r="1.2"/></g><g fill="#f5c98a" opacity="0.5"><circle cx="705.4" cy="408.1" r="1.5"/><circle cx="693.5" cy="420.9" r="1.4"/></g><g fill="#f5c98a" opacity="0.75"><circle cx="670.2" cy="414.7" r="0.8"/><circle cx="709.2" cy="407.9" r="0.6"/></g><g fill="#f5c98a" opacity="1"><circle cx="684.9" cy="410" r="1.2"/><circle cx="682" cy="421.7" r="1.1"/></g><g fill="#f3bf80" opacity="0.75"><circle cx="696" cy="405.6" r="1.5"/><circle cx="693.1" cy="420.6" r="1.4"/><circle cx="688.4" cy="422.4" r="1.4"/><circle cx="697.7" cy="419.6" r="1.1"/><circle cx="698.8" cy="411.5" r="0.7"/></g><g fill="#f3bf80" opacity="1"><circle cx="703" cy="407.6" r="1.5"/><circle cx="696.1" cy="416.3" r="1"/></g><g fill="#efa67a" opacity="0.5"><circle cx="669.9" cy="409.2" r="1.4"/><circle cx="682.3" cy="410.7" r="1.3"/></g><g fill="#efa67a" opacity="0.75"><circle cx="669.9" cy="409.3" r="0.9"/><circle cx="685" cy="419.4" r="1.4"/><circle cx="685.6" cy="412.5" r="1"/><circle cx="705" cy="416.2" r="1.4"/><circle cx="683.1" cy="413.7" r="0.9"/><circle cx="687.7" cy="412.1" r="1.4"/><circle cx="702.8" cy="410.8" r="0.8"/><circle cx="684.8" cy="418.8" r="0.7"/></g><g fill="#efa67a" opacity="1"><circle cx="708.7" cy="409.9" r="1.3"/><circle cx="707.9" cy="412.4" r="1.1"/><circle cx="703.2" cy="418.5" r="0.7"/><circle cx="675.4" cy="411.8" r="1.2"/><circle cx="692.5" cy="408.6" r="0.9"/></g></g><path d="M711,404C712,410 710,414 707,417" fill="none" stroke="#c98aa0" stroke-width="1.6" opacity=".8"/></g><path d="M647.2,405.8C647.8,404.2 648.9,399.6 650.9,396.3C652.9,393 655.8,388.8 659.3,385.9C662.8,382.9 667.6,380.4 671.8,378.6C676,376.9 680.1,375.8 684.3,375.4C688.5,375 692.9,375.4 696.9,376.5C700.9,377.6 705.3,379.6 708.4,381.7C711.5,383.8 714,386.7 715.7,389C717.4,391.3 718.3,393.9 718.8,395.3C719.3,396.7 718.8,397 718.8,397.4C717.1,398.1 712.8,400.1 708.4,401.6C704,403.1 697.9,405.3 692.7,406.3C687.5,407.3 682.2,407.6 677,407.8C671.8,408.1 666.3,408.1 661.3,407.8C656.3,407.5 649.6,406.1 647.2,405.8Z" fill="url(#s2top)"/><g clip-path="url(#s3t)"><g filter="url(#b05)"><g fill="#fbe8c6" opacity="1"><circle cx="690.2" cy="390.4" r="2"/><circle cx="696.4" cy="395.9" r="2.3"/><circle cx="667.8" cy="392.2" r="2.3"/><circle cx="680.7" cy="398.3" r="2.2"/><circle cx="690.1" cy="390.2" r="2.9"/><circle cx="672.2" cy="396.3" r="1.8"/><circle cx="680.5" cy="387.1" r="3.1"/><circle cx="694" cy="391.6" r="3"/><circle cx="687.7" cy="385.4" r="2.1"/><circle cx="674.3" cy="384.4" r="2.9"/><circle cx="697.8" cy="397.1" r="2.7"/><circle cx="683.1" cy="397.7" r="2.1"/><circle cx="677.2" cy="390.6" r="2"/><circle cx="671.1" cy="398.2" r="1.8"/><circle cx="673.4" cy="392" r="2.2"/><circle cx="681.1" cy="391.2" r="2.8"/><circle cx="700.4" cy="388.5" r="2.4"/><circle cx="673.4" cy="388.5" r="1.7"/><circle cx="678.8" cy="387.3" r="1.7"/><circle cx="687.4" cy="394" r="1.8"/><circle cx="689.5" cy="388.2" r="2.6"/><circle cx="690" cy="399.1" r="3.1"/><circle cx="687.3" cy="393.1" r="2.4"/><circle cx="690.3" cy="386.6" r="2.5"/><circle cx="684.1" cy="392.9" r="2.7"/><circle cx="689.9" cy="400.6" r="2.2"/><circle cx="674" cy="389.9" r="2.1"/><circle cx="694.1" cy="396.7" r="2.7"/><circle cx="696.2" cy="398.5" r="1.8"/><circle cx="678" cy="394.5" r="2.4"/><circle cx="681.7" cy="393.8" r="2.6"/><circle cx="690.4" cy="389.1" r="1.9"/><circle cx="697.3" cy="386.4" r="2.7"/><circle cx="693.4" cy="386.1" r="2.4"/><circle cx="696.5" cy="394.5" r="2.3"/><circle cx="693.4" cy="390.1" r="3"/><circle cx="679.5" cy="398" r="2.3"/><circle cx="675.3" cy="398.1" r="2.9"/><circle cx="674.9" cy="397.7" r="2.9"/><circle cx="684.2" cy="399.6" r="2.9"/><circle cx="675.2" cy="387.8" r="2.1"/><circle cx="675.2" cy="391.4" r="2.9"/></g><g fill="#fae3ba" opacity="1"><circle cx="684.1" cy="397.5" r="1.9"/><circle cx="678" cy="386.1" r="2.6"/><circle cx="687.4" cy="387.4" r="2.9"/><circle cx="670" cy="398.8" r="2.1"/><circle cx="696.5" cy="387.1" r="2.2"/><circle cx="684.3" cy="399.5" r="1.8"/><circle cx="685.6" cy="388.7" r="1.7"/><circle cx="690.5" cy="390.2" r="2.3"/><circle cx="670.2" cy="396.5" r="2.2"/><circle cx="671.8" cy="394.3" r="2.4"/><circle cx="687.7" cy="391.6" r="1.9"/><circle cx="697" cy="387.1" r="2.6"/><circle cx="694.6" cy="392.6" r="2.1"/><circle cx="679.9" cy="389.9" r="3"/><circle cx="685.7" cy="396.7" r="1.8"/><circle cx="676.4" cy="401.7" r="2.2"/><circle cx="676.9" cy="386.9" r="2.3"/><circle cx="680.1" cy="386.3" r="2.3"/><circle cx="672.6" cy="389.3" r="2.2"/><circle cx="686.2" cy="384.8" r="1.8"/><circle cx="696" cy="386.6" r="2.7"/><circle cx="699.9" cy="395.8" r="2.5"/><circle cx="692.5" cy="398" r="2.7"/><circle cx="686.5" cy="391.7" r="2.7"/><circle cx="686.5" cy="384.6" r="2"/><circle cx="694.6" cy="390.2" r="2.4"/><circle cx="686.1" cy="395.9" r="2.7"/><circle cx="688.3" cy="393.8" r="2"/><circle cx="681.4" cy="401.4" r="2.8"/><circle cx="673.7" cy="390.7" r="3"/><circle cx="686" cy="386.8" r="1.7"/><circle cx="690.4" cy="393.7" r="2.4"/><circle cx="682.5" cy="400" r="3"/><circle cx="689.1" cy="394.2" r="2.8"/><circle cx="680.1" cy="396.4" r="1.8"/><circle cx="689.4" cy="388.4" r="1.9"/><circle cx="688.9" cy="400.3" r="2"/><circle cx="674.4" cy="400.3" r="2"/></g><g fill="#f9deb0" opacity="1"><circle cx="691.5" cy="390" r="2.2"/><circle cx="685.4" cy="387.1" r="1.8"/><circle cx="673.5" cy="394.5" r="1.7"/><circle cx="680.6" cy="395.5" r="2.6"/><circle cx="673.9" cy="392.1" r="2.5"/><circle cx="679.8" cy="399.5" r="1.9"/><circle cx="669.9" cy="396" r="2.9"/><circle cx="674.7" cy="392.9" r="2.5"/><circle cx="692.2" cy="400.3" r="2.7"/><circle cx="686" cy="397.8" r="2.5"/><circle cx="691" cy="397.4" r="2.2"/><circle cx="691.9" cy="394.7" r="2.9"/><circle cx="694.1" cy="387.7" r="2.5"/><circle cx="689.9" cy="387.8" r="2.3"/><circle cx="675.1" cy="384.3" r="2.6"/><circle cx="695.6" cy="392.9" r="2.9"/><circle cx="692.7" cy="390.6" r="3"/><circle cx="689.1" cy="390.9" r="2.7"/><circle cx="689.7" cy="386.1" r="1.8"/><circle cx="697.7" cy="393" r="2.1"/><circle cx="675.7" cy="388.7" r="1.9"/><circle cx="678.5" cy="393.9" r="1.8"/><circle cx="687.4" cy="398.3" r="2.5"/><circle cx="688.7" cy="395.9" r="2.2"/><circle cx="678.7" cy="400.6" r="2.5"/><circle cx="695.4" cy="385.5" r="2.1"/><circle cx="693.2" cy="392.7" r="2"/><circle cx="673.2" cy="395.6" r="1.8"/><circle cx="695.6" cy="397.1" r="2.8"/><circle cx="697.3" cy="391.9" r="2.2"/><circle cx="684.4" cy="392.9" r="3"/><circle cx="671.8" cy="395" r="2.3"/><circle cx="694" cy="398.9" r="2.1"/><circle cx="672.8" cy="398" r="2.3"/><circle cx="675.3" cy="387" r="3"/><circle cx="691.4" cy="388.8" r="2"/><circle cx="690.5" cy="390.6" r="2.5"/><circle cx="695.3" cy="394.1" r="2.9"/><circle cx="697.1" cy="387.7" r="2.1"/><circle cx="668.4" cy="396.5" r="2.1"/><circle cx="675.5" cy="387.5" r="3.1"/></g><g fill="#f8d9a6" opacity="1"><circle cx="671" cy="386.2" r="2.7"/><circle cx="699.7" cy="388.8" r="2.7"/><circle cx="696.9" cy="391.8" r="2"/><circle cx="678.6" cy="385.8" r="2"/><circle cx="699.5" cy="388.7" r="2.9"/><circle cx="679.4" cy="387.9" r="3"/><circle cx="693.6" cy="391.6" r="2.2"/><circle cx="671.7" cy="389.4" r="2.5"/><circle cx="687.5" cy="392.5" r="1.7"/><circle cx="688.8" cy="394.9" r="2.8"/><circle cx="699.1" cy="391.4" r="2.2"/><circle cx="674.6" cy="389.7" r="2.2"/><circle cx="672.3" cy="396.4" r="2.4"/><circle cx="675.4" cy="401.2" r="1.9"/><circle cx="693.2" cy="391.1" r="2.2"/><circle cx="675.7" cy="397.4" r="2"/><circle cx="681.9" cy="394.8" r="3.1"/><circle cx="669.6" cy="389.2" r="2.3"/><circle cx="682.6" cy="392.7" r="2.2"/><circle cx="694.7" cy="388.4" r="1.7"/><circle cx="696.5" cy="393" r="1.8"/><circle cx="674.6" cy="384.6" r="2.2"/><circle cx="665.9" cy="390.5" r="1.9"/><circle cx="689.8" cy="392.9" r="2.8"/><circle cx="694.4" cy="391.7" r="2.4"/><circle cx="684.4" cy="386.6" r="2.8"/><circle cx="688.3" cy="390.3" r="2.4"/><circle cx="667.5" cy="389.7" r="1.8"/><circle cx="681.4" cy="400" r="1.8"/><circle cx="698.1" cy="390.5" r="2.9"/><circle cx="695.1" cy="386.9" r="2.2"/><circle cx="678.9" cy="399.1" r="2.9"/><circle cx="677.1" cy="401.9" r="2.6"/><circle cx="686.5" cy="391.6" r="2.8"/><circle cx="683.9" cy="387.9" r="2.8"/></g></g><g fill="#fef6e4" opacity="0.5"><circle cx="694.6" cy="399.5" r="0.7"/><circle cx="673.1" cy="386.8" r="0.8"/><circle cx="679.8" cy="395.4" r="1"/></g><g fill="#fef6e4" opacity="0.75"><circle cx="680.6" cy="394" r="1"/><circle cx="682.4" cy="399" r="1.4"/><circle cx="686.1" cy="384.5" r="0.9"/><circle cx="701.7" cy="391.1" r="1.3"/><circle cx="700.9" cy="390.3" r="0.6"/></g><g fill="#fef6e4" opacity="1"><circle cx="678.2" cy="387.2" r="1.2"/><circle cx="695.1" cy="386" r="0.8"/></g><g fill="#fdf1d8" opacity="0.5"><circle cx="673" cy="398.4" r="1.2"/><circle cx="676.4" cy="394.4" r="1"/><circle cx="666.1" cy="392.5" r="1.3"/></g><g fill="#fdf1d8" opacity="0.75"><circle cx="694" cy="390.5" r="1.3"/><circle cx="676" cy="389.4" r="0.7"/><circle cx="680.7" cy="392.9" r="0.6"/><circle cx="697.7" cy="389.3" r="1.2"/><circle cx="697.5" cy="393.6" r="1.3"/><circle cx="669.7" cy="395.1" r="1"/><circle cx="676.4" cy="398.9" r="1.1"/></g><g fill="#fdf1d8" opacity="1"><circle cx="682.5" cy="389.5" r="1"/><circle cx="686" cy="385" r="0.8"/><circle cx="683" cy="398.4" r="1.3"/></g><g fill="#fbe9c8" opacity="0.5"><circle cx="671.9" cy="394.4" r="1.2"/></g><g fill="#fbe9c8" opacity="0.75"><circle cx="699.8" cy="396" r="1.3"/><circle cx="672.8" cy="392.5" r="1.3"/><circle cx="683.9" cy="392.7" r="0.8"/></g><g fill="#fbe9c8" opacity="1"><circle cx="689.2" cy="399.9" r="1.1"/><circle cx="673.1" cy="390.4" r="1"/></g><g fill="#fbe6c0" opacity="0.75"><circle cx="685.2" cy="401.1" r="1.3"/><circle cx="694.2" cy="387.1" r="1.3"/><circle cx="671.8" cy="388.6" r="1.1"/><circle cx="688.1" cy="390.4" r="1"/></g><g fill="#fbe6c0" opacity="1"><circle cx="680.4" cy="401.4" r="0.7"/><circle cx="668.4" cy="389.2" r="0.6"/><circle cx="688.5" cy="388.5" r="1.3"/></g><g fill="#f8d9a6" opacity="0.75"><circle cx="676.7" cy="384.3" r="0.7"/><circle cx="695" cy="399.8" r="1.4"/><circle cx="685" cy="394.3" r="0.7"/><circle cx="679.5" cy="398.5" r="0.7"/><circle cx="691.9" cy="391.1" r="0.9"/><circle cx="687.1" cy="393.4" r="1.2"/></g><g fill="#f8d9a6" opacity="1"><circle cx="674.5" cy="386.4" r="1.2"/><circle cx="671.5" cy="387.4" r="0.8"/></g><g fill="#f6d39c" opacity="0.5"><circle cx="673.6" cy="384.6" r="1.2"/></g><g fill="#f6d39c" opacity="0.75"><circle cx="694.7" cy="399.7" r="1.2"/><circle cx="680.2" cy="397.3" r="1.2"/><circle cx="685" cy="385.4" r="1.2"/><circle cx="674.4" cy="393.4" r="1.3"/><circle cx="681.9" cy="390" r="1.1"/></g><g fill="#f6d39c" opacity="1"><circle cx="685.8" cy="389.4" r="1"/></g><g fill="#f5c98a" opacity="0.75"><circle cx="667.5" cy="390.2" r="0.6"/><circle cx="691.2" cy="389.7" r="0.9"/></g><g fill="#f5c98a" opacity="1"><circle cx="695.3" cy="391.6" r="1.2"/></g><g fill="#f3bf80" opacity="0.75"><circle cx="676.4" cy="396.6" r="0.7"/></g><g fill="#efa67a" opacity="0.75"><circle cx="668.4" cy="390.9" r="0.9"/></g><g fill="#efa67a" opacity="1"><circle cx="679" cy="392.2" r="0.7"/></g></g><path d="M647.2,405.8C649.6,406.1 656.3,407.5 661.3,407.8C666.3,408.1 671.8,408.1 677,407.8C682.2,407.6 687.5,407.3 692.7,406.3C697.9,405.3 704,403.1 708.4,401.6C712.8,400.1 717.1,398.1 718.8,397.4" fill="none" stroke="#fbe3e9" stroke-width="1.4" opacity=".9"/><path d="M647.2,405.8C649.6,406.1 656.3,407.5 661.3,407.8C666.3,408.1 671.8,408.1 677,407.8C682.2,407.6 687.5,407.3 692.7,406.3C697.9,405.3 704,403.1 708.4,401.6C712.8,400.1 717.1,398.1 718.8,397.4" fill="none" stroke="#b08b93" stroke-width=".7" transform="translate(0,1)"/><path d="M647.2,405.8C647.8,404.2 648.9,399.6 650.9,396.3C652.9,393 655.8,388.8 659.3,385.9C662.8,382.9 667.6,380.4 671.8,378.6C676,376.9 680.1,375.8 684.3,375.4C688.5,375 692.9,375.4 696.9,376.5C700.9,377.6 705.3,379.6 708.4,381.7C711.5,383.8 714,386.7 715.7,389C717.4,391.3 718.3,393.9 718.8,395.3C719.3,396.7 718.8,397 718.8,397.4C718.6,398.4 719,400.9 717.8,403.7C716.6,406.5 714.3,411.2 711.5,414.1C708.7,417.1 704.8,419.6 701,421.4C697.2,423.1 692.5,424.2 688.5,424.6C684.5,425 681.2,424.9 677,424C672.8,423.1 667.4,421.3 663.4,419.3C659.4,417.3 655.7,414.2 653,412C650.3,409.8 648.2,406.8 647.2,405.8Z" fill="none" stroke="#b08b93" stroke-width=".8"/><path d="M965.3,406.6C966,405.6 967.7,402.3 969.4,400.7C971.1,399.1 973.2,397.8 975.4,396.9C977.6,396 980.3,395.2 982.8,395.1C985.3,395 988.3,395.5 990.3,396.2C992.3,396.9 994,398.7 994.8,399.2C994.8,400.1 995.2,402.3 994.8,404.4C994.4,406.5 993.8,409.4 992.5,411.9C991.2,414.4 989.4,417.2 987.3,419.3C985.2,421.4 981.9,423.4 979.9,424.2C977.9,424.9 977,424.9 975.4,423.8C973.8,422.7 971.5,419.9 970.1,417.8C968.7,415.7 967.6,413 966.8,411.1C966,409.2 965.5,407.4 965.3,406.6Z" fill="#f8d8d0"/><g clip-path="url(#s4)"><ellipse cx="980" cy="401" rx="8" ry="3.5" fill="#f5bd96" opacity=".9" filter="url(#b1)"/><ellipse cx="979" cy="412" rx="5" ry="6" fill="#f6c69f" opacity=".8" filter="url(#b1)"/><ellipse cx="990" cy="410" rx="4" ry="8" fill="#fbe9e6" opacity=".8" filter="url(#b1)"/></g><path d="M965.3,406.6C966.5,406.6 969.7,406.7 972.4,406.3C975.1,405.9 978.6,405.1 981.3,404.4C984,403.6 986.5,402.7 988.8,401.8C991,400.9 993.8,399.6 994.8,399.2" fill="none" stroke="#b08b93" stroke-width=".8"/><path d="M965.3,406.6C966,405.6 967.7,402.3 969.4,400.7C971.1,399.1 973.2,397.8 975.4,396.9C977.6,396 980.3,395.2 982.8,395.1C985.3,395 988.3,395.5 990.3,396.2C992.3,396.9 994,398.7 994.8,399.2C994.8,400.1 995.2,402.3 994.8,404.4C994.4,406.5 993.8,409.4 992.5,411.9C991.2,414.4 989.4,417.2 987.3,419.3C985.2,421.4 981.9,423.4 979.9,424.2C977.9,424.9 977,424.9 975.4,423.8C973.8,422.7 971.5,419.9 970.1,417.8C968.7,415.7 967.6,413 966.8,411.1C966,409.2 965.5,407.4 965.3,406.6Z" fill="none" stroke="#b08b93" stroke-width=".8"/>

<g id="labels" stroke="#151515" stroke-width=".45">
<text transform="translate(338.5,137.8) scale(1.12,1)">Visible lesion</text>
<text transform="translate(173.5,214.9) scale(1.10,1)">Epidermis</text>
<text transform="translate(202.2,247.9) scale(1.10,1)">Dermis</text>
<text transform="translate(594,311.6) scale(1.12,1)">1.</text>
<text transform="translate(590.3,338.2) scale(1.12,1)">First thin layer removed</text>
<text transform="translate(156,554.4) scale(1.12,1)">2.</text>
<text transform="translate(174.8,582) scale(1.12,1)">Another thin layer</text>
<text transform="translate(174.3,604.1) scale(1.12,1)">removed</text>
<text transform="translate(459,554.4) scale(1.12,1)">3.</text>
<text transform="translate(480.8,582) scale(1.12,1)">Another thin layer</text>
<text transform="translate(480.3,604.1) scale(1.12,1)">removed</text>
<text transform="translate(763,554.4) scale(1.12,1)">4.</text>
<text transform="translate(770.8,582) scale(1.12,1)">Final layer of cancer</text>
<text transform="translate(770.3,604.1) scale(1.12,1)">removed</text>
</g>
<g fill="none" stroke="#2a2a2a" stroke-width="1.3">
<path d="M411.8,142.2V174.6"/>
<path d="M274.3,207.9H284.8M291.8,196.2H284.8V219H291.8"/>
<path d="M274.3,242.7H284.8M291.8,221.9H284.8V266.5H291.8"/>
</g>

</svg>
</body></html>
